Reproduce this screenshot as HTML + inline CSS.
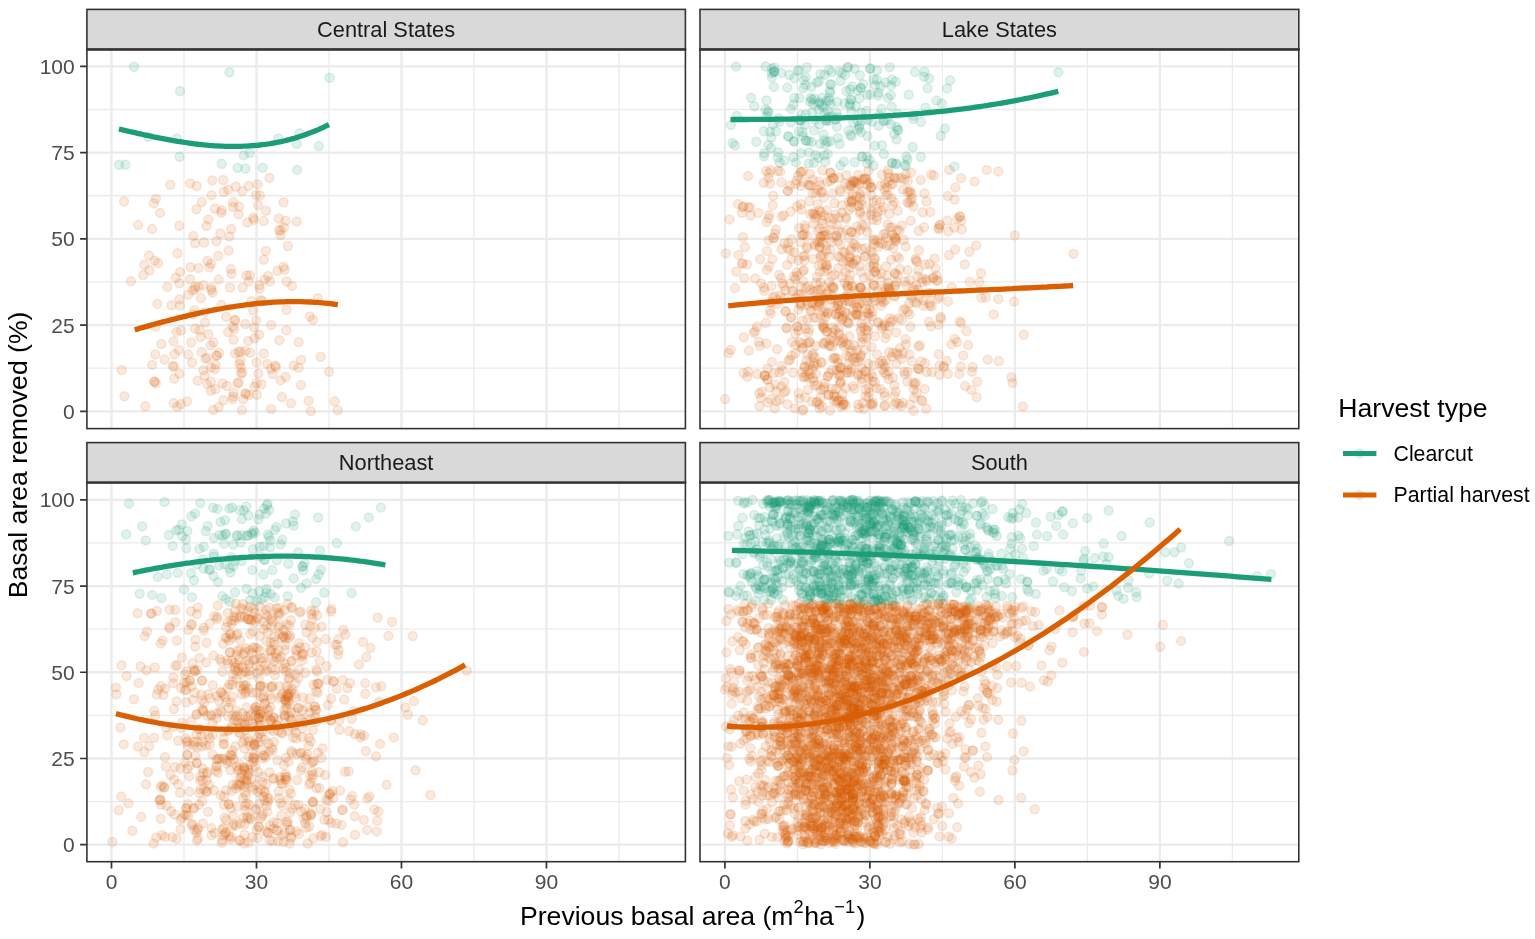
<!DOCTYPE html><html><head><meta charset="utf-8"><title>Basal area removed by previous basal area</title><style>
html,body{margin:0;padding:0;background:#fff;overflow:hidden}svg{display:block}
text{font-family:"Liberation Sans", Arial, Helvetica, sans-serif}
.pg circle{fill:#1B9E77;stroke:#1B9E77;fill-opacity:.13;stroke-opacity:.13;stroke-width:1.5px}
.po circle{fill:#D95F02;stroke:#D95F02;fill-opacity:.13;stroke-opacity:.13;stroke-width:1.5px}
</style></head><body>
<svg width="1535" height="939" viewBox="0 0 1535 939">
<rect width="1535" height="939" fill="#fff"/>
<defs>
<clipPath id="cp00"><rect x="86.9" y="49.3" width="598.5" height="379.3"/></clipPath>
<clipPath id="cp01"><rect x="700.0" y="49.3" width="598.8" height="379.3"/></clipPath>
<clipPath id="cp10"><rect x="86.9" y="482.4" width="598.5" height="379.3"/></clipPath>
<clipPath id="cp11"><rect x="700.0" y="482.4" width="598.8" height="379.3"/></clipPath>
</defs>
<path d="M86.9 368.19H685.4M86.9 281.96H685.4M86.9 195.74H685.4M86.9 109.51H685.4M184.00 49.3V428.6M328.99 49.3V428.6M473.98 49.3V428.6M618.97 49.3V428.6" stroke="#EBEBEB" stroke-width="1.3" fill="none"/>
<path d="M86.9 411.30H685.4M86.9 325.08H685.4M86.9 238.85H685.4M86.9 152.62H685.4M86.9 66.40H685.4M111.50 49.3V428.6M256.49 49.3V428.6M401.48 49.3V428.6M546.47 49.3V428.6" stroke="#EBEBEB" stroke-width="2.3" fill="none"/>
<g clip-path="url(#cp00)">
<g class="po">
<circle cx="193.1" cy="314.6" r="4.5"/><circle cx="180.9" cy="404.1" r="4.5"/><circle cx="256.4" cy="383.2" r="4.5"/><circle cx="231" cy="269.1" r="4.5"/><circle cx="254.3" cy="386.8" r="4.5"/><circle cx="192.1" cy="362.6" r="4.5"/><circle cx="271.1" cy="409" r="4.5"/><circle cx="242.3" cy="191.3" r="4.5"/><circle cx="250" cy="352.7" r="4.5"/><circle cx="264.6" cy="279.8" r="4.5"/><circle cx="155.9" cy="383.3" r="4.5"/><circle cx="232.6" cy="399" r="4.5"/><circle cx="200.5" cy="337" r="4.5"/><circle cx="259.9" cy="195.5" r="4.5"/><circle cx="247.5" cy="222.5" r="4.5"/><circle cx="155.9" cy="198.8" r="4.5"/><circle cx="228.2" cy="189.7" r="4.5"/><circle cx="291" cy="403.2" r="4.5"/><circle cx="239.5" cy="363.9" r="4.5"/><circle cx="205.5" cy="358.8" r="4.5"/><circle cx="144.3" cy="264.8" r="4.5"/><circle cx="228.6" cy="250.6" r="4.5"/><circle cx="229.4" cy="236.6" r="4.5"/><circle cx="238.7" cy="382.8" r="4.5"/><circle cx="223.2" cy="180" r="4.5"/><circle cx="279" cy="230" r="4.5"/><circle cx="180.1" cy="271.9" r="4.5"/><circle cx="233.2" cy="202.1" r="4.5"/><circle cx="208.4" cy="219.6" r="4.5"/><circle cx="240.9" cy="367.7" r="4.5"/><circle cx="233.3" cy="396.5" r="4.5"/><circle cx="277.5" cy="270.8" r="4.5"/><circle cx="231.2" cy="229" r="4.5"/><circle cx="258.1" cy="205.1" r="4.5"/><circle cx="245.2" cy="351" r="4.5"/><circle cx="204.7" cy="312" r="4.5"/><circle cx="179.5" cy="299.5" r="4.5"/><circle cx="212.3" cy="180.2" r="4.5"/><circle cx="204" cy="242.5" r="4.5"/><circle cx="192.5" cy="290.4" r="4.5"/><circle cx="205" cy="322.6" r="4.5"/><circle cx="216.7" cy="355.6" r="4.5"/><circle cx="206.5" cy="226.1" r="4.5"/><circle cx="246.1" cy="393.9" r="4.5"/><circle cx="218.7" cy="279.6" r="4.5"/><circle cx="218.2" cy="255.9" r="4.5"/><circle cx="263.7" cy="353.5" r="4.5"/><circle cx="154.6" cy="260.6" r="4.5"/><circle cx="211" cy="263.7" r="4.5"/><circle cx="248.3" cy="340.9" r="4.5"/><circle cx="220.3" cy="233.5" r="4.5"/><circle cx="284" cy="227.6" r="4.5"/><circle cx="269.5" cy="177.9" r="4.5"/><circle cx="261.4" cy="300" r="4.5"/><circle cx="269.9" cy="281.4" r="4.5"/><circle cx="158" cy="263" r="4.5"/><circle cx="284.7" cy="269.5" r="4.5"/><circle cx="188.2" cy="354.6" r="4.5"/><circle cx="201.7" cy="351.9" r="4.5"/><circle cx="268.1" cy="276" r="4.5"/><circle cx="275.2" cy="365.5" r="4.5"/><circle cx="241.9" cy="410.1" r="4.5"/><circle cx="211" cy="367.6" r="4.5"/><circle cx="218.7" cy="407" r="4.5"/><circle cx="320.6" cy="356.8" r="4.5"/><circle cx="179.4" cy="283.2" r="4.5"/><circle cx="153.8" cy="203.4" r="4.5"/><circle cx="280.6" cy="380.4" r="4.5"/><circle cx="161.4" cy="344" r="4.5"/><circle cx="238.5" cy="214.4" r="4.5"/><circle cx="237.4" cy="383.1" r="4.5"/><circle cx="308.5" cy="400.7" r="4.5"/><circle cx="213.2" cy="410.1" r="4.5"/><circle cx="226.2" cy="316.8" r="4.5"/><circle cx="207.2" cy="357.7" r="4.5"/><circle cx="181" cy="330.5" r="4.5"/><circle cx="207" cy="384.1" r="4.5"/><circle cx="223.8" cy="191.7" r="4.5"/><circle cx="176.4" cy="331.9" r="4.5"/><circle cx="278.8" cy="218.5" r="4.5"/><circle cx="152.2" cy="229" r="4.5"/><circle cx="195" cy="328.6" r="4.5"/><circle cx="258.4" cy="373.5" r="4.5"/><circle cx="230" cy="287.5" r="4.5"/><circle cx="209.3" cy="267.3" r="4.5"/><circle cx="121.8" cy="370" r="4.5"/><circle cx="235.1" cy="353.4" r="4.5"/><circle cx="235.8" cy="186.8" r="4.5"/><circle cx="254.2" cy="327.6" r="4.5"/><circle cx="280.8" cy="230.3" r="4.5"/><circle cx="256.6" cy="362.5" r="4.5"/><circle cx="270.8" cy="368.8" r="4.5"/><circle cx="313" cy="319.7" r="4.5"/><circle cx="210.8" cy="381.8" r="4.5"/><circle cx="286.4" cy="330.4" r="4.5"/><circle cx="239.1" cy="206.5" r="4.5"/><circle cx="210.6" cy="345.2" r="4.5"/><circle cx="189.9" cy="279.2" r="4.5"/><circle cx="195.1" cy="243.3" r="4.5"/><circle cx="281.9" cy="397" r="4.5"/><circle cx="309.8" cy="316.4" r="4.5"/><circle cx="283.5" cy="202.2" r="4.5"/><circle cx="310.8" cy="411.1" r="4.5"/><circle cx="177.5" cy="253.3" r="4.5"/><circle cx="215.3" cy="389" r="4.5"/><circle cx="255.9" cy="195" r="4.5"/><circle cx="231.5" cy="273.7" r="4.5"/><circle cx="243.2" cy="399.2" r="4.5"/><circle cx="179.5" cy="373.7" r="4.5"/><circle cx="296.7" cy="221.6" r="4.5"/><circle cx="154.4" cy="381.6" r="4.5"/><circle cx="246.7" cy="275.5" r="4.5"/><circle cx="187.2" cy="401.4" r="4.5"/><circle cx="194.4" cy="310.2" r="4.5"/><circle cx="173.6" cy="403.1" r="4.5"/><circle cx="263.7" cy="221.1" r="4.5"/><circle cx="198.5" cy="268" r="4.5"/><circle cx="261.4" cy="301.2" r="4.5"/><circle cx="226.7" cy="386" r="4.5"/><circle cx="197.6" cy="380.7" r="4.5"/><circle cx="241" cy="373.2" r="4.5"/><circle cx="317.7" cy="298.3" r="4.5"/><circle cx="174.1" cy="378.7" r="4.5"/><circle cx="256.2" cy="320.5" r="4.5"/><circle cx="233" cy="206.8" r="4.5"/><circle cx="213.5" cy="342.6" r="4.5"/><circle cx="216.5" cy="241.3" r="4.5"/><circle cx="172.7" cy="366.2" r="4.5"/><circle cx="286.6" cy="281.5" r="4.5"/><circle cx="190.5" cy="267.2" r="4.5"/><circle cx="257.6" cy="184.4" r="4.5"/><circle cx="152.2" cy="364.9" r="4.5"/><circle cx="160.2" cy="212.9" r="4.5"/><circle cx="248.9" cy="395" r="4.5"/><circle cx="155.8" cy="326.6" r="4.5"/><circle cx="170.4" cy="184.8" r="4.5"/><circle cx="253.8" cy="219.9" r="4.5"/><circle cx="215.5" cy="364.6" r="4.5"/><circle cx="198.2" cy="286.8" r="4.5"/><circle cx="240.3" cy="360.6" r="4.5"/><circle cx="207.4" cy="260.8" r="4.5"/><circle cx="145.3" cy="406.3" r="4.5"/><circle cx="188.2" cy="294.8" r="4.5"/><circle cx="210.9" cy="390.7" r="4.5"/><circle cx="253.2" cy="310.3" r="4.5"/><circle cx="190.2" cy="183.4" r="4.5"/><circle cx="178.9" cy="349.9" r="4.5"/><circle cx="254.6" cy="338.3" r="4.5"/><circle cx="266.1" cy="210.7" r="4.5"/><circle cx="171.5" cy="305.3" r="4.5"/><circle cx="223.5" cy="400.3" r="4.5"/><circle cx="204.7" cy="375.6" r="4.5"/><circle cx="194.9" cy="286.6" r="4.5"/><circle cx="261.5" cy="384.2" r="4.5"/><circle cx="293.6" cy="365.5" r="4.5"/><circle cx="300.9" cy="385.1" r="4.5"/><circle cx="242.7" cy="287.5" r="4.5"/><circle cx="298.6" cy="342.1" r="4.5"/><circle cx="201.8" cy="202.1" r="4.5"/><circle cx="191.3" cy="342.5" r="4.5"/><circle cx="177.3" cy="406.8" r="4.5"/><circle cx="248.8" cy="281.2" r="4.5"/><circle cx="179.3" cy="225.7" r="4.5"/><circle cx="124.4" cy="396.2" r="4.5"/><circle cx="154.4" cy="381.6" r="4.5"/><circle cx="292" cy="285.9" r="4.5"/><circle cx="214.9" cy="369.1" r="4.5"/><circle cx="155.3" cy="354.4" r="4.5"/><circle cx="272.6" cy="374" r="4.5"/><circle cx="285.6" cy="220.8" r="4.5"/><circle cx="221.4" cy="305.1" r="4.5"/><circle cx="180" cy="305.6" r="4.5"/><circle cx="173.4" cy="341.3" r="4.5"/><circle cx="222.5" cy="383.3" r="4.5"/><circle cx="248.6" cy="185.9" r="4.5"/><circle cx="143.2" cy="275.1" r="4.5"/><circle cx="228.1" cy="332.1" r="4.5"/><circle cx="174" cy="366.2" r="4.5"/><circle cx="212.6" cy="292.5" r="4.5"/><circle cx="256.9" cy="394.8" r="4.5"/><circle cx="130.9" cy="281.3" r="4.5"/><circle cx="238.8" cy="351.7" r="4.5"/><circle cx="253.2" cy="217.8" r="4.5"/><circle cx="234.2" cy="329.3" r="4.5"/><circle cx="263.7" cy="259.8" r="4.5"/><circle cx="267.1" cy="363.9" r="4.5"/><circle cx="149.5" cy="270.3" r="4.5"/><circle cx="167.3" cy="286.7" r="4.5"/><circle cx="242.3" cy="372.7" r="4.5"/><circle cx="203.5" cy="285.3" r="4.5"/><circle cx="245.4" cy="324.1" r="4.5"/><circle cx="235" cy="320.1" r="4.5"/><circle cx="157.4" cy="303.9" r="4.5"/><circle cx="208.4" cy="334.2" r="4.5"/><circle cx="275.8" cy="367.1" r="4.5"/><circle cx="211.3" cy="290" r="4.5"/><circle cx="194.8" cy="289.2" r="4.5"/><circle cx="301.1" cy="359.7" r="4.5"/><circle cx="211.6" cy="195.2" r="4.5"/><circle cx="329" cy="371.7" r="4.5"/><circle cx="219.2" cy="352.8" r="4.5"/><circle cx="138.1" cy="225.1" r="4.5"/><circle cx="285.8" cy="376.9" r="4.5"/><circle cx="265.9" cy="251" r="4.5"/><circle cx="287.8" cy="246" r="4.5"/><circle cx="286.5" cy="309.7" r="4.5"/><circle cx="259.8" cy="288.7" r="4.5"/><circle cx="193.3" cy="235.9" r="4.5"/><circle cx="214.8" cy="208.7" r="4.5"/><circle cx="196.7" cy="186" r="4.5"/><circle cx="232.9" cy="326.6" r="4.5"/><circle cx="298.7" cy="367.7" r="4.5"/><circle cx="283.4" cy="266.8" r="4.5"/><circle cx="175.8" cy="277.8" r="4.5"/><circle cx="211.3" cy="287.5" r="4.5"/><circle cx="196.4" cy="209.3" r="4.5"/><circle cx="203.5" cy="370.2" r="4.5"/><circle cx="245.3" cy="393.3" r="4.5"/><circle cx="221.7" cy="210.2" r="4.5"/><circle cx="216.7" cy="355.6" r="4.5"/><circle cx="251.5" cy="301.2" r="4.5"/><circle cx="259.2" cy="334.8" r="4.5"/><circle cx="199.8" cy="330.1" r="4.5"/><circle cx="259.1" cy="285" r="4.5"/><circle cx="240.4" cy="351.8" r="4.5"/><circle cx="149.1" cy="255.6" r="4.5"/><circle cx="233.6" cy="339.7" r="4.5"/><circle cx="249.9" cy="275.2" r="4.5"/><circle cx="164.6" cy="359.6" r="4.5"/><circle cx="279.3" cy="340.3" r="4.5"/><circle cx="235" cy="320.1" r="4.5"/><circle cx="221.2" cy="212.7" r="4.5"/><circle cx="271.2" cy="325" r="4.5"/><circle cx="124.1" cy="201.5" r="4.5"/><circle cx="200.9" cy="298.1" r="4.5"/><circle cx="280.4" cy="235.1" r="4.5"/><circle cx="233.5" cy="392.9" r="4.5"/><circle cx="174.6" cy="354.3" r="4.5"/><circle cx="334.8" cy="401.3" r="4.5"/><circle cx="337.7" cy="410.3" r="4.5"/>
</g>
<g class="pg">
<circle cx="134" cy="66.7" r="4.5"/><circle cx="229.4" cy="72.3" r="4.5"/><circle cx="329.5" cy="77.8" r="4.5"/><circle cx="180.1" cy="91.2" r="4.5"/><circle cx="119" cy="164.7" r="4.5"/><circle cx="125.5" cy="164.7" r="4.5"/><circle cx="148.2" cy="137.1" r="4.5"/><circle cx="176.7" cy="138.5" r="4.5"/><circle cx="179.6" cy="156.8" r="4.5"/><circle cx="221.7" cy="163.7" r="4.5"/><circle cx="237.6" cy="167.8" r="4.5"/><circle cx="245.4" cy="168.5" r="4.5"/><circle cx="243.9" cy="155.4" r="4.5"/><circle cx="249.7" cy="153" r="4.5"/><circle cx="262.8" cy="167.8" r="4.5"/><circle cx="278.2" cy="138.5" r="4.5"/><circle cx="296.6" cy="143.7" r="4.5"/><circle cx="299.5" cy="133.3" r="4.5"/><circle cx="318.8" cy="146.1" r="4.5"/><circle cx="297.1" cy="169.9" r="4.5"/>
</g>
</g>
<path d="M118.9 129.0 L121.6 129.6 L124.2 130.2 L126.9 130.9 L129.5 131.5 L132.2 132.1 L134.9 132.7 L137.5 133.3 L140.2 133.9 L142.8 134.5 L145.5 135.1 L148.2 135.7 L150.8 136.2 L153.5 136.8 L156.1 137.3 L158.8 137.9 L161.5 138.4 L164.1 138.9 L166.8 139.4 L169.4 139.9 L172.1 140.4 L174.7 140.8 L177.4 141.3 L180.1 141.7 L182.7 142.1 L185.4 142.5 L188.0 142.9 L190.7 143.3 L193.4 143.7 L196.0 144.0 L198.7 144.3 L201.3 144.6 L204.0 144.9 L206.7 145.1 L209.3 145.4 L212.0 145.6 L214.6 145.8 L217.3 145.9 L220.0 146.1 L222.6 146.2 L225.3 146.3 L227.9 146.4 L230.6 146.4 L233.3 146.4 L235.9 146.4 L238.6 146.4 L241.2 146.3 L243.9 146.2 L246.6 146.1 L249.2 145.9 L251.9 145.7 L254.5 145.5 L257.2 145.3 L259.9 145.0 L262.5 144.7 L265.2 144.4 L267.8 144.0 L270.5 143.6 L273.2 143.1 L275.8 142.6 L278.5 142.1 L281.1 141.6 L283.8 141.0 L286.4 140.3 L289.1 139.7 L291.8 138.9 L294.4 138.2 L297.1 137.4 L299.7 136.6 L302.4 135.7 L305.1 134.8 L307.7 133.8 L310.4 132.8 L313.0 131.8 L315.7 130.7 L318.4 129.6 L321.0 128.4 L323.7 127.2 L326.3 125.9 L329.0 124.6" stroke="#1B9E77" stroke-width="5.3" fill="none"/>
<path d="M134.7 329.8 L137.3 329.1 L139.8 328.3 L142.4 327.6 L145.0 326.9 L147.6 326.1 L150.1 325.4 L152.7 324.7 L155.3 324.0 L157.8 323.3 L160.4 322.6 L163.0 321.9 L165.6 321.2 L168.1 320.6 L170.7 319.9 L173.3 319.2 L175.9 318.6 L178.4 317.9 L181.0 317.3 L183.6 316.7 L186.1 316.1 L188.7 315.4 L191.3 314.8 L193.9 314.3 L196.4 313.7 L199.0 313.1 L201.6 312.5 L204.1 312.0 L206.7 311.5 L209.3 310.9 L211.9 310.4 L214.4 309.9 L217.0 309.4 L219.6 309.0 L222.2 308.5 L224.7 308.0 L227.3 307.6 L229.9 307.2 L232.4 306.8 L235.0 306.4 L237.6 306.0 L240.2 305.6 L242.7 305.3 L245.3 304.9 L247.9 304.6 L250.4 304.3 L253.0 304.0 L255.6 303.7 L258.2 303.4 L260.7 303.2 L263.3 303.0 L265.9 302.8 L268.5 302.6 L271.0 302.4 L273.6 302.2 L276.2 302.1 L278.7 301.9 L281.3 301.8 L283.9 301.8 L286.5 301.7 L289.0 301.6 L291.6 301.6 L294.2 301.6 L296.7 301.6 L299.3 301.6 L301.9 301.7 L304.5 301.8 L307.0 301.9 L309.6 302.0 L312.2 302.1 L314.8 302.3 L317.3 302.4 L319.9 302.6 L322.5 302.9 L325.0 303.1 L327.6 303.4 L330.2 303.7 L332.8 304.0 L335.3 304.3 L337.9 304.7" stroke="#D95F02" stroke-width="5.3" fill="none"/>
<rect x="86.9" y="49.3" width="598.5" height="379.3" fill="none" stroke="#333" stroke-width="1.6"/>
<rect x="86.9" y="9.4" width="598.5" height="39.9" fill="#D9D9D9" stroke="#333" stroke-width="1.6"/>
<path d="M86.1 49.5H686.2" stroke="#333" stroke-width="2.4"/>
<text x="386.1" y="36.9" font-size="21.8" fill="#1A1A1A" text-anchor="middle">Central States</text>
<path d="M700.0 368.19H1298.8M700.0 281.96H1298.8M700.0 195.74H1298.8M700.0 109.51H1298.8M797.39 49.3V428.6M942.38 49.3V428.6M1087.38 49.3V428.6M1232.37 49.3V428.6" stroke="#EBEBEB" stroke-width="1.3" fill="none"/>
<path d="M700.0 411.30H1298.8M700.0 325.08H1298.8M700.0 238.85H1298.8M700.0 152.62H1298.8M700.0 66.40H1298.8M724.90 49.3V428.6M869.89 49.3V428.6M1014.88 49.3V428.6M1159.87 49.3V428.6" stroke="#EBEBEB" stroke-width="2.3" fill="none"/>
<g clip-path="url(#cp01)">
<g class="po">
<circle cx="823.2" cy="343.1" r="4.5"/><circle cx="876.6" cy="200.5" r="4.5"/><circle cx="926.4" cy="279.2" r="4.5"/><circle cx="882.7" cy="243.9" r="4.5"/><circle cx="820.7" cy="236.7" r="4.5"/><circle cx="771.6" cy="285.8" r="4.5"/><circle cx="830.5" cy="172.7" r="4.5"/><circle cx="872.8" cy="405.6" r="4.5"/><circle cx="868.2" cy="377.9" r="4.5"/><circle cx="881" cy="185.4" r="4.5"/><circle cx="924.3" cy="193.3" r="4.5"/><circle cx="815.9" cy="305.2" r="4.5"/><circle cx="859.9" cy="287.7" r="4.5"/><circle cx="865.5" cy="248" r="4.5"/><circle cx="884.4" cy="323.9" r="4.5"/><circle cx="965.1" cy="386.1" r="4.5"/><circle cx="852" cy="285.5" r="4.5"/><circle cx="817.4" cy="401.8" r="4.5"/><circle cx="914.4" cy="302.3" r="4.5"/><circle cx="864.6" cy="256.9" r="4.5"/><circle cx="845.3" cy="183.6" r="4.5"/><circle cx="820.6" cy="256.7" r="4.5"/><circle cx="922.7" cy="212.3" r="4.5"/><circle cx="883.2" cy="363.7" r="4.5"/><circle cx="839.2" cy="334.9" r="4.5"/><circle cx="907.3" cy="202.3" r="4.5"/><circle cx="805.4" cy="329" r="4.5"/><circle cx="804" cy="270.1" r="4.5"/><circle cx="821.1" cy="254.9" r="4.5"/><circle cx="897.2" cy="230" r="4.5"/><circle cx="853.1" cy="358.9" r="4.5"/><circle cx="947.9" cy="196.1" r="4.5"/><circle cx="831" cy="299.6" r="4.5"/><circle cx="738" cy="203.9" r="4.5"/><circle cx="840.1" cy="257.4" r="4.5"/><circle cx="840.1" cy="367.2" r="4.5"/><circle cx="885.9" cy="195.1" r="4.5"/><circle cx="829.1" cy="345.5" r="4.5"/><circle cx="954.3" cy="227.7" r="4.5"/><circle cx="859" cy="358.3" r="4.5"/><circle cx="767.3" cy="379.6" r="4.5"/><circle cx="852.2" cy="263.2" r="4.5"/><circle cx="729.6" cy="219.4" r="4.5"/><circle cx="910.9" cy="201" r="4.5"/><circle cx="848.4" cy="323.2" r="4.5"/><circle cx="795.1" cy="408.2" r="4.5"/><circle cx="911.8" cy="361.3" r="4.5"/><circle cx="832.7" cy="286.8" r="4.5"/><circle cx="852.2" cy="287.1" r="4.5"/><circle cx="855.7" cy="357.4" r="4.5"/><circle cx="895.7" cy="239.7" r="4.5"/><circle cx="838.9" cy="333.5" r="4.5"/><circle cx="909.3" cy="354.2" r="4.5"/><circle cx="791.1" cy="317.4" r="4.5"/><circle cx="892.9" cy="319.7" r="4.5"/><circle cx="943.8" cy="366.6" r="4.5"/><circle cx="840.4" cy="367.8" r="4.5"/><circle cx="823.3" cy="297.1" r="4.5"/><circle cx="938.9" cy="354.3" r="4.5"/><circle cx="844.7" cy="252.7" r="4.5"/><circle cx="822.5" cy="170.3" r="4.5"/><circle cx="833.9" cy="341.6" r="4.5"/><circle cx="913.7" cy="410.8" r="4.5"/><circle cx="786.6" cy="328.1" r="4.5"/><circle cx="815.3" cy="291.4" r="4.5"/><circle cx="810" cy="174" r="4.5"/><circle cx="816.2" cy="282.5" r="4.5"/><circle cx="830" cy="339.7" r="4.5"/><circle cx="858.9" cy="408.1" r="4.5"/><circle cx="857" cy="350.2" r="4.5"/><circle cx="868.4" cy="397.2" r="4.5"/><circle cx="840.4" cy="382.6" r="4.5"/><circle cx="777.8" cy="300.3" r="4.5"/><circle cx="939" cy="227.7" r="4.5"/><circle cx="765.7" cy="323" r="4.5"/><circle cx="919.9" cy="345.2" r="4.5"/><circle cx="916.9" cy="261.5" r="4.5"/><circle cx="851.6" cy="247.4" r="4.5"/><circle cx="806.7" cy="246.6" r="4.5"/><circle cx="969.4" cy="251.8" r="4.5"/><circle cx="820.5" cy="300.4" r="4.5"/><circle cx="881.9" cy="361" r="4.5"/><circle cx="909.4" cy="192.2" r="4.5"/><circle cx="873.1" cy="402.7" r="4.5"/><circle cx="846.4" cy="344.1" r="4.5"/><circle cx="779.3" cy="372.6" r="4.5"/><circle cx="797.5" cy="326.4" r="4.5"/><circle cx="797.3" cy="275.7" r="4.5"/><circle cx="830" cy="345.9" r="4.5"/><circle cx="824.9" cy="271.5" r="4.5"/><circle cx="858.1" cy="314.6" r="4.5"/><circle cx="824.1" cy="344" r="4.5"/><circle cx="918.5" cy="346.4" r="4.5"/><circle cx="961.8" cy="229.2" r="4.5"/><circle cx="801" cy="305.7" r="4.5"/><circle cx="895" cy="286.2" r="4.5"/><circle cx="894.6" cy="295.8" r="4.5"/><circle cx="784.5" cy="297.8" r="4.5"/><circle cx="772.7" cy="297.4" r="4.5"/><circle cx="877.2" cy="240.5" r="4.5"/><circle cx="781.3" cy="366.1" r="4.5"/><circle cx="901.7" cy="319.7" r="4.5"/><circle cx="850.7" cy="300.9" r="4.5"/><circle cx="890.2" cy="227.5" r="4.5"/><circle cx="847" cy="229.7" r="4.5"/><circle cx="842.9" cy="261.9" r="4.5"/><circle cx="877.1" cy="274.2" r="4.5"/><circle cx="834.7" cy="274.8" r="4.5"/><circle cx="814.6" cy="243.9" r="4.5"/><circle cx="840" cy="374.6" r="4.5"/><circle cx="847.4" cy="285.7" r="4.5"/><circle cx="885.9" cy="360.6" r="4.5"/><circle cx="787.1" cy="264.9" r="4.5"/><circle cx="895.4" cy="285" r="4.5"/><circle cx="902.9" cy="353.2" r="4.5"/><circle cx="758.8" cy="341.7" r="4.5"/><circle cx="812.6" cy="355.5" r="4.5"/><circle cx="951.7" cy="287.5" r="4.5"/><circle cx="880.9" cy="298.9" r="4.5"/><circle cx="867.5" cy="184.3" r="4.5"/><circle cx="862.4" cy="316.3" r="4.5"/><circle cx="838.1" cy="305" r="4.5"/><circle cx="797.9" cy="175.9" r="4.5"/><circle cx="823.3" cy="298.9" r="4.5"/><circle cx="827.3" cy="331.6" r="4.5"/><circle cx="798.8" cy="294.4" r="4.5"/><circle cx="781.5" cy="249.2" r="4.5"/><circle cx="886.1" cy="266.4" r="4.5"/><circle cx="768.7" cy="240.2" r="4.5"/><circle cx="770.7" cy="301.9" r="4.5"/><circle cx="839.5" cy="375.8" r="4.5"/><circle cx="861.8" cy="342.3" r="4.5"/><circle cx="777" cy="304.1" r="4.5"/><circle cx="853.4" cy="310.3" r="4.5"/><circle cx="844.1" cy="297.5" r="4.5"/><circle cx="837.9" cy="400.7" r="4.5"/><circle cx="771.2" cy="302.9" r="4.5"/><circle cx="948" cy="373.9" r="4.5"/><circle cx="898.9" cy="318.5" r="4.5"/><circle cx="910.8" cy="220.8" r="4.5"/><circle cx="964.7" cy="264.4" r="4.5"/><circle cx="822.4" cy="223.2" r="4.5"/><circle cx="738.6" cy="254.9" r="4.5"/><circle cx="858.2" cy="404.5" r="4.5"/><circle cx="803.9" cy="295.5" r="4.5"/><circle cx="915.6" cy="259" r="4.5"/><circle cx="795.5" cy="333.6" r="4.5"/><circle cx="805.2" cy="228.3" r="4.5"/><circle cx="926.9" cy="281.3" r="4.5"/><circle cx="860.9" cy="287.7" r="4.5"/><circle cx="857.2" cy="307.6" r="4.5"/><circle cx="799.9" cy="303.4" r="4.5"/><circle cx="868.6" cy="316.7" r="4.5"/><circle cx="871.1" cy="186.9" r="4.5"/><circle cx="929.6" cy="264.1" r="4.5"/><circle cx="884.1" cy="405.9" r="4.5"/><circle cx="855.7" cy="232.8" r="4.5"/><circle cx="954.8" cy="338.8" r="4.5"/><circle cx="871.5" cy="187.5" r="4.5"/><circle cx="1023.8" cy="334.7" r="4.5"/><circle cx="805.4" cy="397.4" r="4.5"/><circle cx="925.1" cy="264.6" r="4.5"/><circle cx="842.9" cy="251.7" r="4.5"/><circle cx="981.4" cy="297.9" r="4.5"/><circle cx="865.3" cy="308.5" r="4.5"/><circle cx="765.1" cy="375.3" r="4.5"/><circle cx="853.7" cy="264" r="4.5"/><circle cx="881.7" cy="301.5" r="4.5"/><circle cx="871.4" cy="195.3" r="4.5"/><circle cx="931.2" cy="293" r="4.5"/><circle cx="800.8" cy="172.1" r="4.5"/><circle cx="846.1" cy="218.9" r="4.5"/><circle cx="899.2" cy="403.9" r="4.5"/><circle cx="913.4" cy="382.7" r="4.5"/><circle cx="815.8" cy="193.1" r="4.5"/><circle cx="918.9" cy="250.3" r="4.5"/><circle cx="827.4" cy="312.5" r="4.5"/><circle cx="966.5" cy="331.1" r="4.5"/><circle cx="854.5" cy="180.7" r="4.5"/><circle cx="839.1" cy="177.7" r="4.5"/><circle cx="874.6" cy="259.2" r="4.5"/><circle cx="766.9" cy="269.9" r="4.5"/><circle cx="852.8" cy="386.1" r="4.5"/><circle cx="802.6" cy="347.6" r="4.5"/><circle cx="957.2" cy="342" r="4.5"/><circle cx="901.1" cy="406.2" r="4.5"/><circle cx="800.6" cy="286.4" r="4.5"/><circle cx="881.3" cy="281.4" r="4.5"/><circle cx="817.6" cy="204.2" r="4.5"/><circle cx="781.6" cy="216.8" r="4.5"/><circle cx="819.3" cy="304.7" r="4.5"/><circle cx="838.2" cy="304.9" r="4.5"/><circle cx="742.6" cy="263.9" r="4.5"/><circle cx="817.6" cy="231.4" r="4.5"/><circle cx="787.8" cy="190.9" r="4.5"/><circle cx="809.5" cy="342.2" r="4.5"/><circle cx="918.4" cy="270.1" r="4.5"/><circle cx="823.8" cy="312.6" r="4.5"/><circle cx="826.5" cy="234.5" r="4.5"/><circle cx="844.5" cy="282.8" r="4.5"/><circle cx="854.6" cy="303.8" r="4.5"/><circle cx="832.5" cy="296" r="4.5"/><circle cx="878" cy="291" r="4.5"/><circle cx="820.8" cy="389.6" r="4.5"/><circle cx="939.8" cy="225.1" r="4.5"/><circle cx="816.4" cy="402.4" r="4.5"/><circle cx="883.3" cy="207.5" r="4.5"/><circle cx="824.5" cy="231.8" r="4.5"/><circle cx="743.1" cy="206.8" r="4.5"/><circle cx="849" cy="210.1" r="4.5"/><circle cx="775.3" cy="384.6" r="4.5"/><circle cx="837.3" cy="373.4" r="4.5"/><circle cx="839.2" cy="313.5" r="4.5"/><circle cx="800.8" cy="204.3" r="4.5"/><circle cx="906.4" cy="285.2" r="4.5"/><circle cx="801.5" cy="209.6" r="4.5"/><circle cx="888.3" cy="287" r="4.5"/><circle cx="800.8" cy="172.1" r="4.5"/><circle cx="870.8" cy="374.1" r="4.5"/><circle cx="895.1" cy="273.8" r="4.5"/><circle cx="809" cy="185" r="4.5"/><circle cx="872.8" cy="377.1" r="4.5"/><circle cx="919.4" cy="369.6" r="4.5"/><circle cx="851.3" cy="232" r="4.5"/><circle cx="918" cy="368.6" r="4.5"/><circle cx="898.3" cy="177.9" r="4.5"/><circle cx="785.6" cy="311.3" r="4.5"/><circle cx="861.8" cy="204.5" r="4.5"/><circle cx="888.2" cy="173.6" r="4.5"/><circle cx="923.5" cy="305.9" r="4.5"/><circle cx="829.4" cy="229.7" r="4.5"/><circle cx="743.1" cy="206.8" r="4.5"/><circle cx="929" cy="321.7" r="4.5"/><circle cx="841.9" cy="232.6" r="4.5"/><circle cx="846.7" cy="372.6" r="4.5"/><circle cx="977.2" cy="381.7" r="4.5"/><circle cx="813.9" cy="317.9" r="4.5"/><circle cx="899.2" cy="258.4" r="4.5"/><circle cx="851.5" cy="200.1" r="4.5"/><circle cx="854.2" cy="345.5" r="4.5"/><circle cx="828.5" cy="394.7" r="4.5"/><circle cx="840.6" cy="244.7" r="4.5"/><circle cx="866.8" cy="179.3" r="4.5"/><circle cx="1014.1" cy="301.6" r="4.5"/><circle cx="767.3" cy="379.6" r="4.5"/><circle cx="807" cy="343.3" r="4.5"/><circle cx="891.2" cy="259.8" r="4.5"/><circle cx="852.7" cy="194.2" r="4.5"/><circle cx="769" cy="266.2" r="4.5"/><circle cx="789.9" cy="359.7" r="4.5"/><circle cx="916.6" cy="302.9" r="4.5"/><circle cx="816.9" cy="277" r="4.5"/><circle cx="838.8" cy="231.3" r="4.5"/><circle cx="780.4" cy="295.6" r="4.5"/><circle cx="882.9" cy="291.8" r="4.5"/><circle cx="885.5" cy="288.5" r="4.5"/><circle cx="949" cy="255.1" r="4.5"/><circle cx="916.3" cy="285.2" r="4.5"/><circle cx="914.4" cy="289.9" r="4.5"/><circle cx="832.4" cy="346.5" r="4.5"/><circle cx="836.6" cy="308.5" r="4.5"/><circle cx="749.9" cy="207.3" r="4.5"/><circle cx="839.2" cy="400.4" r="4.5"/><circle cx="896.7" cy="282.1" r="4.5"/><circle cx="862.1" cy="378.8" r="4.5"/><circle cx="914.2" cy="397.6" r="4.5"/><circle cx="777" cy="349.3" r="4.5"/><circle cx="819.7" cy="247.1" r="4.5"/><circle cx="838.8" cy="217.7" r="4.5"/><circle cx="783.7" cy="215.2" r="4.5"/><circle cx="874.5" cy="285.3" r="4.5"/><circle cx="829.2" cy="282.2" r="4.5"/><circle cx="846.4" cy="295.9" r="4.5"/><circle cx="889.3" cy="245.6" r="4.5"/><circle cx="911.6" cy="193.7" r="4.5"/><circle cx="750.7" cy="215.4" r="4.5"/><circle cx="825.6" cy="266.8" r="4.5"/><circle cx="851.1" cy="186.1" r="4.5"/><circle cx="873.7" cy="266.7" r="4.5"/><circle cx="830.3" cy="249.6" r="4.5"/><circle cx="754.9" cy="331.1" r="4.5"/><circle cx="791.6" cy="259" r="4.5"/><circle cx="822.1" cy="191.2" r="4.5"/><circle cx="856.9" cy="183.3" r="4.5"/><circle cx="853.5" cy="243.6" r="4.5"/><circle cx="873.3" cy="240.2" r="4.5"/><circle cx="851.3" cy="232" r="4.5"/><circle cx="913.4" cy="206.5" r="4.5"/><circle cx="922.3" cy="401" r="4.5"/><circle cx="852.5" cy="315.7" r="4.5"/><circle cx="748.1" cy="371.6" r="4.5"/><circle cx="831.2" cy="286.7" r="4.5"/><circle cx="860.3" cy="287.2" r="4.5"/><circle cx="825.6" cy="341.9" r="4.5"/><circle cx="894.3" cy="385.5" r="4.5"/><circle cx="859.9" cy="194.2" r="4.5"/><circle cx="845.8" cy="217.2" r="4.5"/><circle cx="842" cy="277" r="4.5"/><circle cx="885.4" cy="338" r="4.5"/><circle cx="870.9" cy="187.6" r="4.5"/><circle cx="833.9" cy="401" r="4.5"/><circle cx="815.3" cy="218" r="4.5"/><circle cx="889.4" cy="177.3" r="4.5"/><circle cx="870.7" cy="250.8" r="4.5"/><circle cx="862" cy="368.3" r="4.5"/><circle cx="842.8" cy="318.3" r="4.5"/><circle cx="875" cy="336.2" r="4.5"/><circle cx="976.3" cy="245.5" r="4.5"/><circle cx="811.3" cy="310.3" r="4.5"/><circle cx="845.7" cy="388" r="4.5"/><circle cx="869.9" cy="309.7" r="4.5"/><circle cx="807.3" cy="248.3" r="4.5"/><circle cx="796.8" cy="206.4" r="4.5"/><circle cx="907.8" cy="180.9" r="4.5"/><circle cx="834.4" cy="203.3" r="4.5"/><circle cx="838.3" cy="268" r="4.5"/><circle cx="836.2" cy="388.7" r="4.5"/><circle cx="817.5" cy="306.2" r="4.5"/><circle cx="882" cy="328.7" r="4.5"/><circle cx="825.6" cy="316.5" r="4.5"/><circle cx="818.7" cy="181.4" r="4.5"/><circle cx="905" cy="374.4" r="4.5"/><circle cx="821.8" cy="362.6" r="4.5"/><circle cx="879.5" cy="363.3" r="4.5"/><circle cx="820.4" cy="237.1" r="4.5"/><circle cx="792.9" cy="372.8" r="4.5"/><circle cx="843.1" cy="338.4" r="4.5"/><circle cx="929.5" cy="303.2" r="4.5"/><circle cx="887" cy="275.6" r="4.5"/><circle cx="834.3" cy="306" r="4.5"/><circle cx="794.4" cy="252.3" r="4.5"/><circle cx="841.3" cy="406.5" r="4.5"/><circle cx="850" cy="257.8" r="4.5"/><circle cx="889.8" cy="318.3" r="4.5"/><circle cx="784.2" cy="243.5" r="4.5"/><circle cx="836.6" cy="402.8" r="4.5"/><circle cx="957.4" cy="218.6" r="4.5"/><circle cx="918" cy="368.6" r="4.5"/><circle cx="851.9" cy="350.4" r="4.5"/><circle cx="868.4" cy="363.7" r="4.5"/><circle cx="848.9" cy="344.9" r="4.5"/><circle cx="847.1" cy="261.6" r="4.5"/><circle cx="863.9" cy="278.1" r="4.5"/><circle cx="867.9" cy="300.9" r="4.5"/><circle cx="837.3" cy="224.6" r="4.5"/><circle cx="834.1" cy="396.4" r="4.5"/><circle cx="976.8" cy="397.3" r="4.5"/><circle cx="809" cy="329.3" r="4.5"/><circle cx="867.5" cy="232" r="4.5"/><circle cx="963.3" cy="355.5" r="4.5"/><circle cx="918.6" cy="297.6" r="4.5"/><circle cx="887.9" cy="194.7" r="4.5"/><circle cx="847.9" cy="369.9" r="4.5"/><circle cx="806.2" cy="287.8" r="4.5"/><circle cx="832.2" cy="370.1" r="4.5"/><circle cx="801.7" cy="304" r="4.5"/><circle cx="833.6" cy="178.3" r="4.5"/><circle cx="829.5" cy="256.5" r="4.5"/><circle cx="795.8" cy="297.9" r="4.5"/><circle cx="861.7" cy="249" r="4.5"/><circle cx="836" cy="314.2" r="4.5"/><circle cx="885.1" cy="405.5" r="4.5"/><circle cx="917.6" cy="276.2" r="4.5"/><circle cx="887.7" cy="224.6" r="4.5"/><circle cx="912" cy="198.3" r="4.5"/><circle cx="810.9" cy="185.7" r="4.5"/><circle cx="803.4" cy="409.5" r="4.5"/><circle cx="789.9" cy="185.6" r="4.5"/><circle cx="972" cy="371.7" r="4.5"/><circle cx="819.7" cy="247.1" r="4.5"/><circle cx="864.9" cy="178.4" r="4.5"/><circle cx="987.8" cy="359.5" r="4.5"/><circle cx="901.4" cy="178" r="4.5"/><circle cx="743.7" cy="337.3" r="4.5"/><circle cx="870.9" cy="214.8" r="4.5"/><circle cx="755.1" cy="278.4" r="4.5"/><circle cx="894.7" cy="296.6" r="4.5"/><circle cx="897.7" cy="210.7" r="4.5"/><circle cx="955.5" cy="187.6" r="4.5"/><circle cx="860.2" cy="211.5" r="4.5"/><circle cx="770.8" cy="313.8" r="4.5"/><circle cx="826.2" cy="331.5" r="4.5"/><circle cx="795.7" cy="344.9" r="4.5"/><circle cx="803.1" cy="377" r="4.5"/><circle cx="849.5" cy="256.8" r="4.5"/><circle cx="791.7" cy="355.6" r="4.5"/><circle cx="781.4" cy="386.6" r="4.5"/><circle cx="959.4" cy="373.9" r="4.5"/><circle cx="837.9" cy="241.2" r="4.5"/><circle cx="820.8" cy="362.5" r="4.5"/><circle cx="869.2" cy="392.6" r="4.5"/><circle cx="882.3" cy="296.7" r="4.5"/><circle cx="768.7" cy="178.1" r="4.5"/><circle cx="795.4" cy="353.4" r="4.5"/><circle cx="834.3" cy="358.3" r="4.5"/><circle cx="867.2" cy="312.8" r="4.5"/><circle cx="802.9" cy="271.1" r="4.5"/><circle cx="833.6" cy="287.4" r="4.5"/><circle cx="824.5" cy="235.6" r="4.5"/><circle cx="921.4" cy="361.4" r="4.5"/><circle cx="856.8" cy="196.5" r="4.5"/><circle cx="763.9" cy="287.6" r="4.5"/><circle cx="847" cy="321.7" r="4.5"/><circle cx="874.6" cy="239.2" r="4.5"/><circle cx="905.8" cy="174.1" r="4.5"/><circle cx="802.1" cy="235.4" r="4.5"/><circle cx="822.3" cy="264.3" r="4.5"/><circle cx="868.4" cy="170.5" r="4.5"/><circle cx="907.5" cy="191.9" r="4.5"/><circle cx="850.4" cy="250.7" r="4.5"/><circle cx="846.4" cy="355.5" r="4.5"/><circle cx="940.7" cy="318.8" r="4.5"/><circle cx="791.9" cy="341.9" r="4.5"/><circle cx="892.3" cy="234.4" r="4.5"/><circle cx="905.4" cy="308.9" r="4.5"/><circle cx="819.5" cy="210.5" r="4.5"/><circle cx="815.3" cy="245.9" r="4.5"/><circle cx="884.7" cy="396.3" r="4.5"/><circle cx="860.9" cy="355" r="4.5"/><circle cx="878.2" cy="322" r="4.5"/><circle cx="889.8" cy="291.9" r="4.5"/><circle cx="918" cy="289.7" r="4.5"/><circle cx="814" cy="365.5" r="4.5"/><circle cx="921.3" cy="399.9" r="4.5"/><circle cx="742.9" cy="237.2" r="4.5"/><circle cx="833.2" cy="358.4" r="4.5"/><circle cx="861.4" cy="327.8" r="4.5"/><circle cx="909.4" cy="280.1" r="4.5"/><circle cx="816.5" cy="317.6" r="4.5"/><circle cx="742" cy="212.8" r="4.5"/><circle cx="784.2" cy="392.2" r="4.5"/><circle cx="894.6" cy="237.6" r="4.5"/><circle cx="813.9" cy="381.3" r="4.5"/><circle cx="824" cy="328" r="4.5"/><circle cx="791.1" cy="317.4" r="4.5"/><circle cx="809" cy="185" r="4.5"/><circle cx="860.8" cy="271.9" r="4.5"/><circle cx="840.3" cy="191.7" r="4.5"/><circle cx="904.5" cy="179.5" r="4.5"/><circle cx="856.4" cy="315.4" r="4.5"/><circle cx="841.9" cy="205.3" r="4.5"/><circle cx="863.8" cy="216.3" r="4.5"/><circle cx="837.6" cy="358.8" r="4.5"/><circle cx="833.4" cy="288.2" r="4.5"/><circle cx="798.4" cy="309.5" r="4.5"/><circle cx="814.6" cy="357.5" r="4.5"/><circle cx="860" cy="213.6" r="4.5"/><circle cx="909.9" cy="190.8" r="4.5"/><circle cx="804.2" cy="234.5" r="4.5"/><circle cx="823.9" cy="389.2" r="4.5"/><circle cx="954.6" cy="199.6" r="4.5"/><circle cx="807.7" cy="354.8" r="4.5"/><circle cx="838.6" cy="317.1" r="4.5"/><circle cx="800.6" cy="242.5" r="4.5"/><circle cx="829.9" cy="410.6" r="4.5"/><circle cx="820.5" cy="315" r="4.5"/><circle cx="848.6" cy="300.9" r="4.5"/><circle cx="772" cy="361.9" r="4.5"/><circle cx="893.2" cy="247.9" r="4.5"/><circle cx="889.3" cy="326.3" r="4.5"/><circle cx="741.9" cy="263.1" r="4.5"/><circle cx="872.5" cy="284.1" r="4.5"/><circle cx="826.8" cy="210.4" r="4.5"/><circle cx="896.2" cy="332.4" r="4.5"/><circle cx="819.6" cy="242.1" r="4.5"/><circle cx="872.5" cy="311.9" r="4.5"/><circle cx="817.7" cy="290" r="4.5"/><circle cx="909.4" cy="294.6" r="4.5"/><circle cx="884.6" cy="189.6" r="4.5"/><circle cx="766.5" cy="343.5" r="4.5"/><circle cx="819.4" cy="228.6" r="4.5"/><circle cx="888.7" cy="371.6" r="4.5"/><circle cx="773.8" cy="373.1" r="4.5"/><circle cx="806.4" cy="360.7" r="4.5"/><circle cx="820.5" cy="282.4" r="4.5"/><circle cx="753.8" cy="332.7" r="4.5"/><circle cx="842.2" cy="319.4" r="4.5"/><circle cx="840.8" cy="310.3" r="4.5"/><circle cx="802.2" cy="343.5" r="4.5"/><circle cx="864.9" cy="256.4" r="4.5"/><circle cx="928.1" cy="292.9" r="4.5"/><circle cx="951.6" cy="344.4" r="4.5"/><circle cx="836.7" cy="235.8" r="4.5"/><circle cx="860.5" cy="331.1" r="4.5"/><circle cx="810.2" cy="310.8" r="4.5"/><circle cx="748.9" cy="350.6" r="4.5"/><circle cx="843" cy="404.7" r="4.5"/><circle cx="767.6" cy="368.7" r="4.5"/><circle cx="943.8" cy="366.6" r="4.5"/><circle cx="907.8" cy="311.8" r="4.5"/><circle cx="823.8" cy="323.3" r="4.5"/><circle cx="848.8" cy="201.2" r="4.5"/><circle cx="894.3" cy="177.9" r="4.5"/><circle cx="788.3" cy="243.1" r="4.5"/><circle cx="847.8" cy="288.5" r="4.5"/><circle cx="822.6" cy="220.2" r="4.5"/><circle cx="813.5" cy="291.6" r="4.5"/><circle cx="859.7" cy="266.3" r="4.5"/><circle cx="929.7" cy="305.9" r="4.5"/><circle cx="781" cy="278" r="4.5"/><circle cx="926.6" cy="201.5" r="4.5"/><circle cx="931.2" cy="174.5" r="4.5"/><circle cx="799.1" cy="228" r="4.5"/><circle cx="834.8" cy="299.6" r="4.5"/><circle cx="789.9" cy="283.4" r="4.5"/><circle cx="909.2" cy="303.3" r="4.5"/><circle cx="843.6" cy="341.8" r="4.5"/><circle cx="761" cy="397.7" r="4.5"/><circle cx="776.8" cy="401" r="4.5"/><circle cx="777.9" cy="170.7" r="4.5"/><circle cx="824.7" cy="301" r="4.5"/><circle cx="933.9" cy="175.5" r="4.5"/><circle cx="871.8" cy="316.4" r="4.5"/><circle cx="785.9" cy="390.9" r="4.5"/><circle cx="936.7" cy="280.8" r="4.5"/><circle cx="857.9" cy="205.5" r="4.5"/><circle cx="764.3" cy="290.8" r="4.5"/><circle cx="860.1" cy="230" r="4.5"/><circle cx="931.8" cy="372" r="4.5"/><circle cx="857.8" cy="303.7" r="4.5"/><circle cx="849.3" cy="189.9" r="4.5"/><circle cx="861.9" cy="336.7" r="4.5"/><circle cx="840.7" cy="380.9" r="4.5"/><circle cx="969.7" cy="281.9" r="4.5"/><circle cx="849.3" cy="280.3" r="4.5"/><circle cx="832.5" cy="193.6" r="4.5"/><circle cx="787.6" cy="248.4" r="4.5"/><circle cx="892.7" cy="205.3" r="4.5"/><circle cx="864.6" cy="226.6" r="4.5"/><circle cx="818.5" cy="302.3" r="4.5"/><circle cx="911" cy="172.4" r="4.5"/><circle cx="725.7" cy="253.4" r="4.5"/><circle cx="773.2" cy="195.7" r="4.5"/><circle cx="825.7" cy="245.5" r="4.5"/><circle cx="910.3" cy="404.5" r="4.5"/><circle cx="864.9" cy="178.4" r="4.5"/><circle cx="839" cy="327.2" r="4.5"/><circle cx="899.9" cy="348.1" r="4.5"/><circle cx="781.3" cy="182.2" r="4.5"/><circle cx="884.8" cy="326.1" r="4.5"/><circle cx="770" cy="387.5" r="4.5"/><circle cx="936.6" cy="275.6" r="4.5"/><circle cx="890" cy="288.4" r="4.5"/><circle cx="907.8" cy="371.8" r="4.5"/><circle cx="876.9" cy="354.5" r="4.5"/><circle cx="817.5" cy="214.9" r="4.5"/><circle cx="895.3" cy="241.6" r="4.5"/><circle cx="802.6" cy="348.5" r="4.5"/><circle cx="843.9" cy="402.9" r="4.5"/><circle cx="895" cy="177.8" r="4.5"/><circle cx="743.6" cy="373" r="4.5"/><circle cx="841.6" cy="343.3" r="4.5"/><circle cx="821.7" cy="192.6" r="4.5"/><circle cx="736.2" cy="271.5" r="4.5"/><circle cx="901.4" cy="358.7" r="4.5"/><circle cx="873.6" cy="297.2" r="4.5"/><circle cx="827.1" cy="265.4" r="4.5"/><circle cx="851.1" cy="184.1" r="4.5"/><circle cx="877.1" cy="220.2" r="4.5"/><circle cx="804.7" cy="366.7" r="4.5"/><circle cx="832.5" cy="336.8" r="4.5"/><circle cx="880.3" cy="389" r="4.5"/><circle cx="863.8" cy="179.5" r="4.5"/><circle cx="817.7" cy="189.7" r="4.5"/><circle cx="759.9" cy="345.7" r="4.5"/><circle cx="894.1" cy="202" r="4.5"/><circle cx="854.8" cy="361.9" r="4.5"/><circle cx="836.2" cy="396.4" r="4.5"/><circle cx="776.1" cy="391.2" r="4.5"/><circle cx="881.4" cy="210.7" r="4.5"/><circle cx="887.8" cy="293.3" r="4.5"/><circle cx="788.6" cy="360.5" r="4.5"/><circle cx="899.5" cy="230.5" r="4.5"/><circle cx="856.1" cy="260.5" r="4.5"/><circle cx="842.5" cy="393.7" r="4.5"/><circle cx="806.3" cy="301.3" r="4.5"/><circle cx="899.9" cy="269" r="4.5"/><circle cx="771" cy="170.1" r="4.5"/><circle cx="892.8" cy="377.4" r="4.5"/><circle cx="888.5" cy="181.4" r="4.5"/><circle cx="784.6" cy="382.1" r="4.5"/><circle cx="807.4" cy="319.3" r="4.5"/><circle cx="837.9" cy="256.2" r="4.5"/><circle cx="744.4" cy="278" r="4.5"/><circle cx="961" cy="178.3" r="4.5"/><circle cx="767.1" cy="250.9" r="4.5"/><circle cx="867.9" cy="330.9" r="4.5"/><circle cx="903.1" cy="310" r="4.5"/><circle cx="809.3" cy="201.3" r="4.5"/><circle cx="886.3" cy="237.4" r="4.5"/><circle cx="872.3" cy="302.5" r="4.5"/><circle cx="894.3" cy="395.9" r="4.5"/><circle cx="888.1" cy="288.1" r="4.5"/><circle cx="763.8" cy="182.8" r="4.5"/><circle cx="849.2" cy="356.7" r="4.5"/><circle cx="894.1" cy="405" r="4.5"/><circle cx="735.1" cy="288.1" r="4.5"/><circle cx="769.1" cy="214.9" r="4.5"/><circle cx="1012.6" cy="382.9" r="4.5"/><circle cx="937.9" cy="299" r="4.5"/><circle cx="892.9" cy="183.9" r="4.5"/><circle cx="796.5" cy="180.8" r="4.5"/><circle cx="766.1" cy="170.9" r="4.5"/><circle cx="836" cy="314.2" r="4.5"/><circle cx="804.5" cy="255.5" r="4.5"/><circle cx="948" cy="301.4" r="4.5"/><circle cx="913" cy="287.8" r="4.5"/><circle cx="849.3" cy="336.2" r="4.5"/><circle cx="959.7" cy="321.4" r="4.5"/><circle cx="828.5" cy="394.7" r="4.5"/><circle cx="858" cy="373.7" r="4.5"/><circle cx="774.7" cy="408.4" r="4.5"/><circle cx="897.4" cy="275" r="4.5"/><circle cx="858.9" cy="184.7" r="4.5"/><circle cx="860.1" cy="197.2" r="4.5"/><circle cx="856" cy="259.3" r="4.5"/><circle cx="848.4" cy="323.2" r="4.5"/><circle cx="759.2" cy="393.2" r="4.5"/><circle cx="858.3" cy="174.9" r="4.5"/><circle cx="876.2" cy="387.9" r="4.5"/><circle cx="841.6" cy="304.4" r="4.5"/><circle cx="890.9" cy="184.5" r="4.5"/><circle cx="861.2" cy="323.4" r="4.5"/><circle cx="812.7" cy="213.2" r="4.5"/><circle cx="835.4" cy="357.6" r="4.5"/><circle cx="875.1" cy="301" r="4.5"/><circle cx="933" cy="278.4" r="4.5"/><circle cx="804.4" cy="260.5" r="4.5"/><circle cx="764.7" cy="375.7" r="4.5"/><circle cx="876.5" cy="267.8" r="4.5"/><circle cx="871.9" cy="404" r="4.5"/><circle cx="841.6" cy="368.1" r="4.5"/><circle cx="813.6" cy="223.4" r="4.5"/><circle cx="813.3" cy="353.7" r="4.5"/><circle cx="802.9" cy="234.7" r="4.5"/><circle cx="758.3" cy="212.9" r="4.5"/><circle cx="814.3" cy="363" r="4.5"/><circle cx="826.2" cy="264.5" r="4.5"/><circle cx="862.2" cy="179.2" r="4.5"/><circle cx="856.4" cy="314" r="4.5"/><circle cx="806.7" cy="375.9" r="4.5"/><circle cx="998.3" cy="299" r="4.5"/><circle cx="846.3" cy="313.3" r="4.5"/><circle cx="903.1" cy="189.6" r="4.5"/><circle cx="939.6" cy="365.5" r="4.5"/><circle cx="934.7" cy="258.5" r="4.5"/><circle cx="826.1" cy="294.2" r="4.5"/><circle cx="821.2" cy="212.3" r="4.5"/><circle cx="856.8" cy="247.4" r="4.5"/><circle cx="857.2" cy="307.6" r="4.5"/><circle cx="904.2" cy="371.5" r="4.5"/><circle cx="874.9" cy="258.1" r="4.5"/><circle cx="859.1" cy="206.3" r="4.5"/><circle cx="862.3" cy="191.5" r="4.5"/><circle cx="820.1" cy="185" r="4.5"/><circle cx="793.1" cy="291.6" r="4.5"/><circle cx="812.6" cy="378" r="4.5"/><circle cx="881.2" cy="273.5" r="4.5"/><circle cx="782.7" cy="370.4" r="4.5"/><circle cx="851.8" cy="201.8" r="4.5"/><circle cx="894.9" cy="273.1" r="4.5"/><circle cx="875" cy="271.6" r="4.5"/><circle cx="827.8" cy="376.3" r="4.5"/><circle cx="770.1" cy="183.7" r="4.5"/><circle cx="868.6" cy="314.1" r="4.5"/><circle cx="770" cy="310.8" r="4.5"/><circle cx="804.7" cy="366.7" r="4.5"/><circle cx="851.6" cy="368.5" r="4.5"/><circle cx="803" cy="280.9" r="4.5"/><circle cx="906" cy="344.5" r="4.5"/><circle cx="836.6" cy="370" r="4.5"/><circle cx="926.7" cy="372" r="4.5"/><circle cx="830.5" cy="172.7" r="4.5"/><circle cx="824.2" cy="215.7" r="4.5"/><circle cx="808.1" cy="389.4" r="4.5"/><circle cx="827.8" cy="376.3" r="4.5"/><circle cx="839.9" cy="383.9" r="4.5"/><circle cx="864" cy="327" r="4.5"/><circle cx="888.5" cy="379" r="4.5"/><circle cx="843.4" cy="404.5" r="4.5"/><circle cx="809.2" cy="378.5" r="4.5"/><circle cx="860.8" cy="356.5" r="4.5"/><circle cx="772.6" cy="205.2" r="4.5"/><circle cx="802.1" cy="410.6" r="4.5"/><circle cx="863.9" cy="409" r="4.5"/><circle cx="820.6" cy="397.4" r="4.5"/><circle cx="779.1" cy="274.8" r="4.5"/><circle cx="808.2" cy="370.5" r="4.5"/><circle cx="822.6" cy="326.6" r="4.5"/><circle cx="728.6" cy="353.1" r="4.5"/><circle cx="815" cy="385.9" r="4.5"/><circle cx="838.8" cy="301.2" r="4.5"/><circle cx="949.3" cy="170" r="4.5"/><circle cx="892" cy="356.6" r="4.5"/><circle cx="799.5" cy="398.6" r="4.5"/><circle cx="830.5" cy="180.7" r="4.5"/><circle cx="901.9" cy="225.4" r="4.5"/><circle cx="893" cy="352.8" r="4.5"/><circle cx="889.1" cy="352" r="4.5"/><circle cx="800.9" cy="186.1" r="4.5"/><circle cx="865.1" cy="291.9" r="4.5"/><circle cx="890.9" cy="321.9" r="4.5"/><circle cx="780.2" cy="171.6" r="4.5"/><circle cx="896.4" cy="353.3" r="4.5"/><circle cx="786.6" cy="328.1" r="4.5"/><circle cx="930.2" cy="212.1" r="4.5"/><circle cx="869.6" cy="275.7" r="4.5"/><circle cx="850.7" cy="372.3" r="4.5"/><circle cx="845" cy="300.5" r="4.5"/><circle cx="807.5" cy="305.1" r="4.5"/><circle cx="885.4" cy="234" r="4.5"/><circle cx="896.8" cy="256.4" r="4.5"/><circle cx="885" cy="366.9" r="4.5"/><circle cx="933.3" cy="277.4" r="4.5"/><circle cx="747.1" cy="264.5" r="4.5"/><circle cx="787.8" cy="190.9" r="4.5"/><circle cx="798.5" cy="393.1" r="4.5"/><circle cx="853.5" cy="181.8" r="4.5"/><circle cx="815.5" cy="345.7" r="4.5"/><circle cx="866.7" cy="337.6" r="4.5"/><circle cx="998.3" cy="171.4" r="4.5"/><circle cx="844" cy="346.1" r="4.5"/><circle cx="744.9" cy="247" r="4.5"/><circle cx="873.8" cy="263.2" r="4.5"/><circle cx="872.5" cy="219.7" r="4.5"/><circle cx="883.7" cy="233.9" r="4.5"/><circle cx="922.6" cy="278.8" r="4.5"/><circle cx="812.1" cy="401.8" r="4.5"/><circle cx="823.8" cy="197.4" r="4.5"/><circle cx="827.7" cy="292.1" r="4.5"/><circle cx="905.8" cy="246.6" r="4.5"/><circle cx="851.5" cy="202.4" r="4.5"/><circle cx="775" cy="296" r="4.5"/><circle cx="872.5" cy="381.3" r="4.5"/><circle cx="832.4" cy="332.4" r="4.5"/><circle cx="850.6" cy="352.7" r="4.5"/><circle cx="748.3" cy="207.4" r="4.5"/><circle cx="827.3" cy="181.8" r="4.5"/><circle cx="916.7" cy="393" r="4.5"/><circle cx="968.2" cy="345.1" r="4.5"/><circle cx="898.4" cy="354.6" r="4.5"/><circle cx="818.7" cy="265.9" r="4.5"/><circle cx="870.6" cy="404.1" r="4.5"/><circle cx="902.7" cy="402.7" r="4.5"/><circle cx="938.5" cy="229" r="4.5"/><circle cx="854.4" cy="388.8" r="4.5"/><circle cx="959.9" cy="216.6" r="4.5"/><circle cx="909.5" cy="314.5" r="4.5"/><circle cx="819.2" cy="404.4" r="4.5"/><circle cx="871.4" cy="346.8" r="4.5"/><circle cx="773.6" cy="238.1" r="4.5"/><circle cx="779.8" cy="399.6" r="4.5"/><circle cx="905.5" cy="339.1" r="4.5"/><circle cx="845.7" cy="405" r="4.5"/><circle cx="882" cy="174.8" r="4.5"/><circle cx="835.8" cy="214.4" r="4.5"/><circle cx="759.4" cy="406.3" r="4.5"/><circle cx="848.1" cy="372.7" r="4.5"/><circle cx="761.9" cy="391.8" r="4.5"/><circle cx="873.8" cy="365.2" r="4.5"/><circle cx="826.1" cy="250.2" r="4.5"/><circle cx="846.2" cy="175.3" r="4.5"/><circle cx="895" cy="237.4" r="4.5"/><circle cx="768.7" cy="218.2" r="4.5"/><circle cx="896.2" cy="402.8" r="4.5"/><circle cx="889.2" cy="289.8" r="4.5"/><circle cx="889.3" cy="214.1" r="4.5"/><circle cx="859.8" cy="303.8" r="4.5"/><circle cx="875" cy="272" r="4.5"/><circle cx="884.3" cy="392.7" r="4.5"/><circle cx="872.2" cy="253.1" r="4.5"/><circle cx="938.7" cy="324.7" r="4.5"/><circle cx="848.8" cy="185.2" r="4.5"/><circle cx="798.8" cy="330.5" r="4.5"/><circle cx="865.7" cy="330.2" r="4.5"/><circle cx="783.9" cy="285.9" r="4.5"/><circle cx="791.6" cy="239.2" r="4.5"/><circle cx="907.7" cy="270.1" r="4.5"/><circle cx="829.1" cy="373.1" r="4.5"/><circle cx="939.8" cy="225.1" r="4.5"/><circle cx="792" cy="290.8" r="4.5"/><circle cx="869.1" cy="387.9" r="4.5"/><circle cx="880.3" cy="202.2" r="4.5"/><circle cx="795.2" cy="279.1" r="4.5"/><circle cx="895.7" cy="239" r="4.5"/><circle cx="865.7" cy="396.3" r="4.5"/><circle cx="808.1" cy="286.2" r="4.5"/><circle cx="865.2" cy="370.9" r="4.5"/><circle cx="909" cy="203" r="4.5"/><circle cx="856.3" cy="181.8" r="4.5"/><circle cx="812.8" cy="193" r="4.5"/><circle cx="848.7" cy="237.7" r="4.5"/><circle cx="849.1" cy="363.5" r="4.5"/><circle cx="839.9" cy="189.4" r="4.5"/><circle cx="918.8" cy="230.7" r="4.5"/><circle cx="886.8" cy="333.9" r="4.5"/><circle cx="912" cy="297.4" r="4.5"/><circle cx="869.8" cy="266.3" r="4.5"/><circle cx="832" cy="276.3" r="4.5"/><circle cx="858.4" cy="361.2" r="4.5"/><circle cx="813.2" cy="259" r="4.5"/><circle cx="827.5" cy="269.2" r="4.5"/><circle cx="857.9" cy="375.6" r="4.5"/><circle cx="885.9" cy="300" r="4.5"/><circle cx="877.4" cy="322.9" r="4.5"/><circle cx="884.1" cy="372.5" r="4.5"/><circle cx="876.9" cy="216.7" r="4.5"/><circle cx="748.1" cy="176" r="4.5"/><circle cx="845.3" cy="271.9" r="4.5"/><circle cx="865.6" cy="389.6" r="4.5"/><circle cx="904.8" cy="281.4" r="4.5"/><circle cx="873" cy="201.9" r="4.5"/><circle cx="794.1" cy="276.5" r="4.5"/><circle cx="810.4" cy="289.8" r="4.5"/><circle cx="883.8" cy="302.1" r="4.5"/><circle cx="785.2" cy="290.4" r="4.5"/><circle cx="880.9" cy="305.9" r="4.5"/><circle cx="833.6" cy="178.3" r="4.5"/><circle cx="836.1" cy="236.1" r="4.5"/><circle cx="856.4" cy="314" r="4.5"/><circle cx="985.7" cy="297.4" r="4.5"/><circle cx="851.7" cy="207.2" r="4.5"/><circle cx="916" cy="260.6" r="4.5"/><circle cx="865.9" cy="371.8" r="4.5"/><circle cx="860.9" cy="287.7" r="4.5"/><circle cx="757" cy="326.7" r="4.5"/><circle cx="795.7" cy="184" r="4.5"/><circle cx="874.1" cy="244.1" r="4.5"/><circle cx="907.3" cy="381.6" r="4.5"/><circle cx="925.2" cy="363.1" r="4.5"/><circle cx="931.7" cy="306.2" r="4.5"/><circle cx="959.9" cy="216.6" r="4.5"/><circle cx="824.2" cy="387" r="4.5"/><circle cx="861.9" cy="382.2" r="4.5"/><circle cx="850.5" cy="275" r="4.5"/><circle cx="803" cy="171.2" r="4.5"/><circle cx="725.2" cy="399.1" r="4.5"/><circle cx="914.9" cy="384.4" r="4.5"/><circle cx="799.6" cy="342.2" r="4.5"/><circle cx="817.2" cy="385" r="4.5"/><circle cx="891.3" cy="197.9" r="4.5"/><circle cx="871.9" cy="211.1" r="4.5"/><circle cx="854.2" cy="183" r="4.5"/><circle cx="773.6" cy="238.1" r="4.5"/><circle cx="764.7" cy="375.7" r="4.5"/><circle cx="802.8" cy="320.5" r="4.5"/><circle cx="825" cy="383.2" r="4.5"/><circle cx="730.7" cy="349.8" r="4.5"/><circle cx="812.6" cy="179.7" r="4.5"/><circle cx="939.4" cy="296.7" r="4.5"/><circle cx="787.5" cy="404.3" r="4.5"/><circle cx="849.8" cy="261.8" r="4.5"/><circle cx="879.9" cy="243" r="4.5"/><circle cx="803.5" cy="256.4" r="4.5"/><circle cx="852.7" cy="180.9" r="4.5"/><circle cx="825.5" cy="311.1" r="4.5"/><circle cx="803.2" cy="181.8" r="4.5"/><circle cx="998.8" cy="361" r="4.5"/><circle cx="861.3" cy="374.6" r="4.5"/><circle cx="796.6" cy="272.4" r="4.5"/><circle cx="979.3" cy="282.1" r="4.5"/><circle cx="817.1" cy="241.7" r="4.5"/><circle cx="947.4" cy="220.6" r="4.5"/><circle cx="842.2" cy="400.4" r="4.5"/><circle cx="820.9" cy="289.6" r="4.5"/><circle cx="878.5" cy="246.4" r="4.5"/><circle cx="961.2" cy="323.1" r="4.5"/><circle cx="796.7" cy="326.8" r="4.5"/><circle cx="847.4" cy="285.7" r="4.5"/><circle cx="922" cy="282" r="4.5"/><circle cx="833.9" cy="394.2" r="4.5"/><circle cx="824" cy="328" r="4.5"/><circle cx="768.8" cy="173.2" r="4.5"/><circle cx="924.1" cy="227.2" r="4.5"/><circle cx="885.1" cy="184.1" r="4.5"/><circle cx="757.2" cy="374" r="4.5"/><circle cx="823.4" cy="287.1" r="4.5"/><circle cx="809.4" cy="364.3" r="4.5"/><circle cx="790.7" cy="211.8" r="4.5"/><circle cx="747.4" cy="376.8" r="4.5"/><circle cx="887.9" cy="282.8" r="4.5"/><circle cx="972.7" cy="367" r="4.5"/><circle cx="862.9" cy="403.1" r="4.5"/><circle cx="785.6" cy="311.3" r="4.5"/><circle cx="939.4" cy="374.8" r="4.5"/><circle cx="761.2" cy="283.4" r="4.5"/><circle cx="804.7" cy="225.6" r="4.5"/><circle cx="770.8" cy="399.3" r="4.5"/><circle cx="855" cy="290.4" r="4.5"/><circle cx="873.7" cy="285.4" r="4.5"/><circle cx="819.8" cy="271.9" r="4.5"/><circle cx="888" cy="170.3" r="4.5"/><circle cx="810.1" cy="214.1" r="4.5"/><circle cx="955.4" cy="249.6" r="4.5"/><circle cx="807.5" cy="236.2" r="4.5"/><circle cx="868.1" cy="326.6" r="4.5"/><circle cx="772.3" cy="259.1" r="4.5"/><circle cx="946.8" cy="360.9" r="4.5"/><circle cx="948.3" cy="231.2" r="4.5"/><circle cx="935.4" cy="268.4" r="4.5"/><circle cx="838.1" cy="363" r="4.5"/><circle cx="1022.9" cy="406.5" r="4.5"/><circle cx="974.6" cy="181.6" r="4.5"/><circle cx="849.3" cy="267.8" r="4.5"/><circle cx="766.6" cy="222.1" r="4.5"/><circle cx="848.8" cy="301.8" r="4.5"/><circle cx="832.4" cy="178" r="4.5"/><circle cx="930.9" cy="326.3" r="4.5"/><circle cx="882.8" cy="369.7" r="4.5"/><circle cx="814.1" cy="214.1" r="4.5"/><circle cx="926.4" cy="408.7" r="4.5"/><circle cx="802.5" cy="372.3" r="4.5"/><circle cx="819.7" cy="408.2" r="4.5"/><circle cx="798.5" cy="260.3" r="4.5"/><circle cx="789.8" cy="250" r="4.5"/><circle cx="767.8" cy="402.5" r="4.5"/><circle cx="774.9" cy="233.8" r="4.5"/><circle cx="822.3" cy="242.2" r="4.5"/><circle cx="831.5" cy="224.1" r="4.5"/><circle cx="804.7" cy="377" r="4.5"/><circle cx="809.9" cy="373.8" r="4.5"/><circle cx="813" cy="303" r="4.5"/><circle cx="913.9" cy="389.2" r="4.5"/><circle cx="940.5" cy="316.7" r="4.5"/><circle cx="856.9" cy="226.5" r="4.5"/><circle cx="833.4" cy="218.7" r="4.5"/><circle cx="886.7" cy="245.5" r="4.5"/><circle cx="817" cy="363.9" r="4.5"/><circle cx="887" cy="187.4" r="4.5"/><circle cx="886.2" cy="374.2" r="4.5"/><circle cx="760.2" cy="259.2" r="4.5"/><circle cx="864.2" cy="350.1" r="4.5"/><circle cx="920.8" cy="180.1" r="4.5"/><circle cx="782.2" cy="283.5" r="4.5"/><circle cx="801.1" cy="294.1" r="4.5"/><circle cx="808.3" cy="332.6" r="4.5"/><circle cx="775.8" cy="229.5" r="4.5"/><circle cx="811.8" cy="302.9" r="4.5"/><circle cx="869.7" cy="183.1" r="4.5"/><circle cx="839.3" cy="340.6" r="4.5"/><circle cx="924.7" cy="388.9" r="4.5"/><circle cx="833.3" cy="237.4" r="4.5"/><circle cx="829.1" cy="217.8" r="4.5"/><circle cx="903.7" cy="239.7" r="4.5"/><circle cx="812.3" cy="369.2" r="4.5"/><circle cx="842" cy="212.6" r="4.5"/><circle cx="823.3" cy="255.8" r="4.5"/><circle cx="863.4" cy="302.8" r="4.5"/><circle cx="937.7" cy="280.4" r="4.5"/><circle cx="844.8" cy="312" r="4.5"/><circle cx="862.1" cy="200.7" r="4.5"/><circle cx="874.9" cy="382.1" r="4.5"/><circle cx="871.1" cy="208.4" r="4.5"/><circle cx="895.6" cy="391.6" r="4.5"/><circle cx="809.5" cy="342.2" r="4.5"/><circle cx="815.1" cy="213.9" r="4.5"/><circle cx="823.1" cy="325.1" r="4.5"/><circle cx="877.6" cy="211.4" r="4.5"/><circle cx="832" cy="388.8" r="4.5"/><circle cx="831.7" cy="241.9" r="4.5"/><circle cx="842.8" cy="315.9" r="4.5"/><circle cx="822.1" cy="406.4" r="4.5"/><circle cx="823.1" cy="235.7" r="4.5"/><circle cx="816.2" cy="373.9" r="4.5"/><circle cx="915.9" cy="382.8" r="4.5"/><circle cx="834.9" cy="330" r="4.5"/><circle cx="827.8" cy="313.8" r="4.5"/><circle cx="892.2" cy="227.2" r="4.5"/><circle cx="819.8" cy="303.1" r="4.5"/><circle cx="896.3" cy="363.7" r="4.5"/><circle cx="882.2" cy="326.4" r="4.5"/><circle cx="863.6" cy="339" r="4.5"/><circle cx="865.2" cy="297.5" r="4.5"/><circle cx="862.3" cy="224.8" r="4.5"/><circle cx="833" cy="327.2" r="4.5"/><circle cx="923.5" cy="300.5" r="4.5"/><circle cx="855.3" cy="245.1" r="4.5"/><circle cx="961.3" cy="220.6" r="4.5"/><circle cx="910.5" cy="326.8" r="4.5"/><circle cx="852.2" cy="200.8" r="4.5"/><circle cx="1073.4" cy="253.7" r="4.5"/><circle cx="986.8" cy="169.9" r="4.5"/><circle cx="993.6" cy="314.4" r="4.5"/><circle cx="1011.5" cy="377.2" r="4.5"/><circle cx="971.4" cy="389.9" r="4.5"/><circle cx="960.8" cy="366.5" r="4.5"/><circle cx="981" cy="273.3" r="4.5"/><circle cx="1014.9" cy="235.4" r="4.5"/>
</g>
<g class="pg">
<circle cx="827.6" cy="141.7" r="4.5"/><circle cx="777.7" cy="157.5" r="4.5"/><circle cx="826.4" cy="101" r="4.5"/><circle cx="751.1" cy="97.8" r="4.5"/><circle cx="861.1" cy="132" r="4.5"/><circle cx="927.6" cy="88.2" r="4.5"/><circle cx="822.1" cy="97.7" r="4.5"/><circle cx="808.8" cy="163.4" r="4.5"/><circle cx="812.1" cy="112.5" r="4.5"/><circle cx="815.5" cy="120" r="4.5"/><circle cx="851.2" cy="99.8" r="4.5"/><circle cx="870.1" cy="68.6" r="4.5"/><circle cx="818.9" cy="81.3" r="4.5"/><circle cx="823.5" cy="134.6" r="4.5"/><circle cx="861.7" cy="121" r="4.5"/><circle cx="850.3" cy="134.8" r="4.5"/><circle cx="913.7" cy="115.8" r="4.5"/><circle cx="830.9" cy="104.1" r="4.5"/><circle cx="859.4" cy="125.7" r="4.5"/><circle cx="852.2" cy="86.4" r="4.5"/><circle cx="775.9" cy="131.2" r="4.5"/><circle cx="768.3" cy="144.9" r="4.5"/><circle cx="828.9" cy="69.8" r="4.5"/><circle cx="890.8" cy="95.3" r="4.5"/><circle cx="851.3" cy="111.5" r="4.5"/><circle cx="834.7" cy="119.4" r="4.5"/><circle cx="924.5" cy="71.7" r="4.5"/><circle cx="766.8" cy="116.3" r="4.5"/><circle cx="836.9" cy="126.8" r="4.5"/><circle cx="784.4" cy="160.6" r="4.5"/><circle cx="854.6" cy="68.7" r="4.5"/><circle cx="837.8" cy="137.9" r="4.5"/><circle cx="801" cy="121.1" r="4.5"/><circle cx="883.3" cy="121.2" r="4.5"/><circle cx="878" cy="95.5" r="4.5"/><circle cx="860.8" cy="88.1" r="4.5"/><circle cx="898" cy="130" r="4.5"/><circle cx="810.6" cy="97.9" r="4.5"/><circle cx="811.5" cy="86.7" r="4.5"/><circle cx="941.7" cy="103.5" r="4.5"/><circle cx="875.2" cy="85.2" r="4.5"/><circle cx="736.8" cy="116" r="4.5"/><circle cx="801" cy="153.3" r="4.5"/><circle cx="869.5" cy="160.1" r="4.5"/><circle cx="815.6" cy="154.9" r="4.5"/><circle cx="779.4" cy="121.7" r="4.5"/><circle cx="829" cy="100.7" r="4.5"/><circle cx="756.3" cy="141.8" r="4.5"/><circle cx="794.3" cy="98.1" r="4.5"/><circle cx="921" cy="122.1" r="4.5"/><circle cx="794.1" cy="141.2" r="4.5"/><circle cx="857.7" cy="130" r="4.5"/><circle cx="788.3" cy="136.4" r="4.5"/><circle cx="773.8" cy="86.9" r="4.5"/><circle cx="846.4" cy="91" r="4.5"/><circle cx="773.9" cy="71.7" r="4.5"/><circle cx="859.9" cy="75.3" r="4.5"/><circle cx="765.4" cy="109.7" r="4.5"/><circle cx="905.1" cy="164.9" r="4.5"/><circle cx="814.6" cy="98.7" r="4.5"/><circle cx="824.7" cy="112.8" r="4.5"/><circle cx="842.1" cy="73" r="4.5"/><circle cx="824.8" cy="74.7" r="4.5"/><circle cx="867.4" cy="136" r="4.5"/><circle cx="885.5" cy="82.6" r="4.5"/><circle cx="798.7" cy="131.6" r="4.5"/><circle cx="892.1" cy="79.8" r="4.5"/><circle cx="802.4" cy="132" r="4.5"/><circle cx="793.8" cy="141.3" r="4.5"/><circle cx="854.7" cy="162.3" r="4.5"/><circle cx="847.9" cy="66.7" r="4.5"/><circle cx="806.9" cy="67.3" r="4.5"/><circle cx="847.8" cy="67.7" r="4.5"/><circle cx="766.5" cy="100.5" r="4.5"/><circle cx="876.7" cy="79.7" r="4.5"/><circle cx="771.8" cy="68.6" r="4.5"/><circle cx="819.5" cy="102.3" r="4.5"/><circle cx="788.3" cy="136.4" r="4.5"/><circle cx="793.4" cy="157" r="4.5"/><circle cx="887.2" cy="120.2" r="4.5"/><circle cx="867.4" cy="94.9" r="4.5"/><circle cx="819.5" cy="124.3" r="4.5"/><circle cx="825.2" cy="161.4" r="4.5"/><circle cx="736.1" cy="66.6" r="4.5"/><circle cx="824.6" cy="140.3" r="4.5"/><circle cx="799" cy="70.6" r="4.5"/><circle cx="820.4" cy="74" r="4.5"/><circle cx="848.6" cy="130.5" r="4.5"/><circle cx="855.8" cy="106.5" r="4.5"/><circle cx="823.1" cy="107" r="4.5"/><circle cx="795.9" cy="162.4" r="4.5"/><circle cx="828.2" cy="116.4" r="4.5"/><circle cx="824.4" cy="155.2" r="4.5"/><circle cx="844.4" cy="103.6" r="4.5"/><circle cx="830.2" cy="84.2" r="4.5"/><circle cx="774.6" cy="71.5" r="4.5"/><circle cx="881.5" cy="109" r="4.5"/><circle cx="884.3" cy="120.5" r="4.5"/><circle cx="947.2" cy="88.4" r="4.5"/><circle cx="771.1" cy="148" r="4.5"/><circle cx="895.6" cy="164.2" r="4.5"/><circle cx="811.9" cy="99.5" r="4.5"/><circle cx="831.3" cy="72.1" r="4.5"/><circle cx="894.2" cy="133.9" r="4.5"/><circle cx="830.1" cy="92.5" r="4.5"/><circle cx="882" cy="145.3" r="4.5"/><circle cx="767.9" cy="112.2" r="4.5"/><circle cx="915" cy="72.1" r="4.5"/><circle cx="837.9" cy="117.3" r="4.5"/><circle cx="867.6" cy="120.1" r="4.5"/><circle cx="906.4" cy="156.5" r="4.5"/><circle cx="771.2" cy="137.6" r="4.5"/><circle cx="878.7" cy="125.7" r="4.5"/><circle cx="773.9" cy="71.7" r="4.5"/><circle cx="880.6" cy="86.2" r="4.5"/><circle cx="860.8" cy="88.1" r="4.5"/><circle cx="779.8" cy="162.7" r="4.5"/><circle cx="813.9" cy="162.8" r="4.5"/><circle cx="818.8" cy="103.9" r="4.5"/><circle cx="866.2" cy="110.9" r="4.5"/><circle cx="950" cy="80.3" r="4.5"/><circle cx="771.9" cy="77.4" r="4.5"/><circle cx="892.1" cy="162.9" r="4.5"/><circle cx="829.8" cy="90.9" r="4.5"/><circle cx="871.8" cy="121.7" r="4.5"/><circle cx="892.1" cy="162.9" r="4.5"/><circle cx="803" cy="135.9" r="4.5"/><circle cx="936.4" cy="100.6" r="4.5"/><circle cx="898" cy="130" r="4.5"/><circle cx="730.9" cy="125.1" r="4.5"/><circle cx="862" cy="156.6" r="4.5"/><circle cx="857.6" cy="90.6" r="4.5"/><circle cx="811.7" cy="142" r="4.5"/><circle cx="790.8" cy="122.2" r="4.5"/><circle cx="790.9" cy="108.9" r="4.5"/><circle cx="805.9" cy="140.6" r="4.5"/><circle cx="850.4" cy="99.5" r="4.5"/><circle cx="929.1" cy="78.5" r="4.5"/><circle cx="940.8" cy="135.7" r="4.5"/><circle cx="890.9" cy="124.3" r="4.5"/><circle cx="829" cy="98.1" r="4.5"/><circle cx="805.9" cy="140.6" r="4.5"/><circle cx="859.3" cy="128.3" r="4.5"/><circle cx="837.1" cy="101.9" r="4.5"/><circle cx="818.9" cy="109.6" r="4.5"/><circle cx="876.9" cy="70.5" r="4.5"/><circle cx="805.9" cy="114.7" r="4.5"/><circle cx="850.1" cy="105.6" r="4.5"/><circle cx="874.8" cy="145.7" r="4.5"/><circle cx="803.2" cy="88.1" r="4.5"/><circle cx="825.4" cy="144.4" r="4.5"/><circle cx="818.3" cy="157.7" r="4.5"/><circle cx="805.7" cy="85.1" r="4.5"/><circle cx="849.8" cy="103.6" r="4.5"/><circle cx="768.3" cy="111.1" r="4.5"/><circle cx="801.3" cy="115.1" r="4.5"/><circle cx="889.8" cy="67.2" r="4.5"/><circle cx="873.6" cy="165.6" r="4.5"/><circle cx="813.3" cy="103.7" r="4.5"/><circle cx="913.1" cy="118.8" r="4.5"/><circle cx="840.5" cy="81" r="4.5"/><circle cx="827.7" cy="111.1" r="4.5"/><circle cx="830.3" cy="141.3" r="4.5"/><circle cx="789.3" cy="75" r="4.5"/><circle cx="808.9" cy="152.4" r="4.5"/><circle cx="853.4" cy="122.5" r="4.5"/><circle cx="764" cy="156.3" r="4.5"/><circle cx="781.3" cy="72.9" r="4.5"/><circle cx="888" cy="97.9" r="4.5"/><circle cx="799.4" cy="98.1" r="4.5"/><circle cx="878.5" cy="92.8" r="4.5"/><circle cx="805.3" cy="124.9" r="4.5"/><circle cx="863" cy="84.2" r="4.5"/><circle cx="779" cy="118.4" r="4.5"/><circle cx="895.6" cy="81.8" r="4.5"/><circle cx="809.9" cy="101.9" r="4.5"/><circle cx="827.7" cy="153.9" r="4.5"/><circle cx="839.3" cy="71.4" r="4.5"/><circle cx="778.2" cy="152.2" r="4.5"/><circle cx="826.6" cy="120.7" r="4.5"/><circle cx="763.9" cy="131.3" r="4.5"/><circle cx="764.2" cy="153.2" r="4.5"/><circle cx="905.6" cy="166.1" r="4.5"/><circle cx="828.9" cy="120.7" r="4.5"/><circle cx="836.1" cy="119.6" r="4.5"/><circle cx="787.3" cy="87.6" r="4.5"/><circle cx="793.3" cy="104.4" r="4.5"/><circle cx="861.6" cy="112.8" r="4.5"/><circle cx="891.1" cy="85.4" r="4.5"/><circle cx="808.6" cy="141" r="4.5"/><circle cx="924" cy="76.5" r="4.5"/><circle cx="896.3" cy="163.3" r="4.5"/><circle cx="843.9" cy="161.7" r="4.5"/><circle cx="774.5" cy="67.4" r="4.5"/><circle cx="857.6" cy="121.1" r="4.5"/><circle cx="832" cy="116.3" r="4.5"/><circle cx="827" cy="118.3" r="4.5"/><circle cx="870.1" cy="68.6" r="4.5"/><circle cx="836.4" cy="112.4" r="4.5"/><circle cx="794.3" cy="78.3" r="4.5"/><circle cx="839.7" cy="144" r="4.5"/><circle cx="870.4" cy="94.4" r="4.5"/><circle cx="845.1" cy="74.9" r="4.5"/><circle cx="859.5" cy="98.4" r="4.5"/><circle cx="908.7" cy="94.8" r="4.5"/><circle cx="765.6" cy="66.5" r="4.5"/><circle cx="770.2" cy="131.7" r="4.5"/><circle cx="862" cy="156.6" r="4.5"/><circle cx="797.8" cy="70.4" r="4.5"/><circle cx="820.1" cy="143.8" r="4.5"/><circle cx="816.9" cy="82.7" r="4.5"/><circle cx="879.2" cy="115.1" r="4.5"/><circle cx="851.5" cy="136.2" r="4.5"/><circle cx="873.7" cy="79.5" r="4.5"/><circle cx="732.5" cy="142.9" r="4.5"/><circle cx="803.8" cy="79.9" r="4.5"/><circle cx="867.1" cy="156.8" r="4.5"/><circle cx="771.7" cy="73.2" r="4.5"/><circle cx="896.5" cy="139.6" r="4.5"/><circle cx="907.5" cy="159.6" r="4.5"/><circle cx="805.7" cy="76.9" r="4.5"/><circle cx="754.4" cy="106.2" r="4.5"/><circle cx="799.8" cy="120.1" r="4.5"/><circle cx="891.8" cy="106.9" r="4.5"/><circle cx="912.7" cy="147" r="4.5"/><circle cx="735" cy="145.5" r="4.5"/><circle cx="920.9" cy="157" r="4.5"/><circle cx="867.3" cy="163.4" r="4.5"/><circle cx="896.5" cy="126.8" r="4.5"/><circle cx="773" cy="124.4" r="4.5"/><circle cx="883.8" cy="154" r="4.5"/><circle cx="850.1" cy="89.5" r="4.5"/><circle cx="898.2" cy="114.1" r="4.5"/><circle cx="799.8" cy="120.1" r="4.5"/><circle cx="831.2" cy="84.4" r="4.5"/><circle cx="814.2" cy="130.4" r="4.5"/><circle cx="840.3" cy="165.6" r="4.5"/><circle cx="821.4" cy="104.2" r="4.5"/><circle cx="825.7" cy="120.5" r="4.5"/><circle cx="1058.4" cy="72.3" r="4.5"/><circle cx="954.5" cy="166.4" r="4.5"/><circle cx="944.8" cy="128.5" r="4.5"/><circle cx="925.5" cy="107.8" r="4.5"/>
</g>
</g>
<path d="M730.5 119.6 L734.6 119.5 L738.8 119.5 L742.9 119.5 L747.1 119.5 L751.2 119.4 L755.4 119.4 L759.5 119.4 L763.7 119.3 L767.8 119.3 L772.0 119.3 L776.1 119.2 L780.3 119.2 L784.4 119.1 L788.6 119.1 L792.7 119.0 L796.9 118.9 L801.0 118.9 L805.2 118.8 L809.3 118.7 L813.5 118.6 L817.6 118.5 L821.8 118.4 L825.9 118.3 L830.1 118.2 L834.2 118.1 L838.4 118.0 L842.5 117.9 L846.7 117.7 L850.8 117.6 L855.0 117.4 L859.1 117.2 L863.3 117.0 L867.4 116.8 L871.6 116.6 L875.7 116.4 L879.9 116.2 L884.0 116.0 L888.2 115.7 L892.3 115.5 L896.5 115.2 L900.6 114.9 L904.8 114.6 L908.9 114.3 L913.1 114.0 L917.2 113.6 L921.4 113.3 L925.5 112.9 L929.7 112.5 L933.8 112.1 L938.0 111.7 L942.1 111.3 L946.3 110.8 L950.4 110.4 L954.6 109.9 L958.7 109.4 L962.9 108.9 L967.0 108.3 L971.2 107.8 L975.3 107.2 L979.5 106.6 L983.6 106.0 L987.8 105.4 L991.9 104.7 L996.1 104.0 L1000.2 103.3 L1004.4 102.6 L1008.5 101.9 L1012.7 101.1 L1016.8 100.3 L1021.0 99.5 L1025.1 98.7 L1029.3 97.9 L1033.4 97.0 L1037.6 96.1 L1041.7 95.2 L1045.9 94.2 L1050.0 93.3 L1054.2 92.3 L1058.3 91.3" stroke="#1B9E77" stroke-width="5.3" fill="none"/>
<path d="M728.2 305.8 L732.6 305.4 L736.9 304.9 L741.3 304.5 L745.7 304.1 L750.0 303.7 L754.4 303.3 L758.8 302.9 L763.1 302.5 L767.5 302.1 L771.9 301.7 L776.2 301.4 L780.6 301.0 L785.0 300.7 L789.3 300.3 L793.7 300.0 L798.1 299.7 L802.4 299.4 L806.8 299.1 L811.2 298.8 L815.5 298.5 L819.9 298.2 L824.3 297.9 L828.6 297.6 L833.0 297.3 L837.4 297.1 L841.7 296.8 L846.1 296.5 L850.5 296.3 L854.8 296.0 L859.2 295.8 L863.6 295.5 L867.9 295.3 L872.3 295.1 L876.7 294.8 L881.0 294.6 L885.4 294.4 L889.8 294.2 L894.1 294.0 L898.5 293.8 L902.9 293.5 L907.3 293.3 L911.6 293.1 L916.0 292.9 L920.4 292.7 L924.7 292.5 L929.1 292.3 L933.5 292.1 L937.8 291.9 L942.2 291.8 L946.6 291.6 L950.9 291.4 L955.3 291.2 L959.7 291.0 L964.0 290.8 L968.4 290.6 L972.8 290.4 L977.1 290.2 L981.5 290.0 L985.9 289.8 L990.2 289.6 L994.6 289.4 L999.0 289.3 L1003.3 289.1 L1007.7 288.9 L1012.1 288.7 L1016.4 288.4 L1020.8 288.2 L1025.2 288.0 L1029.5 287.8 L1033.9 287.6 L1038.3 287.4 L1042.6 287.2 L1047.0 287.0 L1051.4 286.7 L1055.7 286.5 L1060.1 286.3 L1064.5 286.0 L1068.8 285.8 L1073.2 285.5" stroke="#D95F02" stroke-width="5.3" fill="none"/>
<rect x="700.0" y="49.3" width="598.8" height="379.3" fill="none" stroke="#333" stroke-width="1.6"/>
<rect x="700.0" y="9.4" width="598.8" height="39.9" fill="#D9D9D9" stroke="#333" stroke-width="1.6"/>
<path d="M699.1 49.5H1299.6" stroke="#333" stroke-width="2.4"/>
<text x="999.4" y="36.9" font-size="21.8" fill="#1A1A1A" text-anchor="middle">Lake States</text>
<path d="M86.9 801.59H685.4M86.9 715.36H685.4M86.9 629.14H685.4M86.9 542.91H685.4M184.00 482.4V861.7M328.99 482.4V861.7M473.98 482.4V861.7M618.97 482.4V861.7" stroke="#EBEBEB" stroke-width="1.3" fill="none"/>
<path d="M86.9 844.70H685.4M86.9 758.48H685.4M86.9 672.25H685.4M86.9 586.03H685.4M86.9 499.80H685.4M111.50 482.4V861.7M256.49 482.4V861.7M401.48 482.4V861.7M546.47 482.4V861.7" stroke="#EBEBEB" stroke-width="2.3" fill="none"/>
<g clip-path="url(#cp10)">
<g class="po">
<circle cx="138" cy="746.6" r="4.5"/><circle cx="342.7" cy="679.9" r="4.5"/><circle cx="260.4" cy="818.5" r="4.5"/><circle cx="254.2" cy="745.3" r="4.5"/><circle cx="226.3" cy="819.9" r="4.5"/><circle cx="195.5" cy="639.7" r="4.5"/><circle cx="288.4" cy="799.4" r="4.5"/><circle cx="381.3" cy="686.3" r="4.5"/><circle cx="318.6" cy="683.4" r="4.5"/><circle cx="216.1" cy="770.8" r="4.5"/><circle cx="262.9" cy="814.3" r="4.5"/><circle cx="171" cy="811.3" r="4.5"/><circle cx="186.3" cy="702.2" r="4.5"/><circle cx="308.9" cy="738.1" r="4.5"/><circle cx="378.5" cy="811.6" r="4.5"/><circle cx="198.5" cy="729.1" r="4.5"/><circle cx="198.1" cy="828" r="4.5"/><circle cx="250.4" cy="634" r="4.5"/><circle cx="263.8" cy="686.8" r="4.5"/><circle cx="217.9" cy="772.8" r="4.5"/><circle cx="290.8" cy="793.4" r="4.5"/><circle cx="256.3" cy="785" r="4.5"/><circle cx="208" cy="811.8" r="4.5"/><circle cx="185.6" cy="738.6" r="4.5"/><circle cx="289.8" cy="843.4" r="4.5"/><circle cx="191.4" cy="625" r="4.5"/><circle cx="254.9" cy="647.6" r="4.5"/><circle cx="228.6" cy="707.5" r="4.5"/><circle cx="214.5" cy="833" r="4.5"/><circle cx="311.7" cy="652.8" r="4.5"/><circle cx="223.5" cy="744.3" r="4.5"/><circle cx="339.3" cy="720.3" r="4.5"/><circle cx="259.5" cy="733.4" r="4.5"/><circle cx="297.1" cy="780" r="4.5"/><circle cx="225.3" cy="697.1" r="4.5"/><circle cx="276.7" cy="725.4" r="4.5"/><circle cx="250.8" cy="819.3" r="4.5"/><circle cx="296.2" cy="831.3" r="4.5"/><circle cx="176.5" cy="701.2" r="4.5"/><circle cx="264.9" cy="703.5" r="4.5"/><circle cx="151.2" cy="613.5" r="4.5"/><circle cx="118.7" cy="810.3" r="4.5"/><circle cx="281.3" cy="815.8" r="4.5"/><circle cx="354.4" cy="804.5" r="4.5"/><circle cx="262.5" cy="782.1" r="4.5"/><circle cx="311.3" cy="762.5" r="4.5"/><circle cx="310.6" cy="813.2" r="4.5"/><circle cx="311.2" cy="815" r="4.5"/><circle cx="195.2" cy="755.8" r="4.5"/><circle cx="237.5" cy="721.3" r="4.5"/><circle cx="164.2" cy="787" r="4.5"/><circle cx="258.1" cy="792.2" r="4.5"/><circle cx="254.6" cy="758.1" r="4.5"/><circle cx="339.5" cy="729.8" r="4.5"/><circle cx="255.6" cy="809.7" r="4.5"/><circle cx="284.8" cy="833.2" r="4.5"/><circle cx="197.3" cy="670" r="4.5"/><circle cx="273.6" cy="828.4" r="4.5"/><circle cx="377.2" cy="820.8" r="4.5"/><circle cx="288" cy="821.6" r="4.5"/><circle cx="284.8" cy="663.7" r="4.5"/><circle cx="264.9" cy="703.5" r="4.5"/><circle cx="211.5" cy="715.7" r="4.5"/><circle cx="247.8" cy="818.6" r="4.5"/><circle cx="238.8" cy="732.5" r="4.5"/><circle cx="310.5" cy="718.9" r="4.5"/><circle cx="343" cy="842.2" r="4.5"/><circle cx="267.9" cy="801.4" r="4.5"/><circle cx="186.4" cy="671.3" r="4.5"/><circle cx="286.2" cy="704.3" r="4.5"/><circle cx="342.5" cy="809.9" r="4.5"/><circle cx="278.6" cy="791.6" r="4.5"/><circle cx="230" cy="761.4" r="4.5"/><circle cx="144.1" cy="737.9" r="4.5"/><circle cx="166" cy="727.2" r="4.5"/><circle cx="231.9" cy="660.4" r="4.5"/><circle cx="234.9" cy="670" r="4.5"/><circle cx="270.2" cy="729.3" r="4.5"/><circle cx="285" cy="650.1" r="4.5"/><circle cx="180.4" cy="819.9" r="4.5"/><circle cx="271.2" cy="698.6" r="4.5"/><circle cx="176.9" cy="640.5" r="4.5"/><circle cx="258.7" cy="725" r="4.5"/><circle cx="269.2" cy="607.6" r="4.5"/><circle cx="196.6" cy="832.6" r="4.5"/><circle cx="298.2" cy="707.9" r="4.5"/><circle cx="193.3" cy="745.4" r="4.5"/><circle cx="187.6" cy="745.4" r="4.5"/><circle cx="197.1" cy="741.6" r="4.5"/><circle cx="312.8" cy="761.7" r="4.5"/><circle cx="227.9" cy="612.9" r="4.5"/><circle cx="295.9" cy="738.3" r="4.5"/><circle cx="272.8" cy="685.8" r="4.5"/><circle cx="262.6" cy="776.8" r="4.5"/><circle cx="320.6" cy="836.2" r="4.5"/><circle cx="228.1" cy="716.3" r="4.5"/><circle cx="155.2" cy="715.6" r="4.5"/><circle cx="309.2" cy="826.5" r="4.5"/><circle cx="365.3" cy="693.7" r="4.5"/><circle cx="207.6" cy="772" r="4.5"/><circle cx="278.6" cy="614.9" r="4.5"/><circle cx="191" cy="611.3" r="4.5"/><circle cx="288.7" cy="694.2" r="4.5"/><circle cx="232.3" cy="728.1" r="4.5"/><circle cx="365.2" cy="683.1" r="4.5"/><circle cx="210.1" cy="698.3" r="4.5"/><circle cx="126.6" cy="676.1" r="4.5"/><circle cx="307.6" cy="707.1" r="4.5"/><circle cx="354.7" cy="816.2" r="4.5"/><circle cx="306.4" cy="817.6" r="4.5"/><circle cx="351.8" cy="718.8" r="4.5"/><circle cx="209.6" cy="623.4" r="4.5"/><circle cx="228" cy="663.5" r="4.5"/><circle cx="187.8" cy="804.1" r="4.5"/><circle cx="253.4" cy="761.5" r="4.5"/><circle cx="285.1" cy="645" r="4.5"/><circle cx="291.3" cy="751" r="4.5"/><circle cx="123.7" cy="744.4" r="4.5"/><circle cx="222.4" cy="829.5" r="4.5"/><circle cx="250.4" cy="764.6" r="4.5"/><circle cx="270.5" cy="707.2" r="4.5"/><circle cx="280.2" cy="613.4" r="4.5"/><circle cx="231.9" cy="790.9" r="4.5"/><circle cx="220.8" cy="795.4" r="4.5"/><circle cx="231.9" cy="725.7" r="4.5"/><circle cx="257.2" cy="617.4" r="4.5"/><circle cx="289.9" cy="673.2" r="4.5"/><circle cx="245.7" cy="648.3" r="4.5"/><circle cx="314.1" cy="761.3" r="4.5"/><circle cx="308.4" cy="745.7" r="4.5"/><circle cx="294.5" cy="712.4" r="4.5"/><circle cx="367.2" cy="829.9" r="4.5"/><circle cx="232.3" cy="697.1" r="4.5"/><circle cx="196.3" cy="714.6" r="4.5"/><circle cx="244.5" cy="748.6" r="4.5"/><circle cx="221.7" cy="692.8" r="4.5"/><circle cx="243.4" cy="684.9" r="4.5"/><circle cx="254.6" cy="709.1" r="4.5"/><circle cx="245.3" cy="805.8" r="4.5"/><circle cx="274.1" cy="661.3" r="4.5"/><circle cx="160.8" cy="786.9" r="4.5"/><circle cx="285.1" cy="699.7" r="4.5"/><circle cx="309.8" cy="712.8" r="4.5"/><circle cx="279.8" cy="780" r="4.5"/><circle cx="165.1" cy="836.9" r="4.5"/><circle cx="248" cy="619.3" r="4.5"/><circle cx="264.2" cy="792" r="4.5"/><circle cx="159.9" cy="800.2" r="4.5"/><circle cx="216.6" cy="759.4" r="4.5"/><circle cx="290.9" cy="719.7" r="4.5"/><circle cx="200.3" cy="776.5" r="4.5"/><circle cx="273.6" cy="717.5" r="4.5"/><circle cx="237" cy="715.6" r="4.5"/><circle cx="316.9" cy="721.6" r="4.5"/><circle cx="265" cy="791.5" r="4.5"/><circle cx="162" cy="785.6" r="4.5"/><circle cx="232.1" cy="637.8" r="4.5"/><circle cx="258.8" cy="826.7" r="4.5"/><circle cx="330" cy="793.6" r="4.5"/><circle cx="146.1" cy="784.2" r="4.5"/><circle cx="269.4" cy="772.2" r="4.5"/><circle cx="331" cy="720.5" r="4.5"/><circle cx="305.7" cy="756.7" r="4.5"/><circle cx="326.6" cy="666.2" r="4.5"/><circle cx="290.1" cy="635.5" r="4.5"/><circle cx="237.4" cy="633.8" r="4.5"/><circle cx="253.3" cy="757.1" r="4.5"/><circle cx="248.8" cy="721.1" r="4.5"/><circle cx="198.1" cy="838.6" r="4.5"/><circle cx="326" cy="800" r="4.5"/><circle cx="269.5" cy="840.5" r="4.5"/><circle cx="185.1" cy="690.3" r="4.5"/><circle cx="158.1" cy="689.6" r="4.5"/><circle cx="262.6" cy="716.8" r="4.5"/><circle cx="273.4" cy="778.5" r="4.5"/><circle cx="196.9" cy="840.4" r="4.5"/><circle cx="246.5" cy="779.8" r="4.5"/><circle cx="314.8" cy="706.6" r="4.5"/><circle cx="321.3" cy="758" r="4.5"/><circle cx="291.1" cy="661.6" r="4.5"/><circle cx="140.6" cy="666.4" r="4.5"/><circle cx="237.9" cy="770.4" r="4.5"/><circle cx="288" cy="697" r="4.5"/><circle cx="265.1" cy="614.1" r="4.5"/><circle cx="233.2" cy="815.8" r="4.5"/><circle cx="305.2" cy="647.2" r="4.5"/><circle cx="273.4" cy="731" r="4.5"/><circle cx="291" cy="692" r="4.5"/><circle cx="285.1" cy="715.5" r="4.5"/><circle cx="231.3" cy="837" r="4.5"/><circle cx="240.1" cy="723.3" r="4.5"/><circle cx="235.9" cy="825.5" r="4.5"/><circle cx="243.2" cy="689.3" r="4.5"/><circle cx="248.1" cy="619" r="4.5"/><circle cx="314.6" cy="611.1" r="4.5"/><circle cx="243.1" cy="818.2" r="4.5"/><circle cx="212.5" cy="722.7" r="4.5"/><circle cx="262.6" cy="749.5" r="4.5"/><circle cx="313.2" cy="838.4" r="4.5"/><circle cx="300.9" cy="753" r="4.5"/><circle cx="286.9" cy="624.6" r="4.5"/><circle cx="241.7" cy="694.4" r="4.5"/><circle cx="213.5" cy="655.6" r="4.5"/><circle cx="232.7" cy="784.7" r="4.5"/><circle cx="271.4" cy="649.9" r="4.5"/><circle cx="236.4" cy="710.7" r="4.5"/><circle cx="206.7" cy="780.4" r="4.5"/><circle cx="292.9" cy="737.6" r="4.5"/><circle cx="285.5" cy="777.2" r="4.5"/><circle cx="244.4" cy="739.9" r="4.5"/><circle cx="248.6" cy="773" r="4.5"/><circle cx="274.8" cy="675.3" r="4.5"/><circle cx="226.1" cy="790.2" r="4.5"/><circle cx="266.6" cy="708.7" r="4.5"/><circle cx="202.6" cy="741.7" r="4.5"/><circle cx="256.4" cy="692.6" r="4.5"/><circle cx="318.3" cy="684" r="4.5"/><circle cx="336.4" cy="823.6" r="4.5"/><circle cx="239.4" cy="650.1" r="4.5"/><circle cx="292.5" cy="727.5" r="4.5"/><circle cx="236.7" cy="678.6" r="4.5"/><circle cx="282.4" cy="693.8" r="4.5"/><circle cx="304.5" cy="809" r="4.5"/><circle cx="160.8" cy="686.1" r="4.5"/><circle cx="278.4" cy="650.6" r="4.5"/><circle cx="237" cy="651" r="4.5"/><circle cx="312.2" cy="778.2" r="4.5"/><circle cx="303.8" cy="818.7" r="4.5"/><circle cx="310.9" cy="741.3" r="4.5"/><circle cx="388.3" cy="635.9" r="4.5"/><circle cx="147" cy="631.4" r="4.5"/><circle cx="287.1" cy="824.4" r="4.5"/><circle cx="191" cy="721.2" r="4.5"/><circle cx="265.3" cy="665.8" r="4.5"/><circle cx="407.7" cy="714.8" r="4.5"/><circle cx="290.3" cy="812.2" r="4.5"/><circle cx="267.9" cy="632" r="4.5"/><circle cx="240" cy="686.3" r="4.5"/><circle cx="291.8" cy="721.2" r="4.5"/><circle cx="300.5" cy="718.2" r="4.5"/><circle cx="243.2" cy="653.9" r="4.5"/><circle cx="235.9" cy="603.7" r="4.5"/><circle cx="311.2" cy="610.5" r="4.5"/><circle cx="223.6" cy="738.5" r="4.5"/><circle cx="345" cy="771.8" r="4.5"/><circle cx="258.8" cy="718.1" r="4.5"/><circle cx="327.4" cy="679.7" r="4.5"/><circle cx="294.8" cy="725.2" r="4.5"/><circle cx="239.4" cy="783.7" r="4.5"/><circle cx="251.3" cy="787.1" r="4.5"/><circle cx="216.6" cy="696.1" r="4.5"/><circle cx="345.4" cy="634.6" r="4.5"/><circle cx="146.6" cy="670.3" r="4.5"/><circle cx="264" cy="622.1" r="4.5"/><circle cx="208.3" cy="694.2" r="4.5"/><circle cx="248.7" cy="756.8" r="4.5"/><circle cx="271.9" cy="747.9" r="4.5"/><circle cx="254.8" cy="659.2" r="4.5"/><circle cx="212.5" cy="754.6" r="4.5"/><circle cx="246.7" cy="803.5" r="4.5"/><circle cx="271.2" cy="627.1" r="4.5"/><circle cx="245" cy="651.9" r="4.5"/><circle cx="269.9" cy="720.1" r="4.5"/><circle cx="244.1" cy="671.8" r="4.5"/><circle cx="206.5" cy="642.7" r="4.5"/><circle cx="248.5" cy="842.4" r="4.5"/><circle cx="220" cy="659" r="4.5"/><circle cx="284.2" cy="709.9" r="4.5"/><circle cx="341.6" cy="825.1" r="4.5"/><circle cx="288.5" cy="761.6" r="4.5"/><circle cx="245.5" cy="810.1" r="4.5"/><circle cx="173.4" cy="677.4" r="4.5"/><circle cx="279.6" cy="686.3" r="4.5"/><circle cx="349.9" cy="683.1" r="4.5"/><circle cx="266.3" cy="784.1" r="4.5"/><circle cx="233.7" cy="824.2" r="4.5"/><circle cx="242.9" cy="798.1" r="4.5"/><circle cx="242.7" cy="742.5" r="4.5"/><circle cx="309.3" cy="784.5" r="4.5"/><circle cx="325.9" cy="836.9" r="4.5"/><circle cx="242.5" cy="667.3" r="4.5"/><circle cx="262" cy="731.5" r="4.5"/><circle cx="287.6" cy="603.9" r="4.5"/><circle cx="286.1" cy="667.7" r="4.5"/><circle cx="238.5" cy="786.1" r="4.5"/><circle cx="386.6" cy="784.7" r="4.5"/><circle cx="144.2" cy="752.1" r="4.5"/><circle cx="288" cy="697" r="4.5"/><circle cx="274" cy="741.7" r="4.5"/><circle cx="239.6" cy="764.5" r="4.5"/><circle cx="256.6" cy="829.5" r="4.5"/><circle cx="307.3" cy="754.5" r="4.5"/><circle cx="312.9" cy="730.3" r="4.5"/><circle cx="276.3" cy="608.4" r="4.5"/><circle cx="302.1" cy="767.5" r="4.5"/><circle cx="279.1" cy="634" r="4.5"/><circle cx="237.5" cy="671" r="4.5"/><circle cx="276.6" cy="830.3" r="4.5"/><circle cx="165.2" cy="688.8" r="4.5"/><circle cx="170.4" cy="774.7" r="4.5"/><circle cx="306.3" cy="827.7" r="4.5"/><circle cx="265.6" cy="757.3" r="4.5"/><circle cx="316.2" cy="691.4" r="4.5"/><circle cx="257.4" cy="737.2" r="4.5"/><circle cx="290.1" cy="830.1" r="4.5"/><circle cx="247.3" cy="816.2" r="4.5"/><circle cx="252.8" cy="647.8" r="4.5"/><circle cx="217.4" cy="713.4" r="4.5"/><circle cx="224" cy="804.7" r="4.5"/><circle cx="202.8" cy="823.4" r="4.5"/><circle cx="336.6" cy="688.7" r="4.5"/><circle cx="244.5" cy="834.8" r="4.5"/><circle cx="220.2" cy="709.9" r="4.5"/><circle cx="156.2" cy="837.5" r="4.5"/><circle cx="374.6" cy="809.6" r="4.5"/><circle cx="349.2" cy="731.1" r="4.5"/><circle cx="199.5" cy="658" r="4.5"/><circle cx="243.7" cy="609.6" r="4.5"/><circle cx="241.8" cy="773.5" r="4.5"/><circle cx="327.8" cy="705.1" r="4.5"/><circle cx="278.5" cy="627.1" r="4.5"/><circle cx="300.8" cy="770.4" r="4.5"/><circle cx="274.6" cy="636.4" r="4.5"/><circle cx="248.1" cy="738.6" r="4.5"/><circle cx="276.8" cy="725.1" r="4.5"/><circle cx="259.9" cy="687.3" r="4.5"/><circle cx="254.5" cy="745.5" r="4.5"/><circle cx="180.4" cy="768.5" r="4.5"/><circle cx="283.7" cy="841.9" r="4.5"/><circle cx="217.9" cy="605.6" r="4.5"/><circle cx="298.9" cy="833.9" r="4.5"/><circle cx="331.1" cy="611.5" r="4.5"/><circle cx="189.8" cy="680.6" r="4.5"/><circle cx="244.3" cy="770" r="4.5"/><circle cx="282.5" cy="805.8" r="4.5"/><circle cx="175.3" cy="622.2" r="4.5"/><circle cx="202.3" cy="801" r="4.5"/><circle cx="306" cy="759.2" r="4.5"/><circle cx="281.1" cy="656.8" r="4.5"/><circle cx="189.6" cy="765.7" r="4.5"/><circle cx="292.1" cy="660.9" r="4.5"/><circle cx="204.1" cy="789.3" r="4.5"/><circle cx="144.8" cy="636.1" r="4.5"/><circle cx="347.4" cy="688" r="4.5"/><circle cx="230.8" cy="808.1" r="4.5"/><circle cx="319.5" cy="788.1" r="4.5"/><circle cx="309.8" cy="775.4" r="4.5"/><circle cx="222.2" cy="840" r="4.5"/><circle cx="221.5" cy="661.8" r="4.5"/><circle cx="214.3" cy="616.1" r="4.5"/><circle cx="263.4" cy="658.1" r="4.5"/><circle cx="284.6" cy="610.1" r="4.5"/><circle cx="277.7" cy="720.4" r="4.5"/><circle cx="228.8" cy="804.2" r="4.5"/><circle cx="285.1" cy="699.7" r="4.5"/><circle cx="225.3" cy="832.6" r="4.5"/><circle cx="149.3" cy="746" r="4.5"/><circle cx="232.3" cy="755.6" r="4.5"/><circle cx="272.5" cy="841.1" r="4.5"/><circle cx="281.6" cy="783.5" r="4.5"/><circle cx="333.4" cy="681.2" r="4.5"/><circle cx="281.2" cy="696.2" r="4.5"/><circle cx="199" cy="804.6" r="4.5"/><circle cx="291.2" cy="838.3" r="4.5"/><circle cx="210.8" cy="714.6" r="4.5"/><circle cx="194.8" cy="671.3" r="4.5"/><circle cx="258.6" cy="717.6" r="4.5"/><circle cx="285.4" cy="779.4" r="4.5"/><circle cx="321.5" cy="626.7" r="4.5"/><circle cx="241.5" cy="778.1" r="4.5"/><circle cx="237.2" cy="806.6" r="4.5"/><circle cx="200" cy="729.3" r="4.5"/><circle cx="239.8" cy="840.8" r="4.5"/><circle cx="376" cy="756.3" r="4.5"/><circle cx="206.7" cy="791.5" r="4.5"/><circle cx="260" cy="670.1" r="4.5"/><circle cx="244.6" cy="824.2" r="4.5"/><circle cx="249.9" cy="606.7" r="4.5"/><circle cx="273.9" cy="642.1" r="4.5"/><circle cx="273.5" cy="822.2" r="4.5"/><circle cx="313.6" cy="684.8" r="4.5"/><circle cx="199.5" cy="792.7" r="4.5"/><circle cx="259.7" cy="635.9" r="4.5"/><circle cx="238.3" cy="668.4" r="4.5"/><circle cx="229.2" cy="836.1" r="4.5"/><circle cx="302.3" cy="653.5" r="4.5"/><circle cx="189.5" cy="791.6" r="4.5"/><circle cx="231.1" cy="755.4" r="4.5"/><circle cx="191.9" cy="823.8" r="4.5"/><circle cx="379.1" cy="701.7" r="4.5"/><circle cx="292" cy="689" r="4.5"/><circle cx="262" cy="661.2" r="4.5"/><circle cx="216.8" cy="766.8" r="4.5"/><circle cx="201.9" cy="700.2" r="4.5"/><circle cx="182.1" cy="657.4" r="4.5"/><circle cx="234.4" cy="620.6" r="4.5"/><circle cx="302.3" cy="737" r="4.5"/><circle cx="260.3" cy="714.2" r="4.5"/><circle cx="296.3" cy="655.5" r="4.5"/><circle cx="223.4" cy="828" r="4.5"/><circle cx="219.2" cy="758.5" r="4.5"/><circle cx="272" cy="687.3" r="4.5"/><circle cx="270.7" cy="686.6" r="4.5"/><circle cx="167.3" cy="735.4" r="4.5"/><circle cx="284" cy="765" r="4.5"/><circle cx="227" cy="760.7" r="4.5"/><circle cx="187.2" cy="754.9" r="4.5"/><circle cx="246.3" cy="781.3" r="4.5"/><circle cx="192.3" cy="825.6" r="4.5"/><circle cx="175.4" cy="665.6" r="4.5"/><circle cx="298.3" cy="677.9" r="4.5"/><circle cx="319.3" cy="772.3" r="4.5"/><circle cx="306.4" cy="632.3" r="4.5"/><circle cx="169.6" cy="628.5" r="4.5"/><circle cx="255" cy="744.2" r="4.5"/><circle cx="204.1" cy="702.8" r="4.5"/><circle cx="223.2" cy="643.9" r="4.5"/><circle cx="303" cy="697.8" r="4.5"/><circle cx="260.2" cy="711.5" r="4.5"/><circle cx="263.3" cy="698.4" r="4.5"/><circle cx="183.9" cy="682.7" r="4.5"/><circle cx="166.7" cy="805.6" r="4.5"/><circle cx="232.8" cy="680.9" r="4.5"/><circle cx="348.7" cy="771.3" r="4.5"/><circle cx="235.5" cy="716.5" r="4.5"/><circle cx="229.9" cy="652.3" r="4.5"/><circle cx="229.9" cy="652.3" r="4.5"/><circle cx="239.7" cy="840.1" r="4.5"/><circle cx="276.8" cy="657.5" r="4.5"/><circle cx="189.2" cy="776.2" r="4.5"/><circle cx="272.8" cy="750.3" r="4.5"/><circle cx="223.7" cy="731.5" r="4.5"/><circle cx="304.6" cy="722.5" r="4.5"/><circle cx="296.5" cy="650.8" r="4.5"/><circle cx="264.9" cy="739.8" r="4.5"/><circle cx="194" cy="669.7" r="4.5"/><circle cx="286.2" cy="701.2" r="4.5"/><circle cx="188.2" cy="815.7" r="4.5"/><circle cx="288.6" cy="679.6" r="4.5"/><circle cx="286.3" cy="822" r="4.5"/><circle cx="275.9" cy="653.6" r="4.5"/><circle cx="350.6" cy="799.5" r="4.5"/><circle cx="310.6" cy="782.8" r="4.5"/><circle cx="302.6" cy="728.4" r="4.5"/><circle cx="201.2" cy="694.7" r="4.5"/><circle cx="265.9" cy="831.2" r="4.5"/><circle cx="253.4" cy="660.2" r="4.5"/><circle cx="192.6" cy="699.9" r="4.5"/><circle cx="353.9" cy="711" r="4.5"/><circle cx="188.3" cy="630.1" r="4.5"/><circle cx="256.2" cy="710.6" r="4.5"/><circle cx="241.3" cy="674.3" r="4.5"/><circle cx="248.4" cy="660.7" r="4.5"/><circle cx="177.2" cy="665.6" r="4.5"/><circle cx="272.6" cy="617.5" r="4.5"/><circle cx="250.1" cy="818" r="4.5"/><circle cx="236.8" cy="784.4" r="4.5"/><circle cx="281.2" cy="732.5" r="4.5"/><circle cx="240.4" cy="733.5" r="4.5"/><circle cx="240.1" cy="640.2" r="4.5"/><circle cx="363.9" cy="820" r="4.5"/><circle cx="202.5" cy="780.1" r="4.5"/><circle cx="184.3" cy="814.8" r="4.5"/><circle cx="330" cy="793.6" r="4.5"/><circle cx="275.4" cy="669.8" r="4.5"/><circle cx="253.9" cy="726.5" r="4.5"/><circle cx="251.5" cy="619.8" r="4.5"/><circle cx="286.5" cy="686.3" r="4.5"/><circle cx="244.7" cy="786.2" r="4.5"/><circle cx="173" cy="727.1" r="4.5"/><circle cx="248.3" cy="688.6" r="4.5"/><circle cx="311.7" cy="614.3" r="4.5"/><circle cx="266.4" cy="625.4" r="4.5"/><circle cx="236.6" cy="635.3" r="4.5"/><circle cx="252.2" cy="837.2" r="4.5"/><circle cx="324.3" cy="819.7" r="4.5"/><circle cx="181.9" cy="722.8" r="4.5"/><circle cx="311.2" cy="815" r="4.5"/><circle cx="197.7" cy="607.5" r="4.5"/><circle cx="365.9" cy="751" r="4.5"/><circle cx="277.8" cy="830.7" r="4.5"/><circle cx="279.1" cy="798.3" r="4.5"/><circle cx="156.8" cy="694.5" r="4.5"/><circle cx="256.6" cy="666" r="4.5"/><circle cx="236.4" cy="617.2" r="4.5"/><circle cx="286.3" cy="695.3" r="4.5"/><circle cx="392" cy="621.9" r="4.5"/><circle cx="278.3" cy="841.3" r="4.5"/><circle cx="412.7" cy="636.1" r="4.5"/><circle cx="196.4" cy="734.5" r="4.5"/><circle cx="232.3" cy="750.7" r="4.5"/><circle cx="227.8" cy="730.8" r="4.5"/><circle cx="305.3" cy="624.7" r="4.5"/><circle cx="160.7" cy="818.7" r="4.5"/><circle cx="268.9" cy="710.6" r="4.5"/><circle cx="211.4" cy="828.1" r="4.5"/><circle cx="267.9" cy="832.7" r="4.5"/><circle cx="271" cy="720.4" r="4.5"/><circle cx="232.4" cy="826.3" r="4.5"/><circle cx="244.3" cy="779.2" r="4.5"/><circle cx="182.1" cy="817.9" r="4.5"/><circle cx="223.5" cy="835.2" r="4.5"/><circle cx="194.5" cy="829.7" r="4.5"/><circle cx="376.7" cy="831.4" r="4.5"/><circle cx="298.3" cy="804.7" r="4.5"/><circle cx="284" cy="636.5" r="4.5"/><circle cx="301.7" cy="656.3" r="4.5"/><circle cx="257.6" cy="648.2" r="4.5"/><circle cx="278.3" cy="607.9" r="4.5"/><circle cx="193.7" cy="742" r="4.5"/><circle cx="317.2" cy="615.2" r="4.5"/><circle cx="263.5" cy="755.3" r="4.5"/><circle cx="267.6" cy="797.6" r="4.5"/><circle cx="343.3" cy="629.9" r="4.5"/><circle cx="269.8" cy="825.5" r="4.5"/><circle cx="164.1" cy="787.8" r="4.5"/><circle cx="317" cy="642" r="4.5"/><circle cx="260.5" cy="696.8" r="4.5"/><circle cx="189.8" cy="680.6" r="4.5"/><circle cx="246" cy="691.8" r="4.5"/><circle cx="290.9" cy="620.2" r="4.5"/><circle cx="187.3" cy="768.8" r="4.5"/><circle cx="257.8" cy="837.9" r="4.5"/><circle cx="173.2" cy="683.2" r="4.5"/><circle cx="203.8" cy="627.7" r="4.5"/><circle cx="289.4" cy="625.4" r="4.5"/><circle cx="288.3" cy="689.8" r="4.5"/><circle cx="212.8" cy="734.9" r="4.5"/><circle cx="226.1" cy="627.2" r="4.5"/><circle cx="363" cy="641.9" r="4.5"/><circle cx="320.4" cy="809.3" r="4.5"/><circle cx="312.4" cy="637.5" r="4.5"/><circle cx="194.2" cy="808.3" r="4.5"/><circle cx="181.5" cy="728.1" r="4.5"/><circle cx="252.3" cy="724.2" r="4.5"/><circle cx="252.3" cy="692.8" r="4.5"/><circle cx="294.9" cy="804.9" r="4.5"/><circle cx="236.8" cy="654.7" r="4.5"/><circle cx="273.6" cy="717.5" r="4.5"/><circle cx="244.7" cy="724.8" r="4.5"/><circle cx="227.8" cy="688.1" r="4.5"/><circle cx="202.5" cy="768.3" r="4.5"/><circle cx="260.6" cy="685.9" r="4.5"/><circle cx="282.3" cy="783.4" r="4.5"/><circle cx="184.9" cy="674.4" r="4.5"/><circle cx="164.9" cy="757.1" r="4.5"/><circle cx="197.2" cy="746.9" r="4.5"/><circle cx="254.5" cy="612.7" r="4.5"/><circle cx="314.8" cy="706.6" r="4.5"/><circle cx="252" cy="653.2" r="4.5"/><circle cx="322.6" cy="748.2" r="4.5"/><circle cx="241.1" cy="608.3" r="4.5"/><circle cx="227.2" cy="660.4" r="4.5"/><circle cx="272.7" cy="621.5" r="4.5"/><circle cx="230.5" cy="634.7" r="4.5"/><circle cx="287.9" cy="730.7" r="4.5"/><circle cx="248" cy="775" r="4.5"/><circle cx="232.2" cy="684.8" r="4.5"/><circle cx="191.3" cy="686.4" r="4.5"/><circle cx="337.1" cy="644.7" r="4.5"/><circle cx="344.2" cy="699.5" r="4.5"/><circle cx="240.9" cy="616.3" r="4.5"/><circle cx="355" cy="834.7" r="4.5"/><circle cx="282" cy="637.8" r="4.5"/><circle cx="328.4" cy="819.7" r="4.5"/><circle cx="203.4" cy="711.5" r="4.5"/><circle cx="121.6" cy="665.3" r="4.5"/><circle cx="187" cy="742.3" r="4.5"/><circle cx="254.1" cy="743.6" r="4.5"/><circle cx="186.3" cy="808.3" r="4.5"/><circle cx="159.6" cy="800.3" r="4.5"/><circle cx="259.7" cy="606.2" r="4.5"/><circle cx="282.2" cy="733.4" r="4.5"/><circle cx="178.1" cy="784.3" r="4.5"/><circle cx="284.2" cy="714.7" r="4.5"/><circle cx="157" cy="611.1" r="4.5"/><circle cx="248.9" cy="770.2" r="4.5"/><circle cx="252.9" cy="631.3" r="4.5"/><circle cx="315.5" cy="710.1" r="4.5"/><circle cx="319.7" cy="660.8" r="4.5"/><circle cx="137.6" cy="613.3" r="4.5"/><circle cx="275" cy="644.8" r="4.5"/><circle cx="313" cy="801.6" r="4.5"/><circle cx="271.4" cy="657.8" r="4.5"/><circle cx="174.2" cy="779.7" r="4.5"/><circle cx="203.2" cy="773" r="4.5"/><circle cx="305.4" cy="823.4" r="4.5"/><circle cx="186.3" cy="814.5" r="4.5"/><circle cx="260.6" cy="685.9" r="4.5"/><circle cx="249.5" cy="650.3" r="4.5"/><circle cx="162" cy="835.1" r="4.5"/><circle cx="253.8" cy="789.4" r="4.5"/><circle cx="269.4" cy="751.5" r="4.5"/><circle cx="203.8" cy="630.4" r="4.5"/><circle cx="120.4" cy="727.5" r="4.5"/><circle cx="221.8" cy="842.7" r="4.5"/><circle cx="244.2" cy="843.4" r="4.5"/><circle cx="258.5" cy="826.8" r="4.5"/><circle cx="225.5" cy="637.4" r="4.5"/><circle cx="271" cy="720.4" r="4.5"/><circle cx="260.5" cy="789.8" r="4.5"/><circle cx="331" cy="720.5" r="4.5"/><circle cx="332.6" cy="791" r="4.5"/><circle cx="230.1" cy="839.2" r="4.5"/><circle cx="289.3" cy="637.8" r="4.5"/><circle cx="196.8" cy="763.1" r="4.5"/><circle cx="175.2" cy="609.8" r="4.5"/><circle cx="413.8" cy="701.1" r="4.5"/><circle cx="133.9" cy="699.2" r="4.5"/><circle cx="206.2" cy="662.6" r="4.5"/><circle cx="312.7" cy="802.6" r="4.5"/><circle cx="151.2" cy="613.5" r="4.5"/><circle cx="359" cy="664.6" r="4.5"/><circle cx="132.3" cy="830.8" r="4.5"/><circle cx="169.7" cy="609.7" r="4.5"/><circle cx="245.8" cy="795.4" r="4.5"/><circle cx="160.7" cy="643.6" r="4.5"/><circle cx="285.4" cy="638.6" r="4.5"/><circle cx="230.2" cy="754.5" r="4.5"/><circle cx="369.4" cy="796.4" r="4.5"/><circle cx="415.5" cy="770.3" r="4.5"/><circle cx="206.7" cy="791.5" r="4.5"/><circle cx="172.2" cy="837.1" r="4.5"/><circle cx="302.9" cy="710.3" r="4.5"/><circle cx="277.4" cy="760.1" r="4.5"/><circle cx="259.9" cy="720.5" r="4.5"/><circle cx="352.3" cy="795.9" r="4.5"/><circle cx="233.4" cy="759.3" r="4.5"/><circle cx="377.6" cy="617.5" r="4.5"/><circle cx="295.7" cy="649.5" r="4.5"/><circle cx="270.5" cy="642" r="4.5"/><circle cx="291.2" cy="836.6" r="4.5"/><circle cx="322.1" cy="834.9" r="4.5"/><circle cx="241.1" cy="784.5" r="4.5"/><circle cx="255.8" cy="707" r="4.5"/><circle cx="148.1" cy="772" r="4.5"/><circle cx="227.5" cy="622.4" r="4.5"/><circle cx="235.9" cy="788.3" r="4.5"/><circle cx="256.2" cy="809.1" r="4.5"/><circle cx="393.7" cy="737.4" r="4.5"/><circle cx="249" cy="741.4" r="4.5"/><circle cx="200.3" cy="780.4" r="4.5"/><circle cx="277.1" cy="823" r="4.5"/><circle cx="234.4" cy="719.9" r="4.5"/><circle cx="197" cy="614.1" r="4.5"/><circle cx="181" cy="688" r="4.5"/><circle cx="202" cy="680.6" r="4.5"/><circle cx="266.7" cy="669.8" r="4.5"/><circle cx="311.8" cy="771.4" r="4.5"/><circle cx="194.7" cy="692.8" r="4.5"/><circle cx="376" cy="687.3" r="4.5"/><circle cx="284.7" cy="717.2" r="4.5"/><circle cx="328.8" cy="794.9" r="4.5"/><circle cx="305.3" cy="672.8" r="4.5"/><circle cx="316.4" cy="709.9" r="4.5"/><circle cx="338.7" cy="650.4" r="4.5"/><circle cx="280" cy="625" r="4.5"/><circle cx="239.9" cy="777.4" r="4.5"/><circle cx="224.1" cy="758.9" r="4.5"/><circle cx="243" cy="603.9" r="4.5"/><circle cx="197.4" cy="829.7" r="4.5"/><circle cx="242.4" cy="723.7" r="4.5"/><circle cx="161.1" cy="804.7" r="4.5"/><circle cx="223.3" cy="694.9" r="4.5"/><circle cx="288.8" cy="700.9" r="4.5"/><circle cx="249.3" cy="619.5" r="4.5"/><circle cx="317.2" cy="671.4" r="4.5"/><circle cx="340" cy="790.6" r="4.5"/><circle cx="236.9" cy="766.5" r="4.5"/><circle cx="180.4" cy="829.4" r="4.5"/><circle cx="224.2" cy="743.9" r="4.5"/><circle cx="253.1" cy="758.5" r="4.5"/><circle cx="290.9" cy="712.2" r="4.5"/><circle cx="249.1" cy="804.8" r="4.5"/><circle cx="230.5" cy="770.2" r="4.5"/><circle cx="226.5" cy="702.2" r="4.5"/><circle cx="261.8" cy="816.4" r="4.5"/><circle cx="195.2" cy="646.6" r="4.5"/><circle cx="112.3" cy="841.9" r="4.5"/><circle cx="280.7" cy="803.1" r="4.5"/><circle cx="187.2" cy="754.9" r="4.5"/><circle cx="317.9" cy="752.7" r="4.5"/><circle cx="333.3" cy="797.7" r="4.5"/><circle cx="291.8" cy="606.9" r="4.5"/><circle cx="258.5" cy="772.3" r="4.5"/><circle cx="244.4" cy="768.2" r="4.5"/><circle cx="194.8" cy="671.3" r="4.5"/><circle cx="262.9" cy="796.4" r="4.5"/><circle cx="234.9" cy="610.5" r="4.5"/><circle cx="249.2" cy="664" r="4.5"/><circle cx="287.6" cy="694.3" r="4.5"/><circle cx="173.8" cy="709.1" r="4.5"/><circle cx="154.9" cy="667.4" r="4.5"/><circle cx="354.8" cy="734.1" r="4.5"/><circle cx="217.7" cy="759.1" r="4.5"/><circle cx="207.2" cy="773.6" r="4.5"/><circle cx="169.5" cy="627" r="4.5"/><circle cx="209.6" cy="744.9" r="4.5"/><circle cx="235.3" cy="746.3" r="4.5"/><circle cx="286.5" cy="708.3" r="4.5"/><circle cx="268" cy="716" r="4.5"/><circle cx="231.6" cy="623.9" r="4.5"/><circle cx="196.9" cy="714.4" r="4.5"/><circle cx="239.1" cy="769" r="4.5"/><circle cx="299.8" cy="647.4" r="4.5"/><circle cx="295.6" cy="683.3" r="4.5"/><circle cx="267.9" cy="832.7" r="4.5"/><circle cx="262" cy="758.5" r="4.5"/><circle cx="270" cy="650.2" r="4.5"/><circle cx="301.1" cy="811.4" r="4.5"/><circle cx="261.3" cy="737.3" r="4.5"/><circle cx="229.2" cy="640.5" r="4.5"/><circle cx="232.6" cy="674.1" r="4.5"/><circle cx="295.9" cy="732.8" r="4.5"/><circle cx="237.2" cy="664.8" r="4.5"/><circle cx="269.2" cy="799" r="4.5"/><circle cx="202" cy="680.6" r="4.5"/><circle cx="282" cy="835.6" r="4.5"/><circle cx="279.2" cy="697.9" r="4.5"/><circle cx="296.8" cy="754" r="4.5"/><circle cx="317.8" cy="692.8" r="4.5"/><circle cx="245.6" cy="716.4" r="4.5"/><circle cx="193.5" cy="808.1" r="4.5"/><circle cx="285.8" cy="671.1" r="4.5"/><circle cx="224.1" cy="796.2" r="4.5"/><circle cx="242.5" cy="713.2" r="4.5"/><circle cx="405.5" cy="707.5" r="4.5"/><circle cx="260.9" cy="658.1" r="4.5"/><circle cx="178.1" cy="740.8" r="4.5"/><circle cx="202.8" cy="710.5" r="4.5"/><circle cx="186.3" cy="808.3" r="4.5"/><circle cx="258" cy="710.4" r="4.5"/><circle cx="370.6" cy="647.8" r="4.5"/><circle cx="225.7" cy="833.3" r="4.5"/><circle cx="301.8" cy="720.3" r="4.5"/><circle cx="291.9" cy="608.1" r="4.5"/><circle cx="216.3" cy="766" r="4.5"/><circle cx="279.8" cy="659.6" r="4.5"/><circle cx="269.8" cy="695.1" r="4.5"/><circle cx="245.8" cy="685.1" r="4.5"/><circle cx="239.9" cy="618" r="4.5"/><circle cx="286.6" cy="780" r="4.5"/><circle cx="267.2" cy="616" r="4.5"/><circle cx="216.5" cy="718.4" r="4.5"/><circle cx="219.1" cy="700.8" r="4.5"/><circle cx="366.3" cy="657" r="4.5"/><circle cx="258.6" cy="717.6" r="4.5"/><circle cx="185.9" cy="689.6" r="4.5"/><circle cx="163.4" cy="695" r="4.5"/><circle cx="325.8" cy="639.1" r="4.5"/><circle cx="239.1" cy="659.7" r="4.5"/><circle cx="251.1" cy="620.8" r="4.5"/><circle cx="231.4" cy="620.3" r="4.5"/><circle cx="306.4" cy="816.1" r="4.5"/><circle cx="261" cy="725" r="4.5"/><circle cx="251.6" cy="778.9" r="4.5"/><circle cx="309.5" cy="698.6" r="4.5"/><circle cx="175.1" cy="766.9" r="4.5"/><circle cx="228.8" cy="804.2" r="4.5"/><circle cx="312.8" cy="774.5" r="4.5"/><circle cx="162.6" cy="640.4" r="4.5"/><circle cx="299.1" cy="669.2" r="4.5"/><circle cx="226.9" cy="763.5" r="4.5"/><circle cx="264.5" cy="755.6" r="4.5"/><circle cx="271.7" cy="667.8" r="4.5"/><circle cx="248.3" cy="610.8" r="4.5"/><circle cx="316.2" cy="669.7" r="4.5"/><circle cx="249.9" cy="670.7" r="4.5"/><circle cx="259" cy="804" r="4.5"/><circle cx="244.8" cy="792.5" r="4.5"/><circle cx="244.8" cy="685.9" r="4.5"/><circle cx="230.1" cy="633.8" r="4.5"/><circle cx="257" cy="673" r="4.5"/><circle cx="360.5" cy="737.3" r="4.5"/><circle cx="315.6" cy="716.7" r="4.5"/><circle cx="207.2" cy="715.8" r="4.5"/><circle cx="298" cy="708" r="4.5"/><circle cx="209" cy="785" r="4.5"/><circle cx="266.7" cy="805.8" r="4.5"/><circle cx="217.3" cy="616.9" r="4.5"/><circle cx="255.8" cy="707" r="4.5"/><circle cx="313.1" cy="802.1" r="4.5"/><circle cx="325.2" cy="775.1" r="4.5"/><circle cx="243.9" cy="767.2" r="4.5"/><circle cx="291.9" cy="753" r="4.5"/><circle cx="299.6" cy="612.4" r="4.5"/><circle cx="289.1" cy="717" r="4.5"/><circle cx="226.8" cy="638" r="4.5"/><circle cx="201.6" cy="746.5" r="4.5"/><circle cx="200.6" cy="789.2" r="4.5"/><circle cx="191.7" cy="623.9" r="4.5"/><circle cx="222.5" cy="671.7" r="4.5"/><circle cx="222.1" cy="758.4" r="4.5"/><circle cx="209.9" cy="738.5" r="4.5"/><circle cx="317.1" cy="683.4" r="4.5"/><circle cx="213.9" cy="790.2" r="4.5"/><circle cx="266.2" cy="609.9" r="4.5"/><circle cx="285.9" cy="757.6" r="4.5"/><circle cx="246.5" cy="707.5" r="4.5"/><circle cx="287.3" cy="635.1" r="4.5"/><circle cx="208.3" cy="734.9" r="4.5"/><circle cx="217" cy="619.1" r="4.5"/><circle cx="295" cy="673.9" r="4.5"/><circle cx="273.4" cy="778.5" r="4.5"/><circle cx="289" cy="677.8" r="4.5"/><circle cx="263.3" cy="628.9" r="4.5"/><circle cx="268.4" cy="743.4" r="4.5"/><circle cx="289.4" cy="789.7" r="4.5"/><circle cx="364.1" cy="735.6" r="4.5"/><circle cx="202.5" cy="709.8" r="4.5"/><circle cx="295.7" cy="697.9" r="4.5"/><circle cx="292.2" cy="808.6" r="4.5"/><circle cx="283.8" cy="630.1" r="4.5"/><circle cx="224.7" cy="817.7" r="4.5"/><circle cx="228.7" cy="730.3" r="4.5"/><circle cx="333.4" cy="681.2" r="4.5"/><circle cx="244.2" cy="722.6" r="4.5"/><circle cx="380.1" cy="743.9" r="4.5"/><circle cx="238" cy="728.3" r="4.5"/><circle cx="246.9" cy="783.5" r="4.5"/><circle cx="245.2" cy="730" r="4.5"/><circle cx="201.6" cy="735.6" r="4.5"/><circle cx="232.8" cy="715.3" r="4.5"/><circle cx="115.9" cy="687.4" r="4.5"/><circle cx="331.1" cy="698.5" r="4.5"/><circle cx="335.1" cy="644.8" r="4.5"/><circle cx="211.5" cy="835.2" r="4.5"/><circle cx="342.5" cy="809.9" r="4.5"/><circle cx="266.5" cy="641.4" r="4.5"/><circle cx="231.1" cy="702.6" r="4.5"/><circle cx="176.8" cy="838.7" r="4.5"/><circle cx="331.1" cy="822.7" r="4.5"/><circle cx="307.7" cy="843.5" r="4.5"/><circle cx="245.3" cy="693.9" r="4.5"/><circle cx="187.6" cy="740.9" r="4.5"/><circle cx="234.1" cy="616.4" r="4.5"/><circle cx="185" cy="762.6" r="4.5"/><circle cx="206.1" cy="745.6" r="4.5"/><circle cx="264.6" cy="801" r="4.5"/><circle cx="248.2" cy="716.6" r="4.5"/><circle cx="316.3" cy="788" r="4.5"/><circle cx="300.9" cy="753" r="4.5"/><circle cx="263.5" cy="713.2" r="4.5"/><circle cx="288.6" cy="703.1" r="4.5"/><circle cx="290.1" cy="830.1" r="4.5"/><circle cx="360.6" cy="734.4" r="4.5"/><circle cx="270.5" cy="651.8" r="4.5"/><circle cx="255.2" cy="715.8" r="4.5"/><circle cx="286.8" cy="776.7" r="4.5"/><circle cx="154.3" cy="710.9" r="4.5"/><circle cx="240.3" cy="823.4" r="4.5"/><circle cx="326.8" cy="812" r="4.5"/><circle cx="244.9" cy="617" r="4.5"/><circle cx="328.3" cy="800.8" r="4.5"/><circle cx="249.9" cy="674.7" r="4.5"/><circle cx="285.3" cy="774.3" r="4.5"/><circle cx="282.9" cy="668.7" r="4.5"/><circle cx="141.3" cy="816.9" r="4.5"/><circle cx="235" cy="667.4" r="4.5"/><circle cx="278.2" cy="731.1" r="4.5"/><circle cx="196.8" cy="763.1" r="4.5"/><circle cx="277.8" cy="612.7" r="4.5"/><circle cx="253.7" cy="608.9" r="4.5"/><circle cx="303.2" cy="654.6" r="4.5"/><circle cx="180" cy="792.7" r="4.5"/><circle cx="283" cy="635.9" r="4.5"/><circle cx="247.7" cy="769.5" r="4.5"/><circle cx="192.4" cy="663.5" r="4.5"/><circle cx="259.8" cy="650.8" r="4.5"/><circle cx="246.1" cy="671.8" r="4.5"/><circle cx="250.4" cy="746" r="4.5"/><circle cx="310.1" cy="626.6" r="4.5"/><circle cx="250.6" cy="715.5" r="4.5"/><circle cx="153.8" cy="843.4" r="4.5"/><circle cx="255.4" cy="621.6" r="4.5"/><circle cx="234.4" cy="663.2" r="4.5"/><circle cx="302.5" cy="660.4" r="4.5"/><circle cx="257.3" cy="618.8" r="4.5"/><circle cx="174.4" cy="814.6" r="4.5"/><circle cx="271" cy="619.8" r="4.5"/><circle cx="267.3" cy="811.7" r="4.5"/><circle cx="294.5" cy="693.7" r="4.5"/><circle cx="316.6" cy="651.5" r="4.5"/><circle cx="367.3" cy="798.6" r="4.5"/><circle cx="338.4" cy="639.1" r="4.5"/><circle cx="165.8" cy="766.5" r="4.5"/><circle cx="229.3" cy="684.3" r="4.5"/><circle cx="298.8" cy="643.3" r="4.5"/><circle cx="254.6" cy="754.8" r="4.5"/><circle cx="255.4" cy="766.4" r="4.5"/><circle cx="280.1" cy="777.3" r="4.5"/><circle cx="312.3" cy="618.8" r="4.5"/><circle cx="220.5" cy="691.9" r="4.5"/><circle cx="265.9" cy="671.6" r="4.5"/><circle cx="258.6" cy="678.4" r="4.5"/><circle cx="338.1" cy="654.7" r="4.5"/><circle cx="300.6" cy="611.5" r="4.5"/><circle cx="221.5" cy="711.8" r="4.5"/><circle cx="245.5" cy="661.2" r="4.5"/><circle cx="154.1" cy="737.8" r="4.5"/><circle cx="186.6" cy="682.4" r="4.5"/><circle cx="263.8" cy="696.3" r="4.5"/><circle cx="331.4" cy="609" r="4.5"/><circle cx="160.5" cy="799.2" r="4.5"/><circle cx="314.9" cy="627.7" r="4.5"/><circle cx="258.6" cy="742.1" r="4.5"/><circle cx="138.7" cy="682.9" r="4.5"/><circle cx="212.7" cy="685.3" r="4.5"/><circle cx="466.7" cy="670.5" r="4.5"/><circle cx="422.7" cy="720.5" r="4.5"/><circle cx="430.5" cy="795" r="4.5"/><circle cx="116.3" cy="694.3" r="4.5"/><circle cx="121.2" cy="796.4" r="4.5"/><circle cx="128.4" cy="803.3" r="4.5"/>
</g>
<g class="pg">
<circle cx="219.2" cy="565.5" r="4.5"/><circle cx="239.7" cy="510" r="4.5"/><circle cx="218.1" cy="581.9" r="4.5"/><circle cx="246.2" cy="506.5" r="4.5"/><circle cx="185.9" cy="539.5" r="4.5"/><circle cx="205.8" cy="531.3" r="4.5"/><circle cx="241.8" cy="535.2" r="4.5"/><circle cx="264.5" cy="559.8" r="4.5"/><circle cx="213.7" cy="553.7" r="4.5"/><circle cx="213.5" cy="576" r="4.5"/><circle cx="129" cy="503.6" r="4.5"/><circle cx="241.6" cy="561.1" r="4.5"/><circle cx="142.2" cy="526.4" r="4.5"/><circle cx="293.7" cy="525.5" r="4.5"/><circle cx="172.6" cy="545.9" r="4.5"/><circle cx="304.5" cy="563.1" r="4.5"/><circle cx="222.3" cy="596.1" r="4.5"/><circle cx="275" cy="529.9" r="4.5"/><circle cx="293.7" cy="578.4" r="4.5"/><circle cx="250.2" cy="600.3" r="4.5"/><circle cx="267.8" cy="534.5" r="4.5"/><circle cx="178.9" cy="529.7" r="4.5"/><circle cx="324.2" cy="592.7" r="4.5"/><circle cx="213.1" cy="507.8" r="4.5"/><circle cx="288.3" cy="563.8" r="4.5"/><circle cx="280.6" cy="544.2" r="4.5"/><circle cx="276.5" cy="526.9" r="4.5"/><circle cx="168.9" cy="535.1" r="4.5"/><circle cx="272.4" cy="570.1" r="4.5"/><circle cx="266.3" cy="592.6" r="4.5"/><circle cx="292.9" cy="521.5" r="4.5"/><circle cx="209.5" cy="569.5" r="4.5"/><circle cx="164.4" cy="502" r="4.5"/><circle cx="287.7" cy="596.3" r="4.5"/><circle cx="225.7" cy="533.9" r="4.5"/><circle cx="209.5" cy="569.5" r="4.5"/><circle cx="243.9" cy="510.6" r="4.5"/><circle cx="252.2" cy="534.4" r="4.5"/><circle cx="255.1" cy="532.9" r="4.5"/><circle cx="270.7" cy="594" r="4.5"/><circle cx="203.1" cy="559.6" r="4.5"/><circle cx="316.1" cy="602.2" r="4.5"/><circle cx="302.7" cy="566.3" r="4.5"/><circle cx="241.8" cy="519.1" r="4.5"/><circle cx="252.4" cy="593.2" r="4.5"/><circle cx="247.5" cy="535.5" r="4.5"/><circle cx="286.1" cy="523.5" r="4.5"/><circle cx="264.7" cy="597.2" r="4.5"/><circle cx="252.3" cy="570.1" r="4.5"/><circle cx="336.9" cy="543" r="4.5"/><circle cx="225.9" cy="598.9" r="4.5"/><circle cx="282.2" cy="539.7" r="4.5"/><circle cx="380.9" cy="507.6" r="4.5"/><circle cx="229.3" cy="508.5" r="4.5"/><circle cx="263.2" cy="574.6" r="4.5"/><circle cx="316.1" cy="579.1" r="4.5"/><circle cx="274.7" cy="597.6" r="4.5"/><circle cx="277.6" cy="583.7" r="4.5"/><circle cx="224.1" cy="543.8" r="4.5"/><circle cx="240.7" cy="542.6" r="4.5"/><circle cx="306.6" cy="583.5" r="4.5"/><circle cx="166.9" cy="574.4" r="4.5"/><circle cx="270.4" cy="540.6" r="4.5"/><circle cx="233.2" cy="566" r="4.5"/><circle cx="276.8" cy="560.2" r="4.5"/><circle cx="259.7" cy="514.6" r="4.5"/><circle cx="351.6" cy="593" r="4.5"/><circle cx="295" cy="514.6" r="4.5"/><circle cx="303.4" cy="570.4" r="4.5"/><circle cx="318.1" cy="517.5" r="4.5"/><circle cx="181.9" cy="524.5" r="4.5"/><circle cx="196.9" cy="564.2" r="4.5"/><circle cx="298.2" cy="552.3" r="4.5"/><circle cx="139.7" cy="593.7" r="4.5"/><circle cx="263.6" cy="546.3" r="4.5"/><circle cx="217.3" cy="508.9" r="4.5"/><circle cx="233.2" cy="544.6" r="4.5"/><circle cx="237.4" cy="535.3" r="4.5"/><circle cx="368.8" cy="517.4" r="4.5"/><circle cx="200.3" cy="503.2" r="4.5"/><circle cx="236.6" cy="536" r="4.5"/><circle cx="230.7" cy="557.1" r="4.5"/><circle cx="126.1" cy="534.2" r="4.5"/><circle cx="270" cy="547.2" r="4.5"/><circle cx="302.5" cy="566.6" r="4.5"/><circle cx="230.4" cy="572.5" r="4.5"/><circle cx="269.1" cy="536.7" r="4.5"/><circle cx="235" cy="592.3" r="4.5"/><circle cx="187.4" cy="530.9" r="4.5"/><circle cx="214" cy="556.4" r="4.5"/><circle cx="256.6" cy="600.9" r="4.5"/><circle cx="152.2" cy="594.9" r="4.5"/><circle cx="318.8" cy="574.3" r="4.5"/><circle cx="321" cy="569.8" r="4.5"/><circle cx="267.6" cy="504.1" r="4.5"/><circle cx="182.2" cy="536" r="4.5"/><circle cx="176.2" cy="530.3" r="4.5"/><circle cx="145.8" cy="540.4" r="4.5"/><circle cx="251.7" cy="532.8" r="4.5"/><circle cx="248.4" cy="515.5" r="4.5"/><circle cx="193.9" cy="580.2" r="4.5"/><circle cx="266.3" cy="589.1" r="4.5"/><circle cx="203.9" cy="546.8" r="4.5"/><circle cx="220.5" cy="521.9" r="4.5"/><circle cx="225.7" cy="533.9" r="4.5"/><circle cx="161.4" cy="598" r="4.5"/><circle cx="266" cy="513.6" r="4.5"/><circle cx="258.4" cy="519.2" r="4.5"/><circle cx="229.4" cy="568.5" r="4.5"/><circle cx="247.1" cy="535.7" r="4.5"/><circle cx="186.2" cy="548.2" r="4.5"/><circle cx="199.4" cy="548.9" r="4.5"/><circle cx="232.1" cy="507.5" r="4.5"/><circle cx="183.9" cy="589.4" r="4.5"/><circle cx="223" cy="535.6" r="4.5"/><circle cx="264" cy="508.6" r="4.5"/><circle cx="264.5" cy="559.8" r="4.5"/><circle cx="229.8" cy="601.5" r="4.5"/><circle cx="157.6" cy="576.9" r="4.5"/><circle cx="214" cy="538.1" r="4.5"/><circle cx="355.9" cy="526.4" r="4.5"/><circle cx="246.5" cy="588.7" r="4.5"/><circle cx="203.6" cy="568.5" r="4.5"/><circle cx="261.7" cy="599.4" r="4.5"/><circle cx="301.1" cy="587.9" r="4.5"/><circle cx="259.7" cy="546.8" r="4.5"/><circle cx="207.6" cy="525.9" r="4.5"/><circle cx="252.8" cy="549.2" r="4.5"/><circle cx="269.2" cy="509.9" r="4.5"/><circle cx="219.7" cy="534.7" r="4.5"/><circle cx="260.3" cy="556.4" r="4.5"/><circle cx="191" cy="573.3" r="4.5"/><circle cx="320" cy="550.5" r="4.5"/><circle cx="195.2" cy="513.4" r="4.5"/><circle cx="177.7" cy="572.9" r="4.5"/><circle cx="234.8" cy="561.3" r="4.5"/><circle cx="191.9" cy="597.2" r="4.5"/><circle cx="266.9" cy="505.3" r="4.5"/><circle cx="191.4" cy="516.2" r="4.5"/><circle cx="259" cy="591.1" r="4.5"/><circle cx="253.8" cy="530.8" r="4.5"/><circle cx="225" cy="520.3" r="4.5"/><circle cx="224.7" cy="564.3" r="4.5"/>
</g>
</g>
<path d="M132.8 572.8 L136.0 572.1 L139.2 571.5 L142.4 570.8 L145.6 570.2 L148.8 569.6 L152.0 569.0 L155.2 568.4 L158.4 567.8 L161.6 567.3 L164.8 566.7 L168.0 566.2 L171.2 565.6 L174.4 565.1 L177.6 564.6 L180.8 564.1 L184.0 563.7 L187.2 563.2 L190.4 562.8 L193.6 562.3 L196.7 561.9 L199.9 561.5 L203.1 561.1 L206.3 560.7 L209.5 560.4 L212.7 560.0 L215.9 559.7 L219.1 559.4 L222.3 559.1 L225.5 558.8 L228.7 558.5 L231.9 558.2 L235.1 558.0 L238.3 557.8 L241.5 557.5 L244.7 557.3 L247.9 557.2 L251.1 557.0 L254.3 556.8 L257.5 556.7 L260.7 556.6 L263.9 556.5 L267.1 556.4 L270.3 556.3 L273.5 556.2 L276.7 556.2 L279.9 556.2 L283.1 556.2 L286.3 556.2 L289.5 556.2 L292.7 556.2 L295.9 556.3 L299.1 556.4 L302.3 556.4 L305.5 556.6 L308.7 556.7 L311.9 556.8 L315.1 557.0 L318.3 557.1 L321.5 557.3 L324.6 557.5 L327.8 557.8 L331.0 558.0 L334.2 558.3 L337.4 558.6 L340.6 558.9 L343.8 559.2 L347.0 559.5 L350.2 559.9 L353.4 560.2 L356.6 560.6 L359.8 561.0 L363.0 561.5 L366.2 561.9 L369.4 562.4 L372.6 562.9 L375.8 563.4 L379.0 563.9 L382.2 564.4 L385.4 565.0" stroke="#1B9E77" stroke-width="5.3" fill="none"/>
<path d="M115.9 713.6 L120.3 714.7 L124.7 715.9 L129.2 716.9 L133.6 718.0 L138.0 719.0 L142.4 719.9 L146.8 720.8 L151.3 721.7 L155.7 722.5 L160.1 723.3 L164.5 724.0 L168.9 724.7 L173.4 725.3 L177.8 725.9 L182.2 726.4 L186.6 726.9 L191.0 727.4 L195.5 727.8 L199.9 728.1 L204.3 728.4 L208.7 728.7 L213.1 728.9 L217.6 729.1 L222.0 729.2 L226.4 729.3 L230.8 729.4 L235.2 729.3 L239.7 729.3 L244.1 729.2 L248.5 729.1 L252.9 728.9 L257.3 728.6 L261.8 728.3 L266.2 728.0 L270.6 727.6 L275.0 727.2 L279.4 726.8 L283.9 726.2 L288.3 725.7 L292.7 725.1 L297.1 724.4 L301.6 723.7 L306.0 723.0 L310.4 722.2 L314.8 721.4 L319.2 720.5 L323.7 719.5 L328.1 718.6 L332.5 717.5 L336.9 716.5 L341.3 715.4 L345.8 714.2 L350.2 713.0 L354.6 711.7 L359.0 710.4 L363.4 709.1 L367.9 707.7 L372.3 706.2 L376.7 704.7 L381.1 703.2 L385.5 701.6 L390.0 700.0 L394.4 698.3 L398.8 696.6 L403.2 694.8 L407.6 693.0 L412.1 691.1 L416.5 689.2 L420.9 687.2 L425.3 685.2 L429.7 683.1 L434.2 681.0 L438.6 678.9 L443.0 676.7 L447.4 674.4 L451.8 672.1 L456.3 669.8 L460.7 667.4 L465.1 664.9" stroke="#D95F02" stroke-width="5.3" fill="none"/>
<rect x="86.9" y="482.4" width="598.5" height="379.3" fill="none" stroke="#333" stroke-width="1.6"/>
<rect x="86.9" y="442.6" width="598.5" height="39.8" fill="#D9D9D9" stroke="#333" stroke-width="1.6"/>
<path d="M86.1 482.6H686.2" stroke="#333" stroke-width="2.4"/>
<text x="386.1" y="470.1" font-size="21.8" fill="#1A1A1A" text-anchor="middle">Northeast</text>
<path d="M700.0 801.59H1298.8M700.0 715.36H1298.8M700.0 629.14H1298.8M700.0 542.91H1298.8M797.39 482.4V861.7M942.38 482.4V861.7M1087.38 482.4V861.7M1232.37 482.4V861.7" stroke="#EBEBEB" stroke-width="1.3" fill="none"/>
<path d="M700.0 844.70H1298.8M700.0 758.48H1298.8M700.0 672.25H1298.8M700.0 586.03H1298.8M700.0 499.80H1298.8M724.90 482.4V861.7M869.89 482.4V861.7M1014.88 482.4V861.7M1159.87 482.4V861.7" stroke="#EBEBEB" stroke-width="2.3" fill="none"/>
<g clip-path="url(#cp11)">
<g class="po">
<circle cx="898.5" cy="734.3" r="4.5"/><circle cx="879.2" cy="761" r="4.5"/><circle cx="875.7" cy="735.8" r="4.5"/><circle cx="739.2" cy="781.3" r="4.5"/><circle cx="875.5" cy="835" r="4.5"/><circle cx="790.7" cy="614.8" r="4.5"/><circle cx="813.3" cy="669" r="4.5"/><circle cx="906.8" cy="640.3" r="4.5"/><circle cx="834.2" cy="685.4" r="4.5"/><circle cx="844.6" cy="813.2" r="4.5"/><circle cx="845.7" cy="700" r="4.5"/><circle cx="884.6" cy="727.6" r="4.5"/><circle cx="797.9" cy="765.6" r="4.5"/><circle cx="850.5" cy="614.5" r="4.5"/><circle cx="947.5" cy="651.3" r="4.5"/><circle cx="750.9" cy="794.6" r="4.5"/><circle cx="952.2" cy="649.8" r="4.5"/><circle cx="798.8" cy="767" r="4.5"/><circle cx="740.3" cy="743.8" r="4.5"/><circle cx="849.9" cy="772.1" r="4.5"/><circle cx="992.5" cy="643.1" r="4.5"/><circle cx="859.2" cy="642.7" r="4.5"/><circle cx="950.8" cy="639.5" r="4.5"/><circle cx="780.3" cy="745" r="4.5"/><circle cx="902.8" cy="720.8" r="4.5"/><circle cx="821.8" cy="641.9" r="4.5"/><circle cx="908.4" cy="787.3" r="4.5"/><circle cx="730.5" cy="814.2" r="4.5"/><circle cx="835.4" cy="810.9" r="4.5"/><circle cx="779.4" cy="761.3" r="4.5"/><circle cx="903.2" cy="777.8" r="4.5"/><circle cx="815.8" cy="745.3" r="4.5"/><circle cx="865.2" cy="667.8" r="4.5"/><circle cx="872.1" cy="738.7" r="4.5"/><circle cx="809.7" cy="639.7" r="4.5"/><circle cx="729.2" cy="764.9" r="4.5"/><circle cx="839.9" cy="653.4" r="4.5"/><circle cx="996.7" cy="701.5" r="4.5"/><circle cx="882.5" cy="692.3" r="4.5"/><circle cx="809" cy="765.7" r="4.5"/><circle cx="886.6" cy="645.1" r="4.5"/><circle cx="870.7" cy="730.2" r="4.5"/><circle cx="790.8" cy="795.8" r="4.5"/><circle cx="844" cy="690.4" r="4.5"/><circle cx="890.4" cy="663.5" r="4.5"/><circle cx="795.4" cy="793.9" r="4.5"/><circle cx="796.1" cy="688.3" r="4.5"/><circle cx="878.7" cy="831.9" r="4.5"/><circle cx="836" cy="661.9" r="4.5"/><circle cx="837.1" cy="696.9" r="4.5"/><circle cx="921.8" cy="832.5" r="4.5"/><circle cx="873.7" cy="675.5" r="4.5"/><circle cx="881.2" cy="606.4" r="4.5"/><circle cx="859.1" cy="689.1" r="4.5"/><circle cx="879.4" cy="827.8" r="4.5"/><circle cx="910.8" cy="676.5" r="4.5"/><circle cx="914.9" cy="653.1" r="4.5"/><circle cx="817" cy="753.9" r="4.5"/><circle cx="949.3" cy="732.9" r="4.5"/><circle cx="815.8" cy="611.1" r="4.5"/><circle cx="853.6" cy="603.3" r="4.5"/><circle cx="854.3" cy="608.1" r="4.5"/><circle cx="865" cy="839.2" r="4.5"/><circle cx="865.9" cy="640.3" r="4.5"/><circle cx="800.7" cy="689.4" r="4.5"/><circle cx="835.5" cy="667.6" r="4.5"/><circle cx="780.7" cy="653.2" r="4.5"/><circle cx="894" cy="693.5" r="4.5"/><circle cx="919.4" cy="728.8" r="4.5"/><circle cx="855.1" cy="760.5" r="4.5"/><circle cx="846.2" cy="671.6" r="4.5"/><circle cx="805" cy="815" r="4.5"/><circle cx="839.4" cy="607.4" r="4.5"/><circle cx="752.2" cy="604.3" r="4.5"/><circle cx="786.3" cy="712" r="4.5"/><circle cx="768" cy="787.4" r="4.5"/><circle cx="816.5" cy="614.6" r="4.5"/><circle cx="918.3" cy="650.3" r="4.5"/><circle cx="898.1" cy="693.7" r="4.5"/><circle cx="833.3" cy="757" r="4.5"/><circle cx="746.5" cy="779.6" r="4.5"/><circle cx="828.7" cy="720.4" r="4.5"/><circle cx="761.5" cy="814" r="4.5"/><circle cx="817.2" cy="670.2" r="4.5"/><circle cx="856.5" cy="786.6" r="4.5"/><circle cx="863.2" cy="604.2" r="4.5"/><circle cx="841.7" cy="646.7" r="4.5"/><circle cx="808.3" cy="670.4" r="4.5"/><circle cx="798" cy="760.3" r="4.5"/><circle cx="997.5" cy="674.8" r="4.5"/><circle cx="881.8" cy="607" r="4.5"/><circle cx="864.3" cy="822" r="4.5"/><circle cx="878.1" cy="806.6" r="4.5"/><circle cx="796.3" cy="795.4" r="4.5"/><circle cx="830" cy="719.2" r="4.5"/><circle cx="873.7" cy="637.9" r="4.5"/><circle cx="840.7" cy="654.3" r="4.5"/><circle cx="784.9" cy="833.1" r="4.5"/><circle cx="875" cy="680.9" r="4.5"/><circle cx="789.2" cy="686.6" r="4.5"/><circle cx="812.2" cy="679.9" r="4.5"/><circle cx="883.4" cy="644.6" r="4.5"/><circle cx="847" cy="709.9" r="4.5"/><circle cx="795.8" cy="696.3" r="4.5"/><circle cx="952.4" cy="664.4" r="4.5"/><circle cx="863.9" cy="634.8" r="4.5"/><circle cx="808.8" cy="654.1" r="4.5"/><circle cx="912.8" cy="732.2" r="4.5"/><circle cx="834.8" cy="841.6" r="4.5"/><circle cx="808.7" cy="783.4" r="4.5"/><circle cx="783.3" cy="810.5" r="4.5"/><circle cx="892.3" cy="618.5" r="4.5"/><circle cx="849.1" cy="660.7" r="4.5"/><circle cx="817.3" cy="695.5" r="4.5"/><circle cx="855.6" cy="717.5" r="4.5"/><circle cx="730.4" cy="668.9" r="4.5"/><circle cx="809.9" cy="665.4" r="4.5"/><circle cx="852.5" cy="630.7" r="4.5"/><circle cx="814.8" cy="755.5" r="4.5"/><circle cx="897" cy="697.4" r="4.5"/><circle cx="849.5" cy="785.6" r="4.5"/><circle cx="842.1" cy="740.6" r="4.5"/><circle cx="876.9" cy="715.3" r="4.5"/><circle cx="842.4" cy="808.9" r="4.5"/><circle cx="856.2" cy="799.7" r="4.5"/><circle cx="921.9" cy="631.5" r="4.5"/><circle cx="979.2" cy="661.4" r="4.5"/><circle cx="834.8" cy="640.5" r="4.5"/><circle cx="802.8" cy="714.3" r="4.5"/><circle cx="833.3" cy="813.6" r="4.5"/><circle cx="772" cy="802.1" r="4.5"/><circle cx="813.4" cy="828.9" r="4.5"/><circle cx="876" cy="692.3" r="4.5"/><circle cx="893" cy="688" r="4.5"/><circle cx="931.9" cy="618.6" r="4.5"/><circle cx="858" cy="714.2" r="4.5"/><circle cx="947.4" cy="671.2" r="4.5"/><circle cx="795.9" cy="627.5" r="4.5"/><circle cx="934.9" cy="662.1" r="4.5"/><circle cx="998.4" cy="800" r="4.5"/><circle cx="901.7" cy="819.6" r="4.5"/><circle cx="987.1" cy="757.1" r="4.5"/><circle cx="871.5" cy="808" r="4.5"/><circle cx="846" cy="676.2" r="4.5"/><circle cx="906.4" cy="679.1" r="4.5"/><circle cx="818.8" cy="759.8" r="4.5"/><circle cx="849.7" cy="795.7" r="4.5"/><circle cx="874.4" cy="833" r="4.5"/><circle cx="866.9" cy="684.1" r="4.5"/><circle cx="967.9" cy="608.5" r="4.5"/><circle cx="929.3" cy="629.2" r="4.5"/><circle cx="870.1" cy="699" r="4.5"/><circle cx="832.3" cy="691.3" r="4.5"/><circle cx="883.1" cy="677.3" r="4.5"/><circle cx="935.9" cy="737.3" r="4.5"/><circle cx="845.5" cy="790.2" r="4.5"/><circle cx="831.8" cy="807.6" r="4.5"/><circle cx="782.2" cy="745.1" r="4.5"/><circle cx="778.7" cy="668.5" r="4.5"/><circle cx="880.3" cy="693.4" r="4.5"/><circle cx="802.4" cy="686.7" r="4.5"/><circle cx="864.9" cy="749.6" r="4.5"/><circle cx="827.5" cy="721.1" r="4.5"/><circle cx="853.7" cy="627.9" r="4.5"/><circle cx="907.5" cy="697.8" r="4.5"/><circle cx="980.2" cy="636.7" r="4.5"/><circle cx="931.2" cy="629.1" r="4.5"/><circle cx="825.5" cy="636.6" r="4.5"/><circle cx="840.8" cy="607.3" r="4.5"/><circle cx="762.2" cy="633.3" r="4.5"/><circle cx="834.2" cy="707.9" r="4.5"/><circle cx="790.5" cy="707" r="4.5"/><circle cx="841" cy="793.5" r="4.5"/><circle cx="864.9" cy="802.8" r="4.5"/><circle cx="784.4" cy="667.8" r="4.5"/><circle cx="777.6" cy="765.8" r="4.5"/><circle cx="783.9" cy="686.1" r="4.5"/><circle cx="826.1" cy="835.2" r="4.5"/><circle cx="805.9" cy="725.7" r="4.5"/><circle cx="919.9" cy="749.3" r="4.5"/><circle cx="866" cy="756.1" r="4.5"/><circle cx="799.6" cy="783" r="4.5"/><circle cx="923" cy="687" r="4.5"/><circle cx="836.4" cy="793.2" r="4.5"/><circle cx="781.4" cy="628.4" r="4.5"/><circle cx="775.1" cy="643.1" r="4.5"/><circle cx="797.2" cy="717.4" r="4.5"/><circle cx="748" cy="610.1" r="4.5"/><circle cx="814" cy="659.9" r="4.5"/><circle cx="907.1" cy="616.6" r="4.5"/><circle cx="961.2" cy="672.1" r="4.5"/><circle cx="857.9" cy="822.4" r="4.5"/><circle cx="827.4" cy="643.4" r="4.5"/><circle cx="864.4" cy="603.9" r="4.5"/><circle cx="753.8" cy="718.7" r="4.5"/><circle cx="919" cy="642.8" r="4.5"/><circle cx="882.6" cy="739.9" r="4.5"/><circle cx="835.6" cy="835.1" r="4.5"/><circle cx="812.3" cy="803.8" r="4.5"/><circle cx="805" cy="657.9" r="4.5"/><circle cx="910.3" cy="638.4" r="4.5"/><circle cx="934.9" cy="664" r="4.5"/><circle cx="843" cy="674.8" r="4.5"/><circle cx="890.2" cy="722.1" r="4.5"/><circle cx="855.7" cy="653.6" r="4.5"/><circle cx="776.4" cy="630.9" r="4.5"/><circle cx="859.4" cy="659.8" r="4.5"/><circle cx="872.8" cy="643.2" r="4.5"/><circle cx="795.4" cy="758.5" r="4.5"/><circle cx="972.8" cy="750.4" r="4.5"/><circle cx="860.7" cy="749.9" r="4.5"/><circle cx="1012.3" cy="631.3" r="4.5"/><circle cx="989.4" cy="635.1" r="4.5"/><circle cx="853.2" cy="794.2" r="4.5"/><circle cx="788.5" cy="841.1" r="4.5"/><circle cx="941.3" cy="607.9" r="4.5"/><circle cx="852.8" cy="719.7" r="4.5"/><circle cx="783.8" cy="666.5" r="4.5"/><circle cx="915.5" cy="780.8" r="4.5"/><circle cx="889.1" cy="737.7" r="4.5"/><circle cx="816.4" cy="817" r="4.5"/><circle cx="955.2" cy="611.3" r="4.5"/><circle cx="750.5" cy="748" r="4.5"/><circle cx="799.8" cy="657" r="4.5"/><circle cx="836.3" cy="603.5" r="4.5"/><circle cx="778.9" cy="698.6" r="4.5"/><circle cx="826.2" cy="640.2" r="4.5"/><circle cx="850.8" cy="643.2" r="4.5"/><circle cx="851.3" cy="792" r="4.5"/><circle cx="778.6" cy="664.1" r="4.5"/><circle cx="831.4" cy="714.4" r="4.5"/><circle cx="802.2" cy="822.9" r="4.5"/><circle cx="945.3" cy="656" r="4.5"/><circle cx="939.3" cy="754.9" r="4.5"/><circle cx="808.2" cy="643.4" r="4.5"/><circle cx="865.7" cy="661.1" r="4.5"/><circle cx="794.2" cy="640.6" r="4.5"/><circle cx="825.3" cy="680.6" r="4.5"/><circle cx="1160.4" cy="646.7" r="4.5"/><circle cx="900.6" cy="686.4" r="4.5"/><circle cx="850.8" cy="705.9" r="4.5"/><circle cx="877.3" cy="683.8" r="4.5"/><circle cx="952.4" cy="664.4" r="4.5"/><circle cx="877.2" cy="637.9" r="4.5"/><circle cx="807.3" cy="812.5" r="4.5"/><circle cx="876.2" cy="764" r="4.5"/><circle cx="873.4" cy="687.7" r="4.5"/><circle cx="833.4" cy="704.4" r="4.5"/><circle cx="821.3" cy="689.9" r="4.5"/><circle cx="813.1" cy="674.9" r="4.5"/><circle cx="812.5" cy="672.9" r="4.5"/><circle cx="855.2" cy="737.1" r="4.5"/><circle cx="833.9" cy="762.2" r="4.5"/><circle cx="1014.8" cy="637.3" r="4.5"/><circle cx="826.2" cy="613.7" r="4.5"/><circle cx="802.9" cy="828.9" r="4.5"/><circle cx="980.7" cy="774.2" r="4.5"/><circle cx="883.6" cy="656.3" r="4.5"/><circle cx="809" cy="663.2" r="4.5"/><circle cx="825.8" cy="632.3" r="4.5"/><circle cx="835.8" cy="689.2" r="4.5"/><circle cx="796.2" cy="791.2" r="4.5"/><circle cx="827" cy="623.4" r="4.5"/><circle cx="963.5" cy="691.4" r="4.5"/><circle cx="812.2" cy="779.2" r="4.5"/><circle cx="835.5" cy="843.9" r="4.5"/><circle cx="871.1" cy="691.2" r="4.5"/><circle cx="801.9" cy="635" r="4.5"/><circle cx="872.2" cy="623.8" r="4.5"/><circle cx="837.2" cy="672.4" r="4.5"/><circle cx="837.2" cy="803.7" r="4.5"/><circle cx="800.6" cy="649.4" r="4.5"/><circle cx="805.9" cy="786.1" r="4.5"/><circle cx="924.6" cy="809.9" r="4.5"/><circle cx="804.1" cy="608.8" r="4.5"/><circle cx="968.2" cy="636.5" r="4.5"/><circle cx="932.6" cy="604.5" r="4.5"/><circle cx="768.5" cy="603.7" r="4.5"/><circle cx="813.3" cy="754.9" r="4.5"/><circle cx="763.8" cy="656.3" r="4.5"/><circle cx="838.9" cy="780.7" r="4.5"/><circle cx="795.3" cy="793.1" r="4.5"/><circle cx="792.5" cy="760.1" r="4.5"/><circle cx="875.5" cy="775.4" r="4.5"/><circle cx="924" cy="701.5" r="4.5"/><circle cx="911.6" cy="752" r="4.5"/><circle cx="875.6" cy="818.9" r="4.5"/><circle cx="798.2" cy="734.6" r="4.5"/><circle cx="865.3" cy="654.4" r="4.5"/><circle cx="797.4" cy="757" r="4.5"/><circle cx="832.1" cy="745.5" r="4.5"/><circle cx="863.1" cy="730.9" r="4.5"/><circle cx="842" cy="679.3" r="4.5"/><circle cx="955.2" cy="611.3" r="4.5"/><circle cx="849.7" cy="717.1" r="4.5"/><circle cx="805.5" cy="654.9" r="4.5"/><circle cx="832" cy="643" r="4.5"/><circle cx="842.1" cy="778.9" r="4.5"/><circle cx="896.2" cy="682.5" r="4.5"/><circle cx="879.8" cy="815.8" r="4.5"/><circle cx="813.3" cy="647.1" r="4.5"/><circle cx="798.6" cy="725.3" r="4.5"/><circle cx="820.3" cy="807.3" r="4.5"/><circle cx="885.1" cy="660" r="4.5"/><circle cx="1062.4" cy="662.8" r="4.5"/><circle cx="913.5" cy="751.5" r="4.5"/><circle cx="954.1" cy="666.7" r="4.5"/><circle cx="840.4" cy="753.8" r="4.5"/><circle cx="837.5" cy="749" r="4.5"/><circle cx="800" cy="739" r="4.5"/><circle cx="796.6" cy="689.5" r="4.5"/><circle cx="861.1" cy="754.3" r="4.5"/><circle cx="875.4" cy="792" r="4.5"/><circle cx="894.3" cy="732.4" r="4.5"/><circle cx="859.6" cy="803.5" r="4.5"/><circle cx="855.1" cy="674.4" r="4.5"/><circle cx="857.1" cy="828.4" r="4.5"/><circle cx="844.4" cy="804.5" r="4.5"/><circle cx="879.7" cy="656.1" r="4.5"/><circle cx="968.5" cy="620.5" r="4.5"/><circle cx="823.9" cy="644.3" r="4.5"/><circle cx="857.8" cy="632.5" r="4.5"/><circle cx="826.7" cy="668.4" r="4.5"/><circle cx="850.1" cy="710.5" r="4.5"/><circle cx="778" cy="694.1" r="4.5"/><circle cx="857.6" cy="667" r="4.5"/><circle cx="821.7" cy="748.5" r="4.5"/><circle cx="922.8" cy="664.1" r="4.5"/><circle cx="776.1" cy="662.7" r="4.5"/><circle cx="865.6" cy="687.4" r="4.5"/><circle cx="938" cy="605" r="4.5"/><circle cx="874" cy="625.4" r="4.5"/><circle cx="835.2" cy="718" r="4.5"/><circle cx="816.5" cy="843.1" r="4.5"/><circle cx="906.8" cy="664.4" r="4.5"/><circle cx="758.7" cy="709.1" r="4.5"/><circle cx="785" cy="751.4" r="4.5"/><circle cx="917.1" cy="651" r="4.5"/><circle cx="985.3" cy="746.4" r="4.5"/><circle cx="730.5" cy="814.2" r="4.5"/><circle cx="799.9" cy="703.8" r="4.5"/><circle cx="790.8" cy="628.9" r="4.5"/><circle cx="852.4" cy="681" r="4.5"/><circle cx="946.6" cy="612.9" r="4.5"/><circle cx="955.4" cy="612.1" r="4.5"/><circle cx="840.1" cy="630.9" r="4.5"/><circle cx="1017.2" cy="635.4" r="4.5"/><circle cx="803.7" cy="842.1" r="4.5"/><circle cx="878.3" cy="791.2" r="4.5"/><circle cx="815.6" cy="764.6" r="4.5"/><circle cx="853.5" cy="842.4" r="4.5"/><circle cx="758.7" cy="773.2" r="4.5"/><circle cx="834.8" cy="654.6" r="4.5"/><circle cx="978.6" cy="705.6" r="4.5"/><circle cx="853.7" cy="631.9" r="4.5"/><circle cx="818" cy="739.6" r="4.5"/><circle cx="843.2" cy="757.8" r="4.5"/><circle cx="902.5" cy="841.5" r="4.5"/><circle cx="785.3" cy="681.5" r="4.5"/><circle cx="903.7" cy="740.5" r="4.5"/><circle cx="853.1" cy="794.4" r="4.5"/><circle cx="861.4" cy="697" r="4.5"/><circle cx="924.4" cy="613.5" r="4.5"/><circle cx="875.9" cy="622" r="4.5"/><circle cx="820.2" cy="798.8" r="4.5"/><circle cx="902.8" cy="797.8" r="4.5"/><circle cx="871.6" cy="807" r="4.5"/><circle cx="780.1" cy="737.5" r="4.5"/><circle cx="822" cy="629.6" r="4.5"/><circle cx="850.2" cy="722.2" r="4.5"/><circle cx="812.8" cy="618.1" r="4.5"/><circle cx="845.7" cy="811.9" r="4.5"/><circle cx="798" cy="643.8" r="4.5"/><circle cx="890.8" cy="703.9" r="4.5"/><circle cx="921.6" cy="825.4" r="4.5"/><circle cx="859.7" cy="771.5" r="4.5"/><circle cx="963.7" cy="632.8" r="4.5"/><circle cx="796.4" cy="741.1" r="4.5"/><circle cx="807.3" cy="753.3" r="4.5"/><circle cx="944.3" cy="703.7" r="4.5"/><circle cx="881.4" cy="649.3" r="4.5"/><circle cx="980.8" cy="629.5" r="4.5"/><circle cx="849.5" cy="656.4" r="4.5"/><circle cx="779" cy="725.7" r="4.5"/><circle cx="795.5" cy="692.3" r="4.5"/><circle cx="840.7" cy="678.5" r="4.5"/><circle cx="866" cy="767.2" r="4.5"/><circle cx="895" cy="640.1" r="4.5"/><circle cx="869.1" cy="610.6" r="4.5"/><circle cx="849.3" cy="753.3" r="4.5"/><circle cx="994.9" cy="618.7" r="4.5"/><circle cx="839.2" cy="762.2" r="4.5"/><circle cx="816.2" cy="660" r="4.5"/><circle cx="864.6" cy="644.2" r="4.5"/><circle cx="844.3" cy="816.9" r="4.5"/><circle cx="788" cy="755.6" r="4.5"/><circle cx="887.7" cy="712.5" r="4.5"/><circle cx="832.6" cy="659.5" r="4.5"/><circle cx="848.1" cy="700.8" r="4.5"/><circle cx="818" cy="785.4" r="4.5"/><circle cx="895.5" cy="723.3" r="4.5"/><circle cx="863.7" cy="738.9" r="4.5"/><circle cx="860.7" cy="630.7" r="4.5"/><circle cx="836.1" cy="614.1" r="4.5"/><circle cx="788.6" cy="726.2" r="4.5"/><circle cx="792" cy="696" r="4.5"/><circle cx="792.6" cy="782.8" r="4.5"/><circle cx="993.7" cy="630.9" r="4.5"/><circle cx="862.5" cy="648.4" r="4.5"/><circle cx="818.2" cy="657.9" r="4.5"/><circle cx="820.6" cy="828" r="4.5"/><circle cx="805.5" cy="647.8" r="4.5"/><circle cx="929.3" cy="729.1" r="4.5"/><circle cx="731.2" cy="672.2" r="4.5"/><circle cx="984.3" cy="645.5" r="4.5"/><circle cx="793.9" cy="697.6" r="4.5"/><circle cx="847.1" cy="725.8" r="4.5"/><circle cx="818.5" cy="625.2" r="4.5"/><circle cx="852.3" cy="662.1" r="4.5"/><circle cx="857.5" cy="714.5" r="4.5"/><circle cx="968.6" cy="609.3" r="4.5"/><circle cx="950.3" cy="669.4" r="4.5"/><circle cx="828.4" cy="692.9" r="4.5"/><circle cx="853.4" cy="635.8" r="4.5"/><circle cx="864.4" cy="699.8" r="4.5"/><circle cx="846.2" cy="808" r="4.5"/><circle cx="845" cy="705.9" r="4.5"/><circle cx="917.5" cy="739" r="4.5"/><circle cx="899.5" cy="610.3" r="4.5"/><circle cx="849.2" cy="834.4" r="4.5"/><circle cx="830.2" cy="694.6" r="4.5"/><circle cx="890.3" cy="727.5" r="4.5"/><circle cx="921.5" cy="638" r="4.5"/><circle cx="902.3" cy="677.8" r="4.5"/><circle cx="772.1" cy="703.2" r="4.5"/><circle cx="843.8" cy="772.2" r="4.5"/><circle cx="842.9" cy="636.3" r="4.5"/><circle cx="795.5" cy="744.2" r="4.5"/><circle cx="965.6" cy="749.2" r="4.5"/><circle cx="815.2" cy="669.2" r="4.5"/><circle cx="803.2" cy="687.5" r="4.5"/><circle cx="895.2" cy="617.9" r="4.5"/><circle cx="855.2" cy="655.3" r="4.5"/><circle cx="788.1" cy="675.9" r="4.5"/><circle cx="981.5" cy="732.8" r="4.5"/><circle cx="889.6" cy="673.4" r="4.5"/><circle cx="764.1" cy="698.4" r="4.5"/><circle cx="823.3" cy="688.4" r="4.5"/><circle cx="862.5" cy="764.1" r="4.5"/><circle cx="851.3" cy="637.7" r="4.5"/><circle cx="766.6" cy="795.2" r="4.5"/><circle cx="941.5" cy="756.6" r="4.5"/><circle cx="765.7" cy="746.4" r="4.5"/><circle cx="836.2" cy="660.7" r="4.5"/><circle cx="809.3" cy="753.7" r="4.5"/><circle cx="872.8" cy="624.5" r="4.5"/><circle cx="995.9" cy="606.6" r="4.5"/><circle cx="1009.9" cy="613.5" r="4.5"/><circle cx="858.2" cy="672.1" r="4.5"/><circle cx="785.8" cy="663.7" r="4.5"/><circle cx="762.5" cy="817.7" r="4.5"/><circle cx="842.9" cy="725.5" r="4.5"/><circle cx="878.2" cy="670.9" r="4.5"/><circle cx="872.1" cy="704.9" r="4.5"/><circle cx="851.3" cy="726" r="4.5"/><circle cx="814.2" cy="699.8" r="4.5"/><circle cx="861.9" cy="789" r="4.5"/><circle cx="883.1" cy="765.5" r="4.5"/><circle cx="798" cy="660.6" r="4.5"/><circle cx="919.8" cy="777.1" r="4.5"/><circle cx="849.5" cy="837.9" r="4.5"/><circle cx="877.4" cy="682.3" r="4.5"/><circle cx="867.5" cy="763.9" r="4.5"/><circle cx="833.8" cy="753.1" r="4.5"/><circle cx="805.9" cy="656.7" r="4.5"/><circle cx="881.9" cy="746.8" r="4.5"/><circle cx="795.9" cy="627.5" r="4.5"/><circle cx="877.7" cy="755" r="4.5"/><circle cx="968.1" cy="637" r="4.5"/><circle cx="916.2" cy="619.4" r="4.5"/><circle cx="845" cy="841.4" r="4.5"/><circle cx="860.1" cy="841.9" r="4.5"/><circle cx="833.7" cy="748.3" r="4.5"/><circle cx="885.8" cy="709.1" r="4.5"/><circle cx="798.7" cy="603.4" r="4.5"/><circle cx="892.6" cy="732.3" r="4.5"/><circle cx="892.8" cy="646.6" r="4.5"/><circle cx="821.7" cy="648.6" r="4.5"/><circle cx="958.8" cy="613.8" r="4.5"/><circle cx="783.4" cy="622.4" r="4.5"/><circle cx="937.8" cy="762.9" r="4.5"/><circle cx="780.7" cy="668.7" r="4.5"/><circle cx="799.3" cy="776.8" r="4.5"/><circle cx="926.8" cy="671.6" r="4.5"/><circle cx="882" cy="737.9" r="4.5"/><circle cx="815.2" cy="826.6" r="4.5"/><circle cx="799.9" cy="704.8" r="4.5"/><circle cx="854.9" cy="832.9" r="4.5"/><circle cx="792.9" cy="828.7" r="4.5"/><circle cx="836.7" cy="705.2" r="4.5"/><circle cx="984.8" cy="623" r="4.5"/><circle cx="820.9" cy="629.7" r="4.5"/><circle cx="1072.9" cy="617.1" r="4.5"/><circle cx="851.8" cy="773.1" r="4.5"/><circle cx="838" cy="678.3" r="4.5"/><circle cx="835.9" cy="807.1" r="4.5"/><circle cx="830.8" cy="709.6" r="4.5"/><circle cx="1181.1" cy="640.9" r="4.5"/><circle cx="853.2" cy="707.9" r="4.5"/><circle cx="792.2" cy="605.3" r="4.5"/><circle cx="998.1" cy="616.5" r="4.5"/><circle cx="878.1" cy="632.7" r="4.5"/><circle cx="881.2" cy="640.6" r="4.5"/><circle cx="987" cy="616.5" r="4.5"/><circle cx="931.8" cy="676.4" r="4.5"/><circle cx="858.6" cy="663.2" r="4.5"/><circle cx="929.3" cy="729.1" r="4.5"/><circle cx="805.5" cy="647.8" r="4.5"/><circle cx="968.6" cy="616.7" r="4.5"/><circle cx="855.6" cy="746.4" r="4.5"/><circle cx="810.7" cy="622.5" r="4.5"/><circle cx="836.4" cy="680.8" r="4.5"/><circle cx="919.5" cy="710" r="4.5"/><circle cx="799.3" cy="675.6" r="4.5"/><circle cx="975" cy="628.1" r="4.5"/><circle cx="819.6" cy="702.3" r="4.5"/><circle cx="915.2" cy="652.2" r="4.5"/><circle cx="927.3" cy="635" r="4.5"/><circle cx="853.4" cy="737.9" r="4.5"/><circle cx="993.4" cy="624.6" r="4.5"/><circle cx="877.1" cy="841.3" r="4.5"/><circle cx="809.4" cy="839" r="4.5"/><circle cx="842.2" cy="798.4" r="4.5"/><circle cx="807.2" cy="700" r="4.5"/><circle cx="784.3" cy="633.4" r="4.5"/><circle cx="848" cy="790.8" r="4.5"/><circle cx="888.6" cy="684.1" r="4.5"/><circle cx="881" cy="718.2" r="4.5"/><circle cx="780.8" cy="726.3" r="4.5"/><circle cx="787.1" cy="670.5" r="4.5"/><circle cx="932.3" cy="701.6" r="4.5"/><circle cx="780.2" cy="638.4" r="4.5"/><circle cx="795.8" cy="614.3" r="4.5"/><circle cx="906.3" cy="749.7" r="4.5"/><circle cx="815" cy="789.4" r="4.5"/><circle cx="892.1" cy="703.8" r="4.5"/><circle cx="880.1" cy="713.6" r="4.5"/><circle cx="879.5" cy="640.7" r="4.5"/><circle cx="806.2" cy="617.1" r="4.5"/><circle cx="857.6" cy="646.4" r="4.5"/><circle cx="759.5" cy="839.8" r="4.5"/><circle cx="968.4" cy="610.5" r="4.5"/><circle cx="845.4" cy="639.9" r="4.5"/><circle cx="834.1" cy="771.2" r="4.5"/><circle cx="920.3" cy="609.3" r="4.5"/><circle cx="823.7" cy="605.8" r="4.5"/><circle cx="749.3" cy="758.7" r="4.5"/><circle cx="922.5" cy="612.7" r="4.5"/><circle cx="981" cy="630.3" r="4.5"/><circle cx="871.7" cy="660.2" r="4.5"/><circle cx="861.2" cy="653.6" r="4.5"/><circle cx="852.7" cy="801.6" r="4.5"/><circle cx="944.4" cy="642.3" r="4.5"/><circle cx="878.3" cy="722" r="4.5"/><circle cx="815.6" cy="725.6" r="4.5"/><circle cx="814.9" cy="795.8" r="4.5"/><circle cx="798.4" cy="729.3" r="4.5"/><circle cx="814.9" cy="687.3" r="4.5"/><circle cx="890" cy="793.1" r="4.5"/><circle cx="873.1" cy="685.9" r="4.5"/><circle cx="851" cy="603.4" r="4.5"/><circle cx="853.2" cy="841.5" r="4.5"/><circle cx="828.5" cy="830.3" r="4.5"/><circle cx="833.4" cy="674" r="4.5"/><circle cx="877.6" cy="785" r="4.5"/><circle cx="835.9" cy="815.7" r="4.5"/><circle cx="921.7" cy="700.6" r="4.5"/><circle cx="1021.5" cy="608.1" r="4.5"/><circle cx="907.3" cy="617.3" r="4.5"/><circle cx="852.1" cy="665.1" r="4.5"/><circle cx="932.5" cy="720.5" r="4.5"/><circle cx="850.9" cy="757.6" r="4.5"/><circle cx="743.7" cy="740.4" r="4.5"/><circle cx="799.1" cy="794.2" r="4.5"/><circle cx="883.8" cy="643.4" r="4.5"/><circle cx="819" cy="834.4" r="4.5"/><circle cx="826.8" cy="787.4" r="4.5"/><circle cx="822.4" cy="841.5" r="4.5"/><circle cx="861.7" cy="674.1" r="4.5"/><circle cx="885.1" cy="616.4" r="4.5"/><circle cx="822.1" cy="702.6" r="4.5"/><circle cx="879.7" cy="675.3" r="4.5"/><circle cx="767.3" cy="732.6" r="4.5"/><circle cx="865.3" cy="629.4" r="4.5"/><circle cx="906.7" cy="786.8" r="4.5"/><circle cx="855.5" cy="810.9" r="4.5"/><circle cx="985.5" cy="708.7" r="4.5"/><circle cx="784.3" cy="804.7" r="4.5"/><circle cx="816.2" cy="765.5" r="4.5"/><circle cx="745.7" cy="828.2" r="4.5"/><circle cx="777.5" cy="616.4" r="4.5"/><circle cx="788.9" cy="642.1" r="4.5"/><circle cx="826.2" cy="700.6" r="4.5"/><circle cx="784.8" cy="788.9" r="4.5"/><circle cx="833.7" cy="775.7" r="4.5"/><circle cx="761" cy="691.4" r="4.5"/><circle cx="863.6" cy="838" r="4.5"/><circle cx="801.6" cy="607.3" r="4.5"/><circle cx="775.7" cy="780.7" r="4.5"/><circle cx="988" cy="620.2" r="4.5"/><circle cx="808.9" cy="737.4" r="4.5"/><circle cx="905.7" cy="764.6" r="4.5"/><circle cx="916.4" cy="783.5" r="4.5"/><circle cx="849.1" cy="609.7" r="4.5"/><circle cx="908.7" cy="616.4" r="4.5"/><circle cx="806.2" cy="655.6" r="4.5"/><circle cx="785" cy="734" r="4.5"/><circle cx="785.2" cy="757.6" r="4.5"/><circle cx="829" cy="719.5" r="4.5"/><circle cx="876.9" cy="651.9" r="4.5"/><circle cx="829" cy="669.4" r="4.5"/><circle cx="802.5" cy="626.7" r="4.5"/><circle cx="802.9" cy="771.2" r="4.5"/><circle cx="947.9" cy="616.2" r="4.5"/><circle cx="832" cy="643" r="4.5"/><circle cx="780.1" cy="737.5" r="4.5"/><circle cx="819.3" cy="794.2" r="4.5"/><circle cx="857.4" cy="637.9" r="4.5"/><circle cx="840.1" cy="790.9" r="4.5"/><circle cx="867.6" cy="622.5" r="4.5"/><circle cx="826.5" cy="629.2" r="4.5"/><circle cx="956.4" cy="776.2" r="4.5"/><circle cx="859.2" cy="696.9" r="4.5"/><circle cx="851.7" cy="609.2" r="4.5"/><circle cx="864.2" cy="754.7" r="4.5"/><circle cx="798.4" cy="680" r="4.5"/><circle cx="835.8" cy="650.1" r="4.5"/><circle cx="956.4" cy="652.3" r="4.5"/><circle cx="903.7" cy="631" r="4.5"/><circle cx="810.7" cy="612.3" r="4.5"/><circle cx="799.3" cy="635.9" r="4.5"/><circle cx="833.8" cy="765.4" r="4.5"/><circle cx="824.7" cy="708.9" r="4.5"/><circle cx="860.2" cy="704.9" r="4.5"/><circle cx="855.6" cy="821.2" r="4.5"/><circle cx="836.5" cy="767.2" r="4.5"/><circle cx="828.8" cy="657.9" r="4.5"/><circle cx="978.9" cy="647.8" r="4.5"/><circle cx="851.8" cy="814.4" r="4.5"/><circle cx="855.2" cy="721.2" r="4.5"/><circle cx="838.1" cy="665.4" r="4.5"/><circle cx="828" cy="782.3" r="4.5"/><circle cx="858.8" cy="709.5" r="4.5"/><circle cx="760.7" cy="785.6" r="4.5"/><circle cx="803.3" cy="673.6" r="4.5"/><circle cx="988.3" cy="625.8" r="4.5"/><circle cx="839.2" cy="762.3" r="4.5"/><circle cx="871.1" cy="636" r="4.5"/><circle cx="822.7" cy="788.7" r="4.5"/><circle cx="1101.9" cy="607.2" r="4.5"/><circle cx="938.8" cy="603.4" r="4.5"/><circle cx="908.7" cy="615.8" r="4.5"/><circle cx="922.5" cy="740.3" r="4.5"/><circle cx="813.5" cy="607.4" r="4.5"/><circle cx="786.6" cy="627.1" r="4.5"/><circle cx="876.9" cy="662.9" r="4.5"/><circle cx="830.8" cy="808.5" r="4.5"/><circle cx="902.5" cy="679.7" r="4.5"/><circle cx="846.5" cy="699.9" r="4.5"/><circle cx="813.7" cy="695.4" r="4.5"/><circle cx="832.4" cy="771.6" r="4.5"/><circle cx="967.1" cy="626.2" r="4.5"/><circle cx="846.2" cy="785" r="4.5"/><circle cx="821.8" cy="633.8" r="4.5"/><circle cx="802.7" cy="840.9" r="4.5"/><circle cx="983.3" cy="615.4" r="4.5"/><circle cx="802.8" cy="692.2" r="4.5"/><circle cx="866" cy="649.6" r="4.5"/><circle cx="808.8" cy="697.5" r="4.5"/><circle cx="846" cy="789.8" r="4.5"/><circle cx="869.5" cy="630.3" r="4.5"/><circle cx="778.8" cy="678.4" r="4.5"/><circle cx="936.2" cy="638.8" r="4.5"/><circle cx="892" cy="655.5" r="4.5"/><circle cx="941.4" cy="612" r="4.5"/><circle cx="819.7" cy="839.6" r="4.5"/><circle cx="903.5" cy="706.4" r="4.5"/><circle cx="758.2" cy="706.4" r="4.5"/><circle cx="830" cy="640.3" r="4.5"/><circle cx="912" cy="659.2" r="4.5"/><circle cx="805.6" cy="609.5" r="4.5"/><circle cx="898.9" cy="635.2" r="4.5"/><circle cx="963.4" cy="616.6" r="4.5"/><circle cx="794.3" cy="761.7" r="4.5"/><circle cx="780.7" cy="784.2" r="4.5"/><circle cx="864.6" cy="710.8" r="4.5"/><circle cx="913.2" cy="686.2" r="4.5"/><circle cx="785" cy="726.1" r="4.5"/><circle cx="791.6" cy="750.5" r="4.5"/><circle cx="778" cy="698.8" r="4.5"/><circle cx="947.1" cy="639.3" r="4.5"/><circle cx="844.5" cy="641.6" r="4.5"/><circle cx="838.4" cy="749.2" r="4.5"/><circle cx="809.4" cy="655.4" r="4.5"/><circle cx="887" cy="641.1" r="4.5"/><circle cx="856.6" cy="690.3" r="4.5"/><circle cx="834.5" cy="800.5" r="4.5"/><circle cx="794.4" cy="769.4" r="4.5"/><circle cx="883.9" cy="771" r="4.5"/><circle cx="899.8" cy="780" r="4.5"/><circle cx="800.8" cy="609.8" r="4.5"/><circle cx="763" cy="733.6" r="4.5"/><circle cx="890.6" cy="643.5" r="4.5"/><circle cx="935.8" cy="617.3" r="4.5"/><circle cx="783.9" cy="663.7" r="4.5"/><circle cx="754.3" cy="821.2" r="4.5"/><circle cx="828.5" cy="765.8" r="4.5"/><circle cx="750.7" cy="654.6" r="4.5"/><circle cx="969.4" cy="607.5" r="4.5"/><circle cx="849.8" cy="739.7" r="4.5"/><circle cx="881.7" cy="692.6" r="4.5"/><circle cx="883.3" cy="737.3" r="4.5"/><circle cx="833.2" cy="838.8" r="4.5"/><circle cx="816.4" cy="817" r="4.5"/><circle cx="961.6" cy="643.3" r="4.5"/><circle cx="801.6" cy="626.7" r="4.5"/><circle cx="841.1" cy="828.6" r="4.5"/><circle cx="818.2" cy="808.3" r="4.5"/><circle cx="789" cy="709.3" r="4.5"/><circle cx="892.3" cy="726.5" r="4.5"/><circle cx="813.4" cy="776.1" r="4.5"/><circle cx="902.1" cy="708.3" r="4.5"/><circle cx="778.9" cy="610.7" r="4.5"/><circle cx="1073.7" cy="615.3" r="4.5"/><circle cx="847.5" cy="646.2" r="4.5"/><circle cx="828.7" cy="612.9" r="4.5"/><circle cx="859.5" cy="770.2" r="4.5"/><circle cx="808.7" cy="842.5" r="4.5"/><circle cx="803.2" cy="775.9" r="4.5"/><circle cx="749.5" cy="824.4" r="4.5"/><circle cx="860.2" cy="740.3" r="4.5"/><circle cx="852.1" cy="605.5" r="4.5"/><circle cx="869.2" cy="625" r="4.5"/><circle cx="814.5" cy="842.7" r="4.5"/><circle cx="962.7" cy="619.7" r="4.5"/><circle cx="749.3" cy="721.2" r="4.5"/><circle cx="805" cy="749.6" r="4.5"/><circle cx="915.1" cy="642.4" r="4.5"/><circle cx="846.1" cy="789.4" r="4.5"/><circle cx="889" cy="733.4" r="4.5"/><circle cx="865.6" cy="723.5" r="4.5"/><circle cx="813.4" cy="828.9" r="4.5"/><circle cx="850.4" cy="687.1" r="4.5"/><circle cx="830.8" cy="733.1" r="4.5"/><circle cx="839.2" cy="660.5" r="4.5"/><circle cx="969" cy="723.1" r="4.5"/><circle cx="783.1" cy="830.9" r="4.5"/><circle cx="837.1" cy="665" r="4.5"/><circle cx="825.7" cy="832.3" r="4.5"/><circle cx="795.9" cy="679.9" r="4.5"/><circle cx="893" cy="604.9" r="4.5"/><circle cx="836.5" cy="731.3" r="4.5"/><circle cx="818.1" cy="695.9" r="4.5"/><circle cx="862" cy="640.9" r="4.5"/><circle cx="875.5" cy="644.5" r="4.5"/><circle cx="902.9" cy="795.2" r="4.5"/><circle cx="995.2" cy="617" r="4.5"/><circle cx="801.9" cy="657.3" r="4.5"/><circle cx="888.3" cy="753" r="4.5"/><circle cx="774.9" cy="817.9" r="4.5"/><circle cx="871.9" cy="704.9" r="4.5"/><circle cx="885.9" cy="638.8" r="4.5"/><circle cx="893.9" cy="676.4" r="4.5"/><circle cx="968.5" cy="618.7" r="4.5"/><circle cx="887.3" cy="643.8" r="4.5"/><circle cx="797.1" cy="694.1" r="4.5"/><circle cx="857.3" cy="793" r="4.5"/><circle cx="844.9" cy="753.4" r="4.5"/><circle cx="842.4" cy="782" r="4.5"/><circle cx="917.8" cy="608.8" r="4.5"/><circle cx="940.3" cy="677.9" r="4.5"/><circle cx="800.9" cy="608.1" r="4.5"/><circle cx="895.1" cy="690.2" r="4.5"/><circle cx="837.9" cy="797.7" r="4.5"/><circle cx="787.8" cy="743.8" r="4.5"/><circle cx="841.6" cy="799.8" r="4.5"/><circle cx="829" cy="682.7" r="4.5"/><circle cx="845.8" cy="667.2" r="4.5"/><circle cx="924.6" cy="612.7" r="4.5"/><circle cx="914.9" cy="703.9" r="4.5"/><circle cx="870.1" cy="784.7" r="4.5"/><circle cx="797.4" cy="698.9" r="4.5"/><circle cx="875.1" cy="703.6" r="4.5"/><circle cx="810.9" cy="823.1" r="4.5"/><circle cx="883.7" cy="765.8" r="4.5"/><circle cx="863.1" cy="633.3" r="4.5"/><circle cx="871.4" cy="842.3" r="4.5"/><circle cx="820.6" cy="729.7" r="4.5"/><circle cx="780.1" cy="679.5" r="4.5"/><circle cx="820.5" cy="658.6" r="4.5"/><circle cx="852.2" cy="761.6" r="4.5"/><circle cx="881.2" cy="695.7" r="4.5"/><circle cx="837.5" cy="837.7" r="4.5"/><circle cx="882.6" cy="631.6" r="4.5"/><circle cx="950.8" cy="619" r="4.5"/><circle cx="950.9" cy="611" r="4.5"/><circle cx="894.6" cy="606.4" r="4.5"/><circle cx="887.6" cy="629.4" r="4.5"/><circle cx="861.9" cy="692.7" r="4.5"/><circle cx="780.2" cy="741.3" r="4.5"/><circle cx="925.7" cy="737.5" r="4.5"/><circle cx="869" cy="687.8" r="4.5"/><circle cx="852.4" cy="772.3" r="4.5"/><circle cx="927.7" cy="770.4" r="4.5"/><circle cx="816.3" cy="832.2" r="4.5"/><circle cx="853.3" cy="641.6" r="4.5"/><circle cx="758.9" cy="696.2" r="4.5"/><circle cx="922.5" cy="676.2" r="4.5"/><circle cx="905.5" cy="765.6" r="4.5"/><circle cx="897.3" cy="725" r="4.5"/><circle cx="836.4" cy="793.2" r="4.5"/><circle cx="810.3" cy="620.2" r="4.5"/><circle cx="915.1" cy="647.5" r="4.5"/><circle cx="821.9" cy="758" r="4.5"/><circle cx="793.5" cy="729.5" r="4.5"/><circle cx="917.3" cy="774.7" r="4.5"/><circle cx="906.5" cy="757.2" r="4.5"/><circle cx="862.3" cy="636.7" r="4.5"/><circle cx="813.2" cy="604.6" r="4.5"/><circle cx="876.9" cy="656.4" r="4.5"/><circle cx="925.5" cy="632.3" r="4.5"/><circle cx="772.1" cy="632.2" r="4.5"/><circle cx="879.4" cy="701.4" r="4.5"/><circle cx="954.2" cy="644.8" r="4.5"/><circle cx="812.5" cy="825.7" r="4.5"/><circle cx="857.4" cy="610.7" r="4.5"/><circle cx="829.7" cy="755.3" r="4.5"/><circle cx="798.3" cy="711.8" r="4.5"/><circle cx="1038.8" cy="625.1" r="4.5"/><circle cx="893.3" cy="646.1" r="4.5"/><circle cx="968.5" cy="645.9" r="4.5"/><circle cx="799.6" cy="737.3" r="4.5"/><circle cx="769" cy="637.6" r="4.5"/><circle cx="818.5" cy="740.3" r="4.5"/><circle cx="1059.5" cy="610.4" r="4.5"/><circle cx="883.7" cy="795.9" r="4.5"/><circle cx="894.6" cy="772.3" r="4.5"/><circle cx="810" cy="826.5" r="4.5"/><circle cx="794.5" cy="643.9" r="4.5"/><circle cx="819" cy="745.4" r="4.5"/><circle cx="869.6" cy="757.1" r="4.5"/><circle cx="834" cy="659.5" r="4.5"/><circle cx="836.7" cy="667.6" r="4.5"/><circle cx="991" cy="617.5" r="4.5"/><circle cx="846.1" cy="759.5" r="4.5"/><circle cx="825.4" cy="617.1" r="4.5"/><circle cx="842.2" cy="798.4" r="4.5"/><circle cx="866.1" cy="790.3" r="4.5"/><circle cx="839.2" cy="660.5" r="4.5"/><circle cx="870" cy="678.7" r="4.5"/><circle cx="820.6" cy="705.5" r="4.5"/><circle cx="820.2" cy="671.1" r="4.5"/><circle cx="954.3" cy="630.5" r="4.5"/><circle cx="849.7" cy="795.7" r="4.5"/><circle cx="809.8" cy="707.8" r="4.5"/><circle cx="876" cy="692.3" r="4.5"/><circle cx="881.3" cy="679.8" r="4.5"/><circle cx="823.4" cy="625.4" r="4.5"/><circle cx="843.6" cy="613.6" r="4.5"/><circle cx="888.3" cy="770.3" r="4.5"/><circle cx="810.1" cy="777" r="4.5"/><circle cx="820.2" cy="798.8" r="4.5"/><circle cx="848.2" cy="755.2" r="4.5"/><circle cx="797.7" cy="619.1" r="4.5"/><circle cx="852.4" cy="799.5" r="4.5"/><circle cx="939.2" cy="659.2" r="4.5"/><circle cx="815.1" cy="770.9" r="4.5"/><circle cx="883.2" cy="729.8" r="4.5"/><circle cx="936.3" cy="669.8" r="4.5"/><circle cx="845.4" cy="639" r="4.5"/><circle cx="898.8" cy="618.9" r="4.5"/><circle cx="905.4" cy="645.4" r="4.5"/><circle cx="870.5" cy="739.7" r="4.5"/><circle cx="760.7" cy="708.2" r="4.5"/><circle cx="988.5" cy="606" r="4.5"/><circle cx="795" cy="737.2" r="4.5"/><circle cx="858.3" cy="717.6" r="4.5"/><circle cx="887.9" cy="737.3" r="4.5"/><circle cx="838.4" cy="672.4" r="4.5"/><circle cx="884.9" cy="760.4" r="4.5"/><circle cx="863.7" cy="636.6" r="4.5"/><circle cx="802.1" cy="760.1" r="4.5"/><circle cx="725.7" cy="678.3" r="4.5"/><circle cx="907.3" cy="698.9" r="4.5"/><circle cx="810.5" cy="654" r="4.5"/><circle cx="1020.2" cy="642.5" r="4.5"/><circle cx="877.7" cy="731.5" r="4.5"/><circle cx="876" cy="707.8" r="4.5"/><circle cx="891.3" cy="793.1" r="4.5"/><circle cx="850.2" cy="604.4" r="4.5"/><circle cx="833.3" cy="842" r="4.5"/><circle cx="873.5" cy="626.4" r="4.5"/><circle cx="789.7" cy="758.1" r="4.5"/><circle cx="821.8" cy="773.8" r="4.5"/><circle cx="883.9" cy="759.8" r="4.5"/><circle cx="821.8" cy="608.4" r="4.5"/><circle cx="828.2" cy="752.5" r="4.5"/><circle cx="873.9" cy="747.2" r="4.5"/><circle cx="831.7" cy="781" r="4.5"/><circle cx="813.1" cy="823" r="4.5"/><circle cx="862.5" cy="720.9" r="4.5"/><circle cx="872.6" cy="796.3" r="4.5"/><circle cx="890.7" cy="735.7" r="4.5"/><circle cx="848.1" cy="721.8" r="4.5"/><circle cx="836.1" cy="637.6" r="4.5"/><circle cx="846.4" cy="818.3" r="4.5"/><circle cx="809.2" cy="636.8" r="4.5"/><circle cx="801.3" cy="681.5" r="4.5"/><circle cx="793.9" cy="750.4" r="4.5"/><circle cx="839.4" cy="728.1" r="4.5"/><circle cx="898.3" cy="619.8" r="4.5"/><circle cx="737.5" cy="610.1" r="4.5"/><circle cx="817.3" cy="671.1" r="4.5"/><circle cx="902.2" cy="739" r="4.5"/><circle cx="803" cy="744.4" r="4.5"/><circle cx="849.6" cy="688.9" r="4.5"/><circle cx="812.6" cy="834" r="4.5"/><circle cx="911.2" cy="740.6" r="4.5"/><circle cx="904.3" cy="703.2" r="4.5"/><circle cx="775.3" cy="737.4" r="4.5"/><circle cx="774.1" cy="629.6" r="4.5"/><circle cx="895.8" cy="630.5" r="4.5"/><circle cx="869.9" cy="803.9" r="4.5"/><circle cx="819.1" cy="700.4" r="4.5"/><circle cx="793.6" cy="808.6" r="4.5"/><circle cx="876.9" cy="777.7" r="4.5"/><circle cx="850.6" cy="743.7" r="4.5"/><circle cx="913.4" cy="625.2" r="4.5"/><circle cx="913.9" cy="644.7" r="4.5"/><circle cx="848.5" cy="704.6" r="4.5"/><circle cx="799.7" cy="796" r="4.5"/><circle cx="984.5" cy="681.1" r="4.5"/><circle cx="856.2" cy="811.2" r="4.5"/><circle cx="849.9" cy="721.4" r="4.5"/><circle cx="976.2" cy="609.3" r="4.5"/><circle cx="896" cy="611.5" r="4.5"/><circle cx="787.1" cy="670.5" r="4.5"/><circle cx="801.5" cy="627.8" r="4.5"/><circle cx="919.8" cy="630.9" r="4.5"/><circle cx="903.9" cy="746.8" r="4.5"/><circle cx="898.2" cy="760.4" r="4.5"/><circle cx="879.2" cy="835" r="4.5"/><circle cx="804.5" cy="835.9" r="4.5"/><circle cx="866.8" cy="711.1" r="4.5"/><circle cx="905" cy="665.8" r="4.5"/><circle cx="809.9" cy="676.8" r="4.5"/><circle cx="821.4" cy="605" r="4.5"/><circle cx="838" cy="663.5" r="4.5"/><circle cx="847.6" cy="778.2" r="4.5"/><circle cx="857.1" cy="688.4" r="4.5"/><circle cx="890.5" cy="767.2" r="4.5"/><circle cx="755.5" cy="777.1" r="4.5"/><circle cx="999.7" cy="636.4" r="4.5"/><circle cx="815.7" cy="816.1" r="4.5"/><circle cx="820.6" cy="606.3" r="4.5"/><circle cx="904.9" cy="644.5" r="4.5"/><circle cx="823.8" cy="623.6" r="4.5"/><circle cx="842.1" cy="707.1" r="4.5"/><circle cx="797.2" cy="666.7" r="4.5"/><circle cx="811.8" cy="737.9" r="4.5"/><circle cx="899.2" cy="797" r="4.5"/><circle cx="802" cy="670.7" r="4.5"/><circle cx="1021.6" cy="682.7" r="4.5"/><circle cx="765.6" cy="708.7" r="4.5"/><circle cx="822.9" cy="666.9" r="4.5"/><circle cx="836" cy="727.2" r="4.5"/><circle cx="878.9" cy="823.7" r="4.5"/><circle cx="904.6" cy="649" r="4.5"/><circle cx="890" cy="611.9" r="4.5"/><circle cx="808.8" cy="791.7" r="4.5"/><circle cx="842.1" cy="742.7" r="4.5"/><circle cx="836.2" cy="658" r="4.5"/><circle cx="821.8" cy="771" r="4.5"/><circle cx="823.8" cy="728.4" r="4.5"/><circle cx="844.7" cy="742.4" r="4.5"/><circle cx="727.9" cy="833.6" r="4.5"/><circle cx="778.9" cy="687.6" r="4.5"/><circle cx="867.4" cy="771.4" r="4.5"/><circle cx="874.6" cy="698.6" r="4.5"/><circle cx="927.9" cy="686.3" r="4.5"/><circle cx="788.6" cy="749.2" r="4.5"/><circle cx="802" cy="636.7" r="4.5"/><circle cx="803.4" cy="799.1" r="4.5"/><circle cx="939.6" cy="622.4" r="4.5"/><circle cx="838.4" cy="604.6" r="4.5"/><circle cx="888.5" cy="652.7" r="4.5"/><circle cx="855.7" cy="702.1" r="4.5"/><circle cx="975.2" cy="647.9" r="4.5"/><circle cx="805" cy="662.3" r="4.5"/><circle cx="768.5" cy="627.9" r="4.5"/><circle cx="812.5" cy="807.7" r="4.5"/><circle cx="928.1" cy="750" r="4.5"/><circle cx="811.2" cy="775.9" r="4.5"/><circle cx="886.8" cy="694.6" r="4.5"/><circle cx="904.4" cy="780.1" r="4.5"/><circle cx="848.4" cy="620.8" r="4.5"/><circle cx="837.1" cy="696.9" r="4.5"/><circle cx="808.8" cy="801.7" r="4.5"/><circle cx="859.2" cy="686" r="4.5"/><circle cx="809.2" cy="608.7" r="4.5"/><circle cx="864.8" cy="680.1" r="4.5"/><circle cx="951" cy="674.1" r="4.5"/><circle cx="777.2" cy="837.4" r="4.5"/><circle cx="857.2" cy="616.9" r="4.5"/><circle cx="838.8" cy="652.1" r="4.5"/><circle cx="801.8" cy="762.2" r="4.5"/><circle cx="860.4" cy="696.7" r="4.5"/><circle cx="921.7" cy="691" r="4.5"/><circle cx="838.9" cy="752.5" r="4.5"/><circle cx="801.1" cy="636.4" r="4.5"/><circle cx="883.9" cy="631.6" r="4.5"/><circle cx="841.8" cy="839.2" r="4.5"/><circle cx="769.3" cy="699.4" r="4.5"/><circle cx="855.6" cy="780.5" r="4.5"/><circle cx="951.4" cy="608.4" r="4.5"/><circle cx="849.5" cy="656.4" r="4.5"/><circle cx="956.5" cy="629.6" r="4.5"/><circle cx="847.5" cy="818.7" r="4.5"/><circle cx="912.3" cy="624.8" r="4.5"/><circle cx="927.7" cy="677.6" r="4.5"/><circle cx="870.2" cy="673.9" r="4.5"/><circle cx="748.8" cy="690.8" r="4.5"/><circle cx="889.2" cy="719.5" r="4.5"/><circle cx="835.7" cy="792.6" r="4.5"/><circle cx="861.1" cy="666.6" r="4.5"/><circle cx="820.8" cy="811.7" r="4.5"/><circle cx="772.4" cy="682.9" r="4.5"/><circle cx="839.4" cy="781.9" r="4.5"/><circle cx="842.5" cy="774.7" r="4.5"/><circle cx="799.7" cy="772.7" r="4.5"/><circle cx="817.2" cy="691.4" r="4.5"/><circle cx="853.1" cy="641.3" r="4.5"/><circle cx="810.4" cy="817.7" r="4.5"/><circle cx="904.2" cy="740.4" r="4.5"/><circle cx="819.4" cy="807.2" r="4.5"/><circle cx="849.4" cy="818.9" r="4.5"/><circle cx="787.2" cy="733.3" r="4.5"/><circle cx="739.2" cy="611.5" r="4.5"/><circle cx="779.4" cy="701.8" r="4.5"/><circle cx="813.2" cy="792.4" r="4.5"/><circle cx="941.9" cy="806.6" r="4.5"/><circle cx="841" cy="818.6" r="4.5"/><circle cx="861.6" cy="741" r="4.5"/><circle cx="828.4" cy="653.7" r="4.5"/><circle cx="885.4" cy="782.8" r="4.5"/><circle cx="776.5" cy="653.5" r="4.5"/><circle cx="810.9" cy="636.8" r="4.5"/><circle cx="886.1" cy="667.9" r="4.5"/><circle cx="987.6" cy="609.1" r="4.5"/><circle cx="814.3" cy="839.3" r="4.5"/><circle cx="850.8" cy="736.4" r="4.5"/><circle cx="858.1" cy="770.6" r="4.5"/><circle cx="901.9" cy="668.1" r="4.5"/><circle cx="802.8" cy="758.3" r="4.5"/><circle cx="885.2" cy="829.7" r="4.5"/><circle cx="934" cy="819.1" r="4.5"/><circle cx="910.5" cy="777.2" r="4.5"/><circle cx="796.2" cy="743.5" r="4.5"/><circle cx="755.5" cy="656.4" r="4.5"/><circle cx="798.7" cy="665.8" r="4.5"/><circle cx="848.1" cy="700.8" r="4.5"/><circle cx="855.3" cy="741.9" r="4.5"/><circle cx="901.7" cy="632" r="4.5"/><circle cx="839" cy="608.1" r="4.5"/><circle cx="808.7" cy="758.7" r="4.5"/><circle cx="897.4" cy="629.4" r="4.5"/><circle cx="849.6" cy="715.6" r="4.5"/><circle cx="778" cy="685.7" r="4.5"/><circle cx="821.8" cy="653" r="4.5"/><circle cx="846.1" cy="764.2" r="4.5"/><circle cx="885.7" cy="661.1" r="4.5"/><circle cx="899.2" cy="687.5" r="4.5"/><circle cx="879.7" cy="756.4" r="4.5"/><circle cx="923" cy="695.4" r="4.5"/><circle cx="851.9" cy="749.6" r="4.5"/><circle cx="776.9" cy="692.7" r="4.5"/><circle cx="861.2" cy="606.9" r="4.5"/><circle cx="901.8" cy="660.4" r="4.5"/><circle cx="929.5" cy="635.5" r="4.5"/><circle cx="883.1" cy="749.3" r="4.5"/><circle cx="1072.9" cy="617.1" r="4.5"/><circle cx="865.2" cy="649.4" r="4.5"/><circle cx="859.2" cy="763.4" r="4.5"/><circle cx="768.8" cy="647.3" r="4.5"/><circle cx="841" cy="793.5" r="4.5"/><circle cx="838.2" cy="753.2" r="4.5"/><circle cx="834.9" cy="836.8" r="4.5"/><circle cx="817.7" cy="703.9" r="4.5"/><circle cx="802.2" cy="694.6" r="4.5"/><circle cx="836.1" cy="835" r="4.5"/><circle cx="771.6" cy="756.2" r="4.5"/><circle cx="840.3" cy="697.6" r="4.5"/><circle cx="847.9" cy="706.8" r="4.5"/><circle cx="931.9" cy="630.6" r="4.5"/><circle cx="785.9" cy="627.1" r="4.5"/><circle cx="804.4" cy="703.5" r="4.5"/><circle cx="818.7" cy="674.5" r="4.5"/><circle cx="805.7" cy="659.9" r="4.5"/><circle cx="965.4" cy="610.7" r="4.5"/><circle cx="853.6" cy="808.2" r="4.5"/><circle cx="813.9" cy="761.9" r="4.5"/><circle cx="887.6" cy="750.9" r="4.5"/><circle cx="798.1" cy="640.1" r="4.5"/><circle cx="823.1" cy="719.1" r="4.5"/><circle cx="932.6" cy="715.3" r="4.5"/><circle cx="951.5" cy="655" r="4.5"/><circle cx="803.7" cy="654.3" r="4.5"/><circle cx="857.6" cy="749" r="4.5"/><circle cx="832" cy="840.5" r="4.5"/><circle cx="839.8" cy="690" r="4.5"/><circle cx="850.6" cy="603.9" r="4.5"/><circle cx="881.5" cy="792.8" r="4.5"/><circle cx="808.8" cy="776.9" r="4.5"/><circle cx="934.9" cy="718.2" r="4.5"/><circle cx="823.5" cy="787.1" r="4.5"/><circle cx="841.6" cy="682.3" r="4.5"/><circle cx="840.3" cy="811.5" r="4.5"/><circle cx="826.3" cy="717.9" r="4.5"/><circle cx="983.4" cy="688.2" r="4.5"/><circle cx="836.9" cy="640.6" r="4.5"/><circle cx="905.9" cy="680.6" r="4.5"/><circle cx="916.2" cy="777" r="4.5"/><circle cx="774.1" cy="723.8" r="4.5"/><circle cx="806.7" cy="662" r="4.5"/><circle cx="879.6" cy="713.1" r="4.5"/><circle cx="832.2" cy="792.1" r="4.5"/><circle cx="820.3" cy="766.5" r="4.5"/><circle cx="885.9" cy="842" r="4.5"/><circle cx="852.4" cy="707.2" r="4.5"/><circle cx="878.2" cy="747" r="4.5"/><circle cx="804.5" cy="687.6" r="4.5"/><circle cx="918.7" cy="844" r="4.5"/><circle cx="846.5" cy="619.7" r="4.5"/><circle cx="807.4" cy="776.3" r="4.5"/><circle cx="879.7" cy="625.7" r="4.5"/><circle cx="823.7" cy="609.1" r="4.5"/><circle cx="738" cy="715.5" r="4.5"/><circle cx="929.4" cy="691.7" r="4.5"/><circle cx="910.4" cy="660.2" r="4.5"/><circle cx="857.4" cy="661.6" r="4.5"/><circle cx="910.4" cy="656.5" r="4.5"/><circle cx="871.9" cy="737.6" r="4.5"/><circle cx="967.1" cy="633.4" r="4.5"/><circle cx="912.5" cy="702.6" r="4.5"/><circle cx="962.5" cy="654" r="4.5"/><circle cx="901.5" cy="767.3" r="4.5"/><circle cx="834.9" cy="695.5" r="4.5"/><circle cx="946.7" cy="632.6" r="4.5"/><circle cx="857.3" cy="686.2" r="4.5"/><circle cx="873.8" cy="781.4" r="4.5"/><circle cx="787.7" cy="841.7" r="4.5"/><circle cx="848.9" cy="798.5" r="4.5"/><circle cx="787.9" cy="732.8" r="4.5"/><circle cx="892" cy="655.5" r="4.5"/><circle cx="865.2" cy="736.7" r="4.5"/><circle cx="900.2" cy="641.2" r="4.5"/><circle cx="858" cy="721.1" r="4.5"/><circle cx="952.5" cy="632.8" r="4.5"/><circle cx="905.1" cy="684" r="4.5"/><circle cx="845.7" cy="775.7" r="4.5"/><circle cx="726.3" cy="652.2" r="4.5"/><circle cx="980.8" cy="610.6" r="4.5"/><circle cx="830.1" cy="669.4" r="4.5"/><circle cx="897.7" cy="825.6" r="4.5"/><circle cx="987.5" cy="692.8" r="4.5"/><circle cx="948" cy="608.2" r="4.5"/><circle cx="889.2" cy="707" r="4.5"/><circle cx="850" cy="821" r="4.5"/><circle cx="769" cy="633.2" r="4.5"/><circle cx="811.1" cy="633" r="4.5"/><circle cx="961.2" cy="711.2" r="4.5"/><circle cx="814.6" cy="640.4" r="4.5"/><circle cx="900.4" cy="666.7" r="4.5"/><circle cx="852.9" cy="798.5" r="4.5"/><circle cx="873.5" cy="661" r="4.5"/><circle cx="870.9" cy="801.5" r="4.5"/><circle cx="823.5" cy="610.1" r="4.5"/><circle cx="802.6" cy="621.4" r="4.5"/><circle cx="890.5" cy="719.4" r="4.5"/><circle cx="835" cy="706.2" r="4.5"/><circle cx="777.6" cy="709.2" r="4.5"/><circle cx="764.2" cy="786.2" r="4.5"/><circle cx="832.8" cy="616.6" r="4.5"/><circle cx="853.3" cy="730.1" r="4.5"/><circle cx="819" cy="641.1" r="4.5"/><circle cx="839.5" cy="798.3" r="4.5"/><circle cx="850.3" cy="648" r="4.5"/><circle cx="790.4" cy="676.1" r="4.5"/><circle cx="844.9" cy="663.4" r="4.5"/><circle cx="911.7" cy="753.8" r="4.5"/><circle cx="932.7" cy="639.1" r="4.5"/><circle cx="826.8" cy="822.7" r="4.5"/><circle cx="872.1" cy="798.1" r="4.5"/><circle cx="806.4" cy="636" r="4.5"/><circle cx="831.2" cy="765.8" r="4.5"/><circle cx="874.7" cy="835.9" r="4.5"/><circle cx="972.8" cy="750.4" r="4.5"/><circle cx="884.6" cy="797.2" r="4.5"/><circle cx="888.3" cy="670.8" r="4.5"/><circle cx="845.1" cy="699.8" r="4.5"/><circle cx="907" cy="626.3" r="4.5"/><circle cx="863.6" cy="772.3" r="4.5"/><circle cx="882.4" cy="833.6" r="4.5"/><circle cx="925" cy="659.7" r="4.5"/><circle cx="883.9" cy="809" r="4.5"/><circle cx="797.8" cy="826.7" r="4.5"/><circle cx="957.2" cy="827.2" r="4.5"/><circle cx="862.5" cy="791.2" r="4.5"/><circle cx="888.9" cy="617.6" r="4.5"/><circle cx="835.7" cy="616.6" r="4.5"/><circle cx="955.2" cy="780.8" r="4.5"/><circle cx="995.8" cy="612.9" r="4.5"/><circle cx="812.9" cy="768.7" r="4.5"/><circle cx="980.4" cy="634.1" r="4.5"/><circle cx="992" cy="685.8" r="4.5"/><circle cx="856.7" cy="683.4" r="4.5"/><circle cx="743.4" cy="611.6" r="4.5"/><circle cx="878.5" cy="762.3" r="4.5"/><circle cx="907.2" cy="645.8" r="4.5"/><circle cx="790.8" cy="726.7" r="4.5"/><circle cx="813.1" cy="692.8" r="4.5"/><circle cx="981" cy="657" r="4.5"/><circle cx="880.7" cy="798.6" r="4.5"/><circle cx="916.4" cy="646.6" r="4.5"/><circle cx="913.2" cy="663.7" r="4.5"/><circle cx="821.1" cy="831.8" r="4.5"/><circle cx="878.3" cy="802.2" r="4.5"/><circle cx="861.2" cy="796.4" r="4.5"/><circle cx="871.2" cy="840.9" r="4.5"/><circle cx="848.8" cy="789.2" r="4.5"/><circle cx="839.3" cy="737.3" r="4.5"/><circle cx="899.6" cy="802.3" r="4.5"/><circle cx="943.4" cy="691.7" r="4.5"/><circle cx="870.8" cy="711.1" r="4.5"/><circle cx="925.6" cy="803.5" r="4.5"/><circle cx="866.6" cy="796.1" r="4.5"/><circle cx="803.8" cy="773.1" r="4.5"/><circle cx="792.7" cy="761.2" r="4.5"/><circle cx="806.3" cy="788.1" r="4.5"/><circle cx="820.2" cy="662.2" r="4.5"/><circle cx="870.2" cy="663.5" r="4.5"/><circle cx="874.9" cy="836.5" r="4.5"/><circle cx="830.8" cy="722" r="4.5"/><circle cx="913" cy="663.8" r="4.5"/><circle cx="889.9" cy="634.7" r="4.5"/><circle cx="820.5" cy="821.2" r="4.5"/><circle cx="839" cy="705.6" r="4.5"/><circle cx="753.8" cy="629.7" r="4.5"/><circle cx="1028.2" cy="645.4" r="4.5"/><circle cx="903.4" cy="780.8" r="4.5"/><circle cx="886" cy="671.5" r="4.5"/><circle cx="892.2" cy="728.1" r="4.5"/><circle cx="747" cy="610.5" r="4.5"/><circle cx="881.8" cy="797.5" r="4.5"/><circle cx="827.6" cy="729.1" r="4.5"/><circle cx="1014.4" cy="759.9" r="4.5"/><circle cx="844.3" cy="795.8" r="4.5"/><circle cx="803.6" cy="642" r="4.5"/><circle cx="853" cy="838.8" r="4.5"/><circle cx="855.6" cy="643.3" r="4.5"/><circle cx="758.7" cy="709.1" r="4.5"/><circle cx="839.9" cy="643.6" r="4.5"/><circle cx="789.6" cy="619.9" r="4.5"/><circle cx="769.6" cy="738.4" r="4.5"/><circle cx="725.6" cy="726.2" r="4.5"/><circle cx="868.2" cy="827.3" r="4.5"/><circle cx="880.7" cy="816.8" r="4.5"/><circle cx="845.6" cy="805.2" r="4.5"/><circle cx="849.5" cy="753.4" r="4.5"/><circle cx="902.1" cy="659.4" r="4.5"/><circle cx="1007.7" cy="608.6" r="4.5"/><circle cx="858.9" cy="710.8" r="4.5"/><circle cx="872.5" cy="756.6" r="4.5"/><circle cx="849.5" cy="816.6" r="4.5"/><circle cx="858.8" cy="835.8" r="4.5"/><circle cx="892.7" cy="674.8" r="4.5"/><circle cx="859.8" cy="736.6" r="4.5"/><circle cx="874.3" cy="843.8" r="4.5"/><circle cx="900.9" cy="731.5" r="4.5"/><circle cx="838.7" cy="733.9" r="4.5"/><circle cx="871.2" cy="640.3" r="4.5"/><circle cx="861.3" cy="692.1" r="4.5"/><circle cx="895.4" cy="607" r="4.5"/><circle cx="800.1" cy="841.5" r="4.5"/><circle cx="942.2" cy="643.8" r="4.5"/><circle cx="944.5" cy="659.3" r="4.5"/><circle cx="840.6" cy="619.5" r="4.5"/><circle cx="1012.4" cy="770.5" r="4.5"/><circle cx="905.2" cy="727.5" r="4.5"/><circle cx="809.3" cy="637.5" r="4.5"/><circle cx="808" cy="843.5" r="4.5"/><circle cx="832" cy="664.9" r="4.5"/><circle cx="915.9" cy="679.5" r="4.5"/><circle cx="856.1" cy="687.9" r="4.5"/><circle cx="880.2" cy="831.6" r="4.5"/><circle cx="854.4" cy="708.4" r="4.5"/><circle cx="791.1" cy="745.2" r="4.5"/><circle cx="908" cy="630.2" r="4.5"/><circle cx="775.4" cy="665.1" r="4.5"/><circle cx="799" cy="673.1" r="4.5"/><circle cx="879.9" cy="737.9" r="4.5"/><circle cx="780.2" cy="746" r="4.5"/><circle cx="881.5" cy="699.5" r="4.5"/><circle cx="782.1" cy="760.4" r="4.5"/><circle cx="855.3" cy="744.9" r="4.5"/><circle cx="948.1" cy="612.6" r="4.5"/><circle cx="808.7" cy="683.2" r="4.5"/><circle cx="793.9" cy="697.6" r="4.5"/><circle cx="932.4" cy="674.6" r="4.5"/><circle cx="846.8" cy="643.5" r="4.5"/><circle cx="864.5" cy="701.2" r="4.5"/><circle cx="869.2" cy="617.5" r="4.5"/><circle cx="850.6" cy="639" r="4.5"/><circle cx="849.4" cy="757.2" r="4.5"/><circle cx="853.6" cy="705.5" r="4.5"/><circle cx="762.8" cy="791.7" r="4.5"/><circle cx="931.6" cy="734.8" r="4.5"/><circle cx="786.7" cy="741.3" r="4.5"/><circle cx="897.9" cy="748" r="4.5"/><circle cx="813" cy="618.7" r="4.5"/><circle cx="1031.2" cy="611.1" r="4.5"/><circle cx="801.2" cy="738" r="4.5"/><circle cx="815.2" cy="818.8" r="4.5"/><circle cx="935.6" cy="621.1" r="4.5"/><circle cx="853.6" cy="797.4" r="4.5"/><circle cx="761.4" cy="770" r="4.5"/><circle cx="747.3" cy="840.7" r="4.5"/><circle cx="963.6" cy="664.9" r="4.5"/><circle cx="862.7" cy="647.2" r="4.5"/><circle cx="919.7" cy="632.4" r="4.5"/><circle cx="858.3" cy="725.4" r="4.5"/><circle cx="796.4" cy="765" r="4.5"/><circle cx="986.2" cy="616.5" r="4.5"/><circle cx="803" cy="702" r="4.5"/><circle cx="786.1" cy="628.9" r="4.5"/><circle cx="775.8" cy="793.2" r="4.5"/><circle cx="866.2" cy="743.9" r="4.5"/><circle cx="1033" cy="626.2" r="4.5"/><circle cx="833.9" cy="829.8" r="4.5"/><circle cx="842" cy="642.3" r="4.5"/><circle cx="854.7" cy="685.7" r="4.5"/><circle cx="849" cy="658.7" r="4.5"/><circle cx="867" cy="647.5" r="4.5"/><circle cx="887.7" cy="647.1" r="4.5"/><circle cx="904.4" cy="642.9" r="4.5"/><circle cx="882.9" cy="675.4" r="4.5"/><circle cx="835.3" cy="713.5" r="4.5"/><circle cx="953.4" cy="605" r="4.5"/><circle cx="874.9" cy="836.5" r="4.5"/><circle cx="832.2" cy="713.1" r="4.5"/><circle cx="778.5" cy="765.7" r="4.5"/><circle cx="881.2" cy="810" r="4.5"/><circle cx="847.8" cy="622.6" r="4.5"/><circle cx="806.1" cy="813.8" r="4.5"/><circle cx="825.4" cy="607.7" r="4.5"/><circle cx="872" cy="799.3" r="4.5"/><circle cx="795.3" cy="730.1" r="4.5"/><circle cx="925.6" cy="743.3" r="4.5"/><circle cx="1034.7" cy="809.2" r="4.5"/><circle cx="809.2" cy="640.1" r="4.5"/><circle cx="780.4" cy="665.1" r="4.5"/><circle cx="872.3" cy="812.3" r="4.5"/><circle cx="804.8" cy="657.2" r="4.5"/><circle cx="844.6" cy="643.5" r="4.5"/><circle cx="910.8" cy="683.5" r="4.5"/><circle cx="816.7" cy="777.7" r="4.5"/><circle cx="810.2" cy="684.9" r="4.5"/><circle cx="847.9" cy="621.8" r="4.5"/><circle cx="859.1" cy="802.3" r="4.5"/><circle cx="819.6" cy="608.6" r="4.5"/><circle cx="867.5" cy="736" r="4.5"/><circle cx="778.8" cy="797.6" r="4.5"/><circle cx="793.9" cy="776.8" r="4.5"/><circle cx="951.5" cy="638.7" r="4.5"/><circle cx="829.3" cy="672.6" r="4.5"/><circle cx="843" cy="626.7" r="4.5"/><circle cx="809.2" cy="603.8" r="4.5"/><circle cx="762.4" cy="608" r="4.5"/><circle cx="906.5" cy="654.2" r="4.5"/><circle cx="829.4" cy="694.5" r="4.5"/><circle cx="811.2" cy="701.2" r="4.5"/><circle cx="893.2" cy="760.5" r="4.5"/><circle cx="887.1" cy="635.7" r="4.5"/><circle cx="826.2" cy="745.5" r="4.5"/><circle cx="839.2" cy="617.1" r="4.5"/><circle cx="789.5" cy="711.4" r="4.5"/><circle cx="795.3" cy="787.1" r="4.5"/><circle cx="835.4" cy="716.5" r="4.5"/><circle cx="820.4" cy="701" r="4.5"/><circle cx="881.1" cy="774.3" r="4.5"/><circle cx="884.2" cy="760.1" r="4.5"/><circle cx="840" cy="677.1" r="4.5"/><circle cx="830.7" cy="758.1" r="4.5"/><circle cx="759.1" cy="618.3" r="4.5"/><circle cx="815.1" cy="639.5" r="4.5"/><circle cx="853.7" cy="822.5" r="4.5"/><circle cx="856.8" cy="750.6" r="4.5"/><circle cx="873.3" cy="799.5" r="4.5"/><circle cx="815.6" cy="623.7" r="4.5"/><circle cx="862" cy="650.2" r="4.5"/><circle cx="858.8" cy="606.3" r="4.5"/><circle cx="862.4" cy="658.9" r="4.5"/><circle cx="823" cy="746.4" r="4.5"/><circle cx="745.7" cy="644.2" r="4.5"/><circle cx="848.2" cy="838.4" r="4.5"/><circle cx="777.8" cy="620" r="4.5"/><circle cx="916.3" cy="790.4" r="4.5"/><circle cx="911.2" cy="662.9" r="4.5"/><circle cx="898.8" cy="685.4" r="4.5"/><circle cx="823" cy="610.4" r="4.5"/><circle cx="868" cy="656.6" r="4.5"/><circle cx="932.5" cy="659.9" r="4.5"/><circle cx="751" cy="658.2" r="4.5"/><circle cx="884.1" cy="709.2" r="4.5"/><circle cx="757.2" cy="791.8" r="4.5"/><circle cx="930.2" cy="641.3" r="4.5"/><circle cx="1013.1" cy="733.5" r="4.5"/><circle cx="757.6" cy="686.3" r="4.5"/><circle cx="866" cy="767.5" r="4.5"/><circle cx="823.7" cy="798.6" r="4.5"/><circle cx="918.9" cy="623.7" r="4.5"/><circle cx="830.7" cy="752.1" r="4.5"/><circle cx="782.3" cy="680.4" r="4.5"/><circle cx="940.9" cy="616" r="4.5"/><circle cx="853.2" cy="794.2" r="4.5"/><circle cx="818.8" cy="650.9" r="4.5"/><circle cx="1089.4" cy="623.3" r="4.5"/><circle cx="902" cy="610.7" r="4.5"/><circle cx="814.6" cy="716.1" r="4.5"/><circle cx="773.8" cy="787" r="4.5"/><circle cx="838.1" cy="791.7" r="4.5"/><circle cx="905.5" cy="781.6" r="4.5"/><circle cx="762.5" cy="722.9" r="4.5"/><circle cx="858.5" cy="817.1" r="4.5"/><circle cx="845.2" cy="689" r="4.5"/><circle cx="947.9" cy="630" r="4.5"/><circle cx="752" cy="755.9" r="4.5"/><circle cx="829.6" cy="824.1" r="4.5"/><circle cx="818.9" cy="829.4" r="4.5"/><circle cx="876.5" cy="643.1" r="4.5"/><circle cx="794.3" cy="741" r="4.5"/><circle cx="886" cy="693.4" r="4.5"/><circle cx="811.8" cy="796.6" r="4.5"/><circle cx="874" cy="743.1" r="4.5"/><circle cx="767.9" cy="645.8" r="4.5"/><circle cx="804.7" cy="790" r="4.5"/><circle cx="813.2" cy="645.1" r="4.5"/><circle cx="792.5" cy="686.9" r="4.5"/><circle cx="984.9" cy="626.2" r="4.5"/><circle cx="899.7" cy="842.6" r="4.5"/><circle cx="794.3" cy="691.5" r="4.5"/><circle cx="879.1" cy="614.1" r="4.5"/><circle cx="828.5" cy="804.2" r="4.5"/><circle cx="881.7" cy="681.4" r="4.5"/><circle cx="957.4" cy="668.7" r="4.5"/><circle cx="875.7" cy="609.5" r="4.5"/><circle cx="751.1" cy="715.8" r="4.5"/><circle cx="814.2" cy="713.8" r="4.5"/><circle cx="1011.4" cy="623.8" r="4.5"/><circle cx="884.8" cy="757.2" r="4.5"/><circle cx="847.7" cy="640.1" r="4.5"/><circle cx="819.6" cy="782" r="4.5"/><circle cx="849.9" cy="692.4" r="4.5"/><circle cx="845.7" cy="692.3" r="4.5"/><circle cx="814.6" cy="736.4" r="4.5"/><circle cx="877.5" cy="698.1" r="4.5"/><circle cx="820.1" cy="632.9" r="4.5"/><circle cx="831.6" cy="708.8" r="4.5"/><circle cx="1084" cy="651.9" r="4.5"/><circle cx="790.7" cy="630.3" r="4.5"/><circle cx="807.3" cy="673.1" r="4.5"/><circle cx="879.8" cy="749.2" r="4.5"/><circle cx="818.8" cy="748.1" r="4.5"/><circle cx="842.6" cy="647.3" r="4.5"/><circle cx="896.4" cy="806.7" r="4.5"/><circle cx="944.6" cy="672.8" r="4.5"/><circle cx="830.4" cy="799.1" r="4.5"/><circle cx="871.2" cy="786.8" r="4.5"/><circle cx="732.4" cy="641.3" r="4.5"/><circle cx="902.3" cy="679.7" r="4.5"/><circle cx="827" cy="639.5" r="4.5"/><circle cx="832.7" cy="830.7" r="4.5"/><circle cx="908.4" cy="697.8" r="4.5"/><circle cx="842.5" cy="605.1" r="4.5"/><circle cx="794.3" cy="635" r="4.5"/><circle cx="797.8" cy="697.2" r="4.5"/><circle cx="913.6" cy="682.3" r="4.5"/><circle cx="868.7" cy="652.3" r="4.5"/><circle cx="870.6" cy="740.4" r="4.5"/><circle cx="825.4" cy="717.2" r="4.5"/><circle cx="856.6" cy="642.4" r="4.5"/><circle cx="796.8" cy="775" r="4.5"/><circle cx="823.3" cy="776.1" r="4.5"/><circle cx="891.4" cy="812.6" r="4.5"/><circle cx="952.5" cy="608.7" r="4.5"/><circle cx="826.2" cy="700.6" r="4.5"/><circle cx="861.5" cy="766.1" r="4.5"/><circle cx="993.4" cy="614.4" r="4.5"/><circle cx="964.2" cy="624.6" r="4.5"/><circle cx="827.6" cy="785.9" r="4.5"/><circle cx="768.6" cy="657.8" r="4.5"/><circle cx="800.7" cy="743.7" r="4.5"/><circle cx="848.2" cy="604.8" r="4.5"/><circle cx="909.6" cy="716.1" r="4.5"/><circle cx="857" cy="750.2" r="4.5"/><circle cx="938.1" cy="619.4" r="4.5"/><circle cx="817.6" cy="624.7" r="4.5"/><circle cx="925.4" cy="691.5" r="4.5"/><circle cx="797.8" cy="782.9" r="4.5"/><circle cx="840.8" cy="802.1" r="4.5"/><circle cx="828.7" cy="612.9" r="4.5"/><circle cx="959.1" cy="633.6" r="4.5"/><circle cx="870" cy="803.1" r="4.5"/><circle cx="904.6" cy="754.1" r="4.5"/><circle cx="808.6" cy="731.3" r="4.5"/><circle cx="828.1" cy="768" r="4.5"/><circle cx="857.9" cy="838.4" r="4.5"/><circle cx="797" cy="831" r="4.5"/><circle cx="872.2" cy="669.3" r="4.5"/><circle cx="922" cy="722.7" r="4.5"/><circle cx="821.3" cy="643.8" r="4.5"/><circle cx="853.5" cy="781.8" r="4.5"/><circle cx="884.1" cy="745.2" r="4.5"/><circle cx="825.4" cy="824.1" r="4.5"/><circle cx="903.5" cy="612.9" r="4.5"/><circle cx="756.7" cy="821.6" r="4.5"/><circle cx="908.7" cy="757.5" r="4.5"/><circle cx="834" cy="727.1" r="4.5"/><circle cx="863.9" cy="784" r="4.5"/><circle cx="881.3" cy="679.8" r="4.5"/><circle cx="938.6" cy="813.6" r="4.5"/><circle cx="822" cy="827.5" r="4.5"/><circle cx="893.7" cy="669.1" r="4.5"/><circle cx="876.6" cy="647.2" r="4.5"/><circle cx="896.2" cy="624.7" r="4.5"/><circle cx="919.6" cy="668.8" r="4.5"/><circle cx="836.1" cy="766.2" r="4.5"/><circle cx="872.5" cy="712" r="4.5"/><circle cx="849.3" cy="662.8" r="4.5"/><circle cx="932.2" cy="710.7" r="4.5"/><circle cx="811.2" cy="746.4" r="4.5"/><circle cx="896.7" cy="694.4" r="4.5"/><circle cx="907" cy="667.6" r="4.5"/><circle cx="743.3" cy="641.5" r="4.5"/><circle cx="964.8" cy="637.3" r="4.5"/><circle cx="828.1" cy="759" r="4.5"/><circle cx="836.4" cy="684.9" r="4.5"/><circle cx="811.7" cy="769.8" r="4.5"/><circle cx="832.8" cy="806.2" r="4.5"/><circle cx="848.2" cy="734" r="4.5"/><circle cx="822.6" cy="724.3" r="4.5"/><circle cx="728.5" cy="609.1" r="4.5"/><circle cx="826.9" cy="613.8" r="4.5"/><circle cx="933.6" cy="754.8" r="4.5"/><circle cx="750.8" cy="761.6" r="4.5"/><circle cx="810.6" cy="823.7" r="4.5"/><circle cx="903" cy="635.8" r="4.5"/><circle cx="845.5" cy="760.4" r="4.5"/><circle cx="943.7" cy="625.8" r="4.5"/><circle cx="844.5" cy="758" r="4.5"/><circle cx="852.7" cy="809.8" r="4.5"/><circle cx="885.1" cy="760" r="4.5"/><circle cx="826.5" cy="749.4" r="4.5"/><circle cx="878.2" cy="816.9" r="4.5"/><circle cx="887.5" cy="631.5" r="4.5"/><circle cx="991" cy="619.4" r="4.5"/><circle cx="862.3" cy="763.4" r="4.5"/><circle cx="840.2" cy="823" r="4.5"/><circle cx="826.8" cy="630.1" r="4.5"/><circle cx="865.4" cy="680.9" r="4.5"/><circle cx="864.8" cy="687.4" r="4.5"/><circle cx="798.5" cy="817.4" r="4.5"/><circle cx="872.9" cy="712.3" r="4.5"/><circle cx="846.8" cy="643.5" r="4.5"/><circle cx="891.7" cy="783.7" r="4.5"/><circle cx="877.9" cy="830.8" r="4.5"/><circle cx="937" cy="639" r="4.5"/><circle cx="840.5" cy="719.6" r="4.5"/><circle cx="963.9" cy="606.4" r="4.5"/><circle cx="883.4" cy="825.1" r="4.5"/><circle cx="966" cy="658.4" r="4.5"/><circle cx="761.5" cy="727" r="4.5"/><circle cx="960.8" cy="613.1" r="4.5"/><circle cx="835" cy="682.7" r="4.5"/><circle cx="850.8" cy="787.4" r="4.5"/><circle cx="791.3" cy="640.2" r="4.5"/><circle cx="869.5" cy="652" r="4.5"/><circle cx="948.6" cy="680.4" r="4.5"/><circle cx="781.4" cy="630.3" r="4.5"/><circle cx="894.5" cy="812" r="4.5"/><circle cx="873" cy="806.8" r="4.5"/><circle cx="919.1" cy="742.3" r="4.5"/><circle cx="955.1" cy="777.7" r="4.5"/><circle cx="838.9" cy="716.1" r="4.5"/><circle cx="888.8" cy="674.4" r="4.5"/><circle cx="831.9" cy="682" r="4.5"/><circle cx="864.3" cy="634.3" r="4.5"/><circle cx="750.4" cy="629.6" r="4.5"/><circle cx="904.4" cy="716.9" r="4.5"/><circle cx="937.8" cy="762.9" r="4.5"/><circle cx="797.9" cy="737.1" r="4.5"/><circle cx="908" cy="641.3" r="4.5"/><circle cx="867.4" cy="669.2" r="4.5"/><circle cx="732.2" cy="694.6" r="4.5"/><circle cx="837.8" cy="709.6" r="4.5"/><circle cx="857.3" cy="784.3" r="4.5"/><circle cx="891.9" cy="742.6" r="4.5"/><circle cx="934.8" cy="723.8" r="4.5"/><circle cx="790.1" cy="664.1" r="4.5"/><circle cx="877.6" cy="811.5" r="4.5"/><circle cx="809.5" cy="669.1" r="4.5"/><circle cx="787.3" cy="688.1" r="4.5"/><circle cx="1007.3" cy="631.3" r="4.5"/><circle cx="859.7" cy="837.8" r="4.5"/><circle cx="833.7" cy="734.9" r="4.5"/><circle cx="811.1" cy="662" r="4.5"/><circle cx="877.8" cy="710.9" r="4.5"/><circle cx="836.4" cy="616.8" r="4.5"/><circle cx="875.7" cy="698.2" r="4.5"/><circle cx="847.2" cy="730.3" r="4.5"/><circle cx="855.1" cy="622.3" r="4.5"/><circle cx="920.8" cy="817.4" r="4.5"/><circle cx="793.4" cy="749.2" r="4.5"/><circle cx="800.2" cy="635.7" r="4.5"/><circle cx="807.7" cy="828.9" r="4.5"/><circle cx="891" cy="704" r="4.5"/><circle cx="903.2" cy="612.6" r="4.5"/><circle cx="848.6" cy="811.1" r="4.5"/><circle cx="903.4" cy="792.1" r="4.5"/><circle cx="907.1" cy="794.4" r="4.5"/><circle cx="925.1" cy="688.8" r="4.5"/><circle cx="825.4" cy="837.6" r="4.5"/><circle cx="931.2" cy="660.4" r="4.5"/><circle cx="838.4" cy="779.9" r="4.5"/><circle cx="871.6" cy="782" r="4.5"/><circle cx="886" cy="693.4" r="4.5"/><circle cx="810.7" cy="612.3" r="4.5"/><circle cx="782.5" cy="826.4" r="4.5"/><circle cx="814.6" cy="661.9" r="4.5"/><circle cx="837" cy="704.7" r="4.5"/><circle cx="829.1" cy="733.6" r="4.5"/><circle cx="853.5" cy="773.1" r="4.5"/><circle cx="826.9" cy="688" r="4.5"/><circle cx="938.6" cy="813.6" r="4.5"/><circle cx="752.6" cy="676" r="4.5"/><circle cx="838.6" cy="697.1" r="4.5"/><circle cx="837.5" cy="774.9" r="4.5"/><circle cx="818.7" cy="672.6" r="4.5"/><circle cx="761.7" cy="723.4" r="4.5"/><circle cx="829.1" cy="648" r="4.5"/><circle cx="844.8" cy="807.2" r="4.5"/><circle cx="805.5" cy="619.8" r="4.5"/><circle cx="810.4" cy="805.4" r="4.5"/><circle cx="809.3" cy="718.7" r="4.5"/><circle cx="812.1" cy="735.2" r="4.5"/><circle cx="817.2" cy="833.2" r="4.5"/><circle cx="879" cy="679.6" r="4.5"/><circle cx="827.6" cy="729.1" r="4.5"/><circle cx="741.9" cy="718.4" r="4.5"/><circle cx="821.5" cy="776.8" r="4.5"/><circle cx="883.8" cy="686.6" r="4.5"/><circle cx="841" cy="789.3" r="4.5"/><circle cx="960.8" cy="607.3" r="4.5"/><circle cx="913.6" cy="634.2" r="4.5"/><circle cx="857.3" cy="712.3" r="4.5"/><circle cx="955" cy="630.7" r="4.5"/><circle cx="822.9" cy="698.3" r="4.5"/><circle cx="795.5" cy="702.5" r="4.5"/><circle cx="902.4" cy="723.2" r="4.5"/><circle cx="804" cy="671.3" r="4.5"/><circle cx="861.2" cy="709.6" r="4.5"/><circle cx="921.7" cy="691" r="4.5"/><circle cx="800.2" cy="764.2" r="4.5"/><circle cx="784.3" cy="711" r="4.5"/><circle cx="811" cy="670.1" r="4.5"/><circle cx="808.9" cy="746" r="4.5"/><circle cx="855" cy="702.4" r="4.5"/><circle cx="871.2" cy="648.9" r="4.5"/><circle cx="802.8" cy="626.9" r="4.5"/><circle cx="889.9" cy="618.1" r="4.5"/><circle cx="814.4" cy="805.1" r="4.5"/><circle cx="860.2" cy="603.9" r="4.5"/><circle cx="733.1" cy="688" r="4.5"/><circle cx="898.7" cy="647.5" r="4.5"/><circle cx="769.4" cy="762.1" r="4.5"/><circle cx="850.7" cy="655.6" r="4.5"/><circle cx="848.8" cy="691.7" r="4.5"/><circle cx="888.4" cy="758.9" r="4.5"/><circle cx="949.5" cy="723.6" r="4.5"/><circle cx="792" cy="773.6" r="4.5"/><circle cx="856.6" cy="838" r="4.5"/><circle cx="804.8" cy="618.9" r="4.5"/><circle cx="820.5" cy="795.9" r="4.5"/><circle cx="817" cy="635.2" r="4.5"/><circle cx="875.7" cy="698" r="4.5"/><circle cx="750.9" cy="736.3" r="4.5"/><circle cx="903.9" cy="684.9" r="4.5"/><circle cx="861.8" cy="809.9" r="4.5"/><circle cx="869.4" cy="840.7" r="4.5"/><circle cx="828.5" cy="761.2" r="4.5"/><circle cx="919.7" cy="711.4" r="4.5"/><circle cx="862.8" cy="771.6" r="4.5"/><circle cx="855.7" cy="774" r="4.5"/><circle cx="808.8" cy="734.2" r="4.5"/><circle cx="866.2" cy="672.7" r="4.5"/><circle cx="764.9" cy="644.9" r="4.5"/><circle cx="912.4" cy="680.4" r="4.5"/><circle cx="860" cy="711.2" r="4.5"/><circle cx="937.4" cy="634.5" r="4.5"/><circle cx="778.9" cy="631.2" r="4.5"/><circle cx="804.3" cy="717.3" r="4.5"/><circle cx="917.5" cy="680.8" r="4.5"/><circle cx="823.5" cy="681.6" r="4.5"/><circle cx="1041.5" cy="665.4" r="4.5"/><circle cx="818.9" cy="638.4" r="4.5"/><circle cx="903.4" cy="780.8" r="4.5"/><circle cx="821.6" cy="676.8" r="4.5"/><circle cx="902.7" cy="652.7" r="4.5"/><circle cx="801.7" cy="773.4" r="4.5"/><circle cx="964.9" cy="714.6" r="4.5"/><circle cx="865.4" cy="721.8" r="4.5"/><circle cx="929.5" cy="647.1" r="4.5"/><circle cx="842.4" cy="808.9" r="4.5"/><circle cx="901.9" cy="771.4" r="4.5"/><circle cx="992.2" cy="700" r="4.5"/><circle cx="855.3" cy="736.7" r="4.5"/><circle cx="853.3" cy="776.5" r="4.5"/><circle cx="928.1" cy="640.5" r="4.5"/><circle cx="761.6" cy="765" r="4.5"/><circle cx="940.6" cy="634.3" r="4.5"/><circle cx="726.4" cy="620.8" r="4.5"/><circle cx="822.9" cy="760.7" r="4.5"/><circle cx="890.2" cy="748.7" r="4.5"/><circle cx="925" cy="669" r="4.5"/><circle cx="926.8" cy="692.5" r="4.5"/><circle cx="836.7" cy="777.9" r="4.5"/><circle cx="882.5" cy="751.7" r="4.5"/><circle cx="805.9" cy="790.5" r="4.5"/><circle cx="852.7" cy="725.1" r="4.5"/><circle cx="911.9" cy="616.3" r="4.5"/><circle cx="927.7" cy="770.4" r="4.5"/><circle cx="829.9" cy="643.2" r="4.5"/><circle cx="895.5" cy="661.7" r="4.5"/><circle cx="827.4" cy="607" r="4.5"/><circle cx="976.7" cy="632.3" r="4.5"/><circle cx="830.4" cy="811.9" r="4.5"/><circle cx="854.8" cy="746.9" r="4.5"/><circle cx="914.3" cy="620.6" r="4.5"/><circle cx="780.4" cy="621.1" r="4.5"/><circle cx="874.3" cy="629.1" r="4.5"/><circle cx="746.9" cy="691.5" r="4.5"/><circle cx="893.2" cy="822.5" r="4.5"/><circle cx="844.9" cy="753.4" r="4.5"/><circle cx="862.7" cy="819.3" r="4.5"/><circle cx="983" cy="636.9" r="4.5"/><circle cx="824.9" cy="837.3" r="4.5"/><circle cx="896.2" cy="743.3" r="4.5"/><circle cx="966.3" cy="660.8" r="4.5"/><circle cx="814.5" cy="689" r="4.5"/><circle cx="847.7" cy="797" r="4.5"/><circle cx="904.7" cy="773.7" r="4.5"/><circle cx="862.1" cy="666.5" r="4.5"/><circle cx="879" cy="768.6" r="4.5"/><circle cx="910.6" cy="662.5" r="4.5"/><circle cx="859.2" cy="745" r="4.5"/><circle cx="788.6" cy="674.7" r="4.5"/><circle cx="866.9" cy="664.5" r="4.5"/><circle cx="788.5" cy="675.9" r="4.5"/><circle cx="856.5" cy="659.4" r="4.5"/><circle cx="918.5" cy="729.5" r="4.5"/><circle cx="797.1" cy="645.5" r="4.5"/><circle cx="918.6" cy="634.7" r="4.5"/><circle cx="762.8" cy="785.2" r="4.5"/><circle cx="893.7" cy="773.7" r="4.5"/><circle cx="819.8" cy="812.7" r="4.5"/><circle cx="837.2" cy="653.7" r="4.5"/><circle cx="846.9" cy="712.9" r="4.5"/><circle cx="814.8" cy="777.5" r="4.5"/><circle cx="844.7" cy="610" r="4.5"/><circle cx="784.5" cy="713.2" r="4.5"/><circle cx="919.5" cy="691.2" r="4.5"/><circle cx="973.1" cy="640.5" r="4.5"/><circle cx="814" cy="730.1" r="4.5"/><circle cx="812.8" cy="703.4" r="4.5"/><circle cx="801.2" cy="617.1" r="4.5"/><circle cx="872.1" cy="637.9" r="4.5"/><circle cx="889.9" cy="721.5" r="4.5"/><circle cx="894.7" cy="835.7" r="4.5"/><circle cx="826.8" cy="604.4" r="4.5"/><circle cx="938.6" cy="603.8" r="4.5"/><circle cx="799.2" cy="784" r="4.5"/><circle cx="808.6" cy="637.5" r="4.5"/><circle cx="839.5" cy="699.6" r="4.5"/><circle cx="917.3" cy="774.7" r="4.5"/><circle cx="797.4" cy="834.9" r="4.5"/><circle cx="860.1" cy="608.9" r="4.5"/><circle cx="788.6" cy="637.7" r="4.5"/><circle cx="838.5" cy="722.3" r="4.5"/><circle cx="971.4" cy="662" r="4.5"/><circle cx="791.3" cy="739.2" r="4.5"/><circle cx="837.2" cy="646.2" r="4.5"/><circle cx="786.2" cy="727.6" r="4.5"/><circle cx="905.4" cy="761.4" r="4.5"/><circle cx="857.3" cy="694.8" r="4.5"/><circle cx="845.5" cy="756.9" r="4.5"/><circle cx="793.9" cy="719.2" r="4.5"/><circle cx="848.5" cy="677" r="4.5"/><circle cx="760.2" cy="761.7" r="4.5"/><circle cx="878.3" cy="779.9" r="4.5"/><circle cx="1001.4" cy="630.5" r="4.5"/><circle cx="945.6" cy="711.7" r="4.5"/><circle cx="891.3" cy="736.2" r="4.5"/><circle cx="867.6" cy="676.6" r="4.5"/><circle cx="829.8" cy="769.9" r="4.5"/><circle cx="938.1" cy="683.9" r="4.5"/><circle cx="795.8" cy="605.5" r="4.5"/><circle cx="828.1" cy="768" r="4.5"/><circle cx="838.3" cy="607.7" r="4.5"/><circle cx="822" cy="782" r="4.5"/><circle cx="798.6" cy="720.4" r="4.5"/><circle cx="898.6" cy="668.6" r="4.5"/><circle cx="836.3" cy="685.6" r="4.5"/><circle cx="898.7" cy="637.3" r="4.5"/><circle cx="852.4" cy="691.2" r="4.5"/><circle cx="853" cy="749.1" r="4.5"/><circle cx="825.2" cy="608.1" r="4.5"/><circle cx="844.9" cy="766.6" r="4.5"/><circle cx="859.9" cy="678.3" r="4.5"/><circle cx="825" cy="793.9" r="4.5"/><circle cx="962.1" cy="636.6" r="4.5"/><circle cx="729.9" cy="825.2" r="4.5"/><circle cx="881" cy="606.2" r="4.5"/><circle cx="880.6" cy="674.1" r="4.5"/><circle cx="896" cy="795.9" r="4.5"/><circle cx="856.6" cy="836.5" r="4.5"/><circle cx="985.7" cy="684" r="4.5"/><circle cx="901.9" cy="746.2" r="4.5"/><circle cx="1049.7" cy="650.2" r="4.5"/><circle cx="819.2" cy="648.2" r="4.5"/><circle cx="872.4" cy="777.5" r="4.5"/><circle cx="929.5" cy="609.6" r="4.5"/><circle cx="917.2" cy="698.7" r="4.5"/><circle cx="920.9" cy="615.4" r="4.5"/><circle cx="885.1" cy="787.1" r="4.5"/><circle cx="784.1" cy="825" r="4.5"/><circle cx="842" cy="766.4" r="4.5"/><circle cx="827.6" cy="818.7" r="4.5"/><circle cx="805.4" cy="692.1" r="4.5"/><circle cx="852.3" cy="794.2" r="4.5"/><circle cx="1097" cy="630.9" r="4.5"/><circle cx="847.4" cy="686.6" r="4.5"/><circle cx="956.7" cy="737.9" r="4.5"/><circle cx="891.4" cy="749.2" r="4.5"/><circle cx="833.1" cy="773.5" r="4.5"/><circle cx="988.7" cy="610.9" r="4.5"/><circle cx="878.9" cy="818.1" r="4.5"/><circle cx="880.6" cy="720.5" r="4.5"/><circle cx="857.5" cy="714.5" r="4.5"/><circle cx="839.4" cy="650.6" r="4.5"/><circle cx="857.5" cy="708.5" r="4.5"/><circle cx="849.5" cy="816.9" r="4.5"/><circle cx="1021.2" cy="797.8" r="4.5"/><circle cx="809.2" cy="687.3" r="4.5"/><circle cx="835.6" cy="839.1" r="4.5"/><circle cx="831.3" cy="813.1" r="4.5"/><circle cx="779.7" cy="694.5" r="4.5"/><circle cx="882.6" cy="764.3" r="4.5"/><circle cx="787.3" cy="837.5" r="4.5"/><circle cx="843.4" cy="740.3" r="4.5"/><circle cx="924.8" cy="640" r="4.5"/><circle cx="815.8" cy="611.1" r="4.5"/><circle cx="806.1" cy="695.3" r="4.5"/><circle cx="968.9" cy="705" r="4.5"/><circle cx="786.8" cy="759.1" r="4.5"/><circle cx="840" cy="772.4" r="4.5"/><circle cx="800.4" cy="731.4" r="4.5"/><circle cx="828.6" cy="667.6" r="4.5"/><circle cx="896" cy="795.9" r="4.5"/><circle cx="797.3" cy="754.6" r="4.5"/><circle cx="788.4" cy="616.4" r="4.5"/><circle cx="745.2" cy="718.7" r="4.5"/><circle cx="868.6" cy="784" r="4.5"/><circle cx="758.3" cy="647.6" r="4.5"/><circle cx="859.3" cy="699.5" r="4.5"/><circle cx="767.5" cy="760.7" r="4.5"/><circle cx="796.5" cy="637.7" r="4.5"/><circle cx="813.2" cy="744.3" r="4.5"/><circle cx="851.6" cy="708.4" r="4.5"/><circle cx="834.1" cy="748.1" r="4.5"/><circle cx="877.9" cy="614.6" r="4.5"/><circle cx="825.8" cy="712.7" r="4.5"/><circle cx="910" cy="770.4" r="4.5"/><circle cx="977.2" cy="613.7" r="4.5"/><circle cx="866.4" cy="640.3" r="4.5"/><circle cx="954" cy="604.5" r="4.5"/><circle cx="814.6" cy="716.1" r="4.5"/><circle cx="849.1" cy="633.4" r="4.5"/><circle cx="853.2" cy="735.2" r="4.5"/><circle cx="832.6" cy="683.2" r="4.5"/><circle cx="825.8" cy="775.6" r="4.5"/><circle cx="838.5" cy="720.7" r="4.5"/><circle cx="853" cy="656.5" r="4.5"/><circle cx="907.4" cy="606.3" r="4.5"/><circle cx="826.1" cy="672.5" r="4.5"/><circle cx="758.2" cy="801.6" r="4.5"/><circle cx="846.7" cy="788.4" r="4.5"/><circle cx="889.7" cy="762.3" r="4.5"/><circle cx="853.4" cy="781.9" r="4.5"/><circle cx="778.5" cy="765.7" r="4.5"/><circle cx="891" cy="633.3" r="4.5"/><circle cx="871.4" cy="681.3" r="4.5"/><circle cx="823.6" cy="775.9" r="4.5"/><circle cx="876" cy="707.8" r="4.5"/><circle cx="849.3" cy="736.5" r="4.5"/><circle cx="966.8" cy="656.4" r="4.5"/><circle cx="858.9" cy="671.9" r="4.5"/><circle cx="977.9" cy="698" r="4.5"/><circle cx="871.8" cy="656.2" r="4.5"/><circle cx="950.9" cy="731.6" r="4.5"/><circle cx="849.9" cy="782.1" r="4.5"/><circle cx="862.4" cy="616.1" r="4.5"/><circle cx="912.3" cy="650.8" r="4.5"/><circle cx="907.3" cy="711.4" r="4.5"/><circle cx="814.8" cy="639.8" r="4.5"/><circle cx="906.8" cy="804.2" r="4.5"/><circle cx="831.5" cy="662.5" r="4.5"/><circle cx="795.3" cy="632.9" r="4.5"/><circle cx="819.3" cy="667.1" r="4.5"/><circle cx="916.4" cy="651.2" r="4.5"/><circle cx="1101.9" cy="614.6" r="4.5"/><circle cx="826.4" cy="607.9" r="4.5"/><circle cx="987.4" cy="716.9" r="4.5"/><circle cx="863.2" cy="731" r="4.5"/><circle cx="925.5" cy="632.3" r="4.5"/><circle cx="909.3" cy="614.3" r="4.5"/><circle cx="893.2" cy="655.4" r="4.5"/><circle cx="919.7" cy="785.7" r="4.5"/><circle cx="848.8" cy="719.2" r="4.5"/><circle cx="891" cy="771.2" r="4.5"/><circle cx="877.8" cy="710.9" r="4.5"/><circle cx="918" cy="770.3" r="4.5"/><circle cx="877.2" cy="844.4" r="4.5"/><circle cx="850.8" cy="647.1" r="4.5"/><circle cx="854.2" cy="687.3" r="4.5"/><circle cx="845.2" cy="762.5" r="4.5"/><circle cx="861.5" cy="792.9" r="4.5"/><circle cx="822.7" cy="766.8" r="4.5"/><circle cx="835.2" cy="621.1" r="4.5"/><circle cx="825.1" cy="841.1" r="4.5"/><circle cx="860.6" cy="743.5" r="4.5"/><circle cx="782.8" cy="734.6" r="4.5"/><circle cx="1028.2" cy="645.4" r="4.5"/><circle cx="868.2" cy="692.7" r="4.5"/><circle cx="817.7" cy="830.7" r="4.5"/><circle cx="849.2" cy="671.3" r="4.5"/><circle cx="799.7" cy="636.3" r="4.5"/><circle cx="754.4" cy="623.3" r="4.5"/><circle cx="869.6" cy="639.2" r="4.5"/><circle cx="971" cy="772" r="4.5"/><circle cx="787.2" cy="843.5" r="4.5"/><circle cx="845.7" cy="640.3" r="4.5"/><circle cx="815" cy="678.9" r="4.5"/><circle cx="932.4" cy="685.2" r="4.5"/><circle cx="763.6" cy="663.1" r="4.5"/><circle cx="890.6" cy="816.8" r="4.5"/><circle cx="773.7" cy="792.5" r="4.5"/><circle cx="855.2" cy="843.6" r="4.5"/><circle cx="848.7" cy="633.6" r="4.5"/><circle cx="792.9" cy="738.4" r="4.5"/><circle cx="817.9" cy="826.3" r="4.5"/><circle cx="857.3" cy="671.3" r="4.5"/><circle cx="930.2" cy="616.1" r="4.5"/><circle cx="823.4" cy="742.4" r="4.5"/><circle cx="911.7" cy="823.2" r="4.5"/><circle cx="872.3" cy="719" r="4.5"/><circle cx="816.5" cy="629.5" r="4.5"/><circle cx="793.6" cy="794.6" r="4.5"/><circle cx="814.3" cy="730.3" r="4.5"/><circle cx="875.4" cy="712.4" r="4.5"/><circle cx="832.2" cy="756.7" r="4.5"/><circle cx="764.5" cy="669.1" r="4.5"/><circle cx="937.9" cy="609.9" r="4.5"/><circle cx="801.1" cy="641.3" r="4.5"/><circle cx="899.1" cy="673.3" r="4.5"/><circle cx="964.7" cy="650.7" r="4.5"/><circle cx="859.8" cy="751.3" r="4.5"/><circle cx="997.3" cy="688.1" r="4.5"/><circle cx="807.5" cy="803.4" r="4.5"/><circle cx="837.2" cy="803.7" r="4.5"/><circle cx="862.4" cy="786.8" r="4.5"/><circle cx="839" cy="799.8" r="4.5"/><circle cx="849.7" cy="831.2" r="4.5"/><circle cx="926.7" cy="616.7" r="4.5"/><circle cx="912" cy="807.9" r="4.5"/><circle cx="889.1" cy="672.5" r="4.5"/><circle cx="952.7" cy="651" r="4.5"/><circle cx="841" cy="640.9" r="4.5"/><circle cx="799.8" cy="750.8" r="4.5"/><circle cx="924.5" cy="637.8" r="4.5"/><circle cx="805.4" cy="841.4" r="4.5"/><circle cx="799.6" cy="826.8" r="4.5"/><circle cx="843.8" cy="719.7" r="4.5"/><circle cx="782.6" cy="776.8" r="4.5"/><circle cx="861.4" cy="767" r="4.5"/><circle cx="774.1" cy="658.2" r="4.5"/><circle cx="814.5" cy="686.1" r="4.5"/><circle cx="896.7" cy="641.2" r="4.5"/><circle cx="873.5" cy="734.4" r="4.5"/><circle cx="954.6" cy="628.4" r="4.5"/><circle cx="801.9" cy="673.4" r="4.5"/><circle cx="897" cy="697.4" r="4.5"/><circle cx="892.1" cy="605.6" r="4.5"/><circle cx="893.6" cy="763.3" r="4.5"/><circle cx="871.9" cy="704.9" r="4.5"/><circle cx="864.6" cy="813" r="4.5"/><circle cx="777.8" cy="632.7" r="4.5"/><circle cx="852.2" cy="818.5" r="4.5"/><circle cx="828.4" cy="698.7" r="4.5"/><circle cx="828.3" cy="682" r="4.5"/><circle cx="904.3" cy="823.2" r="4.5"/><circle cx="1025.9" cy="620.2" r="4.5"/><circle cx="842.2" cy="632.8" r="4.5"/><circle cx="895.1" cy="715.5" r="4.5"/><circle cx="885.3" cy="688.5" r="4.5"/><circle cx="781.6" cy="742.3" r="4.5"/><circle cx="859" cy="713.8" r="4.5"/><circle cx="847.8" cy="835.5" r="4.5"/><circle cx="902.2" cy="649.5" r="4.5"/><circle cx="928.7" cy="731.8" r="4.5"/><circle cx="860.5" cy="641.7" r="4.5"/><circle cx="850" cy="700.1" r="4.5"/><circle cx="860.9" cy="648.5" r="4.5"/><circle cx="985.9" cy="604.5" r="4.5"/><circle cx="842.9" cy="722.9" r="4.5"/><circle cx="833.4" cy="657.2" r="4.5"/><circle cx="806.1" cy="671.4" r="4.5"/><circle cx="904.7" cy="702.4" r="4.5"/><circle cx="896" cy="605.5" r="4.5"/><circle cx="916.4" cy="662.2" r="4.5"/><circle cx="819.9" cy="758.8" r="4.5"/><circle cx="774.5" cy="667.5" r="4.5"/><circle cx="901.1" cy="665" r="4.5"/><circle cx="747.5" cy="623.2" r="4.5"/><circle cx="776.2" cy="686" r="4.5"/><circle cx="907.6" cy="680.6" r="4.5"/><circle cx="939.2" cy="655.4" r="4.5"/><circle cx="875.4" cy="735.5" r="4.5"/><circle cx="916.8" cy="658.4" r="4.5"/><circle cx="851.3" cy="714.4" r="4.5"/><circle cx="839" cy="705.6" r="4.5"/><circle cx="906.3" cy="785.9" r="4.5"/><circle cx="865.6" cy="667.7" r="4.5"/><circle cx="854.7" cy="806.9" r="4.5"/><circle cx="865.9" cy="713.4" r="4.5"/><circle cx="853.6" cy="710.2" r="4.5"/><circle cx="895.7" cy="799.1" r="4.5"/><circle cx="881" cy="652.2" r="4.5"/><circle cx="884.1" cy="643.8" r="4.5"/><circle cx="770.1" cy="795.7" r="4.5"/><circle cx="745.5" cy="804.5" r="4.5"/><circle cx="819" cy="677.2" r="4.5"/><circle cx="751" cy="657.5" r="4.5"/><circle cx="831" cy="704.1" r="4.5"/><circle cx="895.8" cy="754" r="4.5"/><circle cx="858.5" cy="817.1" r="4.5"/><circle cx="903.3" cy="792" r="4.5"/><circle cx="1006.1" cy="633.7" r="4.5"/><circle cx="854.1" cy="755" r="4.5"/><circle cx="822" cy="827.5" r="4.5"/><circle cx="890.9" cy="624" r="4.5"/><circle cx="896.1" cy="630.5" r="4.5"/><circle cx="899.8" cy="634.8" r="4.5"/><circle cx="776.9" cy="617.1" r="4.5"/><circle cx="843.6" cy="726.5" r="4.5"/><circle cx="857.4" cy="731.3" r="4.5"/><circle cx="915.4" cy="703.2" r="4.5"/><circle cx="965.4" cy="612.9" r="4.5"/><circle cx="873.5" cy="694.5" r="4.5"/><circle cx="879.8" cy="645.9" r="4.5"/><circle cx="799.4" cy="710.5" r="4.5"/><circle cx="733.1" cy="691.3" r="4.5"/><circle cx="899.4" cy="833.7" r="4.5"/><circle cx="983.6" cy="719.8" r="4.5"/><circle cx="745.8" cy="800.5" r="4.5"/><circle cx="812.9" cy="729.5" r="4.5"/><circle cx="847.3" cy="705.2" r="4.5"/><circle cx="846.6" cy="685.5" r="4.5"/><circle cx="781.6" cy="684.8" r="4.5"/><circle cx="743.7" cy="712.6" r="4.5"/><circle cx="803.8" cy="773.1" r="4.5"/><circle cx="781.7" cy="626.6" r="4.5"/><circle cx="878.2" cy="663.1" r="4.5"/><circle cx="917.6" cy="714.4" r="4.5"/><circle cx="856.9" cy="608.3" r="4.5"/><circle cx="986.4" cy="629" r="4.5"/><circle cx="868.2" cy="668.4" r="4.5"/><circle cx="847.4" cy="754.1" r="4.5"/><circle cx="851.7" cy="609.2" r="4.5"/><circle cx="850.8" cy="685.7" r="4.5"/><circle cx="898.9" cy="759.4" r="4.5"/><circle cx="845.7" cy="632.2" r="4.5"/><circle cx="904.5" cy="615" r="4.5"/><circle cx="866.6" cy="700.4" r="4.5"/><circle cx="848.4" cy="627.3" r="4.5"/><circle cx="959.7" cy="673.5" r="4.5"/><circle cx="799.4" cy="766.3" r="4.5"/><circle cx="765.3" cy="780.1" r="4.5"/><circle cx="828.7" cy="702.3" r="4.5"/><circle cx="784.3" cy="829.3" r="4.5"/><circle cx="742.4" cy="622" r="4.5"/><circle cx="875" cy="715.7" r="4.5"/><circle cx="824.9" cy="761.3" r="4.5"/><circle cx="863.2" cy="743.3" r="4.5"/><circle cx="841" cy="789.3" r="4.5"/><circle cx="978.3" cy="611.6" r="4.5"/><circle cx="881.9" cy="612.9" r="4.5"/><circle cx="836.6" cy="767.3" r="4.5"/><circle cx="780.4" cy="721" r="4.5"/><circle cx="849.6" cy="658.4" r="4.5"/><circle cx="767.9" cy="682" r="4.5"/><circle cx="767.1" cy="808.9" r="4.5"/><circle cx="893.2" cy="678.9" r="4.5"/><circle cx="805.6" cy="828" r="4.5"/><circle cx="805.4" cy="727.2" r="4.5"/><circle cx="969.8" cy="623.5" r="4.5"/><circle cx="917.4" cy="795.1" r="4.5"/><circle cx="908.7" cy="710.3" r="4.5"/><circle cx="814.9" cy="701.7" r="4.5"/><circle cx="883.2" cy="707.5" r="4.5"/><circle cx="856.9" cy="731.8" r="4.5"/><circle cx="863.6" cy="772.3" r="4.5"/><circle cx="845" cy="643.2" r="4.5"/><circle cx="854" cy="762" r="4.5"/><circle cx="826.2" cy="755.1" r="4.5"/><circle cx="776.9" cy="745.1" r="4.5"/><circle cx="840" cy="750.2" r="4.5"/><circle cx="803.7" cy="799.2" r="4.5"/><circle cx="852.5" cy="816" r="4.5"/><circle cx="896.7" cy="641" r="4.5"/><circle cx="915.6" cy="641.2" r="4.5"/><circle cx="894.4" cy="648" r="4.5"/><circle cx="872.3" cy="812.3" r="4.5"/><circle cx="769.3" cy="634.7" r="4.5"/><circle cx="830" cy="715.2" r="4.5"/><circle cx="831.7" cy="782.7" r="4.5"/><circle cx="832.8" cy="671.4" r="4.5"/><circle cx="884.5" cy="735.3" r="4.5"/><circle cx="824.6" cy="773.2" r="4.5"/><circle cx="847.5" cy="834.5" r="4.5"/><circle cx="822.3" cy="702.4" r="4.5"/><circle cx="913.8" cy="798.2" r="4.5"/><circle cx="746" cy="731.5" r="4.5"/><circle cx="918.1" cy="676.9" r="4.5"/><circle cx="832.3" cy="626.4" r="4.5"/><circle cx="849.6" cy="622.5" r="4.5"/><circle cx="880.3" cy="666.4" r="4.5"/><circle cx="743.4" cy="611.6" r="4.5"/><circle cx="845.9" cy="824.4" r="4.5"/><circle cx="804.6" cy="677.4" r="4.5"/><circle cx="881.4" cy="706.1" r="4.5"/><circle cx="840.2" cy="823" r="4.5"/><circle cx="848.9" cy="836.3" r="4.5"/><circle cx="795.9" cy="655.3" r="4.5"/><circle cx="829.7" cy="842.8" r="4.5"/><circle cx="820.1" cy="785.3" r="4.5"/><circle cx="925.5" cy="628.5" r="4.5"/><circle cx="811.2" cy="667.8" r="4.5"/><circle cx="859.2" cy="631.9" r="4.5"/><circle cx="876.8" cy="822.7" r="4.5"/><circle cx="841" cy="818.6" r="4.5"/><circle cx="849.2" cy="665.3" r="4.5"/><circle cx="798" cy="660.6" r="4.5"/><circle cx="829.8" cy="683.3" r="4.5"/><circle cx="981" cy="623.3" r="4.5"/><circle cx="819.8" cy="678.6" r="4.5"/><circle cx="783.1" cy="699.2" r="4.5"/><circle cx="892.5" cy="608.3" r="4.5"/><circle cx="836.1" cy="791.8" r="4.5"/><circle cx="809.5" cy="772.2" r="4.5"/><circle cx="955.8" cy="716.7" r="4.5"/><circle cx="850.9" cy="717.6" r="4.5"/><circle cx="801.1" cy="753.1" r="4.5"/><circle cx="819.9" cy="735.5" r="4.5"/><circle cx="784.3" cy="775.8" r="4.5"/><circle cx="804.6" cy="775.4" r="4.5"/><circle cx="866.3" cy="803.5" r="4.5"/><circle cx="827.7" cy="620.5" r="4.5"/><circle cx="933" cy="619.9" r="4.5"/><circle cx="807.9" cy="776.4" r="4.5"/><circle cx="802" cy="645" r="4.5"/><circle cx="881.1" cy="774.3" r="4.5"/><circle cx="749.7" cy="620.4" r="4.5"/><circle cx="862.8" cy="679.5" r="4.5"/><circle cx="792" cy="678" r="4.5"/><circle cx="825.2" cy="763.4" r="4.5"/><circle cx="883.7" cy="631.6" r="4.5"/><circle cx="788.6" cy="797.3" r="4.5"/><circle cx="797.6" cy="721.1" r="4.5"/><circle cx="853.7" cy="784.5" r="4.5"/><circle cx="833.5" cy="669.6" r="4.5"/><circle cx="761.7" cy="676.7" r="4.5"/><circle cx="781.7" cy="726.6" r="4.5"/><circle cx="798.5" cy="690" r="4.5"/><circle cx="815" cy="673.1" r="4.5"/><circle cx="840.6" cy="790.5" r="4.5"/><circle cx="775.3" cy="687.7" r="4.5"/><circle cx="886.3" cy="686.3" r="4.5"/><circle cx="964.9" cy="609.9" r="4.5"/><circle cx="806.8" cy="652.4" r="4.5"/><circle cx="855.5" cy="779" r="4.5"/><circle cx="799.6" cy="645.7" r="4.5"/><circle cx="1055.2" cy="629.1" r="4.5"/><circle cx="990.5" cy="610.8" r="4.5"/><circle cx="852.8" cy="664.6" r="4.5"/><circle cx="891.4" cy="783.4" r="4.5"/><circle cx="815.4" cy="710.7" r="4.5"/><circle cx="814.6" cy="725" r="4.5"/><circle cx="849.2" cy="732.1" r="4.5"/><circle cx="785.1" cy="605.3" r="4.5"/><circle cx="841.3" cy="832.6" r="4.5"/><circle cx="788.7" cy="782.9" r="4.5"/><circle cx="793.8" cy="694.7" r="4.5"/><circle cx="842" cy="801.3" r="4.5"/><circle cx="873.6" cy="799.5" r="4.5"/><circle cx="817.7" cy="744.1" r="4.5"/><circle cx="954" cy="604.5" r="4.5"/><circle cx="801.4" cy="646.3" r="4.5"/><circle cx="882.2" cy="692.4" r="4.5"/><circle cx="896.8" cy="794.3" r="4.5"/><circle cx="802.2" cy="794.7" r="4.5"/><circle cx="892.3" cy="704.2" r="4.5"/><circle cx="897.6" cy="655.8" r="4.5"/><circle cx="811.7" cy="723.9" r="4.5"/><circle cx="823.9" cy="835.6" r="4.5"/><circle cx="743.5" cy="790.4" r="4.5"/><circle cx="824.3" cy="788.3" r="4.5"/><circle cx="919.3" cy="702.6" r="4.5"/><circle cx="811.3" cy="702.3" r="4.5"/><circle cx="882.1" cy="668.5" r="4.5"/><circle cx="752.8" cy="799.3" r="4.5"/><circle cx="907.4" cy="640.4" r="4.5"/><circle cx="872" cy="684.8" r="4.5"/><circle cx="816.6" cy="784.5" r="4.5"/><circle cx="802.2" cy="746.2" r="4.5"/><circle cx="895.9" cy="627.2" r="4.5"/><circle cx="811.8" cy="737.9" r="4.5"/><circle cx="1012.9" cy="623.6" r="4.5"/><circle cx="826.8" cy="646.3" r="4.5"/><circle cx="726.7" cy="687.1" r="4.5"/><circle cx="762.8" cy="810.7" r="4.5"/><circle cx="869.4" cy="679.9" r="4.5"/><circle cx="883.6" cy="688.7" r="4.5"/><circle cx="933.8" cy="737.2" r="4.5"/><circle cx="824.4" cy="675.6" r="4.5"/><circle cx="879.8" cy="736.3" r="4.5"/><circle cx="830.5" cy="767.4" r="4.5"/><circle cx="791.8" cy="725.7" r="4.5"/><circle cx="891" cy="771.2" r="4.5"/><circle cx="917.1" cy="761.7" r="4.5"/><circle cx="814.6" cy="766.3" r="4.5"/><circle cx="778" cy="723.8" r="4.5"/><circle cx="872.4" cy="776.7" r="4.5"/><circle cx="880" cy="654.6" r="4.5"/><circle cx="771.4" cy="756.1" r="4.5"/><circle cx="869.6" cy="749.6" r="4.5"/><circle cx="853.7" cy="809.2" r="4.5"/><circle cx="972.9" cy="640" r="4.5"/><circle cx="842.6" cy="668.1" r="4.5"/><circle cx="908.8" cy="676.8" r="4.5"/><circle cx="785.7" cy="710.9" r="4.5"/><circle cx="840" cy="772.4" r="4.5"/><circle cx="864.5" cy="676.7" r="4.5"/><circle cx="879.7" cy="625.7" r="4.5"/><circle cx="824.2" cy="710.5" r="4.5"/><circle cx="835.8" cy="603.6" r="4.5"/><circle cx="853.6" cy="715.5" r="4.5"/><circle cx="989.2" cy="618.9" r="4.5"/><circle cx="979.2" cy="650.8" r="4.5"/><circle cx="846" cy="676.2" r="4.5"/><circle cx="892" cy="675.3" r="4.5"/><circle cx="806.7" cy="814.7" r="4.5"/><circle cx="898.2" cy="664.5" r="4.5"/><circle cx="910.4" cy="683" r="4.5"/><circle cx="806.5" cy="778.8" r="4.5"/><circle cx="840.4" cy="712.8" r="4.5"/><circle cx="834.5" cy="791.5" r="4.5"/><circle cx="844.4" cy="744" r="4.5"/><circle cx="823.1" cy="697.6" r="4.5"/><circle cx="881.3" cy="828" r="4.5"/><circle cx="758.2" cy="735.2" r="4.5"/><circle cx="818.5" cy="823.6" r="4.5"/><circle cx="823.3" cy="754.5" r="4.5"/><circle cx="893.3" cy="611.8" r="4.5"/><circle cx="772.3" cy="646.4" r="4.5"/><circle cx="839.7" cy="806.2" r="4.5"/><circle cx="919.6" cy="645.1" r="4.5"/><circle cx="794.8" cy="615.3" r="4.5"/><circle cx="834" cy="783.4" r="4.5"/><circle cx="898.8" cy="803.3" r="4.5"/><circle cx="771.3" cy="659.6" r="4.5"/><circle cx="773" cy="671.9" r="4.5"/><circle cx="837.3" cy="779.2" r="4.5"/><circle cx="834.7" cy="662.7" r="4.5"/><circle cx="823" cy="744.3" r="4.5"/><circle cx="788.4" cy="835.9" r="4.5"/><circle cx="871.4" cy="697.3" r="4.5"/><circle cx="806.1" cy="704.5" r="4.5"/><circle cx="918.8" cy="697.4" r="4.5"/><circle cx="900.9" cy="798.5" r="4.5"/><circle cx="782.5" cy="717" r="4.5"/><circle cx="794.5" cy="633.8" r="4.5"/><circle cx="859.5" cy="609.8" r="4.5"/><circle cx="818" cy="739.6" r="4.5"/><circle cx="915.4" cy="615.9" r="4.5"/><circle cx="988.5" cy="613.1" r="4.5"/><circle cx="824.6" cy="813.2" r="4.5"/><circle cx="848.6" cy="609.7" r="4.5"/><circle cx="909" cy="817" r="4.5"/><circle cx="779.8" cy="740.7" r="4.5"/><circle cx="786.3" cy="835.5" r="4.5"/><circle cx="941.4" cy="660.3" r="4.5"/><circle cx="855.4" cy="732.8" r="4.5"/><circle cx="832.2" cy="820.1" r="4.5"/><circle cx="905.7" cy="637.8" r="4.5"/><circle cx="805.9" cy="790.4" r="4.5"/><circle cx="927.7" cy="770.4" r="4.5"/><circle cx="872.8" cy="661.1" r="4.5"/><circle cx="828" cy="751.2" r="4.5"/><circle cx="966.3" cy="606.6" r="4.5"/><circle cx="870.9" cy="703.5" r="4.5"/><circle cx="810.8" cy="825.5" r="4.5"/><circle cx="789.1" cy="763.4" r="4.5"/><circle cx="908.1" cy="656.6" r="4.5"/><circle cx="810" cy="756.9" r="4.5"/><circle cx="790.7" cy="758.2" r="4.5"/><circle cx="847" cy="612.9" r="4.5"/><circle cx="875.8" cy="670.1" r="4.5"/><circle cx="819.9" cy="618.6" r="4.5"/><circle cx="826.1" cy="676.3" r="4.5"/><circle cx="883.3" cy="819.3" r="4.5"/><circle cx="959.6" cy="634.2" r="4.5"/><circle cx="1127.5" cy="634.7" r="4.5"/><circle cx="779.2" cy="629.1" r="4.5"/><circle cx="899.3" cy="672" r="4.5"/><circle cx="896.6" cy="632.2" r="4.5"/><circle cx="791.1" cy="829.5" r="4.5"/><circle cx="852" cy="655.9" r="4.5"/><circle cx="761.3" cy="676.4" r="4.5"/><circle cx="845" cy="622.8" r="4.5"/><circle cx="788.6" cy="801.4" r="4.5"/><circle cx="937.5" cy="682.6" r="4.5"/><circle cx="813.2" cy="817.2" r="4.5"/><circle cx="872.1" cy="661.6" r="4.5"/><circle cx="883.5" cy="814.6" r="4.5"/><circle cx="846.6" cy="825.9" r="4.5"/><circle cx="873.9" cy="715.8" r="4.5"/><circle cx="802.8" cy="673.5" r="4.5"/><circle cx="746" cy="731.5" r="4.5"/><circle cx="794.4" cy="769.4" r="4.5"/><circle cx="817.3" cy="840.6" r="4.5"/><circle cx="915.6" cy="666.8" r="4.5"/><circle cx="771.8" cy="751.5" r="4.5"/><circle cx="900" cy="830.9" r="4.5"/><circle cx="752.8" cy="819.8" r="4.5"/><circle cx="815.2" cy="842.8" r="4.5"/><circle cx="928.8" cy="656.8" r="4.5"/><circle cx="893.4" cy="760.3" r="4.5"/><circle cx="872.7" cy="741.8" r="4.5"/><circle cx="843.5" cy="823.2" r="4.5"/><circle cx="817" cy="689.7" r="4.5"/><circle cx="913.6" cy="624.4" r="4.5"/><circle cx="784.2" cy="679.3" r="4.5"/><circle cx="731.8" cy="703.9" r="4.5"/><circle cx="869.2" cy="725.6" r="4.5"/><circle cx="905.9" cy="639.3" r="4.5"/><circle cx="834.2" cy="750.3" r="4.5"/><circle cx="733.9" cy="681.7" r="4.5"/><circle cx="733.7" cy="720.4" r="4.5"/><circle cx="861.2" cy="675.3" r="4.5"/><circle cx="838.4" cy="694.3" r="4.5"/><circle cx="814.7" cy="669.9" r="4.5"/><circle cx="962.3" cy="675.4" r="4.5"/><circle cx="804.7" cy="626.6" r="4.5"/><circle cx="846.4" cy="779.9" r="4.5"/><circle cx="854.1" cy="776.8" r="4.5"/><circle cx="914.9" cy="827.2" r="4.5"/><circle cx="881.2" cy="640.6" r="4.5"/><circle cx="838.8" cy="725.2" r="4.5"/><circle cx="900.8" cy="639.5" r="4.5"/><circle cx="803.6" cy="606.9" r="4.5"/><circle cx="812.5" cy="825.7" r="4.5"/><circle cx="906.3" cy="743.7" r="4.5"/><circle cx="959.2" cy="614.6" r="4.5"/><circle cx="765.3" cy="819.5" r="4.5"/><circle cx="846.8" cy="682.3" r="4.5"/><circle cx="908.5" cy="826.1" r="4.5"/><circle cx="813.2" cy="744.8" r="4.5"/><circle cx="964" cy="766.6" r="4.5"/><circle cx="932.4" cy="627.4" r="4.5"/><circle cx="893.5" cy="797.5" r="4.5"/><circle cx="873.3" cy="677.5" r="4.5"/><circle cx="968" cy="630.2" r="4.5"/><circle cx="808" cy="718" r="4.5"/><circle cx="748.9" cy="676.6" r="4.5"/><circle cx="820" cy="605.4" r="4.5"/><circle cx="731.7" cy="746.8" r="4.5"/><circle cx="775.5" cy="751.5" r="4.5"/><circle cx="816.6" cy="719.7" r="4.5"/><circle cx="824.5" cy="798.9" r="4.5"/><circle cx="787.3" cy="830.8" r="4.5"/><circle cx="735.6" cy="692.3" r="4.5"/><circle cx="884.7" cy="704.4" r="4.5"/><circle cx="834.7" cy="776.4" r="4.5"/><circle cx="848.9" cy="809.4" r="4.5"/><circle cx="862.8" cy="769.1" r="4.5"/><circle cx="878.7" cy="764.9" r="4.5"/><circle cx="1014.9" cy="606.7" r="4.5"/><circle cx="839" cy="788" r="4.5"/><circle cx="838.9" cy="611" r="4.5"/><circle cx="774" cy="695.2" r="4.5"/><circle cx="818.7" cy="646.9" r="4.5"/><circle cx="860.3" cy="740.7" r="4.5"/><circle cx="761.5" cy="760.3" r="4.5"/><circle cx="862.4" cy="722.3" r="4.5"/><circle cx="870.1" cy="747.1" r="4.5"/><circle cx="828.6" cy="680.6" r="4.5"/><circle cx="907.8" cy="662.4" r="4.5"/><circle cx="761.9" cy="795.8" r="4.5"/><circle cx="925.6" cy="658.3" r="4.5"/><circle cx="917.3" cy="756.9" r="4.5"/><circle cx="789.7" cy="613.9" r="4.5"/><circle cx="933.3" cy="714.1" r="4.5"/><circle cx="823.1" cy="790" r="4.5"/><circle cx="855.3" cy="825.6" r="4.5"/><circle cx="741.3" cy="698.3" r="4.5"/><circle cx="731.6" cy="836.7" r="4.5"/><circle cx="819.2" cy="654.5" r="4.5"/><circle cx="857.8" cy="704.3" r="4.5"/><circle cx="939.7" cy="836.5" r="4.5"/><circle cx="895" cy="636.3" r="4.5"/><circle cx="788.6" cy="665.3" r="4.5"/><circle cx="952.3" cy="743.9" r="4.5"/><circle cx="825" cy="716.5" r="4.5"/><circle cx="754.5" cy="623.8" r="4.5"/><circle cx="826.4" cy="683.8" r="4.5"/><circle cx="840.9" cy="785.3" r="4.5"/><circle cx="769.5" cy="646.9" r="4.5"/><circle cx="819.4" cy="652.6" r="4.5"/><circle cx="859.9" cy="706.2" r="4.5"/><circle cx="792.5" cy="678.1" r="4.5"/><circle cx="884.2" cy="616.6" r="4.5"/><circle cx="967.4" cy="635.2" r="4.5"/><circle cx="739.7" cy="650.2" r="4.5"/><circle cx="807.6" cy="649.8" r="4.5"/><circle cx="798.5" cy="807.6" r="4.5"/><circle cx="840.4" cy="638.1" r="4.5"/><circle cx="858.9" cy="616.9" r="4.5"/><circle cx="1012.3" cy="612.3" r="4.5"/><circle cx="844.6" cy="641" r="4.5"/><circle cx="875.4" cy="792.2" r="4.5"/><circle cx="799.3" cy="678.3" r="4.5"/><circle cx="881.2" cy="724.1" r="4.5"/><circle cx="880.2" cy="748.1" r="4.5"/><circle cx="828.6" cy="667.6" r="4.5"/><circle cx="943" cy="627.3" r="4.5"/><circle cx="823.9" cy="654.8" r="4.5"/><circle cx="870.1" cy="791.4" r="4.5"/><circle cx="953.6" cy="635.8" r="4.5"/><circle cx="950.6" cy="604.3" r="4.5"/><circle cx="840.2" cy="641" r="4.5"/><circle cx="818.1" cy="695.9" r="4.5"/><circle cx="918.3" cy="645.5" r="4.5"/><circle cx="914.9" cy="616.2" r="4.5"/><circle cx="739.5" cy="670.5" r="4.5"/><circle cx="850.6" cy="726.8" r="4.5"/><circle cx="914.6" cy="749.7" r="4.5"/><circle cx="847.9" cy="659.4" r="4.5"/><circle cx="922.8" cy="790.7" r="4.5"/><circle cx="899.3" cy="707.5" r="4.5"/><circle cx="849.4" cy="660.1" r="4.5"/><circle cx="966.9" cy="709.2" r="4.5"/><circle cx="906" cy="727.2" r="4.5"/><circle cx="774.1" cy="731.2" r="4.5"/><circle cx="797.3" cy="712.9" r="4.5"/><circle cx="951.2" cy="650.2" r="4.5"/><circle cx="953.4" cy="797.9" r="4.5"/><circle cx="758.2" cy="665.1" r="4.5"/><circle cx="840.4" cy="757.1" r="4.5"/><circle cx="831.4" cy="742" r="4.5"/><circle cx="901" cy="834.7" r="4.5"/><circle cx="829.7" cy="679.4" r="4.5"/><circle cx="766.8" cy="651.7" r="4.5"/><circle cx="927.7" cy="701" r="4.5"/><circle cx="933.3" cy="635.5" r="4.5"/><circle cx="805.1" cy="732.1" r="4.5"/><circle cx="852" cy="614.1" r="4.5"/><circle cx="847.3" cy="748" r="4.5"/><circle cx="793" cy="642.3" r="4.5"/><circle cx="767.3" cy="614.8" r="4.5"/><circle cx="825" cy="826.2" r="4.5"/><circle cx="953.2" cy="678.2" r="4.5"/><circle cx="817.3" cy="654" r="4.5"/><circle cx="883.4" cy="810.8" r="4.5"/><circle cx="1051.6" cy="646.4" r="4.5"/><circle cx="853.3" cy="723" r="4.5"/><circle cx="978.5" cy="765.4" r="4.5"/><circle cx="752.9" cy="622.8" r="4.5"/><circle cx="855.9" cy="696.3" r="4.5"/><circle cx="825" cy="712.1" r="4.5"/><circle cx="838.9" cy="734.4" r="4.5"/><circle cx="833.8" cy="677.5" r="4.5"/><circle cx="846.8" cy="781.5" r="4.5"/><circle cx="905.1" cy="684" r="4.5"/><circle cx="866.7" cy="684.5" r="4.5"/><circle cx="888.2" cy="607.9" r="4.5"/><circle cx="822.7" cy="655.6" r="4.5"/><circle cx="915" cy="844.4" r="4.5"/><circle cx="922.5" cy="624.5" r="4.5"/><circle cx="924.1" cy="779.8" r="4.5"/><circle cx="815.5" cy="627.8" r="4.5"/><circle cx="927.1" cy="626.2" r="4.5"/><circle cx="815.3" cy="742.4" r="4.5"/><circle cx="963.7" cy="618.5" r="4.5"/><circle cx="910.5" cy="660.4" r="4.5"/><circle cx="973.9" cy="656.2" r="4.5"/><circle cx="800" cy="763.3" r="4.5"/><circle cx="761.5" cy="727" r="4.5"/><circle cx="903.4" cy="756.7" r="4.5"/><circle cx="854.2" cy="767.3" r="4.5"/><circle cx="876.2" cy="689.2" r="4.5"/><circle cx="921.2" cy="799.4" r="4.5"/><circle cx="914.7" cy="623.4" r="4.5"/><circle cx="879.1" cy="642.9" r="4.5"/><circle cx="874" cy="729.8" r="4.5"/><circle cx="835.7" cy="752.6" r="4.5"/><circle cx="826.5" cy="729.9" r="4.5"/><circle cx="894.7" cy="757.4" r="4.5"/><circle cx="881.2" cy="795" r="4.5"/><circle cx="976.2" cy="627.4" r="4.5"/><circle cx="784.4" cy="633.4" r="4.5"/><circle cx="833.7" cy="631.3" r="4.5"/><circle cx="835" cy="822.1" r="4.5"/><circle cx="970" cy="645.3" r="4.5"/><circle cx="811.7" cy="603.6" r="4.5"/><circle cx="837.4" cy="805.8" r="4.5"/><circle cx="992.1" cy="665.7" r="4.5"/><circle cx="798.5" cy="622" r="4.5"/><circle cx="937.1" cy="643.9" r="4.5"/><circle cx="806.9" cy="784.4" r="4.5"/><circle cx="882.3" cy="756.7" r="4.5"/><circle cx="865.2" cy="684.7" r="4.5"/><circle cx="785.7" cy="838.5" r="4.5"/><circle cx="818.2" cy="665.2" r="4.5"/><circle cx="778.5" cy="811.3" r="4.5"/><circle cx="918.7" cy="638.4" r="4.5"/><circle cx="873.5" cy="842.7" r="4.5"/><circle cx="931.6" cy="625" r="4.5"/><circle cx="926.8" cy="671.6" r="4.5"/><circle cx="774.7" cy="701.7" r="4.5"/><circle cx="882.6" cy="649.7" r="4.5"/><circle cx="862.1" cy="709.1" r="4.5"/><circle cx="836.3" cy="806.8" r="4.5"/><circle cx="788.6" cy="789.7" r="4.5"/><circle cx="804.4" cy="632.3" r="4.5"/><circle cx="907" cy="626.3" r="4.5"/><circle cx="826.8" cy="840.1" r="4.5"/><circle cx="761.5" cy="814" r="4.5"/><circle cx="889.7" cy="693.4" r="4.5"/><circle cx="803.2" cy="748" r="4.5"/><circle cx="818.3" cy="666.1" r="4.5"/><circle cx="951.1" cy="626.2" r="4.5"/><circle cx="885.3" cy="659.2" r="4.5"/><circle cx="830.5" cy="722.9" r="4.5"/><circle cx="857.4" cy="765.3" r="4.5"/><circle cx="903.9" cy="634.2" r="4.5"/><circle cx="950.8" cy="619" r="4.5"/><circle cx="813.4" cy="757.1" r="4.5"/><circle cx="917.2" cy="637.7" r="4.5"/><circle cx="873.4" cy="691.4" r="4.5"/><circle cx="827.6" cy="813.4" r="4.5"/><circle cx="809.9" cy="833.4" r="4.5"/><circle cx="840.5" cy="831.7" r="4.5"/><circle cx="815.4" cy="713.1" r="4.5"/><circle cx="834.8" cy="654.6" r="4.5"/><circle cx="830.6" cy="797.3" r="4.5"/><circle cx="750.9" cy="721.2" r="4.5"/><circle cx="843.3" cy="777.5" r="4.5"/><circle cx="821.6" cy="610.7" r="4.5"/><circle cx="1043.9" cy="680.2" r="4.5"/><circle cx="873.6" cy="609.6" r="4.5"/><circle cx="875.5" cy="686" r="4.5"/><circle cx="850.6" cy="681.7" r="4.5"/><circle cx="916.5" cy="692.4" r="4.5"/><circle cx="827.7" cy="611.3" r="4.5"/><circle cx="872.3" cy="652.2" r="4.5"/><circle cx="945.2" cy="656.7" r="4.5"/><circle cx="937.5" cy="642.2" r="4.5"/><circle cx="805.9" cy="790.6" r="4.5"/><circle cx="891.9" cy="744.2" r="4.5"/><circle cx="895.6" cy="694.7" r="4.5"/><circle cx="844.5" cy="681.5" r="4.5"/><circle cx="821.8" cy="628.8" r="4.5"/><circle cx="864" cy="756.4" r="4.5"/><circle cx="854.8" cy="780.2" r="4.5"/><circle cx="868.2" cy="687.4" r="4.5"/><circle cx="885.4" cy="604" r="4.5"/><circle cx="1002.5" cy="617.5" r="4.5"/><circle cx="817.3" cy="675.2" r="4.5"/><circle cx="893.6" cy="619.7" r="4.5"/><circle cx="826.4" cy="767.5" r="4.5"/><circle cx="893.9" cy="838.9" r="4.5"/><circle cx="853.9" cy="709.3" r="4.5"/><circle cx="822.4" cy="710.8" r="4.5"/><circle cx="846.4" cy="659.6" r="4.5"/><circle cx="960.8" cy="613.1" r="4.5"/><circle cx="911.9" cy="757.8" r="4.5"/><circle cx="816.3" cy="664.9" r="4.5"/><circle cx="768.4" cy="818.8" r="4.5"/><circle cx="913.6" cy="705.2" r="4.5"/><circle cx="908" cy="620.3" r="4.5"/><circle cx="788.5" cy="841.1" r="4.5"/><circle cx="972.8" cy="627.1" r="4.5"/><circle cx="863.3" cy="836.6" r="4.5"/><circle cx="857.5" cy="701.7" r="4.5"/><circle cx="906.3" cy="630.6" r="4.5"/><circle cx="958.4" cy="648.1" r="4.5"/><circle cx="888.7" cy="608" r="4.5"/><circle cx="830.3" cy="703.5" r="4.5"/><circle cx="803.9" cy="632.8" r="4.5"/><circle cx="834.5" cy="840" r="4.5"/><circle cx="926.7" cy="621.3" r="4.5"/><circle cx="826.9" cy="838.6" r="4.5"/><circle cx="804" cy="635.2" r="4.5"/><circle cx="886.5" cy="755.6" r="4.5"/><circle cx="842.6" cy="653.6" r="4.5"/><circle cx="968.9" cy="705" r="4.5"/><circle cx="937.3" cy="807.8" r="4.5"/><circle cx="879.9" cy="741.2" r="4.5"/><circle cx="836.9" cy="724.9" r="4.5"/><circle cx="931.8" cy="683" r="4.5"/><circle cx="797.9" cy="734.1" r="4.5"/><circle cx="1011.7" cy="609.9" r="4.5"/><circle cx="818.9" cy="628.6" r="4.5"/><circle cx="832.3" cy="669" r="4.5"/><circle cx="878.2" cy="816.9" r="4.5"/><circle cx="979.3" cy="651.5" r="4.5"/><circle cx="819.4" cy="801.5" r="4.5"/><circle cx="775.4" cy="663.9" r="4.5"/><circle cx="876" cy="608.9" r="4.5"/><circle cx="905.3" cy="821.1" r="4.5"/><circle cx="907.1" cy="742.6" r="4.5"/><circle cx="795.9" cy="655.3" r="4.5"/><circle cx="1023.6" cy="751.2" r="4.5"/><circle cx="859.5" cy="633.1" r="4.5"/><circle cx="800.8" cy="756.9" r="4.5"/><circle cx="833.3" cy="827.2" r="4.5"/><circle cx="863" cy="698.4" r="4.5"/><circle cx="887.2" cy="617.2" r="4.5"/><circle cx="832.1" cy="757.8" r="4.5"/><circle cx="928.1" cy="750" r="4.5"/><circle cx="908.7" cy="760.5" r="4.5"/><circle cx="810.7" cy="740.3" r="4.5"/><circle cx="797" cy="663.3" r="4.5"/><circle cx="873.6" cy="649.8" r="4.5"/><circle cx="944.5" cy="625.8" r="4.5"/><circle cx="919" cy="719.3" r="4.5"/><circle cx="966.7" cy="624.2" r="4.5"/><circle cx="845.2" cy="742.9" r="4.5"/><circle cx="889.1" cy="701" r="4.5"/><circle cx="897.2" cy="617.2" r="4.5"/><circle cx="873.8" cy="779.1" r="4.5"/><circle cx="822.7" cy="840.8" r="4.5"/><circle cx="957.7" cy="662.4" r="4.5"/><circle cx="873.1" cy="633.7" r="4.5"/><circle cx="834.1" cy="807.3" r="4.5"/><circle cx="849.9" cy="723.8" r="4.5"/><circle cx="949.4" cy="673.8" r="4.5"/><circle cx="876.8" cy="715.5" r="4.5"/><circle cx="823" cy="806.4" r="4.5"/><circle cx="851.8" cy="688.3" r="4.5"/><circle cx="903.1" cy="690" r="4.5"/><circle cx="966.9" cy="612.8" r="4.5"/><circle cx="906.8" cy="709.2" r="4.5"/><circle cx="851.5" cy="692.4" r="4.5"/><circle cx="887.6" cy="699.4" r="4.5"/><circle cx="807" cy="783.5" r="4.5"/><circle cx="890.6" cy="625" r="4.5"/><circle cx="986.6" cy="690.5" r="4.5"/><circle cx="868.3" cy="702.4" r="4.5"/><circle cx="925" cy="654.6" r="4.5"/><circle cx="767.3" cy="688.4" r="4.5"/><circle cx="857.5" cy="789" r="4.5"/><circle cx="844.5" cy="669.5" r="4.5"/><circle cx="858.4" cy="626.9" r="4.5"/><circle cx="920.2" cy="721.2" r="4.5"/><circle cx="792.8" cy="659.6" r="4.5"/><circle cx="830.4" cy="680.3" r="4.5"/><circle cx="976.2" cy="660.4" r="4.5"/><circle cx="854.5" cy="687.1" r="4.5"/><circle cx="739.4" cy="673.2" r="4.5"/><circle cx="858.2" cy="743.3" r="4.5"/><circle cx="918.4" cy="677.2" r="4.5"/><circle cx="1072.6" cy="632.2" r="4.5"/><circle cx="918.1" cy="818.7" r="4.5"/><circle cx="790.8" cy="709.8" r="4.5"/><circle cx="797.4" cy="757.9" r="4.5"/><circle cx="794.7" cy="813.9" r="4.5"/><circle cx="851.9" cy="679.5" r="4.5"/><circle cx="948.9" cy="634.3" r="4.5"/><circle cx="757" cy="629.7" r="4.5"/><circle cx="798.7" cy="667" r="4.5"/><circle cx="1101.9" cy="606.9" r="4.5"/><circle cx="854.3" cy="768.8" r="4.5"/><circle cx="961.4" cy="649" r="4.5"/><circle cx="791" cy="805.1" r="4.5"/><circle cx="853.6" cy="705.5" r="4.5"/><circle cx="844.9" cy="624.1" r="4.5"/><circle cx="905.7" cy="779.6" r="4.5"/><circle cx="799.8" cy="750.8" r="4.5"/><circle cx="929.6" cy="756.3" r="4.5"/><circle cx="849.7" cy="717.1" r="4.5"/><circle cx="870.1" cy="610.8" r="4.5"/><circle cx="842.9" cy="633.3" r="4.5"/><circle cx="966.9" cy="611" r="4.5"/><circle cx="913.7" cy="712.7" r="4.5"/><circle cx="943.2" cy="681.5" r="4.5"/><circle cx="854.3" cy="649.5" r="4.5"/><circle cx="868.2" cy="787.1" r="4.5"/><circle cx="1007.1" cy="605.7" r="4.5"/><circle cx="818.4" cy="693.3" r="4.5"/><circle cx="916.2" cy="619.4" r="4.5"/><circle cx="948.9" cy="634.3" r="4.5"/><circle cx="784.6" cy="776.2" r="4.5"/><circle cx="855.9" cy="643.4" r="4.5"/><circle cx="859.4" cy="727.7" r="4.5"/><circle cx="819" cy="766.1" r="4.5"/><circle cx="818.7" cy="765.7" r="4.5"/><circle cx="923.7" cy="791.3" r="4.5"/><circle cx="879.4" cy="695.1" r="4.5"/><circle cx="835" cy="672.6" r="4.5"/><circle cx="765.9" cy="643.7" r="4.5"/><circle cx="1020.7" cy="638.7" r="4.5"/><circle cx="869.4" cy="674.3" r="4.5"/><circle cx="953.8" cy="657.6" r="4.5"/><circle cx="846.1" cy="716.9" r="4.5"/><circle cx="847.5" cy="662.7" r="4.5"/><circle cx="886.4" cy="780.9" r="4.5"/><circle cx="814.2" cy="759.5" r="4.5"/><circle cx="817" cy="629.3" r="4.5"/><circle cx="779.4" cy="819.3" r="4.5"/><circle cx="774" cy="695.2" r="4.5"/><circle cx="839.5" cy="637.7" r="4.5"/><circle cx="787.8" cy="803.9" r="4.5"/><circle cx="896.2" cy="767.3" r="4.5"/><circle cx="926.4" cy="804.6" r="4.5"/><circle cx="819.5" cy="723.4" r="4.5"/><circle cx="900.3" cy="631.8" r="4.5"/><circle cx="907.8" cy="605.3" r="4.5"/><circle cx="828" cy="696" r="4.5"/><circle cx="840.1" cy="823.4" r="4.5"/><circle cx="751.7" cy="607" r="4.5"/><circle cx="773.8" cy="650.5" r="4.5"/><circle cx="874.4" cy="739.7" r="4.5"/><circle cx="760" cy="674.5" r="4.5"/><circle cx="905.7" cy="684.5" r="4.5"/><circle cx="885.7" cy="764" r="4.5"/><circle cx="836.1" cy="733.3" r="4.5"/><circle cx="880.2" cy="775.1" r="4.5"/><circle cx="904.2" cy="780.6" r="4.5"/><circle cx="838" cy="650.8" r="4.5"/><circle cx="877.2" cy="709.4" r="4.5"/><circle cx="795.8" cy="779.7" r="4.5"/><circle cx="989.7" cy="621" r="4.5"/><circle cx="816" cy="667.9" r="4.5"/><circle cx="911.9" cy="649.4" r="4.5"/><circle cx="825.4" cy="617.1" r="4.5"/><circle cx="886.9" cy="688.3" r="4.5"/><circle cx="906.1" cy="730.3" r="4.5"/><circle cx="839.6" cy="700.9" r="4.5"/><circle cx="847.4" cy="804.4" r="4.5"/><circle cx="926.2" cy="603.6" r="4.5"/><circle cx="825" cy="709.3" r="4.5"/><circle cx="855.2" cy="698.8" r="4.5"/><circle cx="811.5" cy="786" r="4.5"/><circle cx="819.2" cy="660.3" r="4.5"/><circle cx="879.3" cy="647.6" r="4.5"/><circle cx="815.9" cy="708.7" r="4.5"/><circle cx="810.1" cy="623" r="4.5"/><circle cx="897.5" cy="622.3" r="4.5"/><circle cx="912.8" cy="684.7" r="4.5"/><circle cx="876.1" cy="644.1" r="4.5"/><circle cx="877.5" cy="788.7" r="4.5"/><circle cx="797.2" cy="717.4" r="4.5"/><circle cx="841" cy="685.2" r="4.5"/><circle cx="920.2" cy="821.4" r="4.5"/><circle cx="832.9" cy="629" r="4.5"/><circle cx="844.8" cy="614.7" r="4.5"/><circle cx="812" cy="806.8" r="4.5"/><circle cx="804.6" cy="826.8" r="4.5"/><circle cx="864.4" cy="612.6" r="4.5"/><circle cx="843.1" cy="805.8" r="4.5"/><circle cx="892.5" cy="715.7" r="4.5"/><circle cx="874.3" cy="843.8" r="4.5"/><circle cx="780.5" cy="750.5" r="4.5"/><circle cx="964.7" cy="625.7" r="4.5"/><circle cx="838.4" cy="828" r="4.5"/><circle cx="849.9" cy="788.8" r="4.5"/><circle cx="852.8" cy="808.6" r="4.5"/><circle cx="841.4" cy="755.2" r="4.5"/><circle cx="920.4" cy="681.9" r="4.5"/><circle cx="960.7" cy="629.4" r="4.5"/><circle cx="861" cy="720" r="4.5"/><circle cx="794.2" cy="689.9" r="4.5"/><circle cx="886.9" cy="724.1" r="4.5"/><circle cx="846.3" cy="719.2" r="4.5"/><circle cx="787.9" cy="674.5" r="4.5"/><circle cx="857.9" cy="822.4" r="4.5"/><circle cx="769" cy="706.8" r="4.5"/><circle cx="938.5" cy="658.6" r="4.5"/><circle cx="805.4" cy="838" r="4.5"/><circle cx="811.7" cy="650.1" r="4.5"/><circle cx="823.1" cy="820.4" r="4.5"/><circle cx="887" cy="681.4" r="4.5"/><circle cx="846.2" cy="699.7" r="4.5"/><circle cx="825.8" cy="632.3" r="4.5"/><circle cx="815.6" cy="726.3" r="4.5"/><circle cx="787.6" cy="775.5" r="4.5"/><circle cx="831.4" cy="632.8" r="4.5"/><circle cx="774.4" cy="731.8" r="4.5"/><circle cx="834" cy="784.5" r="4.5"/><circle cx="865.3" cy="659.1" r="4.5"/><circle cx="899.7" cy="613.4" r="4.5"/><circle cx="792.9" cy="680.5" r="4.5"/><circle cx="843.9" cy="828.1" r="4.5"/><circle cx="805.6" cy="708.3" r="4.5"/><circle cx="833.8" cy="738" r="4.5"/><circle cx="808.4" cy="696.9" r="4.5"/><circle cx="797.7" cy="664.7" r="4.5"/><circle cx="814.3" cy="643.2" r="4.5"/><circle cx="816.1" cy="773" r="4.5"/><circle cx="861.3" cy="759.6" r="4.5"/><circle cx="838.1" cy="737.4" r="4.5"/><circle cx="807.6" cy="842.2" r="4.5"/><circle cx="887.2" cy="802.1" r="4.5"/><circle cx="869.8" cy="841.1" r="4.5"/><circle cx="814.5" cy="623.5" r="4.5"/><circle cx="871.3" cy="663.4" r="4.5"/><circle cx="854.2" cy="804.5" r="4.5"/><circle cx="814.6" cy="634.4" r="4.5"/><circle cx="866.7" cy="633.1" r="4.5"/><circle cx="868.7" cy="686.5" r="4.5"/><circle cx="883.4" cy="655.9" r="4.5"/><circle cx="840.4" cy="769" r="4.5"/><circle cx="890.6" cy="806.1" r="4.5"/><circle cx="922.3" cy="622.7" r="4.5"/><circle cx="844.9" cy="717.1" r="4.5"/><circle cx="808.4" cy="711.7" r="4.5"/><circle cx="914" cy="716.8" r="4.5"/><circle cx="960.8" cy="676.1" r="4.5"/><circle cx="837.4" cy="716.2" r="4.5"/><circle cx="922.7" cy="661.9" r="4.5"/><circle cx="859.7" cy="733.8" r="4.5"/><circle cx="839.2" cy="660.5" r="4.5"/><circle cx="747.2" cy="700.8" r="4.5"/><circle cx="784.2" cy="700.1" r="4.5"/><circle cx="900.1" cy="623.7" r="4.5"/><circle cx="744.9" cy="604" r="4.5"/><circle cx="946.3" cy="638" r="4.5"/><circle cx="841.9" cy="663.7" r="4.5"/><circle cx="831.4" cy="692.3" r="4.5"/><circle cx="907.4" cy="686.1" r="4.5"/><circle cx="957.7" cy="614.6" r="4.5"/><circle cx="809.4" cy="711" r="4.5"/><circle cx="762.4" cy="676" r="4.5"/><circle cx="773.2" cy="793.4" r="4.5"/><circle cx="861.5" cy="710.1" r="4.5"/><circle cx="787.3" cy="726" r="4.5"/><circle cx="765.4" cy="650.4" r="4.5"/><circle cx="900" cy="621.7" r="4.5"/><circle cx="971.4" cy="624.4" r="4.5"/><circle cx="778.4" cy="781.1" r="4.5"/><circle cx="988.2" cy="628.1" r="4.5"/><circle cx="858.8" cy="709.5" r="4.5"/><circle cx="797.3" cy="786" r="4.5"/><circle cx="848.9" cy="715.2" r="4.5"/><circle cx="879" cy="768.6" r="4.5"/><circle cx="785.3" cy="835.3" r="4.5"/><circle cx="861" cy="750.6" r="4.5"/><circle cx="808" cy="640.5" r="4.5"/><circle cx="756.2" cy="629" r="4.5"/><circle cx="918.1" cy="688.6" r="4.5"/><circle cx="929.3" cy="657.3" r="4.5"/><circle cx="789.8" cy="631.6" r="4.5"/><circle cx="892.5" cy="778.7" r="4.5"/><circle cx="853.7" cy="784.5" r="4.5"/><circle cx="863.8" cy="687.2" r="4.5"/><circle cx="761.9" cy="726.8" r="4.5"/><circle cx="961" cy="628.8" r="4.5"/><circle cx="879.8" cy="749.2" r="4.5"/><circle cx="888.5" cy="778.2" r="4.5"/><circle cx="846.1" cy="684.8" r="4.5"/><circle cx="854.5" cy="826.4" r="4.5"/><circle cx="993.5" cy="631.8" r="4.5"/><circle cx="917.1" cy="716.8" r="4.5"/><circle cx="856.5" cy="696.5" r="4.5"/><circle cx="844.5" cy="797.7" r="4.5"/><circle cx="874.3" cy="616.9" r="4.5"/><circle cx="874.8" cy="808.3" r="4.5"/><circle cx="870.3" cy="691.3" r="4.5"/><circle cx="881.6" cy="764.5" r="4.5"/><circle cx="836.7" cy="713.4" r="4.5"/><circle cx="786.6" cy="810.3" r="4.5"/><circle cx="913.5" cy="832.4" r="4.5"/><circle cx="850.6" cy="775.2" r="4.5"/><circle cx="809" cy="761.3" r="4.5"/><circle cx="802.3" cy="642.2" r="4.5"/><circle cx="824.7" cy="795" r="4.5"/><circle cx="825.5" cy="796.5" r="4.5"/><circle cx="878" cy="630.7" r="4.5"/><circle cx="871.9" cy="655.7" r="4.5"/><circle cx="876.9" cy="634" r="4.5"/><circle cx="863.9" cy="610.2" r="4.5"/><circle cx="876.9" cy="777.7" r="4.5"/><circle cx="801.1" cy="636.4" r="4.5"/><circle cx="795.6" cy="636.2" r="4.5"/><circle cx="888.3" cy="753" r="4.5"/><circle cx="875.2" cy="726.3" r="4.5"/><circle cx="754.9" cy="786.9" r="4.5"/><circle cx="827" cy="743.7" r="4.5"/><circle cx="890.6" cy="815.7" r="4.5"/><circle cx="732.9" cy="797.2" r="4.5"/><circle cx="816.3" cy="788.3" r="4.5"/><circle cx="755" cy="734.6" r="4.5"/><circle cx="765.1" cy="654.5" r="4.5"/><circle cx="911.3" cy="675.6" r="4.5"/><circle cx="874.2" cy="715.8" r="4.5"/><circle cx="848.8" cy="733.1" r="4.5"/><circle cx="909.7" cy="694.2" r="4.5"/><circle cx="945.8" cy="613.7" r="4.5"/><circle cx="858.9" cy="705.7" r="4.5"/><circle cx="968.8" cy="651.7" r="4.5"/><circle cx="870.8" cy="609.5" r="4.5"/><circle cx="865.5" cy="654" r="4.5"/><circle cx="812.1" cy="632.9" r="4.5"/><circle cx="866.5" cy="718.8" r="4.5"/><circle cx="816.1" cy="765.8" r="4.5"/><circle cx="839.6" cy="653.9" r="4.5"/><circle cx="775.8" cy="789.1" r="4.5"/><circle cx="802.9" cy="827" r="4.5"/><circle cx="848" cy="771.8" r="4.5"/><circle cx="893.6" cy="805.5" r="4.5"/><circle cx="847.3" cy="717.7" r="4.5"/><circle cx="860.5" cy="664.1" r="4.5"/><circle cx="941.7" cy="661" r="4.5"/><circle cx="824.7" cy="632.8" r="4.5"/><circle cx="864" cy="675.6" r="4.5"/><circle cx="847.5" cy="776.5" r="4.5"/><circle cx="824.2" cy="628.7" r="4.5"/><circle cx="801.7" cy="713" r="4.5"/><circle cx="788.6" cy="674.7" r="4.5"/><circle cx="803.5" cy="608.2" r="4.5"/><circle cx="883.6" cy="796.1" r="4.5"/><circle cx="906.8" cy="665.4" r="4.5"/><circle cx="761.6" cy="699.4" r="4.5"/><circle cx="980.7" cy="630.7" r="4.5"/><circle cx="838.9" cy="759.6" r="4.5"/><circle cx="824" cy="612.5" r="4.5"/><circle cx="840.8" cy="779.3" r="4.5"/><circle cx="943.6" cy="666.4" r="4.5"/><circle cx="862.3" cy="668.3" r="4.5"/><circle cx="885.3" cy="672.8" r="4.5"/><circle cx="967.2" cy="628.5" r="4.5"/><circle cx="915.7" cy="753.7" r="4.5"/><circle cx="891.9" cy="794.3" r="4.5"/><circle cx="834.9" cy="825.8" r="4.5"/><circle cx="853.1" cy="669" r="4.5"/><circle cx="977.7" cy="610.8" r="4.5"/><circle cx="892.7" cy="726.9" r="4.5"/><circle cx="906.3" cy="716.5" r="4.5"/><circle cx="843.2" cy="712.6" r="4.5"/><circle cx="884.2" cy="651.2" r="4.5"/><circle cx="833.7" cy="706.6" r="4.5"/><circle cx="843.9" cy="608.3" r="4.5"/><circle cx="865.3" cy="815.2" r="4.5"/><circle cx="981.4" cy="671.7" r="4.5"/><circle cx="835.9" cy="815.7" r="4.5"/><circle cx="862.4" cy="804.2" r="4.5"/><circle cx="840.6" cy="789.6" r="4.5"/><circle cx="813.6" cy="810.7" r="4.5"/><circle cx="987.5" cy="692.8" r="4.5"/><circle cx="925.7" cy="635.6" r="4.5"/><circle cx="762.5" cy="610.3" r="4.5"/><circle cx="806.5" cy="750.1" r="4.5"/><circle cx="830.6" cy="652.5" r="4.5"/><circle cx="880.5" cy="701.1" r="4.5"/><circle cx="817.7" cy="783.7" r="4.5"/><circle cx="821.7" cy="647.1" r="4.5"/><circle cx="823.7" cy="807.2" r="4.5"/><circle cx="966.3" cy="639" r="4.5"/><circle cx="885.7" cy="670.8" r="4.5"/><circle cx="780.2" cy="810.9" r="4.5"/><circle cx="898.5" cy="659.4" r="4.5"/><circle cx="887.9" cy="836.7" r="4.5"/><circle cx="959.3" cy="630.8" r="4.5"/><circle cx="809.1" cy="768.2" r="4.5"/><circle cx="845.1" cy="697.2" r="4.5"/><circle cx="850.5" cy="624.6" r="4.5"/><circle cx="814.7" cy="736.8" r="4.5"/><circle cx="844" cy="840.3" r="4.5"/><circle cx="958.9" cy="615.3" r="4.5"/><circle cx="843" cy="757.1" r="4.5"/><circle cx="900.2" cy="725.7" r="4.5"/><circle cx="880.3" cy="616.9" r="4.5"/><circle cx="965.1" cy="629.3" r="4.5"/><circle cx="949.2" cy="646.8" r="4.5"/><circle cx="851" cy="666.7" r="4.5"/><circle cx="834.4" cy="745.6" r="4.5"/><circle cx="892.4" cy="705.9" r="4.5"/><circle cx="836.5" cy="777.9" r="4.5"/><circle cx="1035.2" cy="612" r="4.5"/><circle cx="800.8" cy="721.8" r="4.5"/><circle cx="799.6" cy="728.2" r="4.5"/><circle cx="851" cy="744.3" r="4.5"/><circle cx="850.5" cy="614.5" r="4.5"/><circle cx="801.3" cy="713.7" r="4.5"/><circle cx="863.8" cy="770" r="4.5"/><circle cx="782.6" cy="639.9" r="4.5"/><circle cx="869.1" cy="610.6" r="4.5"/><circle cx="1084.5" cy="623.4" r="4.5"/><circle cx="846.4" cy="627.4" r="4.5"/><circle cx="861.2" cy="808" r="4.5"/><circle cx="871.7" cy="738.7" r="4.5"/><circle cx="875.1" cy="721.8" r="4.5"/><circle cx="927.5" cy="670.2" r="4.5"/><circle cx="852.5" cy="794.4" r="4.5"/><circle cx="1090.2" cy="605.6" r="4.5"/><circle cx="798.5" cy="807.6" r="4.5"/><circle cx="877.5" cy="752.1" r="4.5"/><circle cx="876.9" cy="656.4" r="4.5"/><circle cx="861.2" cy="611.1" r="4.5"/><circle cx="904.5" cy="710.2" r="4.5"/><circle cx="807.8" cy="816.5" r="4.5"/><circle cx="844.3" cy="663.8" r="4.5"/><circle cx="893.4" cy="816.1" r="4.5"/><circle cx="871.8" cy="678.9" r="4.5"/><circle cx="815.5" cy="627.8" r="4.5"/><circle cx="854.3" cy="649.5" r="4.5"/><circle cx="855.3" cy="836.4" r="4.5"/><circle cx="862.5" cy="748.5" r="4.5"/><circle cx="859.5" cy="666.8" r="4.5"/><circle cx="827.2" cy="784.2" r="4.5"/><circle cx="849.6" cy="625.8" r="4.5"/><circle cx="752.4" cy="717.4" r="4.5"/><circle cx="783.4" cy="614.9" r="4.5"/><circle cx="942.9" cy="626.6" r="4.5"/><circle cx="916.6" cy="693" r="4.5"/><circle cx="824.6" cy="731.9" r="4.5"/><circle cx="790.9" cy="719.6" r="4.5"/><circle cx="863" cy="761" r="4.5"/><circle cx="810.6" cy="756.4" r="4.5"/><circle cx="853.9" cy="766.3" r="4.5"/><circle cx="884.3" cy="801.7" r="4.5"/><circle cx="773.3" cy="641.8" r="4.5"/><circle cx="893.6" cy="688" r="4.5"/><circle cx="911.9" cy="712.7" r="4.5"/><circle cx="824.9" cy="792.2" r="4.5"/><circle cx="805.7" cy="754.2" r="4.5"/><circle cx="845" cy="631.6" r="4.5"/><circle cx="827.7" cy="795" r="4.5"/><circle cx="864.6" cy="692.1" r="4.5"/><circle cx="827.1" cy="633.2" r="4.5"/><circle cx="854.7" cy="685.7" r="4.5"/><circle cx="870.2" cy="826.3" r="4.5"/><circle cx="819" cy="772.4" r="4.5"/><circle cx="952.5" cy="632.8" r="4.5"/><circle cx="811" cy="699.5" r="4.5"/><circle cx="746.5" cy="738.6" r="4.5"/><circle cx="810.7" cy="777.6" r="4.5"/><circle cx="964.4" cy="686.5" r="4.5"/><circle cx="790.6" cy="676.9" r="4.5"/><circle cx="843.6" cy="841" r="4.5"/><circle cx="853.2" cy="716.3" r="4.5"/><circle cx="821.5" cy="756.9" r="4.5"/><circle cx="788" cy="755.6" r="4.5"/><circle cx="848.6" cy="841.8" r="4.5"/><circle cx="848.7" cy="787" r="4.5"/><circle cx="770" cy="741.9" r="4.5"/><circle cx="789.6" cy="614.2" r="4.5"/><circle cx="804.7" cy="626.6" r="4.5"/><circle cx="812.1" cy="817.8" r="4.5"/><circle cx="986.9" cy="606.4" r="4.5"/><circle cx="761.6" cy="720.9" r="4.5"/><circle cx="774.9" cy="686.6" r="4.5"/><circle cx="810.1" cy="679.4" r="4.5"/><circle cx="839.6" cy="781.1" r="4.5"/><circle cx="782.2" cy="705.5" r="4.5"/><circle cx="911" cy="675.9" r="4.5"/><circle cx="865.8" cy="815.1" r="4.5"/><circle cx="832.3" cy="762.7" r="4.5"/><circle cx="854.5" cy="821.2" r="4.5"/><circle cx="841.5" cy="693.8" r="4.5"/><circle cx="811.9" cy="798.9" r="4.5"/><circle cx="838.2" cy="728.1" r="4.5"/><circle cx="867.1" cy="680.1" r="4.5"/><circle cx="889.2" cy="664.7" r="4.5"/><circle cx="905.5" cy="781.6" r="4.5"/><circle cx="928" cy="827.4" r="4.5"/><circle cx="814" cy="622.2" r="4.5"/><circle cx="1007.1" cy="666" r="4.5"/><circle cx="797.2" cy="610.2" r="4.5"/><circle cx="804.9" cy="639.2" r="4.5"/><circle cx="800.3" cy="720.3" r="4.5"/><circle cx="820.8" cy="831.1" r="4.5"/><circle cx="903.1" cy="690" r="4.5"/><circle cx="853.1" cy="693.7" r="4.5"/><circle cx="839" cy="727.2" r="4.5"/><circle cx="864.2" cy="625.6" r="4.5"/><circle cx="769.6" cy="706.1" r="4.5"/><circle cx="822.6" cy="724.3" r="4.5"/><circle cx="797.7" cy="747.5" r="4.5"/><circle cx="814" cy="714.6" r="4.5"/><circle cx="869.4" cy="731.7" r="4.5"/><circle cx="844.4" cy="839.6" r="4.5"/><circle cx="888.1" cy="673" r="4.5"/><circle cx="738.1" cy="636.9" r="4.5"/><circle cx="909.1" cy="631.3" r="4.5"/><circle cx="880.5" cy="792" r="4.5"/><circle cx="880.2" cy="776.2" r="4.5"/><circle cx="822.7" cy="767.5" r="4.5"/><circle cx="998.2" cy="719.7" r="4.5"/><circle cx="750.7" cy="689.6" r="4.5"/><circle cx="1000.8" cy="614.3" r="4.5"/><circle cx="774.7" cy="697" r="4.5"/><circle cx="910.6" cy="619.9" r="4.5"/><circle cx="821.7" cy="823.8" r="4.5"/><circle cx="870.3" cy="669.6" r="4.5"/><circle cx="747.3" cy="680.4" r="4.5"/><circle cx="932.1" cy="734.7" r="4.5"/><circle cx="827.9" cy="620.7" r="4.5"/><circle cx="1051.4" cy="675.4" r="4.5"/><circle cx="833" cy="797.4" r="4.5"/><circle cx="905.4" cy="635.7" r="4.5"/><circle cx="981.9" cy="608.9" r="4.5"/><circle cx="912.2" cy="677.7" r="4.5"/><circle cx="863.1" cy="656.9" r="4.5"/><circle cx="875.9" cy="628.5" r="4.5"/><circle cx="1162.8" cy="625" r="4.5"/><circle cx="820.9" cy="844.3" r="4.5"/><circle cx="966" cy="757.4" r="4.5"/><circle cx="772.1" cy="694.8" r="4.5"/><circle cx="840.9" cy="817.4" r="4.5"/><circle cx="852.9" cy="611.4" r="4.5"/><circle cx="867" cy="620.1" r="4.5"/><circle cx="947.2" cy="664.9" r="4.5"/><circle cx="891.7" cy="779.3" r="4.5"/><circle cx="836.2" cy="690.5" r="4.5"/><circle cx="925.2" cy="740.4" r="4.5"/><circle cx="933.3" cy="679.4" r="4.5"/><circle cx="1013.7" cy="617.4" r="4.5"/><circle cx="868.7" cy="711.4" r="4.5"/><circle cx="795.6" cy="636.2" r="4.5"/><circle cx="883.8" cy="611" r="4.5"/><circle cx="935.7" cy="675.2" r="4.5"/><circle cx="910.5" cy="821.4" r="4.5"/><circle cx="908.5" cy="740.8" r="4.5"/><circle cx="780.5" cy="654.8" r="4.5"/><circle cx="941.5" cy="661.4" r="4.5"/><circle cx="762.9" cy="722" r="4.5"/><circle cx="878.8" cy="770.7" r="4.5"/><circle cx="785.4" cy="696" r="4.5"/><circle cx="811.3" cy="796" r="4.5"/><circle cx="877.4" cy="718.1" r="4.5"/><circle cx="839.9" cy="832.7" r="4.5"/><circle cx="860.1" cy="753.8" r="4.5"/><circle cx="773.7" cy="694.7" r="4.5"/><circle cx="845.6" cy="805.2" r="4.5"/><circle cx="929.1" cy="610.8" r="4.5"/><circle cx="822.1" cy="805.2" r="4.5"/><circle cx="917.8" cy="617.8" r="4.5"/><circle cx="821.6" cy="801.2" r="4.5"/><circle cx="780.1" cy="790.4" r="4.5"/><circle cx="771.8" cy="836.9" r="4.5"/><circle cx="1023" cy="606.2" r="4.5"/><circle cx="958.9" cy="615.3" r="4.5"/><circle cx="840.2" cy="756.5" r="4.5"/><circle cx="877.6" cy="809.4" r="4.5"/><circle cx="885.2" cy="682.3" r="4.5"/><circle cx="861.7" cy="717.7" r="4.5"/><circle cx="989.6" cy="694.6" r="4.5"/><circle cx="884" cy="622.3" r="4.5"/><circle cx="909.3" cy="843.9" r="4.5"/><circle cx="834.7" cy="618.1" r="4.5"/><circle cx="920.3" cy="827.9" r="4.5"/><circle cx="795.6" cy="650.2" r="4.5"/><circle cx="978.1" cy="618.9" r="4.5"/><circle cx="782.3" cy="729.3" r="4.5"/><circle cx="810.8" cy="672.8" r="4.5"/><circle cx="859.2" cy="785.2" r="4.5"/><circle cx="851.6" cy="708.4" r="4.5"/><circle cx="832" cy="674.5" r="4.5"/><circle cx="996.2" cy="666.8" r="4.5"/><circle cx="776.4" cy="816.9" r="4.5"/><circle cx="915.5" cy="616.4" r="4.5"/><circle cx="867.2" cy="636.1" r="4.5"/><circle cx="941.8" cy="683.9" r="4.5"/><circle cx="914" cy="654.7" r="4.5"/><circle cx="902.8" cy="697" r="4.5"/><circle cx="805.5" cy="823.6" r="4.5"/><circle cx="909.8" cy="625.8" r="4.5"/><circle cx="903.8" cy="638" r="4.5"/><circle cx="880.9" cy="603.4" r="4.5"/><circle cx="847.5" cy="810.9" r="4.5"/><circle cx="968.7" cy="624" r="4.5"/><circle cx="790.4" cy="647.8" r="4.5"/><circle cx="829.9" cy="630.4" r="4.5"/><circle cx="816.9" cy="636.9" r="4.5"/><circle cx="877.6" cy="809.8" r="4.5"/><circle cx="738.3" cy="691.2" r="4.5"/><circle cx="884.6" cy="764.4" r="4.5"/><circle cx="958.6" cy="742.1" r="4.5"/><circle cx="916.2" cy="736.2" r="4.5"/><circle cx="797.2" cy="665.4" r="4.5"/><circle cx="853.5" cy="607.4" r="4.5"/><circle cx="891.2" cy="794.2" r="4.5"/><circle cx="904.6" cy="611.2" r="4.5"/><circle cx="777" cy="763" r="4.5"/><circle cx="740.5" cy="836.4" r="4.5"/><circle cx="931.2" cy="631.8" r="4.5"/><circle cx="889.9" cy="843.8" r="4.5"/><circle cx="843.3" cy="698.2" r="4.5"/><circle cx="791.6" cy="710.3" r="4.5"/><circle cx="895.8" cy="641.6" r="4.5"/><circle cx="904.2" cy="757.5" r="4.5"/><circle cx="944.6" cy="652.8" r="4.5"/><circle cx="933.8" cy="637.3" r="4.5"/><circle cx="843.3" cy="757.9" r="4.5"/><circle cx="828.8" cy="771.9" r="4.5"/><circle cx="875.4" cy="737.3" r="4.5"/><circle cx="877" cy="774.3" r="4.5"/><circle cx="836.9" cy="834.8" r="4.5"/><circle cx="911.6" cy="764.5" r="4.5"/><circle cx="934.9" cy="718.2" r="4.5"/><circle cx="739.5" cy="670.5" r="4.5"/><circle cx="782.7" cy="643.8" r="4.5"/><circle cx="942.6" cy="603.9" r="4.5"/><circle cx="857.5" cy="811.8" r="4.5"/><circle cx="879.9" cy="796.1" r="4.5"/><circle cx="859.2" cy="764.2" r="4.5"/><circle cx="949.2" cy="645" r="4.5"/><circle cx="845.9" cy="670.7" r="4.5"/><circle cx="867.2" cy="620.3" r="4.5"/><circle cx="875.4" cy="750.4" r="4.5"/><circle cx="818.6" cy="618" r="4.5"/><circle cx="842.5" cy="695.5" r="4.5"/><circle cx="902.7" cy="746.4" r="4.5"/><circle cx="924.1" cy="621.3" r="4.5"/><circle cx="798.6" cy="725.3" r="4.5"/><circle cx="864" cy="646.3" r="4.5"/><circle cx="747.1" cy="731.1" r="4.5"/><circle cx="1016.2" cy="666.1" r="4.5"/><circle cx="951.3" cy="613.2" r="4.5"/><circle cx="855.7" cy="746.9" r="4.5"/><circle cx="816.8" cy="711.5" r="4.5"/><circle cx="780" cy="639.1" r="4.5"/><circle cx="971.9" cy="620.3" r="4.5"/><circle cx="868.5" cy="829" r="4.5"/><circle cx="948.8" cy="836.6" r="4.5"/><circle cx="867.8" cy="606.8" r="4.5"/><circle cx="819.7" cy="628.1" r="4.5"/><circle cx="875" cy="682.7" r="4.5"/><circle cx="930.8" cy="634.8" r="4.5"/><circle cx="965.5" cy="645.3" r="4.5"/><circle cx="862.2" cy="780.9" r="4.5"/><circle cx="869.2" cy="790.5" r="4.5"/><circle cx="805.3" cy="817.8" r="4.5"/><circle cx="767.1" cy="698.1" r="4.5"/><circle cx="882.3" cy="764.5" r="4.5"/><circle cx="792.5" cy="689" r="4.5"/><circle cx="879.8" cy="701.2" r="4.5"/><circle cx="880.7" cy="626.3" r="4.5"/><circle cx="880.5" cy="664" r="4.5"/><circle cx="939.2" cy="659.2" r="4.5"/><circle cx="861.2" cy="669.4" r="4.5"/><circle cx="987.4" cy="631.7" r="4.5"/><circle cx="745.3" cy="627.5" r="4.5"/><circle cx="1084.1" cy="606" r="4.5"/><circle cx="930.8" cy="639.1" r="4.5"/><circle cx="847" cy="612.9" r="4.5"/><circle cx="797.3" cy="822.3" r="4.5"/><circle cx="724.9" cy="689.6" r="4.5"/><circle cx="832.3" cy="770.3" r="4.5"/><circle cx="889.1" cy="639.3" r="4.5"/><circle cx="763.4" cy="680.3" r="4.5"/><circle cx="774.8" cy="617.3" r="4.5"/><circle cx="824.8" cy="757.1" r="4.5"/><circle cx="891.5" cy="664.1" r="4.5"/><circle cx="883.3" cy="677.3" r="4.5"/><circle cx="841.1" cy="695.3" r="4.5"/><circle cx="851.2" cy="839.6" r="4.5"/><circle cx="916.6" cy="675.2" r="4.5"/><circle cx="886.5" cy="728.6" r="4.5"/><circle cx="862.2" cy="776.4" r="4.5"/><circle cx="932.8" cy="639.6" r="4.5"/><circle cx="824.9" cy="790.4" r="4.5"/><circle cx="874.6" cy="622.7" r="4.5"/><circle cx="855.2" cy="686.5" r="4.5"/><circle cx="885.5" cy="842.6" r="4.5"/><circle cx="960.5" cy="676" r="4.5"/><circle cx="789.1" cy="763.4" r="4.5"/><circle cx="836.3" cy="733.9" r="4.5"/><circle cx="869" cy="794.6" r="4.5"/><circle cx="869.6" cy="749.6" r="4.5"/><circle cx="847.5" cy="716.9" r="4.5"/><circle cx="877.9" cy="825.7" r="4.5"/><circle cx="730.8" cy="614.4" r="4.5"/><circle cx="916.4" cy="661.2" r="4.5"/><circle cx="876.3" cy="804.7" r="4.5"/><circle cx="936.5" cy="702" r="4.5"/><circle cx="846.4" cy="696.8" r="4.5"/><circle cx="837.8" cy="705.5" r="4.5"/><circle cx="869.6" cy="622.5" r="4.5"/><circle cx="845.1" cy="788.2" r="4.5"/><circle cx="979.9" cy="791.7" r="4.5"/><circle cx="781.8" cy="698.2" r="4.5"/><circle cx="831.6" cy="756.3" r="4.5"/><circle cx="800.1" cy="758.4" r="4.5"/><circle cx="894" cy="827.9" r="4.5"/><circle cx="805.8" cy="657.9" r="4.5"/><circle cx="850.6" cy="666.1" r="4.5"/><circle cx="843.4" cy="726" r="4.5"/><circle cx="802.8" cy="615.5" r="4.5"/><circle cx="922.4" cy="691.2" r="4.5"/><circle cx="797" cy="672.6" r="4.5"/><circle cx="799" cy="782.3" r="4.5"/><circle cx="819" cy="652.1" r="4.5"/><circle cx="788.1" cy="621.2" r="4.5"/><circle cx="732.6" cy="724.9" r="4.5"/><circle cx="980.6" cy="653.4" r="4.5"/><circle cx="831.4" cy="668.9" r="4.5"/><circle cx="875.4" cy="687.8" r="4.5"/><circle cx="788.6" cy="665.3" r="4.5"/><circle cx="815.6" cy="747.7" r="4.5"/><circle cx="866.8" cy="797.6" r="4.5"/><circle cx="801.1" cy="789.1" r="4.5"/><circle cx="968.4" cy="668.7" r="4.5"/><circle cx="829.4" cy="825.9" r="4.5"/><circle cx="854.2" cy="820.9" r="4.5"/><circle cx="787.7" cy="663.8" r="4.5"/><circle cx="866.6" cy="837.4" r="4.5"/><circle cx="780.1" cy="780.1" r="4.5"/><circle cx="894.5" cy="733.3" r="4.5"/><circle cx="930.1" cy="623.1" r="4.5"/><circle cx="836.6" cy="705.4" r="4.5"/><circle cx="921.9" cy="620.1" r="4.5"/><circle cx="832.4" cy="771.6" r="4.5"/><circle cx="787.8" cy="656.2" r="4.5"/><circle cx="924.9" cy="662" r="4.5"/><circle cx="843.6" cy="759.8" r="4.5"/><circle cx="911.4" cy="687.1" r="4.5"/><circle cx="874.2" cy="827.4" r="4.5"/><circle cx="868.1" cy="637.8" r="4.5"/><circle cx="1022.6" cy="621.1" r="4.5"/><circle cx="865.7" cy="714.6" r="4.5"/><circle cx="874.3" cy="625.8" r="4.5"/><circle cx="827.9" cy="809.1" r="4.5"/><circle cx="934.8" cy="623.2" r="4.5"/><circle cx="828.8" cy="757" r="4.5"/><circle cx="885.9" cy="657.3" r="4.5"/><circle cx="853.6" cy="687.6" r="4.5"/><circle cx="872.7" cy="750.3" r="4.5"/><circle cx="750.1" cy="728.3" r="4.5"/><circle cx="826.2" cy="700.6" r="4.5"/><circle cx="845.1" cy="688.3" r="4.5"/><circle cx="882.6" cy="693.3" r="4.5"/><circle cx="915.7" cy="665.8" r="4.5"/><circle cx="860.9" cy="784.4" r="4.5"/><circle cx="942.2" cy="826" r="4.5"/><circle cx="927.6" cy="616.8" r="4.5"/><circle cx="1030.1" cy="686.6" r="4.5"/><circle cx="842" cy="764.9" r="4.5"/><circle cx="857.9" cy="627.9" r="4.5"/><circle cx="835.1" cy="710.5" r="4.5"/><circle cx="820.4" cy="764.3" r="4.5"/><circle cx="888.5" cy="652.7" r="4.5"/><circle cx="844.9" cy="680.6" r="4.5"/><circle cx="853.1" cy="621.1" r="4.5"/><circle cx="931.9" cy="650.5" r="4.5"/><circle cx="927.1" cy="697.9" r="4.5"/><circle cx="819" cy="645.3" r="4.5"/><circle cx="758.3" cy="647.6" r="4.5"/><circle cx="959.3" cy="785.7" r="4.5"/><circle cx="742.7" cy="621.8" r="4.5"/><circle cx="819.5" cy="743.5" r="4.5"/><circle cx="974.5" cy="777.5" r="4.5"/><circle cx="910.4" cy="762.5" r="4.5"/><circle cx="812.1" cy="644" r="4.5"/><circle cx="824.4" cy="840.5" r="4.5"/><circle cx="822.2" cy="650.6" r="4.5"/><circle cx="879.2" cy="760.3" r="4.5"/><circle cx="952.3" cy="643.3" r="4.5"/><circle cx="887.1" cy="739.7" r="4.5"/><circle cx="790.1" cy="717.4" r="4.5"/><circle cx="836.3" cy="721.5" r="4.5"/><circle cx="964.6" cy="757.4" r="4.5"/><circle cx="845.9" cy="625.9" r="4.5"/><circle cx="854.7" cy="672.7" r="4.5"/><circle cx="815.8" cy="612.4" r="4.5"/><circle cx="827.1" cy="645.3" r="4.5"/><circle cx="877.3" cy="745.4" r="4.5"/><circle cx="882.8" cy="668.9" r="4.5"/><circle cx="984.8" cy="632.1" r="4.5"/><circle cx="790.9" cy="787.6" r="4.5"/><circle cx="892.1" cy="679.4" r="4.5"/><circle cx="928.1" cy="623.8" r="4.5"/><circle cx="856.9" cy="647.5" r="4.5"/><circle cx="806.3" cy="718.1" r="4.5"/><circle cx="897.4" cy="651.9" r="4.5"/><circle cx="958.5" cy="617.2" r="4.5"/><circle cx="943.2" cy="696" r="4.5"/><circle cx="870.5" cy="639.3" r="4.5"/><circle cx="921.1" cy="618.9" r="4.5"/><circle cx="812.3" cy="677.4" r="4.5"/><circle cx="813.6" cy="639.2" r="4.5"/><circle cx="834.4" cy="633.9" r="4.5"/><circle cx="914.5" cy="747.8" r="4.5"/><circle cx="957.5" cy="606.7" r="4.5"/><circle cx="853.2" cy="839.1" r="4.5"/><circle cx="860.7" cy="726" r="4.5"/><circle cx="892.5" cy="730.7" r="4.5"/><circle cx="963.7" cy="655.2" r="4.5"/><circle cx="943" cy="621" r="4.5"/><circle cx="794.8" cy="776.7" r="4.5"/><circle cx="875.8" cy="751" r="4.5"/><circle cx="834.2" cy="671.5" r="4.5"/><circle cx="862.5" cy="779.7" r="4.5"/><circle cx="877.9" cy="825.7" r="4.5"/><circle cx="948.9" cy="813.3" r="4.5"/><circle cx="811.7" cy="605.8" r="4.5"/><circle cx="919.2" cy="679.3" r="4.5"/><circle cx="882.6" cy="725.7" r="4.5"/><circle cx="878.8" cy="727.3" r="4.5"/><circle cx="852.7" cy="633.2" r="4.5"/><circle cx="842" cy="635.7" r="4.5"/><circle cx="827.2" cy="729.3" r="4.5"/><circle cx="825.4" cy="682.6" r="4.5"/><circle cx="856.1" cy="732.7" r="4.5"/><circle cx="774.5" cy="721.8" r="4.5"/><circle cx="788.1" cy="679.9" r="4.5"/><circle cx="774.9" cy="736.4" r="4.5"/><circle cx="857.4" cy="608.6" r="4.5"/><circle cx="948.4" cy="640.5" r="4.5"/><circle cx="762.3" cy="752.6" r="4.5"/><circle cx="817" cy="747" r="4.5"/><circle cx="745.2" cy="821" r="4.5"/><circle cx="843.3" cy="702.8" r="4.5"/><circle cx="830.2" cy="805.1" r="4.5"/><circle cx="853.7" cy="835.9" r="4.5"/><circle cx="806.7" cy="783.2" r="4.5"/><circle cx="864.8" cy="683.5" r="4.5"/><circle cx="852.9" cy="798.5" r="4.5"/><circle cx="808.3" cy="661.7" r="4.5"/><circle cx="831.6" cy="726.6" r="4.5"/><circle cx="868.3" cy="702.4" r="4.5"/><circle cx="880.3" cy="782.9" r="4.5"/><circle cx="891.4" cy="783.4" r="4.5"/><circle cx="815.2" cy="683.9" r="4.5"/><circle cx="909.6" cy="738.5" r="4.5"/><circle cx="784.1" cy="826.6" r="4.5"/><circle cx="945.3" cy="753.3" r="4.5"/><circle cx="862.2" cy="813.9" r="4.5"/><circle cx="862" cy="841.8" r="4.5"/><circle cx="816.1" cy="757.7" r="4.5"/><circle cx="1018.5" cy="623.6" r="4.5"/><circle cx="813.1" cy="792.6" r="4.5"/><circle cx="787.7" cy="766.6" r="4.5"/><circle cx="841.8" cy="774.2" r="4.5"/><circle cx="753.1" cy="718.6" r="4.5"/><circle cx="958" cy="803.4" r="4.5"/><circle cx="852.8" cy="808.6" r="4.5"/><circle cx="824.6" cy="825.4" r="4.5"/><circle cx="977.9" cy="605.9" r="4.5"/><circle cx="813.7" cy="804.8" r="4.5"/><circle cx="883.8" cy="822.8" r="4.5"/><circle cx="850.7" cy="782.5" r="4.5"/><circle cx="915.5" cy="739.7" r="4.5"/><circle cx="857.6" cy="747.9" r="4.5"/><circle cx="844.3" cy="612.1" r="4.5"/><circle cx="956.3" cy="651" r="4.5"/><circle cx="810.7" cy="622.6" r="4.5"/><circle cx="900.9" cy="758.9" r="4.5"/><circle cx="916.4" cy="613.8" r="4.5"/><circle cx="838.7" cy="676.1" r="4.5"/><circle cx="812.5" cy="619.8" r="4.5"/><circle cx="898.1" cy="741.5" r="4.5"/><circle cx="823.1" cy="775.5" r="4.5"/><circle cx="828.1" cy="815.2" r="4.5"/><circle cx="896.3" cy="631" r="4.5"/><circle cx="933.6" cy="638.9" r="4.5"/><circle cx="948.2" cy="654.2" r="4.5"/><circle cx="908.3" cy="697.5" r="4.5"/><circle cx="869.2" cy="613" r="4.5"/><circle cx="898.2" cy="760.4" r="4.5"/><circle cx="951.7" cy="838.6" r="4.5"/><circle cx="815.6" cy="727.1" r="4.5"/><circle cx="914.6" cy="668" r="4.5"/><circle cx="1047.8" cy="681.6" r="4.5"/><circle cx="789.3" cy="722.8" r="4.5"/><circle cx="787.8" cy="794.2" r="4.5"/><circle cx="802.7" cy="844.4" r="4.5"/><circle cx="895.2" cy="769.7" r="4.5"/><circle cx="828.7" cy="610.3" r="4.5"/><circle cx="863.8" cy="615.8" r="4.5"/><circle cx="847" cy="730.4" r="4.5"/><circle cx="885.1" cy="619.3" r="4.5"/><circle cx="788.2" cy="772.4" r="4.5"/><circle cx="904.8" cy="781.6" r="4.5"/><circle cx="804.6" cy="826.8" r="4.5"/><circle cx="964.4" cy="627.2" r="4.5"/><circle cx="783.6" cy="729.7" r="4.5"/><circle cx="777.4" cy="641.1" r="4.5"/><circle cx="847.4" cy="756.3" r="4.5"/><circle cx="854.2" cy="628.7" r="4.5"/><circle cx="795.3" cy="779.7" r="4.5"/><circle cx="872.7" cy="832.5" r="4.5"/><circle cx="820.2" cy="658.1" r="4.5"/><circle cx="807.3" cy="748.4" r="4.5"/><circle cx="875.3" cy="677.8" r="4.5"/><circle cx="965.9" cy="611" r="4.5"/><circle cx="855.2" cy="797.7" r="4.5"/><circle cx="803.9" cy="698.1" r="4.5"/><circle cx="780.2" cy="687.8" r="4.5"/><circle cx="1011" cy="682.4" r="4.5"/><circle cx="1007.3" cy="631.9" r="4.5"/><circle cx="852.9" cy="798.5" r="4.5"/><circle cx="829.9" cy="630.4" r="4.5"/><circle cx="819.9" cy="636.1" r="4.5"/><circle cx="857.2" cy="756.8" r="4.5"/><circle cx="898.7" cy="647.5" r="4.5"/><circle cx="901.2" cy="688.4" r="4.5"/><circle cx="842.6" cy="809.6" r="4.5"/><circle cx="818.8" cy="720.4" r="4.5"/><circle cx="755.2" cy="680.1" r="4.5"/><circle cx="930" cy="660.6" r="4.5"/><circle cx="764.7" cy="833.8" r="4.5"/><circle cx="868.8" cy="666.1" r="4.5"/><circle cx="921.9" cy="767.9" r="4.5"/><circle cx="900.9" cy="724.4" r="4.5"/><circle cx="913.8" cy="730.9" r="4.5"/><circle cx="872.8" cy="662.2" r="4.5"/><circle cx="808.3" cy="751.1" r="4.5"/><circle cx="953.6" cy="623.2" r="4.5"/><circle cx="840.1" cy="695" r="4.5"/><circle cx="922.9" cy="694.1" r="4.5"/><circle cx="859.7" cy="733.8" r="4.5"/><circle cx="860.1" cy="781.7" r="4.5"/><circle cx="777.6" cy="613.1" r="4.5"/><circle cx="843.9" cy="785.1" r="4.5"/><circle cx="853.7" cy="647.8" r="4.5"/><circle cx="731.1" cy="789.6" r="4.5"/><circle cx="879.2" cy="612.9" r="4.5"/><circle cx="858.4" cy="779.4" r="4.5"/><circle cx="872.9" cy="712.3" r="4.5"/><circle cx="939.8" cy="626.7" r="4.5"/><circle cx="1014.3" cy="610.6" r="4.5"/><circle cx="879.8" cy="736.3" r="4.5"/><circle cx="825" cy="736.4" r="4.5"/><circle cx="837.1" cy="815.1" r="4.5"/><circle cx="800.6" cy="719.3" r="4.5"/><circle cx="791.6" cy="743.7" r="4.5"/><circle cx="887.1" cy="769.6" r="4.5"/><circle cx="947.3" cy="738.5" r="4.5"/><circle cx="778.4" cy="714.2" r="4.5"/><circle cx="783.4" cy="612.9" r="4.5"/><circle cx="997.3" cy="616.1" r="4.5"/><circle cx="727.1" cy="757.9" r="4.5"/><circle cx="905.7" cy="804.2" r="4.5"/><circle cx="856.8" cy="682.1" r="4.5"/><circle cx="877.4" cy="615.2" r="4.5"/><circle cx="823.3" cy="754.5" r="4.5"/><circle cx="874.7" cy="608.9" r="4.5"/><circle cx="923.3" cy="606" r="4.5"/><circle cx="905.5" cy="676.4" r="4.5"/><circle cx="945.4" cy="769.3" r="4.5"/><circle cx="847.6" cy="703.2" r="4.5"/><circle cx="942.8" cy="761" r="4.5"/><circle cx="905.9" cy="684.3" r="4.5"/><circle cx="888.7" cy="694.8" r="4.5"/><circle cx="936.9" cy="622.5" r="4.5"/><circle cx="732.8" cy="835.2" r="4.5"/><circle cx="833.4" cy="710.2" r="4.5"/><circle cx="916.2" cy="759.9" r="4.5"/><circle cx="757.2" cy="733" r="4.5"/><circle cx="848.5" cy="634.5" r="4.5"/><circle cx="851" cy="664" r="4.5"/><circle cx="965.1" cy="629.3" r="4.5"/><circle cx="823.2" cy="607.3" r="4.5"/><circle cx="812.9" cy="768.7" r="4.5"/><circle cx="821.9" cy="719.5" r="4.5"/><circle cx="852" cy="692.4" r="4.5"/><circle cx="808.6" cy="608.1" r="4.5"/><circle cx="946.9" cy="651.2" r="4.5"/><circle cx="913.7" cy="844.3" r="4.5"/><circle cx="838.7" cy="727.8" r="4.5"/><circle cx="982.8" cy="708" r="4.5"/><circle cx="900.5" cy="759.8" r="4.5"/><circle cx="809.3" cy="654.1" r="4.5"/><circle cx="881.9" cy="819.9" r="4.5"/><circle cx="900.5" cy="663.7" r="4.5"/><circle cx="832.3" cy="688.8" r="4.5"/><circle cx="847.3" cy="670.4" r="4.5"/><circle cx="832.1" cy="603.9" r="4.5"/><circle cx="875.2" cy="817.2" r="4.5"/><circle cx="869.1" cy="750.9" r="4.5"/><circle cx="898.6" cy="776.8" r="4.5"/><circle cx="742.2" cy="641.1" r="4.5"/><circle cx="892.1" cy="747.6" r="4.5"/><circle cx="948.7" cy="685.5" r="4.5"/><circle cx="878.1" cy="639.4" r="4.5"/><circle cx="874.6" cy="710.2" r="4.5"/><circle cx="728.5" cy="746.4" r="4.5"/><circle cx="892.2" cy="697.7" r="4.5"/><circle cx="793.7" cy="733.2" r="4.5"/><circle cx="892.5" cy="721.7" r="4.5"/><circle cx="851" cy="709.3" r="4.5"/><circle cx="771.2" cy="750" r="4.5"/><circle cx="882.1" cy="800.9" r="4.5"/><circle cx="729.9" cy="729.3" r="4.5"/><circle cx="866.7" cy="662.8" r="4.5"/><circle cx="843.9" cy="608.3" r="4.5"/><circle cx="864.1" cy="842.8" r="4.5"/><circle cx="823.2" cy="667.7" r="4.5"/><circle cx="952.1" cy="690.3" r="4.5"/><circle cx="882.6" cy="682" r="4.5"/><circle cx="814.8" cy="624.4" r="4.5"/><circle cx="866.9" cy="629.6" r="4.5"/><circle cx="943.6" cy="603.6" r="4.5"/><circle cx="865.3" cy="842.9" r="4.5"/><circle cx="927.5" cy="604.3" r="4.5"/><circle cx="957.1" cy="630.6" r="4.5"/><circle cx="871.2" cy="607.7" r="4.5"/><circle cx="852.7" cy="788.2" r="4.5"/><circle cx="779.6" cy="690.2" r="4.5"/><circle cx="830.9" cy="627.7" r="4.5"/><circle cx="1021.4" cy="720.7" r="4.5"/><circle cx="830.4" cy="650.8" r="4.5"/><circle cx="800" cy="772.8" r="4.5"/><circle cx="847.6" cy="778.2" r="4.5"/><circle cx="958.1" cy="655.3" r="4.5"/><circle cx="765.2" cy="705.5" r="4.5"/><circle cx="755.8" cy="726.3" r="4.5"/><circle cx="963" cy="609.2" r="4.5"/><circle cx="971.1" cy="719.3" r="4.5"/><circle cx="763" cy="733.6" r="4.5"/><circle cx="864.6" cy="661.5" r="4.5"/><circle cx="849.1" cy="633.4" r="4.5"/><circle cx="910.4" cy="611.7" r="4.5"/><circle cx="844.3" cy="824.7" r="4.5"/><circle cx="833.5" cy="676.1" r="4.5"/><circle cx="919.2" cy="789.2" r="4.5"/><circle cx="831.9" cy="729.1" r="4.5"/><circle cx="864.9" cy="797.4" r="4.5"/><circle cx="928.3" cy="610.7" r="4.5"/><circle cx="959.2" cy="736.9" r="4.5"/><circle cx="944.6" cy="694.8" r="4.5"/><circle cx="750.5" cy="735.2" r="4.5"/><circle cx="845" cy="771.3" r="4.5"/><circle cx="852.5" cy="718.9" r="4.5"/><circle cx="826.2" cy="793.9" r="4.5"/><circle cx="846" cy="820.1" r="4.5"/><circle cx="871.6" cy="678" r="4.5"/><circle cx="862.5" cy="791.2" r="4.5"/><circle cx="858.9" cy="660.1" r="4.5"/><circle cx="872.7" cy="760.5" r="4.5"/><circle cx="852.7" cy="801.6" r="4.5"/><circle cx="979.8" cy="610.8" r="4.5"/><circle cx="927.7" cy="829.6" r="4.5"/><circle cx="784.6" cy="840.5" r="4.5"/><circle cx="858.3" cy="622.8" r="4.5"/><circle cx="944.4" cy="628" r="4.5"/><circle cx="913" cy="651.7" r="4.5"/><circle cx="827.3" cy="791.7" r="4.5"/><circle cx="883.4" cy="684.7" r="4.5"/><circle cx="1004.2" cy="634.5" r="4.5"/><circle cx="763.8" cy="614.9" r="4.5"/><circle cx="782" cy="633" r="4.5"/><circle cx="955.1" cy="632.4" r="4.5"/><circle cx="898.8" cy="689.2" r="4.5"/><circle cx="835" cy="816.7" r="4.5"/><circle cx="796.6" cy="635.2" r="4.5"/><circle cx="818.5" cy="760.1" r="4.5"/><circle cx="867.1" cy="701.6" r="4.5"/><circle cx="848.5" cy="696.2" r="4.5"/><circle cx="817.2" cy="715.8" r="4.5"/><circle cx="793.4" cy="714.7" r="4.5"/>
</g>
<g class="pg">
<circle cx="858.5" cy="520.9" r="4.5"/><circle cx="955" cy="519.1" r="4.5"/><circle cx="886.4" cy="589" r="4.5"/><circle cx="864.5" cy="534.1" r="4.5"/><circle cx="817.6" cy="543.9" r="4.5"/><circle cx="980.3" cy="579.2" r="4.5"/><circle cx="801.4" cy="593.3" r="4.5"/><circle cx="880.4" cy="503.1" r="4.5"/><circle cx="1021.1" cy="578.9" r="4.5"/><circle cx="952.1" cy="534.5" r="4.5"/><circle cx="865.8" cy="555.3" r="4.5"/><circle cx="880.3" cy="548.6" r="4.5"/><circle cx="914.7" cy="574.7" r="4.5"/><circle cx="885.1" cy="595.8" r="4.5"/><circle cx="942" cy="501.4" r="4.5"/><circle cx="966.2" cy="587.7" r="4.5"/><circle cx="1036" cy="522.6" r="4.5"/><circle cx="766.4" cy="522" r="4.5"/><circle cx="869.7" cy="525" r="4.5"/><circle cx="859.9" cy="554.5" r="4.5"/><circle cx="913.7" cy="583.3" r="4.5"/><circle cx="818.4" cy="500.7" r="4.5"/><circle cx="883.7" cy="520.5" r="4.5"/><circle cx="799" cy="531.5" r="4.5"/><circle cx="957.3" cy="581.7" r="4.5"/><circle cx="763.7" cy="580.3" r="4.5"/><circle cx="970.7" cy="591.3" r="4.5"/><circle cx="884.2" cy="577.5" r="4.5"/><circle cx="758.3" cy="574.7" r="4.5"/><circle cx="1121.7" cy="536" r="4.5"/><circle cx="764.3" cy="600.1" r="4.5"/><circle cx="839.2" cy="522.2" r="4.5"/><circle cx="879.8" cy="551.3" r="4.5"/><circle cx="896.9" cy="543.7" r="4.5"/><circle cx="762.3" cy="586.1" r="4.5"/><circle cx="767.2" cy="562.8" r="4.5"/><circle cx="822.9" cy="502.9" r="4.5"/><circle cx="1018.2" cy="517.6" r="4.5"/><circle cx="809.9" cy="508.9" r="4.5"/><circle cx="835.1" cy="542.7" r="4.5"/><circle cx="1009.5" cy="574" r="4.5"/><circle cx="854.5" cy="509.8" r="4.5"/><circle cx="775.8" cy="578.6" r="4.5"/><circle cx="948.1" cy="584.1" r="4.5"/><circle cx="871" cy="560.3" r="4.5"/><circle cx="918.6" cy="572.6" r="4.5"/><circle cx="830" cy="521.8" r="4.5"/><circle cx="915.6" cy="501" r="4.5"/><circle cx="904.9" cy="574.2" r="4.5"/><circle cx="921.2" cy="573.3" r="4.5"/><circle cx="903.7" cy="526" r="4.5"/><circle cx="938.5" cy="526.4" r="4.5"/><circle cx="909.3" cy="593.3" r="4.5"/><circle cx="896.3" cy="591.4" r="4.5"/><circle cx="835.4" cy="570.1" r="4.5"/><circle cx="831.5" cy="588.1" r="4.5"/><circle cx="873.7" cy="514.5" r="4.5"/><circle cx="796.3" cy="580.8" r="4.5"/><circle cx="843.9" cy="515.1" r="4.5"/><circle cx="740.4" cy="586.1" r="4.5"/><circle cx="812.8" cy="570.9" r="4.5"/><circle cx="853.1" cy="574.1" r="4.5"/><circle cx="836.8" cy="576.7" r="4.5"/><circle cx="852.8" cy="504.1" r="4.5"/><circle cx="908.9" cy="574.3" r="4.5"/><circle cx="927.2" cy="567.3" r="4.5"/><circle cx="770.1" cy="543.1" r="4.5"/><circle cx="852.1" cy="540.1" r="4.5"/><circle cx="913.5" cy="587.2" r="4.5"/><circle cx="790" cy="525.9" r="4.5"/><circle cx="759.7" cy="557.3" r="4.5"/><circle cx="935.6" cy="554.6" r="4.5"/><circle cx="1174.4" cy="552.2" r="4.5"/><circle cx="932.9" cy="557.5" r="4.5"/><circle cx="895" cy="574" r="4.5"/><circle cx="943.4" cy="570.7" r="4.5"/><circle cx="767.1" cy="579.3" r="4.5"/><circle cx="898.7" cy="556" r="4.5"/><circle cx="839.2" cy="540.2" r="4.5"/><circle cx="962.8" cy="537.6" r="4.5"/><circle cx="900.8" cy="556.9" r="4.5"/><circle cx="833.6" cy="595.7" r="4.5"/><circle cx="919" cy="522.2" r="4.5"/><circle cx="817.4" cy="536.3" r="4.5"/><circle cx="806.7" cy="573.3" r="4.5"/><circle cx="880.3" cy="590.5" r="4.5"/><circle cx="965.5" cy="540.9" r="4.5"/><circle cx="942" cy="524.9" r="4.5"/><circle cx="933.9" cy="519.2" r="4.5"/><circle cx="862.4" cy="587.6" r="4.5"/><circle cx="881.2" cy="545.5" r="4.5"/><circle cx="924.1" cy="574.1" r="4.5"/><circle cx="822.3" cy="515.1" r="4.5"/><circle cx="780.7" cy="501.4" r="4.5"/><circle cx="867.7" cy="507.6" r="4.5"/><circle cx="850.4" cy="586.3" r="4.5"/><circle cx="902.8" cy="520.3" r="4.5"/><circle cx="862.4" cy="560.4" r="4.5"/><circle cx="925.2" cy="596.8" r="4.5"/><circle cx="753.8" cy="553.3" r="4.5"/><circle cx="963.7" cy="544.7" r="4.5"/><circle cx="988.1" cy="529.6" r="4.5"/><circle cx="985.4" cy="566.4" r="4.5"/><circle cx="945.7" cy="546.6" r="4.5"/><circle cx="817.9" cy="552.4" r="4.5"/><circle cx="851.1" cy="520.5" r="4.5"/><circle cx="831.8" cy="514.1" r="4.5"/><circle cx="835.2" cy="558.1" r="4.5"/><circle cx="860.5" cy="523.5" r="4.5"/><circle cx="895.7" cy="504.7" r="4.5"/><circle cx="820.8" cy="545.3" r="4.5"/><circle cx="806.9" cy="540.4" r="4.5"/><circle cx="912.6" cy="514.6" r="4.5"/><circle cx="847.5" cy="592.7" r="4.5"/><circle cx="1116.4" cy="590.5" r="4.5"/><circle cx="879.2" cy="600.6" r="4.5"/><circle cx="838.2" cy="512.6" r="4.5"/><circle cx="742.6" cy="517.8" r="4.5"/><circle cx="801.9" cy="561.5" r="4.5"/><circle cx="872.4" cy="537.8" r="4.5"/><circle cx="950.5" cy="554.1" r="4.5"/><circle cx="858.5" cy="599.4" r="4.5"/><circle cx="975" cy="545.4" r="4.5"/><circle cx="830.9" cy="575" r="4.5"/><circle cx="825.8" cy="527.2" r="4.5"/><circle cx="940.9" cy="592.8" r="4.5"/><circle cx="908" cy="526.7" r="4.5"/><circle cx="885.5" cy="500.9" r="4.5"/><circle cx="901.4" cy="544.7" r="4.5"/><circle cx="823.2" cy="592.9" r="4.5"/><circle cx="747.6" cy="502.4" r="4.5"/><circle cx="865.5" cy="556.7" r="4.5"/><circle cx="807.8" cy="598.9" r="4.5"/><circle cx="832.4" cy="514.9" r="4.5"/><circle cx="883" cy="501.8" r="4.5"/><circle cx="776.1" cy="508.8" r="4.5"/><circle cx="883.3" cy="507.1" r="4.5"/><circle cx="890.6" cy="516.3" r="4.5"/><circle cx="970.4" cy="538.1" r="4.5"/><circle cx="791.3" cy="504" r="4.5"/><circle cx="808.6" cy="505.9" r="4.5"/><circle cx="848.6" cy="575" r="4.5"/><circle cx="959.9" cy="560.2" r="4.5"/><circle cx="963.9" cy="524.2" r="4.5"/><circle cx="915.3" cy="501.2" r="4.5"/><circle cx="838.6" cy="584.9" r="4.5"/><circle cx="879.6" cy="534.7" r="4.5"/><circle cx="913.1" cy="599.2" r="4.5"/><circle cx="862.2" cy="594.6" r="4.5"/><circle cx="821.3" cy="531.8" r="4.5"/><circle cx="855.2" cy="566.1" r="4.5"/><circle cx="802.8" cy="509.9" r="4.5"/><circle cx="877.7" cy="500.3" r="4.5"/><circle cx="851.3" cy="584.5" r="4.5"/><circle cx="866.4" cy="574" r="4.5"/><circle cx="951.9" cy="583" r="4.5"/><circle cx="818.2" cy="502.9" r="4.5"/><circle cx="893.4" cy="536.9" r="4.5"/><circle cx="1108.7" cy="510.5" r="4.5"/><circle cx="840.2" cy="538" r="4.5"/><circle cx="872.5" cy="593.6" r="4.5"/><circle cx="892.6" cy="594.8" r="4.5"/><circle cx="842.8" cy="569.7" r="4.5"/><circle cx="850.6" cy="522" r="4.5"/><circle cx="916" cy="531.9" r="4.5"/><circle cx="874.8" cy="531.7" r="4.5"/><circle cx="965.3" cy="549.8" r="4.5"/><circle cx="808.2" cy="565.3" r="4.5"/><circle cx="774.6" cy="506.8" r="4.5"/><circle cx="895" cy="539.6" r="4.5"/><circle cx="852" cy="579.1" r="4.5"/><circle cx="976.8" cy="515.7" r="4.5"/><circle cx="828.9" cy="539.6" r="4.5"/><circle cx="829.1" cy="553.9" r="4.5"/><circle cx="827.3" cy="547.1" r="4.5"/><circle cx="1081.2" cy="570.8" r="4.5"/><circle cx="906.5" cy="524.7" r="4.5"/><circle cx="897" cy="542.4" r="4.5"/><circle cx="934.4" cy="595.3" r="4.5"/><circle cx="880.3" cy="586" r="4.5"/><circle cx="825.6" cy="510.3" r="4.5"/><circle cx="777.9" cy="577.2" r="4.5"/><circle cx="829.1" cy="539.4" r="4.5"/><circle cx="918.7" cy="529" r="4.5"/><circle cx="808.2" cy="512.5" r="4.5"/><circle cx="968.6" cy="558.9" r="4.5"/><circle cx="851.1" cy="585.1" r="4.5"/><circle cx="819" cy="580.8" r="4.5"/><circle cx="874.8" cy="501.2" r="4.5"/><circle cx="894.9" cy="534.4" r="4.5"/><circle cx="775.9" cy="525.5" r="4.5"/><circle cx="781.9" cy="587.5" r="4.5"/><circle cx="762" cy="541.9" r="4.5"/><circle cx="815" cy="554.7" r="4.5"/><circle cx="824.4" cy="561.8" r="4.5"/><circle cx="863.6" cy="515.2" r="4.5"/><circle cx="783" cy="568" r="4.5"/><circle cx="867.4" cy="549.4" r="4.5"/><circle cx="928" cy="520.8" r="4.5"/><circle cx="829.1" cy="553.9" r="4.5"/><circle cx="976.8" cy="580.2" r="4.5"/><circle cx="815.3" cy="503.7" r="4.5"/><circle cx="792.9" cy="548.9" r="4.5"/><circle cx="830.2" cy="543.6" r="4.5"/><circle cx="1062.3" cy="571.4" r="4.5"/><circle cx="788.4" cy="564.3" r="4.5"/><circle cx="835" cy="566.7" r="4.5"/><circle cx="962.2" cy="584" r="4.5"/><circle cx="938.4" cy="512.1" r="4.5"/><circle cx="1010.3" cy="548.7" r="4.5"/><circle cx="826.8" cy="598.6" r="4.5"/><circle cx="853.1" cy="502" r="4.5"/><circle cx="798.6" cy="570.5" r="4.5"/><circle cx="769.9" cy="506.4" r="4.5"/><circle cx="877" cy="512.4" r="4.5"/><circle cx="834.9" cy="515.3" r="4.5"/><circle cx="977.5" cy="558.1" r="4.5"/><circle cx="865.1" cy="579.7" r="4.5"/><circle cx="787.8" cy="526.3" r="4.5"/><circle cx="852.8" cy="499.8" r="4.5"/><circle cx="777.4" cy="506" r="4.5"/><circle cx="869.7" cy="555.4" r="4.5"/><circle cx="801.1" cy="524.7" r="4.5"/><circle cx="846.9" cy="544" r="4.5"/><circle cx="792.3" cy="512.7" r="4.5"/><circle cx="850.4" cy="500" r="4.5"/><circle cx="827.8" cy="584.4" r="4.5"/><circle cx="805.7" cy="573.5" r="4.5"/><circle cx="911.6" cy="530.8" r="4.5"/><circle cx="850.3" cy="569.3" r="4.5"/><circle cx="773.3" cy="514.7" r="4.5"/><circle cx="913.3" cy="532.6" r="4.5"/><circle cx="902.9" cy="590.4" r="4.5"/><circle cx="821.4" cy="592.9" r="4.5"/><circle cx="772.4" cy="588" r="4.5"/><circle cx="802.2" cy="515.5" r="4.5"/><circle cx="851.8" cy="545.2" r="4.5"/><circle cx="1020.3" cy="538.5" r="4.5"/><circle cx="795.1" cy="512.5" r="4.5"/><circle cx="995" cy="593.9" r="4.5"/><circle cx="805.1" cy="587.8" r="4.5"/><circle cx="747" cy="595.5" r="4.5"/><circle cx="810.1" cy="596.9" r="4.5"/><circle cx="835.6" cy="503.5" r="4.5"/><circle cx="928.5" cy="570" r="4.5"/><circle cx="780.9" cy="501.4" r="4.5"/><circle cx="909.4" cy="516.2" r="4.5"/><circle cx="820.8" cy="548.1" r="4.5"/><circle cx="752" cy="582.1" r="4.5"/><circle cx="755.1" cy="541.5" r="4.5"/><circle cx="906.3" cy="509" r="4.5"/><circle cx="738.4" cy="525.7" r="4.5"/><circle cx="987.9" cy="571.7" r="4.5"/><circle cx="855.2" cy="599.1" r="4.5"/><circle cx="874" cy="507.6" r="4.5"/><circle cx="878.3" cy="586.2" r="4.5"/><circle cx="785.6" cy="574.3" r="4.5"/><circle cx="760.5" cy="587" r="4.5"/><circle cx="926.3" cy="536.2" r="4.5"/><circle cx="863.9" cy="517.9" r="4.5"/><circle cx="865.4" cy="544.6" r="4.5"/><circle cx="728.5" cy="591.5" r="4.5"/><circle cx="775.3" cy="502.1" r="4.5"/><circle cx="853.7" cy="556.9" r="4.5"/><circle cx="1085.2" cy="551.3" r="4.5"/><circle cx="764.3" cy="529.5" r="4.5"/><circle cx="954.4" cy="539.8" r="4.5"/><circle cx="774.5" cy="593.5" r="4.5"/><circle cx="841.9" cy="500.5" r="4.5"/><circle cx="906.1" cy="568.4" r="4.5"/><circle cx="875.3" cy="563.7" r="4.5"/><circle cx="866.7" cy="536.1" r="4.5"/><circle cx="811" cy="502.5" r="4.5"/><circle cx="773.3" cy="514.7" r="4.5"/><circle cx="840.9" cy="502.1" r="4.5"/><circle cx="869.5" cy="531.7" r="4.5"/><circle cx="884.5" cy="549.3" r="4.5"/><circle cx="869.7" cy="581.6" r="4.5"/><circle cx="809.9" cy="526.5" r="4.5"/><circle cx="889.5" cy="551.3" r="4.5"/><circle cx="756.5" cy="549.4" r="4.5"/><circle cx="980.9" cy="502.7" r="4.5"/><circle cx="977.2" cy="559.6" r="4.5"/><circle cx="1058.5" cy="515" r="4.5"/><circle cx="802" cy="579.4" r="4.5"/><circle cx="859" cy="508.8" r="4.5"/><circle cx="924.8" cy="544.6" r="4.5"/><circle cx="838.8" cy="592.1" r="4.5"/><circle cx="924.3" cy="554.1" r="4.5"/><circle cx="891.8" cy="566.3" r="4.5"/><circle cx="1149.2" cy="573.3" r="4.5"/><circle cx="910.6" cy="563.3" r="4.5"/><circle cx="885.9" cy="528.7" r="4.5"/><circle cx="1093.1" cy="586.4" r="4.5"/><circle cx="915.2" cy="501.8" r="4.5"/><circle cx="949.8" cy="535.1" r="4.5"/><circle cx="816.8" cy="519.2" r="4.5"/><circle cx="948.6" cy="514.1" r="4.5"/><circle cx="768.4" cy="542.8" r="4.5"/><circle cx="849.2" cy="562" r="4.5"/><circle cx="897.8" cy="512.4" r="4.5"/><circle cx="825.1" cy="565.2" r="4.5"/><circle cx="943.3" cy="553" r="4.5"/><circle cx="943.5" cy="573.7" r="4.5"/><circle cx="840.9" cy="527.7" r="4.5"/><circle cx="980.2" cy="525" r="4.5"/><circle cx="864.7" cy="552.4" r="4.5"/><circle cx="840.7" cy="517.1" r="4.5"/><circle cx="824.8" cy="551.3" r="4.5"/><circle cx="961" cy="500" r="4.5"/><circle cx="995.6" cy="565.6" r="4.5"/><circle cx="813.7" cy="585.3" r="4.5"/><circle cx="941.9" cy="500.4" r="4.5"/><circle cx="952.7" cy="500.6" r="4.5"/><circle cx="891.1" cy="592.2" r="4.5"/><circle cx="886.6" cy="590.8" r="4.5"/><circle cx="809.3" cy="507.4" r="4.5"/><circle cx="836.9" cy="508" r="4.5"/><circle cx="803.9" cy="514.4" r="4.5"/><circle cx="904.4" cy="549.9" r="4.5"/><circle cx="768.8" cy="591.6" r="4.5"/><circle cx="770.1" cy="591.5" r="4.5"/><circle cx="984.7" cy="505.2" r="4.5"/><circle cx="828.1" cy="555" r="4.5"/><circle cx="884.3" cy="501.6" r="4.5"/><circle cx="827.8" cy="570.6" r="4.5"/><circle cx="863.3" cy="530.5" r="4.5"/><circle cx="916.3" cy="552" r="4.5"/><circle cx="881.9" cy="513.2" r="4.5"/><circle cx="814.1" cy="500.1" r="4.5"/><circle cx="788.1" cy="557.7" r="4.5"/><circle cx="814.6" cy="579.7" r="4.5"/><circle cx="845.5" cy="549.8" r="4.5"/><circle cx="778.8" cy="569.3" r="4.5"/><circle cx="894.1" cy="548.5" r="4.5"/><circle cx="818.8" cy="570.2" r="4.5"/><circle cx="857.3" cy="515.7" r="4.5"/><circle cx="843.5" cy="589.8" r="4.5"/><circle cx="865.5" cy="521.9" r="4.5"/><circle cx="793.2" cy="579" r="4.5"/><circle cx="810.3" cy="580" r="4.5"/><circle cx="966.2" cy="587" r="4.5"/><circle cx="744.2" cy="501.9" r="4.5"/><circle cx="773.8" cy="502.5" r="4.5"/><circle cx="961.1" cy="527.9" r="4.5"/><circle cx="818.9" cy="548.9" r="4.5"/><circle cx="878.5" cy="526.2" r="4.5"/><circle cx="993.8" cy="561.2" r="4.5"/><circle cx="883.5" cy="600.1" r="4.5"/><circle cx="974.5" cy="583.8" r="4.5"/><circle cx="912.4" cy="568.3" r="4.5"/><circle cx="807.7" cy="500.3" r="4.5"/><circle cx="884.5" cy="567.5" r="4.5"/><circle cx="773.8" cy="593" r="4.5"/><circle cx="775.3" cy="580.1" r="4.5"/><circle cx="819.4" cy="574.5" r="4.5"/><circle cx="814.7" cy="598.2" r="4.5"/><circle cx="1123.6" cy="598.8" r="4.5"/><circle cx="877.7" cy="569.7" r="4.5"/><circle cx="798.6" cy="528.9" r="4.5"/><circle cx="898.7" cy="572.3" r="4.5"/><circle cx="891.6" cy="549.2" r="4.5"/><circle cx="841.8" cy="508.1" r="4.5"/><circle cx="809.6" cy="530.3" r="4.5"/><circle cx="873.4" cy="523.5" r="4.5"/><circle cx="867.5" cy="502.9" r="4.5"/><circle cx="869.6" cy="556.7" r="4.5"/><circle cx="955.4" cy="504.1" r="4.5"/><circle cx="966.3" cy="535.8" r="4.5"/><circle cx="1023.2" cy="558.6" r="4.5"/><circle cx="855" cy="536" r="4.5"/><circle cx="833.6" cy="589.2" r="4.5"/><circle cx="775.6" cy="501.4" r="4.5"/><circle cx="803.1" cy="563.9" r="4.5"/><circle cx="851.7" cy="596.7" r="4.5"/><circle cx="878.2" cy="506.8" r="4.5"/><circle cx="868.2" cy="580.5" r="4.5"/><circle cx="924.1" cy="548.1" r="4.5"/><circle cx="779.4" cy="544.5" r="4.5"/><circle cx="960.1" cy="514.8" r="4.5"/><circle cx="980.2" cy="559.5" r="4.5"/><circle cx="758.4" cy="585.2" r="4.5"/><circle cx="802.9" cy="562" r="4.5"/><circle cx="749.9" cy="535.2" r="4.5"/><circle cx="821.5" cy="594.1" r="4.5"/><circle cx="802.5" cy="593.6" r="4.5"/><circle cx="860.5" cy="583.6" r="4.5"/><circle cx="803.3" cy="523.6" r="4.5"/><circle cx="901.5" cy="564.8" r="4.5"/><circle cx="917.2" cy="582.6" r="4.5"/><circle cx="885.3" cy="537.2" r="4.5"/><circle cx="966" cy="568" r="4.5"/><circle cx="840.2" cy="538" r="4.5"/><circle cx="904.3" cy="525.7" r="4.5"/><circle cx="833.4" cy="569" r="4.5"/><circle cx="842.7" cy="501.8" r="4.5"/><circle cx="826.8" cy="564.4" r="4.5"/><circle cx="904.5" cy="528.5" r="4.5"/><circle cx="834.9" cy="510" r="4.5"/><circle cx="852.8" cy="547.1" r="4.5"/><circle cx="826.7" cy="546.8" r="4.5"/><circle cx="770.1" cy="528.7" r="4.5"/><circle cx="803.2" cy="553.1" r="4.5"/><circle cx="891.6" cy="509.6" r="4.5"/><circle cx="782.9" cy="599.8" r="4.5"/><circle cx="862.5" cy="561.1" r="4.5"/><circle cx="819.6" cy="501.1" r="4.5"/><circle cx="760" cy="589.8" r="4.5"/><circle cx="1018.5" cy="535.5" r="4.5"/><circle cx="769.1" cy="540.5" r="4.5"/><circle cx="973.2" cy="503.3" r="4.5"/><circle cx="1052.9" cy="581.5" r="4.5"/><circle cx="929.1" cy="521.9" r="4.5"/><circle cx="915.1" cy="501.7" r="4.5"/><circle cx="903.9" cy="515.4" r="4.5"/><circle cx="755.5" cy="586.5" r="4.5"/><circle cx="949.8" cy="535.1" r="4.5"/><circle cx="788.4" cy="573.8" r="4.5"/><circle cx="976.6" cy="552.1" r="4.5"/><circle cx="894.2" cy="565.3" r="4.5"/><circle cx="861.1" cy="594.2" r="4.5"/><circle cx="838.4" cy="540.5" r="4.5"/><circle cx="843.6" cy="579.1" r="4.5"/><circle cx="776.6" cy="502.7" r="4.5"/><circle cx="911.6" cy="575.1" r="4.5"/><circle cx="788" cy="500.3" r="4.5"/><circle cx="772" cy="571.1" r="4.5"/><circle cx="814.4" cy="502" r="4.5"/><circle cx="846.6" cy="585" r="4.5"/><circle cx="959" cy="578.9" r="4.5"/><circle cx="832.8" cy="501" r="4.5"/><circle cx="1003.2" cy="568.6" r="4.5"/><circle cx="885.5" cy="534.6" r="4.5"/><circle cx="839.7" cy="572.3" r="4.5"/><circle cx="823" cy="541.4" r="4.5"/><circle cx="855.7" cy="566.6" r="4.5"/><circle cx="943.8" cy="595.5" r="4.5"/><circle cx="1072" cy="591.3" r="4.5"/><circle cx="868.4" cy="578.4" r="4.5"/><circle cx="869.6" cy="593.6" r="4.5"/><circle cx="818" cy="573.8" r="4.5"/><circle cx="977.4" cy="548.8" r="4.5"/><circle cx="772" cy="503.3" r="4.5"/><circle cx="873.9" cy="594.5" r="4.5"/><circle cx="827.6" cy="521.5" r="4.5"/><circle cx="896.1" cy="524.2" r="4.5"/><circle cx="810.9" cy="562.6" r="4.5"/><circle cx="786.5" cy="501" r="4.5"/><circle cx="856.5" cy="501" r="4.5"/><circle cx="784.7" cy="502.9" r="4.5"/><circle cx="874.7" cy="580" r="4.5"/><circle cx="951.9" cy="583" r="4.5"/><circle cx="786.5" cy="552" r="4.5"/><circle cx="843.6" cy="555.8" r="4.5"/><circle cx="911.5" cy="600.8" r="4.5"/><circle cx="780.2" cy="523.7" r="4.5"/><circle cx="940.4" cy="600" r="4.5"/><circle cx="918.7" cy="529" r="4.5"/><circle cx="882.6" cy="513.1" r="4.5"/><circle cx="728.3" cy="536" r="4.5"/><circle cx="870.6" cy="514" r="4.5"/><circle cx="932.7" cy="506.3" r="4.5"/><circle cx="866.2" cy="527" r="4.5"/><circle cx="801.4" cy="505.2" r="4.5"/><circle cx="828.5" cy="595.5" r="4.5"/><circle cx="787.4" cy="523.9" r="4.5"/><circle cx="821.9" cy="545.2" r="4.5"/><circle cx="883.7" cy="556.6" r="4.5"/><circle cx="913" cy="531.3" r="4.5"/><circle cx="982.4" cy="513.8" r="4.5"/><circle cx="817" cy="504.3" r="4.5"/><circle cx="904.5" cy="531.2" r="4.5"/><circle cx="794" cy="565.6" r="4.5"/><circle cx="1011.1" cy="518.7" r="4.5"/><circle cx="821.3" cy="586.7" r="4.5"/><circle cx="958.3" cy="521.6" r="4.5"/><circle cx="819.6" cy="551.9" r="4.5"/><circle cx="768.6" cy="503.6" r="4.5"/><circle cx="896.6" cy="510.7" r="4.5"/><circle cx="953.1" cy="557.4" r="4.5"/><circle cx="771.5" cy="590.3" r="4.5"/><circle cx="945.2" cy="509.4" r="4.5"/><circle cx="849.4" cy="520.3" r="4.5"/><circle cx="787.3" cy="510.9" r="4.5"/><circle cx="866.3" cy="549.2" r="4.5"/><circle cx="811.4" cy="504.9" r="4.5"/><circle cx="1149.7" cy="522.6" r="4.5"/><circle cx="866.8" cy="513.7" r="4.5"/><circle cx="773.4" cy="502.7" r="4.5"/><circle cx="870.4" cy="523.5" r="4.5"/><circle cx="807.8" cy="598.9" r="4.5"/><circle cx="880.4" cy="551.5" r="4.5"/><circle cx="797.5" cy="563.3" r="4.5"/><circle cx="869.9" cy="531.5" r="4.5"/><circle cx="785.4" cy="517.9" r="4.5"/><circle cx="789.8" cy="518.5" r="4.5"/><circle cx="852.5" cy="500.4" r="4.5"/><circle cx="778.5" cy="564.2" r="4.5"/><circle cx="963.1" cy="563.3" r="4.5"/><circle cx="910.8" cy="503.2" r="4.5"/><circle cx="984.8" cy="515.7" r="4.5"/><circle cx="937.8" cy="529.8" r="4.5"/><circle cx="820.7" cy="515.2" r="4.5"/><circle cx="792.5" cy="535.6" r="4.5"/><circle cx="997.8" cy="580.9" r="4.5"/><circle cx="881" cy="596.6" r="4.5"/><circle cx="787.2" cy="534.4" r="4.5"/><circle cx="888.4" cy="521.5" r="4.5"/><circle cx="890.1" cy="518.4" r="4.5"/><circle cx="849.8" cy="500.9" r="4.5"/><circle cx="866.2" cy="581.7" r="4.5"/><circle cx="995.5" cy="598" r="4.5"/><circle cx="932.2" cy="561.3" r="4.5"/><circle cx="908.6" cy="589.9" r="4.5"/><circle cx="930.5" cy="582" r="4.5"/><circle cx="850.7" cy="509.5" r="4.5"/><circle cx="922.5" cy="517.5" r="4.5"/><circle cx="861.7" cy="532.8" r="4.5"/><circle cx="874.1" cy="501.6" r="4.5"/><circle cx="817.5" cy="519.5" r="4.5"/><circle cx="849.4" cy="571.1" r="4.5"/><circle cx="835.9" cy="579" r="4.5"/><circle cx="852.4" cy="557.9" r="4.5"/><circle cx="911.2" cy="518.3" r="4.5"/><circle cx="773.5" cy="545.5" r="4.5"/><circle cx="872.6" cy="514.1" r="4.5"/><circle cx="865.2" cy="589.2" r="4.5"/><circle cx="906.5" cy="594" r="4.5"/><circle cx="980.9" cy="523.6" r="4.5"/><circle cx="810" cy="529.5" r="4.5"/><circle cx="866.1" cy="564.2" r="4.5"/><circle cx="805.2" cy="507.5" r="4.5"/><circle cx="903.3" cy="525" r="4.5"/><circle cx="899.2" cy="534.9" r="4.5"/><circle cx="806.6" cy="588.1" r="4.5"/><circle cx="746.7" cy="544.6" r="4.5"/><circle cx="809.3" cy="591.5" r="4.5"/><circle cx="1001.8" cy="596.1" r="4.5"/><circle cx="857" cy="556.6" r="4.5"/><circle cx="859.1" cy="509.6" r="4.5"/><circle cx="765" cy="588.3" r="4.5"/><circle cx="907.2" cy="564.1" r="4.5"/><circle cx="825.8" cy="578.5" r="4.5"/><circle cx="835.7" cy="507" r="4.5"/><circle cx="750.2" cy="577.8" r="4.5"/><circle cx="788" cy="500.3" r="4.5"/><circle cx="858.9" cy="573.7" r="4.5"/><circle cx="893.8" cy="548.3" r="4.5"/><circle cx="771.6" cy="520.5" r="4.5"/><circle cx="884.2" cy="537" r="4.5"/><circle cx="737.8" cy="591.2" r="4.5"/><circle cx="843.8" cy="540.6" r="4.5"/><circle cx="922.5" cy="501.1" r="4.5"/><circle cx="826.2" cy="509.8" r="4.5"/><circle cx="916.3" cy="553.4" r="4.5"/><circle cx="975.3" cy="552" r="4.5"/><circle cx="988.3" cy="530.7" r="4.5"/><circle cx="771" cy="600" r="4.5"/><circle cx="806.3" cy="523.8" r="4.5"/><circle cx="850.6" cy="551.7" r="4.5"/><circle cx="867.3" cy="503.6" r="4.5"/><circle cx="848.4" cy="501.7" r="4.5"/><circle cx="864.2" cy="601.1" r="4.5"/><circle cx="1022.1" cy="548.8" r="4.5"/><circle cx="827.8" cy="581.4" r="4.5"/><circle cx="886.7" cy="556.5" r="4.5"/><circle cx="933.1" cy="501" r="4.5"/><circle cx="907.8" cy="510.6" r="4.5"/><circle cx="838.6" cy="590.2" r="4.5"/><circle cx="837.6" cy="562.7" r="4.5"/><circle cx="735.9" cy="562.4" r="4.5"/><circle cx="875.4" cy="524.1" r="4.5"/><circle cx="736.1" cy="595.9" r="4.5"/><circle cx="1027.3" cy="581.7" r="4.5"/><circle cx="769.4" cy="500" r="4.5"/><circle cx="877" cy="525.8" r="4.5"/><circle cx="779.6" cy="558.8" r="4.5"/><circle cx="815.6" cy="557.9" r="4.5"/><circle cx="874.1" cy="522.2" r="4.5"/><circle cx="864.3" cy="530.6" r="4.5"/><circle cx="872.5" cy="584.1" r="4.5"/><circle cx="899.4" cy="599" r="4.5"/><circle cx="770.8" cy="558.5" r="4.5"/><circle cx="892.6" cy="578.4" r="4.5"/><circle cx="945" cy="558.8" r="4.5"/><circle cx="821.9" cy="545.2" r="4.5"/><circle cx="807.7" cy="526.7" r="4.5"/><circle cx="808.4" cy="505" r="4.5"/><circle cx="729.2" cy="592.7" r="4.5"/><circle cx="951.5" cy="540.8" r="4.5"/><circle cx="801.9" cy="586.5" r="4.5"/><circle cx="821.1" cy="589.9" r="4.5"/><circle cx="946.5" cy="515" r="4.5"/><circle cx="1002" cy="565.6" r="4.5"/><circle cx="883.6" cy="508.6" r="4.5"/><circle cx="826.5" cy="588.4" r="4.5"/><circle cx="949.8" cy="582.6" r="4.5"/><circle cx="829.6" cy="542.3" r="4.5"/><circle cx="885.2" cy="526.9" r="4.5"/><circle cx="840.3" cy="555.4" r="4.5"/><circle cx="850.6" cy="522" r="4.5"/><circle cx="893.1" cy="601.4" r="4.5"/><circle cx="1013.1" cy="517.8" r="4.5"/><circle cx="951.9" cy="572.8" r="4.5"/><circle cx="764.5" cy="579.5" r="4.5"/><circle cx="1033.6" cy="546.1" r="4.5"/><circle cx="889.4" cy="534.3" r="4.5"/><circle cx="1035.8" cy="594.1" r="4.5"/><circle cx="845" cy="533.2" r="4.5"/><circle cx="1229.2" cy="541.1" r="4.5"/><circle cx="743.7" cy="543.8" r="4.5"/><circle cx="1188.9" cy="563.3" r="4.5"/><circle cx="846.5" cy="507.5" r="4.5"/><circle cx="851.1" cy="576.1" r="4.5"/><circle cx="837.3" cy="545.5" r="4.5"/><circle cx="879.6" cy="500.8" r="4.5"/><circle cx="865.3" cy="527.5" r="4.5"/><circle cx="790.8" cy="563.3" r="4.5"/><circle cx="778.9" cy="501.2" r="4.5"/><circle cx="1080.6" cy="578.4" r="4.5"/><circle cx="855.4" cy="583.8" r="4.5"/><circle cx="809.5" cy="501.4" r="4.5"/><circle cx="904.5" cy="528.5" r="4.5"/><circle cx="854.9" cy="543.3" r="4.5"/><circle cx="905.5" cy="568.3" r="4.5"/><circle cx="992.9" cy="532.1" r="4.5"/><circle cx="920" cy="519.6" r="4.5"/><circle cx="820.4" cy="589.4" r="4.5"/><circle cx="830.7" cy="577.8" r="4.5"/><circle cx="966.5" cy="586.7" r="4.5"/><circle cx="907.5" cy="532.5" r="4.5"/><circle cx="928.1" cy="502.2" r="4.5"/><circle cx="875.3" cy="505.7" r="4.5"/><circle cx="859" cy="588" r="4.5"/><circle cx="779.5" cy="502.4" r="4.5"/><circle cx="827.1" cy="528.8" r="4.5"/><circle cx="826" cy="590.1" r="4.5"/><circle cx="908.6" cy="589.9" r="4.5"/><circle cx="965.3" cy="549.8" r="4.5"/><circle cx="843.3" cy="505.5" r="4.5"/><circle cx="878.6" cy="534.5" r="4.5"/><circle cx="982.4" cy="585.1" r="4.5"/><circle cx="792" cy="526.5" r="4.5"/><circle cx="843" cy="569" r="4.5"/><circle cx="877.6" cy="599.9" r="4.5"/><circle cx="921.5" cy="514.5" r="4.5"/><circle cx="927.5" cy="586.3" r="4.5"/><circle cx="888.8" cy="501.5" r="4.5"/><circle cx="795.5" cy="542.1" r="4.5"/><circle cx="830.1" cy="544" r="4.5"/><circle cx="808.8" cy="511.5" r="4.5"/><circle cx="916.5" cy="523.6" r="4.5"/><circle cx="810.1" cy="545.5" r="4.5"/><circle cx="903" cy="516.7" r="4.5"/><circle cx="913.4" cy="559.8" r="4.5"/><circle cx="778.6" cy="516.2" r="4.5"/><circle cx="970.2" cy="533.7" r="4.5"/><circle cx="810.7" cy="594.3" r="4.5"/><circle cx="919.6" cy="503.1" r="4.5"/><circle cx="854.9" cy="582" r="4.5"/><circle cx="810.2" cy="595.5" r="4.5"/><circle cx="837.5" cy="539.1" r="4.5"/><circle cx="814.6" cy="557.7" r="4.5"/><circle cx="838.6" cy="541.9" r="4.5"/><circle cx="894.2" cy="531.5" r="4.5"/><circle cx="1027" cy="589.3" r="4.5"/><circle cx="976.8" cy="515.7" r="4.5"/><circle cx="859.5" cy="527.5" r="4.5"/><circle cx="803" cy="500.1" r="4.5"/><circle cx="807.3" cy="524" r="4.5"/><circle cx="920.5" cy="533.4" r="4.5"/><circle cx="886.7" cy="556.5" r="4.5"/><circle cx="834.9" cy="515.3" r="4.5"/><circle cx="889.8" cy="569" r="4.5"/><circle cx="913.8" cy="578" r="4.5"/><circle cx="937.9" cy="540" r="4.5"/><circle cx="883.3" cy="517.9" r="4.5"/><circle cx="871.3" cy="524.2" r="4.5"/><circle cx="820.6" cy="549" r="4.5"/><circle cx="896.6" cy="591.5" r="4.5"/><circle cx="769" cy="501.5" r="4.5"/><circle cx="779.7" cy="526" r="4.5"/><circle cx="807.6" cy="510.8" r="4.5"/><circle cx="903.2" cy="558.8" r="4.5"/><circle cx="833.7" cy="592.8" r="4.5"/><circle cx="897.8" cy="544.1" r="4.5"/><circle cx="821.8" cy="538.3" r="4.5"/><circle cx="867.7" cy="507.6" r="4.5"/><circle cx="832.6" cy="563.8" r="4.5"/><circle cx="780.1" cy="523" r="4.5"/><circle cx="904.3" cy="539.2" r="4.5"/><circle cx="986.8" cy="570.5" r="4.5"/><circle cx="773.7" cy="578.3" r="4.5"/><circle cx="906.8" cy="576.9" r="4.5"/><circle cx="890.5" cy="545.8" r="4.5"/><circle cx="890.4" cy="503.5" r="4.5"/><circle cx="952.4" cy="548.2" r="4.5"/><circle cx="907.4" cy="568.3" r="4.5"/><circle cx="931.9" cy="515.2" r="4.5"/><circle cx="915.5" cy="564" r="4.5"/><circle cx="788.1" cy="504.1" r="4.5"/><circle cx="904.2" cy="571.5" r="4.5"/><circle cx="840.5" cy="597.3" r="4.5"/><circle cx="830.7" cy="598.8" r="4.5"/><circle cx="838.6" cy="541.9" r="4.5"/><circle cx="989.8" cy="591.1" r="4.5"/><circle cx="868.8" cy="584.5" r="4.5"/><circle cx="899.1" cy="514" r="4.5"/><circle cx="908.1" cy="572.9" r="4.5"/><circle cx="854.9" cy="522.6" r="4.5"/><circle cx="1118.2" cy="595.9" r="4.5"/><circle cx="815.8" cy="505.4" r="4.5"/><circle cx="909.3" cy="588.3" r="4.5"/><circle cx="844.9" cy="548.5" r="4.5"/><circle cx="879.6" cy="534.8" r="4.5"/><circle cx="993.4" cy="529.4" r="4.5"/><circle cx="926.4" cy="577.3" r="4.5"/><circle cx="831.9" cy="508.4" r="4.5"/><circle cx="833.3" cy="576.3" r="4.5"/><circle cx="921.2" cy="510" r="4.5"/><circle cx="861.3" cy="557.2" r="4.5"/><circle cx="947.6" cy="521.8" r="4.5"/><circle cx="875.9" cy="532" r="4.5"/><circle cx="871.4" cy="531.4" r="4.5"/><circle cx="873" cy="520.9" r="4.5"/><circle cx="874.1" cy="522.2" r="4.5"/><circle cx="849.2" cy="526.9" r="4.5"/><circle cx="986.6" cy="597" r="4.5"/><circle cx="841.8" cy="540.3" r="4.5"/><circle cx="877.8" cy="537.6" r="4.5"/><circle cx="797.3" cy="503.9" r="4.5"/><circle cx="827.3" cy="503.6" r="4.5"/><circle cx="827.4" cy="552.4" r="4.5"/><circle cx="817.6" cy="553.2" r="4.5"/><circle cx="1064.3" cy="587.3" r="4.5"/><circle cx="1012.3" cy="597.1" r="4.5"/><circle cx="888.5" cy="557.6" r="4.5"/><circle cx="967.9" cy="509" r="4.5"/><circle cx="886" cy="597.2" r="4.5"/><circle cx="867.1" cy="592.2" r="4.5"/><circle cx="819.1" cy="502.3" r="4.5"/><circle cx="807.1" cy="507.1" r="4.5"/><circle cx="908.1" cy="527.3" r="4.5"/><circle cx="1103.2" cy="556.4" r="4.5"/><circle cx="1036.9" cy="534.6" r="4.5"/><circle cx="777.6" cy="590.5" r="4.5"/><circle cx="743.7" cy="595.6" r="4.5"/><circle cx="876.8" cy="595.5" r="4.5"/><circle cx="890.3" cy="582.7" r="4.5"/><circle cx="971.4" cy="598.6" r="4.5"/><circle cx="835.8" cy="598.9" r="4.5"/><circle cx="748.5" cy="531.5" r="4.5"/><circle cx="924.5" cy="508.5" r="4.5"/><circle cx="810.5" cy="507" r="4.5"/><circle cx="903.3" cy="596.2" r="4.5"/><circle cx="856" cy="535.4" r="4.5"/><circle cx="919.8" cy="571.2" r="4.5"/><circle cx="857.1" cy="551.9" r="4.5"/><circle cx="828.5" cy="598.5" r="4.5"/><circle cx="776.7" cy="538.5" r="4.5"/><circle cx="852.8" cy="499.8" r="4.5"/><circle cx="943" cy="544.6" r="4.5"/><circle cx="917.1" cy="588.5" r="4.5"/><circle cx="934.8" cy="571.4" r="4.5"/><circle cx="891.3" cy="518.4" r="4.5"/><circle cx="928.3" cy="515.9" r="4.5"/><circle cx="858.1" cy="507.9" r="4.5"/><circle cx="953.9" cy="566.7" r="4.5"/><circle cx="945.1" cy="549.6" r="4.5"/><circle cx="818.8" cy="518.5" r="4.5"/><circle cx="839.5" cy="511.7" r="4.5"/><circle cx="900.6" cy="545.5" r="4.5"/><circle cx="778.8" cy="500.6" r="4.5"/><circle cx="826.6" cy="506.5" r="4.5"/><circle cx="1022.2" cy="504" r="4.5"/><circle cx="937.5" cy="577.2" r="4.5"/><circle cx="824.5" cy="545.7" r="4.5"/><circle cx="858.8" cy="568.1" r="4.5"/><circle cx="859.4" cy="525.6" r="4.5"/><circle cx="792.6" cy="544.8" r="4.5"/><circle cx="822.7" cy="515.6" r="4.5"/><circle cx="810.1" cy="589.6" r="4.5"/><circle cx="1059.4" cy="569.2" r="4.5"/><circle cx="921.6" cy="555.9" r="4.5"/><circle cx="833.4" cy="500" r="4.5"/><circle cx="1106.5" cy="564.3" r="4.5"/><circle cx="1083.5" cy="561.1" r="4.5"/><circle cx="919.1" cy="524" r="4.5"/><circle cx="798.9" cy="500.7" r="4.5"/><circle cx="853.5" cy="585.3" r="4.5"/><circle cx="822.5" cy="531" r="4.5"/><circle cx="867.9" cy="590.6" r="4.5"/><circle cx="937.2" cy="510.6" r="4.5"/><circle cx="895.8" cy="565.5" r="4.5"/><circle cx="875.5" cy="578.4" r="4.5"/><circle cx="859" cy="535.6" r="4.5"/><circle cx="1178.7" cy="583.6" r="4.5"/><circle cx="933.6" cy="553.6" r="4.5"/><circle cx="814.9" cy="515.9" r="4.5"/><circle cx="967.7" cy="515.3" r="4.5"/><circle cx="924.4" cy="573.1" r="4.5"/><circle cx="958.3" cy="585.4" r="4.5"/><circle cx="1011.8" cy="543.7" r="4.5"/><circle cx="1136.2" cy="592.2" r="4.5"/><circle cx="862.7" cy="504.3" r="4.5"/><circle cx="796.6" cy="547.9" r="4.5"/><circle cx="787.3" cy="532.4" r="4.5"/><circle cx="908.2" cy="501.9" r="4.5"/><circle cx="811.2" cy="501.8" r="4.5"/><circle cx="848.6" cy="575" r="4.5"/><circle cx="931.2" cy="593" r="4.5"/><circle cx="893.8" cy="556.2" r="4.5"/><circle cx="820.8" cy="513.9" r="4.5"/><circle cx="864.3" cy="507" r="4.5"/><circle cx="874.8" cy="575" r="4.5"/><circle cx="798.4" cy="550.4" r="4.5"/><circle cx="899.1" cy="519.2" r="4.5"/><circle cx="729.3" cy="562.5" r="4.5"/><circle cx="795.6" cy="547.2" r="4.5"/><circle cx="927.5" cy="572" r="4.5"/><circle cx="816.3" cy="546.4" r="4.5"/><circle cx="862.3" cy="596.5" r="4.5"/><circle cx="976.2" cy="559.3" r="4.5"/><circle cx="1108.6" cy="557.1" r="4.5"/><circle cx="838.5" cy="586.9" r="4.5"/><circle cx="901.1" cy="544.2" r="4.5"/><circle cx="994.3" cy="532.9" r="4.5"/><circle cx="799.3" cy="535.6" r="4.5"/><circle cx="819.4" cy="582.7" r="4.5"/><circle cx="872.8" cy="548.3" r="4.5"/><circle cx="800.5" cy="547.3" r="4.5"/><circle cx="813.8" cy="571.5" r="4.5"/><circle cx="1050.6" cy="516.8" r="4.5"/><circle cx="871.9" cy="504.2" r="4.5"/><circle cx="868" cy="563.8" r="4.5"/><circle cx="892.3" cy="508.7" r="4.5"/><circle cx="886.8" cy="573.6" r="4.5"/><circle cx="772.3" cy="522.1" r="4.5"/><circle cx="815.3" cy="589.7" r="4.5"/><circle cx="879.5" cy="573.1" r="4.5"/><circle cx="802.9" cy="571.6" r="4.5"/><circle cx="892.1" cy="598" r="4.5"/><circle cx="1015.3" cy="554.4" r="4.5"/><circle cx="767.8" cy="566.3" r="4.5"/><circle cx="793.9" cy="575" r="4.5"/><circle cx="790.8" cy="501.7" r="4.5"/><circle cx="829.8" cy="570.9" r="4.5"/><circle cx="886.4" cy="537.5" r="4.5"/><circle cx="913.4" cy="521.3" r="4.5"/><circle cx="836.3" cy="593" r="4.5"/><circle cx="809.5" cy="506.7" r="4.5"/><circle cx="788.8" cy="536.7" r="4.5"/><circle cx="803.3" cy="501.8" r="4.5"/><circle cx="817.1" cy="585.6" r="4.5"/><circle cx="874.6" cy="509.7" r="4.5"/><circle cx="925.2" cy="584.3" r="4.5"/><circle cx="874.5" cy="565.9" r="4.5"/><circle cx="879.4" cy="500.9" r="4.5"/><circle cx="885.8" cy="556.6" r="4.5"/><circle cx="911.4" cy="566.9" r="4.5"/><circle cx="929.5" cy="599" r="4.5"/><circle cx="881.7" cy="502.8" r="4.5"/><circle cx="903.2" cy="576.7" r="4.5"/><circle cx="864.5" cy="534.1" r="4.5"/><circle cx="773.3" cy="514.7" r="4.5"/><circle cx="824" cy="597.1" r="4.5"/><circle cx="796.2" cy="500.2" r="4.5"/><circle cx="900" cy="540.7" r="4.5"/><circle cx="744.2" cy="503.5" r="4.5"/><circle cx="912.1" cy="521.4" r="4.5"/><circle cx="872" cy="555.8" r="4.5"/><circle cx="828.9" cy="592.3" r="4.5"/><circle cx="865.1" cy="511.8" r="4.5"/><circle cx="834.7" cy="513" r="4.5"/><circle cx="822.7" cy="563.4" r="4.5"/><circle cx="903.1" cy="527.6" r="4.5"/><circle cx="884.3" cy="541.8" r="4.5"/><circle cx="963.9" cy="571.9" r="4.5"/><circle cx="939.3" cy="509.6" r="4.5"/><circle cx="810.9" cy="592" r="4.5"/><circle cx="864.8" cy="532.8" r="4.5"/><circle cx="824.3" cy="570.6" r="4.5"/><circle cx="802.2" cy="545.7" r="4.5"/><circle cx="1006.2" cy="583.2" r="4.5"/><circle cx="885.1" cy="537.1" r="4.5"/><circle cx="862.9" cy="558" r="4.5"/><circle cx="938.6" cy="539.9" r="4.5"/><circle cx="832.2" cy="597" r="4.5"/><circle cx="933.4" cy="583.2" r="4.5"/><circle cx="818.9" cy="522.1" r="4.5"/><circle cx="787.4" cy="523.9" r="4.5"/><circle cx="911.1" cy="567.6" r="4.5"/><circle cx="910.3" cy="528.3" r="4.5"/><circle cx="861.7" cy="532.2" r="4.5"/><circle cx="939.4" cy="561.6" r="4.5"/><circle cx="848.4" cy="507.5" r="4.5"/><circle cx="750.5" cy="573.6" r="4.5"/><circle cx="828.5" cy="527.2" r="4.5"/><circle cx="785.6" cy="545.2" r="4.5"/><circle cx="917.8" cy="593.8" r="4.5"/><circle cx="1028.7" cy="591.6" r="4.5"/><circle cx="844.2" cy="598.1" r="4.5"/><circle cx="785.7" cy="518.5" r="4.5"/><circle cx="858.8" cy="506.9" r="4.5"/><circle cx="802.9" cy="557.3" r="4.5"/><circle cx="848.5" cy="574.9" r="4.5"/><circle cx="789.4" cy="504.7" r="4.5"/><circle cx="994.5" cy="590.2" r="4.5"/><circle cx="950.7" cy="504.8" r="4.5"/><circle cx="904.3" cy="516.5" r="4.5"/><circle cx="795.4" cy="529.2" r="4.5"/><circle cx="816.5" cy="556.4" r="4.5"/><circle cx="771.6" cy="548.2" r="4.5"/><circle cx="899.8" cy="569.3" r="4.5"/><circle cx="920" cy="553.4" r="4.5"/><circle cx="847.9" cy="555.5" r="4.5"/><circle cx="736.4" cy="563.1" r="4.5"/><circle cx="856.8" cy="526.3" r="4.5"/><circle cx="898.2" cy="551.2" r="4.5"/><circle cx="808.4" cy="533.3" r="4.5"/><circle cx="928.9" cy="527.4" r="4.5"/><circle cx="876.6" cy="598.6" r="4.5"/><circle cx="758.5" cy="576.8" r="4.5"/><circle cx="1062.5" cy="511.6" r="4.5"/><circle cx="854.9" cy="569" r="4.5"/><circle cx="777.8" cy="594.6" r="4.5"/><circle cx="850.4" cy="583.3" r="4.5"/><circle cx="825.3" cy="580.8" r="4.5"/><circle cx="840.7" cy="529.5" r="4.5"/><circle cx="901.8" cy="536" r="4.5"/><circle cx="1257.1" cy="576.3" r="4.5"/><circle cx="809" cy="537" r="4.5"/><circle cx="876.3" cy="501.8" r="4.5"/><circle cx="886.6" cy="534" r="4.5"/><circle cx="791" cy="558.1" r="4.5"/><circle cx="969.4" cy="601.3" r="4.5"/><circle cx="844.5" cy="538.2" r="4.5"/><circle cx="1001.4" cy="553.8" r="4.5"/><circle cx="789.8" cy="561.6" r="4.5"/><circle cx="866.2" cy="518.4" r="4.5"/><circle cx="839.3" cy="600.9" r="4.5"/><circle cx="884.7" cy="565.7" r="4.5"/><circle cx="940.9" cy="531" r="4.5"/><circle cx="924" cy="550.7" r="4.5"/><circle cx="935" cy="543.8" r="4.5"/><circle cx="958.7" cy="520.6" r="4.5"/><circle cx="771" cy="582.8" r="4.5"/><circle cx="914.4" cy="509" r="4.5"/><circle cx="869.7" cy="522.7" r="4.5"/><circle cx="779.5" cy="502.4" r="4.5"/><circle cx="934" cy="546.2" r="4.5"/><circle cx="1062.5" cy="511.6" r="4.5"/><circle cx="831.8" cy="583" r="4.5"/><circle cx="1128" cy="587.7" r="4.5"/><circle cx="871.8" cy="585.7" r="4.5"/><circle cx="917.5" cy="543.4" r="4.5"/><circle cx="1026.3" cy="513" r="4.5"/><circle cx="850.5" cy="563.2" r="4.5"/><circle cx="911.7" cy="539.7" r="4.5"/><circle cx="872" cy="504.7" r="4.5"/><circle cx="859.5" cy="502.9" r="4.5"/><circle cx="943" cy="597.4" r="4.5"/><circle cx="892.8" cy="510.2" r="4.5"/><circle cx="1019.4" cy="509.6" r="4.5"/><circle cx="988.3" cy="556.7" r="4.5"/><circle cx="1167.1" cy="580.5" r="4.5"/><circle cx="811.9" cy="554.1" r="4.5"/><circle cx="894.7" cy="527.4" r="4.5"/><circle cx="833.9" cy="519" r="4.5"/><circle cx="853.6" cy="572" r="4.5"/><circle cx="970.5" cy="547.6" r="4.5"/><circle cx="811.9" cy="559.7" r="4.5"/><circle cx="807.7" cy="514.6" r="4.5"/><circle cx="849.5" cy="566.5" r="4.5"/><circle cx="890" cy="585.3" r="4.5"/><circle cx="878.5" cy="600.6" r="4.5"/><circle cx="968.2" cy="556.7" r="4.5"/><circle cx="854.2" cy="503.4" r="4.5"/><circle cx="938.3" cy="566.6" r="4.5"/><circle cx="777.2" cy="548.9" r="4.5"/><circle cx="753.8" cy="534.4" r="4.5"/><circle cx="800.2" cy="552.9" r="4.5"/><circle cx="955.5" cy="564.8" r="4.5"/><circle cx="925.5" cy="549.6" r="4.5"/><circle cx="760.4" cy="518.3" r="4.5"/><circle cx="783" cy="568" r="4.5"/><circle cx="884.1" cy="555.7" r="4.5"/><circle cx="1165.2" cy="552.2" r="4.5"/><circle cx="1012.7" cy="513" r="4.5"/><circle cx="902.1" cy="527.8" r="4.5"/><circle cx="886.6" cy="501.5" r="4.5"/><circle cx="819.5" cy="586.6" r="4.5"/><circle cx="855.9" cy="564.1" r="4.5"/><circle cx="937.3" cy="575.4" r="4.5"/><circle cx="997.9" cy="581.5" r="4.5"/><circle cx="766.7" cy="543.1" r="4.5"/><circle cx="879.2" cy="545.9" r="4.5"/><circle cx="1011.7" cy="537.1" r="4.5"/><circle cx="931.2" cy="593" r="4.5"/><circle cx="810.9" cy="543.2" r="4.5"/><circle cx="817.1" cy="592.1" r="4.5"/><circle cx="865.9" cy="532" r="4.5"/><circle cx="745.3" cy="537.9" r="4.5"/><circle cx="795.8" cy="504.4" r="4.5"/><circle cx="928.1" cy="579" r="4.5"/><circle cx="758.2" cy="518" r="4.5"/><circle cx="843.4" cy="510.7" r="4.5"/><circle cx="915.5" cy="564" r="4.5"/><circle cx="825.2" cy="560" r="4.5"/><circle cx="875.4" cy="500.5" r="4.5"/><circle cx="829.1" cy="539.4" r="4.5"/><circle cx="879.2" cy="504.2" r="4.5"/><circle cx="822.6" cy="502.9" r="4.5"/><circle cx="839" cy="501" r="4.5"/><circle cx="887.2" cy="525.3" r="4.5"/><circle cx="982.4" cy="501" r="4.5"/><circle cx="886.3" cy="555" r="4.5"/><circle cx="945.4" cy="544.8" r="4.5"/><circle cx="880" cy="510.6" r="4.5"/><circle cx="859.1" cy="551.8" r="4.5"/><circle cx="944.5" cy="553.7" r="4.5"/><circle cx="837.1" cy="519.4" r="4.5"/><circle cx="814.3" cy="500.7" r="4.5"/><circle cx="893.2" cy="577.9" r="4.5"/><circle cx="867.8" cy="517.6" r="4.5"/><circle cx="790.7" cy="529.3" r="4.5"/><circle cx="1046.9" cy="568.8" r="4.5"/><circle cx="772.3" cy="549.9" r="4.5"/><circle cx="923.5" cy="598.1" r="4.5"/><circle cx="965.6" cy="507.2" r="4.5"/><circle cx="997.2" cy="565.8" r="4.5"/><circle cx="752.7" cy="499.9" r="4.5"/><circle cx="986.5" cy="527.3" r="4.5"/><circle cx="833.6" cy="516.8" r="4.5"/><circle cx="1043.6" cy="570.8" r="4.5"/><circle cx="944.2" cy="534.9" r="4.5"/><circle cx="794.1" cy="513.5" r="4.5"/><circle cx="763.3" cy="565" r="4.5"/><circle cx="914.1" cy="540.2" r="4.5"/><circle cx="910.5" cy="527.6" r="4.5"/><circle cx="853.3" cy="540" r="4.5"/><circle cx="876.6" cy="549.3" r="4.5"/><circle cx="832.4" cy="500.2" r="4.5"/><circle cx="990.5" cy="569" r="4.5"/><circle cx="754.2" cy="515" r="4.5"/><circle cx="879.5" cy="544.4" r="4.5"/><circle cx="987.7" cy="579.1" r="4.5"/><circle cx="776.6" cy="570.7" r="4.5"/><circle cx="790.3" cy="518.8" r="4.5"/><circle cx="930.1" cy="533.9" r="4.5"/><circle cx="802.1" cy="554" r="4.5"/><circle cx="863" cy="573.4" r="4.5"/><circle cx="791" cy="561.3" r="4.5"/><circle cx="895" cy="506.2" r="4.5"/><circle cx="776.5" cy="584.1" r="4.5"/><circle cx="901.7" cy="548.7" r="4.5"/><circle cx="872.5" cy="600.3" r="4.5"/><circle cx="922.5" cy="578.1" r="4.5"/><circle cx="902.8" cy="520.3" r="4.5"/><circle cx="747.2" cy="575.2" r="4.5"/><circle cx="756.2" cy="588.5" r="4.5"/><circle cx="920.1" cy="536.4" r="4.5"/><circle cx="808.4" cy="533.3" r="4.5"/><circle cx="888.9" cy="601" r="4.5"/><circle cx="917.5" cy="502.3" r="4.5"/><circle cx="878.5" cy="551.5" r="4.5"/><circle cx="813.3" cy="552.5" r="4.5"/><circle cx="840.1" cy="500.5" r="4.5"/><circle cx="879.4" cy="548.2" r="4.5"/><circle cx="742.5" cy="554.3" r="4.5"/><circle cx="857.6" cy="502.5" r="4.5"/><circle cx="902.9" cy="502.3" r="4.5"/><circle cx="995" cy="529.6" r="4.5"/><circle cx="885.2" cy="588.3" r="4.5"/><circle cx="992.5" cy="509" r="4.5"/><circle cx="822.2" cy="539.5" r="4.5"/><circle cx="894.9" cy="526" r="4.5"/><circle cx="814.3" cy="543.5" r="4.5"/><circle cx="923.6" cy="585.5" r="4.5"/><circle cx="868.5" cy="568.1" r="4.5"/><circle cx="787.7" cy="563.4" r="4.5"/><circle cx="882.3" cy="515" r="4.5"/><circle cx="755.3" cy="600.9" r="4.5"/><circle cx="820.2" cy="573.9" r="4.5"/><circle cx="817.1" cy="500.7" r="4.5"/><circle cx="766.9" cy="501.4" r="4.5"/><circle cx="863.4" cy="561.8" r="4.5"/><circle cx="803" cy="573.5" r="4.5"/><circle cx="737.2" cy="534.2" r="4.5"/><circle cx="871.4" cy="526.7" r="4.5"/><circle cx="938.6" cy="583.5" r="4.5"/><circle cx="940.7" cy="534.2" r="4.5"/><circle cx="867.7" cy="562.8" r="4.5"/><circle cx="815.1" cy="530.2" r="4.5"/><circle cx="1128.6" cy="580.2" r="4.5"/><circle cx="817.8" cy="529" r="4.5"/><circle cx="872.7" cy="514.5" r="4.5"/><circle cx="936.4" cy="551.3" r="4.5"/><circle cx="901.4" cy="552.2" r="4.5"/><circle cx="874.5" cy="585.9" r="4.5"/><circle cx="806.2" cy="525.4" r="4.5"/><circle cx="800.2" cy="500.8" r="4.5"/><circle cx="889.9" cy="516.4" r="4.5"/><circle cx="743.3" cy="574.1" r="4.5"/><circle cx="926" cy="527.9" r="4.5"/><circle cx="826.8" cy="540.9" r="4.5"/><circle cx="937.6" cy="503.3" r="4.5"/><circle cx="756.5" cy="549.4" r="4.5"/><circle cx="875.2" cy="599.2" r="4.5"/><circle cx="1084" cy="558.8" r="4.5"/><circle cx="869.1" cy="576.4" r="4.5"/><circle cx="839.2" cy="542.7" r="4.5"/><circle cx="780.7" cy="561" r="4.5"/><circle cx="874.9" cy="512" r="4.5"/><circle cx="764.5" cy="579.5" r="4.5"/><circle cx="898.4" cy="536.8" r="4.5"/><circle cx="759.1" cy="525.2" r="4.5"/><circle cx="867.4" cy="506.7" r="4.5"/><circle cx="858.6" cy="500.5" r="4.5"/><circle cx="908" cy="579.4" r="4.5"/><circle cx="983.5" cy="564.1" r="4.5"/><circle cx="820.9" cy="500.5" r="4.5"/><circle cx="834.7" cy="555.5" r="4.5"/><circle cx="843.6" cy="502.8" r="4.5"/><circle cx="774.8" cy="571.1" r="4.5"/><circle cx="930.5" cy="526.5" r="4.5"/><circle cx="976.9" cy="590.1" r="4.5"/><circle cx="748.9" cy="575.3" r="4.5"/><circle cx="872" cy="550.2" r="4.5"/><circle cx="914.6" cy="516.9" r="4.5"/><circle cx="900.6" cy="545.5" r="4.5"/><circle cx="923.9" cy="507.4" r="4.5"/><circle cx="875.3" cy="551.7" r="4.5"/><circle cx="843.6" cy="505.1" r="4.5"/><circle cx="865.7" cy="548.4" r="4.5"/><circle cx="858.9" cy="571.8" r="4.5"/><circle cx="935.4" cy="583.2" r="4.5"/><circle cx="835.7" cy="561" r="4.5"/><circle cx="751.2" cy="543.6" r="4.5"/><circle cx="810.5" cy="570.6" r="4.5"/><circle cx="806.8" cy="537.5" r="4.5"/><circle cx="1181.2" cy="547.5" r="4.5"/><circle cx="788.5" cy="511" r="4.5"/><circle cx="926.2" cy="539.2" r="4.5"/><circle cx="903.6" cy="524.4" r="4.5"/><circle cx="870.1" cy="500.8" r="4.5"/><circle cx="884.8" cy="525.4" r="4.5"/><circle cx="897.2" cy="540.7" r="4.5"/><circle cx="832" cy="535.3" r="4.5"/><circle cx="1047.1" cy="536.2" r="4.5"/><circle cx="1271" cy="574" r="4.5"/><circle cx="905.1" cy="553.8" r="4.5"/><circle cx="814.6" cy="572" r="4.5"/><circle cx="898.9" cy="544.8" r="4.5"/><circle cx="814.7" cy="502.1" r="4.5"/><circle cx="910.7" cy="530.7" r="4.5"/><circle cx="864.2" cy="601.1" r="4.5"/><circle cx="882.6" cy="598.5" r="4.5"/><circle cx="917.1" cy="590.7" r="4.5"/><circle cx="1072.9" cy="523.3" r="4.5"/><circle cx="912.8" cy="566" r="4.5"/><circle cx="876" cy="574.7" r="4.5"/><circle cx="789.6" cy="516.7" r="4.5"/><circle cx="828.2" cy="572" r="4.5"/><circle cx="911.3" cy="554.4" r="4.5"/><circle cx="946.7" cy="515.6" r="4.5"/><circle cx="874.9" cy="601.2" r="4.5"/><circle cx="915.3" cy="543.1" r="4.5"/><circle cx="902.1" cy="586.3" r="4.5"/><circle cx="758.9" cy="593.2" r="4.5"/><circle cx="962.5" cy="522.4" r="4.5"/><circle cx="832.9" cy="584.2" r="4.5"/><circle cx="760.4" cy="555.2" r="4.5"/><circle cx="859.8" cy="548.6" r="4.5"/><circle cx="895.3" cy="549.7" r="4.5"/><circle cx="793.6" cy="500.9" r="4.5"/><circle cx="961.8" cy="506.2" r="4.5"/><circle cx="847.9" cy="507.6" r="4.5"/><circle cx="978.4" cy="557.4" r="4.5"/><circle cx="816.5" cy="591.6" r="4.5"/><circle cx="835.3" cy="530.3" r="4.5"/><circle cx="798.3" cy="524.3" r="4.5"/><circle cx="801.4" cy="501.3" r="4.5"/><circle cx="809.1" cy="540.5" r="4.5"/><circle cx="827.8" cy="569.6" r="4.5"/><circle cx="862.7" cy="530.6" r="4.5"/><circle cx="790" cy="582.7" r="4.5"/><circle cx="872" cy="576" r="4.5"/><circle cx="897.7" cy="516.3" r="4.5"/><circle cx="775.7" cy="505.2" r="4.5"/><circle cx="765.4" cy="534.7" r="4.5"/><circle cx="800.6" cy="535.8" r="4.5"/><circle cx="813" cy="534.7" r="4.5"/><circle cx="907.9" cy="507.4" r="4.5"/><circle cx="930" cy="553.5" r="4.5"/><circle cx="862.9" cy="546.1" r="4.5"/><circle cx="756.6" cy="571" r="4.5"/><circle cx="830.2" cy="587.3" r="4.5"/><circle cx="962.2" cy="510.6" r="4.5"/><circle cx="738.2" cy="500.7" r="4.5"/><circle cx="848.4" cy="543.3" r="4.5"/><circle cx="808.7" cy="509.1" r="4.5"/><circle cx="749.9" cy="535.2" r="4.5"/><circle cx="873.6" cy="578.2" r="4.5"/><circle cx="840" cy="574.6" r="4.5"/><circle cx="996.8" cy="536" r="4.5"/><circle cx="841.2" cy="590.6" r="4.5"/><circle cx="800" cy="569" r="4.5"/><circle cx="946.8" cy="539" r="4.5"/><circle cx="764.4" cy="517" r="4.5"/><circle cx="801.6" cy="563.3" r="4.5"/><circle cx="903.9" cy="588.2" r="4.5"/><circle cx="942" cy="546.9" r="4.5"/><circle cx="956.3" cy="592.3" r="4.5"/><circle cx="1087.3" cy="588.5" r="4.5"/><circle cx="876.3" cy="501.8" r="4.5"/><circle cx="799.3" cy="521" r="4.5"/><circle cx="784.2" cy="559.8" r="4.5"/><circle cx="878.9" cy="524.9" r="4.5"/><circle cx="864" cy="556.5" r="4.5"/><circle cx="777.1" cy="570" r="4.5"/><circle cx="860.2" cy="595" r="4.5"/><circle cx="823.6" cy="566.3" r="4.5"/><circle cx="872.1" cy="582.5" r="4.5"/><circle cx="773" cy="588.5" r="4.5"/><circle cx="899.2" cy="515.6" r="4.5"/><circle cx="941.7" cy="521.7" r="4.5"/><circle cx="827.7" cy="508" r="4.5"/><circle cx="857.9" cy="533.6" r="4.5"/><circle cx="808.5" cy="532.7" r="4.5"/><circle cx="853" cy="512" r="4.5"/><circle cx="886.3" cy="519.5" r="4.5"/><circle cx="1005.2" cy="579.4" r="4.5"/><circle cx="1087.2" cy="517.9" r="4.5"/><circle cx="777.2" cy="546.5" r="4.5"/><circle cx="838" cy="580.7" r="4.5"/><circle cx="933.4" cy="528.3" r="4.5"/><circle cx="1103.8" cy="543.6" r="4.5"/><circle cx="866.2" cy="516.7" r="4.5"/><circle cx="862.5" cy="506.6" r="4.5"/><circle cx="892.7" cy="570.3" r="4.5"/><circle cx="812.9" cy="516" r="4.5"/><circle cx="798.6" cy="517.1" r="4.5"/><circle cx="1008.9" cy="558" r="4.5"/><circle cx="976.8" cy="583.1" r="4.5"/><circle cx="821.4" cy="592.9" r="4.5"/><circle cx="988.7" cy="553.6" r="4.5"/><circle cx="854.5" cy="513.9" r="4.5"/><circle cx="782.4" cy="581" r="4.5"/><circle cx="862.7" cy="538" r="4.5"/><circle cx="813.6" cy="586.6" r="4.5"/><circle cx="876.6" cy="527.3" r="4.5"/><circle cx="817.3" cy="578" r="4.5"/><circle cx="799.1" cy="508.4" r="4.5"/><circle cx="892.7" cy="540.4" r="4.5"/><circle cx="803.1" cy="597.4" r="4.5"/><circle cx="851.8" cy="574.3" r="4.5"/><circle cx="756.9" cy="533.4" r="4.5"/><circle cx="919" cy="556.6" r="4.5"/><circle cx="884.6" cy="573.8" r="4.5"/><circle cx="907.3" cy="583" r="4.5"/><circle cx="865.7" cy="548.7" r="4.5"/><circle cx="843.2" cy="573.2" r="4.5"/><circle cx="847.6" cy="504.7" r="4.5"/><circle cx="793.6" cy="540.3" r="4.5"/><circle cx="853" cy="509.5" r="4.5"/><circle cx="848.1" cy="550" r="4.5"/><circle cx="958.3" cy="537" r="4.5"/><circle cx="809" cy="529.3" r="4.5"/><circle cx="951.4" cy="514.4" r="4.5"/><circle cx="816.4" cy="548.6" r="4.5"/><circle cx="874" cy="601.5" r="4.5"/><circle cx="836.8" cy="529.8" r="4.5"/><circle cx="924.8" cy="518.4" r="4.5"/><circle cx="863.4" cy="564.8" r="4.5"/><circle cx="981.4" cy="560.1" r="4.5"/><circle cx="850.8" cy="517.5" r="4.5"/><circle cx="948.8" cy="555.6" r="4.5"/><circle cx="900.6" cy="519.1" r="4.5"/><circle cx="1136.7" cy="597.1" r="4.5"/><circle cx="913.3" cy="534.5" r="4.5"/><circle cx="1056.3" cy="525.9" r="4.5"/><circle cx="894.1" cy="528.2" r="4.5"/><circle cx="803.5" cy="579.6" r="4.5"/><circle cx="917.1" cy="581.2" r="4.5"/><circle cx="784.2" cy="535.8" r="4.5"/><circle cx="858" cy="570.1" r="4.5"/><circle cx="858" cy="517.1" r="4.5"/><circle cx="821.4" cy="570" r="4.5"/><circle cx="926.8" cy="541.4" r="4.5"/><circle cx="769.4" cy="500" r="4.5"/><circle cx="798.8" cy="585" r="4.5"/><circle cx="911.6" cy="575.5" r="4.5"/><circle cx="905.2" cy="521.4" r="4.5"/><circle cx="812" cy="524.7" r="4.5"/><circle cx="767.6" cy="500.1" r="4.5"/><circle cx="876" cy="521.1" r="4.5"/><circle cx="762.8" cy="553.8" r="4.5"/><circle cx="786.7" cy="516.6" r="4.5"/><circle cx="1094.6" cy="558.1" r="4.5"/><circle cx="762.9" cy="503.8" r="4.5"/><circle cx="913.6" cy="537.9" r="4.5"/><circle cx="983.2" cy="561.6" r="4.5"/><circle cx="927.4" cy="501.3" r="4.5"/><circle cx="799.2" cy="590.3" r="4.5"/><circle cx="751.2" cy="573.3" r="4.5"/><circle cx="814.8" cy="556.4" r="4.5"/><circle cx="866.3" cy="562.4" r="4.5"/><circle cx="851.1" cy="576.1" r="4.5"/><circle cx="1027.3" cy="581.7" r="4.5"/><circle cx="845.4" cy="570" r="4.5"/><circle cx="1063.2" cy="534.6" r="4.5"/><circle cx="932" cy="523" r="4.5"/><circle cx="903.6" cy="507.6" r="4.5"/><circle cx="950.8" cy="574.6" r="4.5"/><circle cx="825.6" cy="598.6" r="4.5"/><circle cx="814.5" cy="523.7" r="4.5"/><circle cx="862.9" cy="512" r="4.5"/><circle cx="890.4" cy="569.5" r="4.5"/><circle cx="861.3" cy="546.5" r="4.5"/><circle cx="806" cy="547.4" r="4.5"/><circle cx="753.4" cy="551.8" r="4.5"/><circle cx="824.7" cy="518" r="4.5"/><circle cx="868.8" cy="579.5" r="4.5"/><circle cx="844" cy="583.2" r="4.5"/><circle cx="1008.1" cy="517.1" r="4.5"/><circle cx="821.8" cy="546.2" r="4.5"/>
</g>
</g>
<path d="M731.9 550.4 L738.7 550.5 L745.6 550.7 L752.4 550.8 L759.2 550.9 L766.0 551.1 L772.9 551.3 L779.7 551.4 L786.5 551.6 L793.4 551.8 L800.2 552.0 L807.0 552.2 L813.8 552.4 L820.7 552.6 L827.5 552.8 L834.3 553.1 L841.2 553.3 L848.0 553.5 L854.8 553.8 L861.7 554.1 L868.5 554.3 L875.3 554.6 L882.1 554.9 L889.0 555.2 L895.8 555.5 L902.6 555.8 L909.5 556.1 L916.3 556.4 L923.1 556.7 L929.9 557.0 L936.8 557.3 L943.6 557.7 L950.4 558.0 L957.3 558.4 L964.1 558.7 L970.9 559.1 L977.7 559.5 L984.6 559.8 L991.4 560.2 L998.2 560.6 L1005.1 561.0 L1011.9 561.4 L1018.7 561.8 L1025.6 562.2 L1032.4 562.6 L1039.2 563.0 L1046.0 563.4 L1052.9 563.8 L1059.7 564.3 L1066.5 564.7 L1073.4 565.1 L1080.2 565.6 L1087.0 566.0 L1093.8 566.5 L1100.7 566.9 L1107.5 567.4 L1114.3 567.8 L1121.2 568.3 L1128.0 568.8 L1134.8 569.2 L1141.6 569.7 L1148.5 570.2 L1155.3 570.7 L1162.1 571.2 L1169.0 571.7 L1175.8 572.2 L1182.6 572.7 L1189.5 573.2 L1196.3 573.7 L1203.1 574.2 L1209.9 574.7 L1216.8 575.2 L1223.6 575.7 L1230.4 576.2 L1237.3 576.8 L1244.1 577.3 L1250.9 577.8 L1257.7 578.3 L1264.6 578.9 L1271.4 579.4" stroke="#1B9E77" stroke-width="5.3" fill="none"/>
<path d="M727.0 726.0 L732.7 726.5 L738.5 726.8 L744.2 727.0 L749.9 727.2 L755.7 727.3 L761.4 727.3 L767.2 727.2 L772.9 727.0 L778.6 726.8 L784.4 726.5 L790.1 726.1 L795.8 725.6 L801.6 725.0 L807.3 724.4 L813.1 723.6 L818.8 722.8 L824.5 722.0 L830.3 721.0 L836.0 720.0 L841.7 718.9 L847.5 717.7 L853.2 716.4 L858.9 715.1 L864.7 713.7 L870.4 712.2 L876.2 710.6 L881.9 709.0 L887.6 707.3 L893.4 705.5 L899.1 703.6 L904.8 701.7 L910.6 699.7 L916.3 697.6 L922.0 695.5 L927.8 693.3 L933.5 691.0 L939.3 688.6 L945.0 686.2 L950.7 683.7 L956.5 681.1 L962.2 678.4 L967.9 675.7 L973.7 672.9 L979.4 670.1 L985.2 667.1 L990.9 664.1 L996.6 661.1 L1002.4 658.0 L1008.1 654.8 L1013.8 651.5 L1019.6 648.2 L1025.3 644.8 L1031.0 641.3 L1036.8 637.8 L1042.5 634.2 L1048.3 630.5 L1054.0 626.8 L1059.7 623.0 L1065.5 619.2 L1071.2 615.2 L1076.9 611.3 L1082.7 607.2 L1088.4 603.1 L1094.1 598.9 L1099.9 594.7 L1105.6 590.4 L1111.4 586.1 L1117.1 581.6 L1122.8 577.2 L1128.6 572.6 L1134.3 568.0 L1140.0 563.4 L1145.8 558.6 L1151.5 553.9 L1157.3 549.0 L1163.0 544.1 L1168.7 539.2 L1174.5 534.2 L1180.2 529.1" stroke="#D95F02" stroke-width="5.3" fill="none"/>
<rect x="700.0" y="482.4" width="598.8" height="379.3" fill="none" stroke="#333" stroke-width="1.6"/>
<rect x="700.0" y="442.6" width="598.8" height="39.8" fill="#D9D9D9" stroke="#333" stroke-width="1.6"/>
<path d="M699.1 482.6H1299.6" stroke="#333" stroke-width="2.4"/>
<text x="999.4" y="470.1" font-size="21.8" fill="#1A1A1A" text-anchor="middle">South</text>
<text x="74.7" y="418.8" font-size="21.0" fill="#4D4D4D" text-anchor="end">0</text>
<text x="74.7" y="332.6" font-size="21.0" fill="#4D4D4D" text-anchor="end">25</text>
<text x="74.7" y="246.4" font-size="21.0" fill="#4D4D4D" text-anchor="end">50</text>
<text x="74.7" y="160.1" font-size="21.0" fill="#4D4D4D" text-anchor="end">75</text>
<text x="74.7" y="73.9" font-size="21.0" fill="#4D4D4D" text-anchor="end">100</text>
<path d="M80.1 411.30H86.9M80.1 325.08H86.9M80.1 238.85H86.9M80.1 152.62H86.9M80.1 66.40H86.9" stroke="#333" stroke-width="1.7" fill="none"/>
<text x="74.7" y="852.2" font-size="21.0" fill="#4D4D4D" text-anchor="end">0</text>
<text x="74.7" y="766.0" font-size="21.0" fill="#4D4D4D" text-anchor="end">25</text>
<text x="74.7" y="679.8" font-size="21.0" fill="#4D4D4D" text-anchor="end">50</text>
<text x="74.7" y="593.5" font-size="21.0" fill="#4D4D4D" text-anchor="end">75</text>
<text x="74.7" y="507.3" font-size="21.0" fill="#4D4D4D" text-anchor="end">100</text>
<path d="M80.1 844.70H86.9M80.1 758.48H86.9M80.1 672.25H86.9M80.1 586.03H86.9M80.1 499.80H86.9" stroke="#333" stroke-width="1.7" fill="none"/>
<text x="111.5" y="888.9" font-size="21.0" fill="#4D4D4D" text-anchor="middle">0</text>
<text x="256.5" y="888.9" font-size="21.0" fill="#4D4D4D" text-anchor="middle">30</text>
<text x="401.5" y="888.9" font-size="21.0" fill="#4D4D4D" text-anchor="middle">60</text>
<text x="546.5" y="888.9" font-size="21.0" fill="#4D4D4D" text-anchor="middle">90</text>
<path d="M111.50 861.7V868.5M256.49 861.7V868.5M401.48 861.7V868.5M546.47 861.7V868.5" stroke="#333" stroke-width="1.7" fill="none"/>
<text x="724.9" y="888.9" font-size="21.0" fill="#4D4D4D" text-anchor="middle">0</text>
<text x="869.9" y="888.9" font-size="21.0" fill="#4D4D4D" text-anchor="middle">30</text>
<text x="1014.9" y="888.9" font-size="21.0" fill="#4D4D4D" text-anchor="middle">60</text>
<text x="1159.9" y="888.9" font-size="21.0" fill="#4D4D4D" text-anchor="middle">90</text>
<path d="M724.90 861.7V868.5M869.89 861.7V868.5M1014.88 861.7V868.5M1159.87 861.7V868.5" stroke="#333" stroke-width="1.7" fill="none"/>
<text x="520" y="925.3" font-size="26.6" fill="#000">Previous basal area (m<tspan dy="-12.5" font-size="18.2">2</tspan><tspan dy="12.5" dx="0.6">ha</tspan><tspan dy="-12.5" dx="0.6" font-size="18.2">−1</tspan><tspan dy="12.5" dx="1.5">)</tspan></text>
<text transform="translate(27.4 598.3) rotate(-90)" font-size="26.6" fill="#000">Basal area removed (%)</text>
<text x="1338.3" y="416.7" font-size="26.6" fill="#000">Harvest type</text>
<g class="pg"><circle cx="1359.6" cy="453.4" r="4.5"/></g><g class="po"><circle cx="1359.6" cy="495" r="4.5"/></g>
<path d="M1343 453.4H1376.4" stroke="#1B9E77" stroke-width="5"/>
<path d="M1343 495H1376.4" stroke="#D95F02" stroke-width="5"/>
<text x="1393.5" y="460.7" font-size="21.3" fill="#000">Clearcut</text>
<text x="1393.5" y="502.1" font-size="21.3" fill="#000">Partial harvest</text>
</svg></body></html>
